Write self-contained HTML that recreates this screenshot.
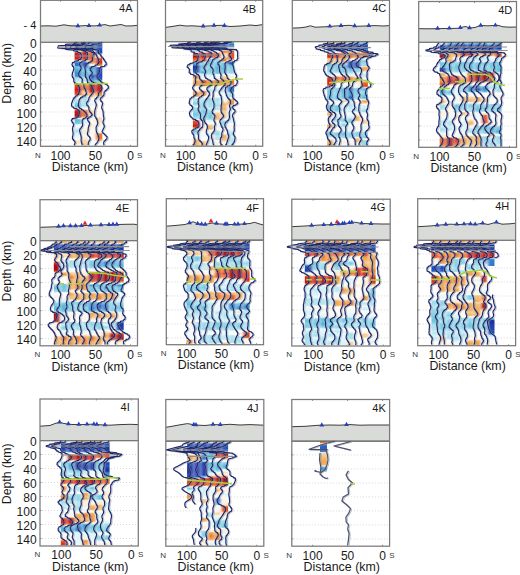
<!DOCTYPE html>
<html><head><meta charset="utf-8"><style>
html,body{margin:0;padding:0;background:#fff;}
svg{display:block;}
text{font-family:"Liberation Sans", sans-serif;fill:#1a1a1a;}
.ns{fill:#3a3a3a}
.wu{fill:none;stroke:#c3cdf0;stroke-width:18;stroke-linejoin:round;opacity:.4}
.wg{fill:none;stroke:#7d8296;stroke-width:7;opacity:.7}
.wl{fill:none;stroke:#1f2866;stroke-width:11.5;stroke-linejoin:round}
</style></head><body>
<svg width="520" height="575" viewBox="0 0 520 575">
<defs>
<filter id="hb" x="-10%" y="-2%" width="120%" height="104%"><feGaussianBlur stdDeviation="1.0 0.7"/></filter>
<linearGradient id="gp0_0" x1="0" y1="0" x2="0" y2="1"><stop offset=".000" stop-color="#fae4c0"/><stop offset=".007" stop-color="#f7d19b"/><stop offset=".013" stop-color="#fceed8"/><stop offset=".020" stop-color="#a4ddeb"/><stop offset=".027" stop-color="#3384d0"/><stop offset=".033" stop-color="#2b65c5"/><stop offset=".067" stop-color="#2b65c5"/><stop offset=".073" stop-color="#3788d1"/><stop offset=".080" stop-color="#9edbe9"/><stop offset=".087" stop-color="#fcfefe"/><stop offset=".093" stop-color="#f3b365"/><stop offset=".100" stop-color="#e84f24"/><stop offset=".107" stop-color="#dc231e"/><stop offset=".120" stop-color="#c81c1a"/><stop offset=".127" stop-color="#a81015"/><stop offset=".140" stop-color="#ae1216"/><stop offset=".147" stop-color="#d21f1c"/><stop offset=".160" stop-color="#dc231e"/><stop offset=".167" stop-color="#e84f24"/><stop offset=".173" stop-color="#f4bb71"/><stop offset=".180" stop-color="#f9fdfe"/><stop offset=".187" stop-color="#aae0ed"/><stop offset=".193" stop-color="#4da6d7"/><stop offset=".200" stop-color="#2f77cc"/><stop offset=".220" stop-color="#2d6fc9"/><stop offset=".227" stop-color="#3586d1"/><stop offset=".233" stop-color="#5fbcdb"/><stop offset=".240" stop-color="#76cae0"/><stop offset=".267" stop-color="#55afd8"/><stop offset=".300" stop-color="#3a8dd2"/><stop offset=".327" stop-color="#3d90d3"/><stop offset=".333" stop-color="#63c2dc"/><stop offset=".340" stop-color="#9bdae9"/><stop offset=".360" stop-color="#bfe9f2"/><stop offset=".380" stop-color="#c9edf5"/><stop offset=".387" stop-color="#e1f5f9"/><stop offset=".393" stop-color="#fcebd1"/><stop offset=".400" stop-color="#f0963e"/><stop offset=".407" stop-color="#e54723"/><stop offset=".433" stop-color="#e03120"/><stop offset=".447" stop-color="#da221e"/><stop offset=".453" stop-color="#c41a1a"/><stop offset=".473" stop-color="#e03120"/><stop offset=".493" stop-color="#e33d21"/><stop offset=".500" stop-color="#ec6328"/><stop offset=".507" stop-color="#f3b76b"/><stop offset=".513" stop-color="#fae4c0"/><stop offset=".520" stop-color="#fef8ef"/><stop offset=".547" stop-color="#c5ebf4"/><stop offset=".573" stop-color="#abe0ed"/><stop offset=".587" stop-color="#86d0e3"/><stop offset=".613" stop-color="#66c4dd"/><stop offset=".620" stop-color="#7dcde2"/><stop offset=".627" stop-color="#b8e6f0"/><stop offset=".633" stop-color="#fcecd3"/><stop offset=".640" stop-color="#f2ad5a"/><stop offset=".647" stop-color="#e85124"/><stop offset=".660" stop-color="#d4201d"/><stop offset=".667" stop-color="#b61517"/><stop offset=".700" stop-color="#b01316"/><stop offset=".713" stop-color="#cf1e1c"/><stop offset=".720" stop-color="#ed6f2d"/><stop offset=".727" stop-color="#ebf8fb"/><stop offset=".733" stop-color="#82cfe3"/><stop offset=".747" stop-color="#61bfdb"/><stop offset=".773" stop-color="#76cae0"/><stop offset=".780" stop-color="#9edbea"/><stop offset=".787" stop-color="#e2f5f9"/><stop offset=".800" stop-color="#fcfefe"/><stop offset=".820" stop-color="#dbf3f8"/><stop offset=".847" stop-color="#abe0ed"/><stop offset=".873" stop-color="#d9f2f8"/><stop offset=".920" stop-color="#f3fbfd"/><stop offset=".927" stop-color="#fffefd"/><stop offset=".940" stop-color="#fae5c2"/><stop offset=".960" stop-color="#fae4c1"/><stop offset=".987" stop-color="#f4fbfd"/><stop offset="1" stop-color="#dbf3f8"/></linearGradient>
<linearGradient id="gp0_1" x1="0" y1="0" x2="0" y2="1"><stop offset=".000" stop-color="#f9ddb1"/><stop offset=".007" stop-color="#f8d8a8"/><stop offset=".013" stop-color="#fbe9cb"/><stop offset=".020" stop-color="#b7e5f0"/><stop offset=".027" stop-color="#3384d0"/><stop offset=".033" stop-color="#2b65c5"/><stop offset=".067" stop-color="#2d6dc8"/><stop offset=".073" stop-color="#469bd5"/><stop offset=".080" stop-color="#aae0ec"/><stop offset=".087" stop-color="#fef7ed"/><stop offset=".093" stop-color="#f1a44b"/><stop offset=".100" stop-color="#d6211d"/><stop offset=".107" stop-color="#a50f14"/><stop offset=".120" stop-color="#d21f1c"/><stop offset=".160" stop-color="#dc231e"/><stop offset=".167" stop-color="#e84f24"/><stop offset=".173" stop-color="#f2b261"/><stop offset=".180" stop-color="#feffff"/><stop offset=".187" stop-color="#aee1ee"/><stop offset=".193" stop-color="#3e91d3"/><stop offset=".200" stop-color="#254ebc"/><stop offset=".220" stop-color="#2141b2"/><stop offset=".247" stop-color="#53add8"/><stop offset=".260" stop-color="#70c8df"/><stop offset=".280" stop-color="#6bc6de"/><stop offset=".293" stop-color="#53acd8"/><stop offset=".327" stop-color="#5bb8da"/><stop offset=".340" stop-color="#a9dfec"/><stop offset=".373" stop-color="#c5ebf4"/><stop offset=".387" stop-color="#f8fdfe"/><stop offset=".407" stop-color="#f1a64e"/><stop offset=".427" stop-color="#ed6e2d"/><stop offset=".447" stop-color="#ec6227"/><stop offset=".453" stop-color="#ed742f"/><stop offset=".460" stop-color="#f1a953"/><stop offset=".480" stop-color="#f8d6a4"/><stop offset=".500" stop-color="#f3b86b"/><stop offset=".507" stop-color="#f3b76b"/><stop offset=".513" stop-color="#f8d9aa"/><stop offset=".520" stop-color="#dff4f9"/><stop offset=".527" stop-color="#a6deec"/><stop offset=".593" stop-color="#b3e4ef"/><stop offset=".600" stop-color="#a3ddeb"/><stop offset=".627" stop-color="#def4f9"/><stop offset=".633" stop-color="#fffefd"/><stop offset=".647" stop-color="#f6c788"/><stop offset=".653" stop-color="#ef913b"/><stop offset=".667" stop-color="#ec6629"/><stop offset=".700" stop-color="#ec6629"/><stop offset=".707" stop-color="#ee7d33"/><stop offset=".713" stop-color="#f3b465"/><stop offset=".720" stop-color="#fae1b9"/><stop offset=".727" stop-color="#fef7ec"/><stop offset=".740" stop-color="#e3f6fa"/><stop offset=".767" stop-color="#d5f1f7"/><stop offset=".787" stop-color="#eaf8fb"/><stop offset=".813" stop-color="#fefcf7"/><stop offset=".853" stop-color="#fbe8ca"/><stop offset=".873" stop-color="#fcecd3"/><stop offset=".893" stop-color="#fef9f1"/><stop offset=".927" stop-color="#fbeacf"/><stop offset=".933" stop-color="#f8d7a6"/><stop offset=".967" stop-color="#f7d19b"/><stop offset=".980" stop-color="#f6ca8e"/><stop offset=".987" stop-color="#f8d4a1"/><stop offset="1" stop-color="#fef9f0"/></linearGradient>
<linearGradient id="gp0_2" x1="0" y1="0" x2="0" y2="1"><stop offset=".000" stop-color="#68c5dd"/><stop offset=".007" stop-color="#3180cf"/><stop offset=".040" stop-color="#285bc1"/><stop offset=".053" stop-color="#1b339e"/><stop offset=".067" stop-color="#2142b3"/><stop offset=".073" stop-color="#3282d0"/><stop offset=".080" stop-color="#a7deec"/><stop offset=".087" stop-color="#e9f8fb"/><stop offset=".100" stop-color="#ef923c"/><stop offset=".107" stop-color="#ec5f26"/><stop offset=".153" stop-color="#e74d24"/><stop offset=".173" stop-color="#ee8536"/><stop offset=".187" stop-color="#ee8436"/><stop offset=".207" stop-color="#f6c98b"/><stop offset=".213" stop-color="#fcefd9"/><stop offset=".220" stop-color="#fffefd"/><stop offset=".233" stop-color="#74c9e0"/><stop offset=".240" stop-color="#3f93d3"/><stop offset=".287" stop-color="#62c0db"/><stop offset=".300" stop-color="#5fbcdb"/><stop offset=".307" stop-color="#4ea7d7"/><stop offset=".320" stop-color="#2141b1"/><stop offset=".333" stop-color="#2347b9"/><stop offset=".340" stop-color="#2d6ec8"/><stop offset=".380" stop-color="#58b3d9"/><stop offset=".387" stop-color="#7ecde2"/><stop offset=".393" stop-color="#cfeff6"/><stop offset=".400" stop-color="#f09e41"/><stop offset=".407" stop-color="#d9221d"/><stop offset=".413" stop-color="#ae1216"/><stop offset=".467" stop-color="#a50f14"/><stop offset=".480" stop-color="#e03320"/><stop offset=".487" stop-color="#ee7f34"/><stop offset=".493" stop-color="#f4bb71"/><stop offset=".500" stop-color="#f6cc92"/><stop offset=".520" stop-color="#f8d7a6"/><stop offset=".533" stop-color="#fdf3e4"/><stop offset=".573" stop-color="#f3fbfd"/><stop offset=".593" stop-color="#e1f5f9"/><stop offset=".620" stop-color="#fefaf3"/><stop offset=".640" stop-color="#fefcf7"/><stop offset=".660" stop-color="#f8d4a1"/><stop offset=".693" stop-color="#f7d29e"/><stop offset=".707" stop-color="#fffdfb"/><stop offset=".727" stop-color="#e8f7fb"/><stop offset=".767" stop-color="#fefaf4"/><stop offset=".793" stop-color="#fcecd4"/><stop offset=".833" stop-color="#fdf5e8"/><stop offset=".947" stop-color="#fefcf8"/><stop offset=".993" stop-color="#eef9fc"/><stop offset="1" stop-color="#f4fbfd"/></linearGradient>
<linearGradient id="gp0_3" x1="0" y1="0" x2="0" y2="1"><stop offset=".000" stop-color="#a9dfec"/><stop offset=".007" stop-color="#4297d4"/><stop offset=".020" stop-color="#2c69c7"/><stop offset=".060" stop-color="#2754bf"/><stop offset=".087" stop-color="#2345b8"/><stop offset=".100" stop-color="#254fbc"/><stop offset=".107" stop-color="#2b68c6"/><stop offset=".113" stop-color="#6fc8df"/><stop offset=".120" stop-color="#dcf3f8"/><stop offset=".127" stop-color="#fefaf4"/><stop offset=".140" stop-color="#fcedd5"/><stop offset=".147" stop-color="#f8d4a1"/><stop offset=".153" stop-color="#f1a54d"/><stop offset=".160" stop-color="#e54623"/><stop offset=".180" stop-color="#e23b21"/><stop offset=".193" stop-color="#c71b1a"/><stop offset=".200" stop-color="#de2b1f"/><stop offset=".207" stop-color="#e95525"/><stop offset=".220" stop-color="#ee7b32"/><stop offset=".227" stop-color="#f3b76a"/><stop offset=".233" stop-color="#eef9fc"/><stop offset=".240" stop-color="#3f93d3"/><stop offset=".247" stop-color="#2859c0"/><stop offset=".320" stop-color="#2244b6"/><stop offset=".353" stop-color="#295fc3"/><stop offset=".360" stop-color="#317dce"/><stop offset=".367" stop-color="#5dbada"/><stop offset=".387" stop-color="#9ad9e8"/><stop offset=".393" stop-color="#ecf9fb"/><stop offset=".400" stop-color="#f2ac59"/><stop offset=".407" stop-color="#e64723"/><stop offset=".413" stop-color="#d9221d"/><stop offset=".447" stop-color="#c01919"/><stop offset=".460" stop-color="#cc1d1b"/><stop offset=".480" stop-color="#ed722e"/><stop offset=".507" stop-color="#f1a751"/><stop offset=".513" stop-color="#f5c584"/><stop offset=".520" stop-color="#fcebd0"/><stop offset=".527" stop-color="#fefcf7"/><stop offset=".553" stop-color="#d8f2f7"/><stop offset=".580" stop-color="#fefcf8"/><stop offset=".600" stop-color="#fef7ed"/><stop offset=".633" stop-color="#fffcf8"/><stop offset=".660" stop-color="#fef7ec"/><stop offset=".707" stop-color="#fffefc"/><stop offset=".727" stop-color="#f9dbae"/><stop offset=".753" stop-color="#f9ddb2"/><stop offset=".773" stop-color="#fceed9"/><stop offset=".833" stop-color="#f4fbfd"/><stop offset=".853" stop-color="#ebf8fb"/><stop offset=".860" stop-color="#fafdfe"/><stop offset=".873" stop-color="#f1a44a"/><stop offset=".880" stop-color="#ee7d33"/><stop offset=".907" stop-color="#ed712e"/><stop offset=".933" stop-color="#f2af5e"/><stop offset=".947" stop-color="#fbe9cd"/><stop offset=".960" stop-color="#fefbf6"/><stop offset="1" stop-color="#fffefc"/></linearGradient>
<clipPath id="cpp0"><rect x="74.6" y="42.5" width="27.7" height="103.7"/></clipPath>
<path id="wp0" transform="scale(0.1)" d="M771 424l-28 6 0 8-88 6 0 8-72 6 0 8-5 6 0 8 81 6 0 8 77 6 0 8 40 6 0 8 27 6 0 8 10 6 0 8 4 6 0 8-2 6 0 8-8 6 0 8-23 6 0 8-37 6 0 8-22 6 0 8-5 6 0 8 5 6 0 8 10 6 0 8 4 6 0 8-3 6 0 8-5 6 0 8-6 6 0 8-2 6 0 8-2 6 0 7 5 7 0 8 9 6 0 8 3 6 0 8 0 6 0 8 6 6 0 7 22 7 0 8 15 6 0 8 9 6 0 8 6 6 0 8 2 6 0 7-4 7 0 8-4 6 0 8-4 6 0 8-14 6 0 8-18 6 0 7-13 7 0 8-9 6 0 8-6 6 0 8-5 6 0 8-5 6 0 8-1 6 0 8 4 6 0 8 19 6 0 8 31 6 0 8 19 6 0 8 6 6 0 8-2 6 0 8-4 6 0 8-6 6 0 8-20 6 0 8-39 6 0 8-9 6 0 8 7 6 0 8 9 6 0 8 7 6 0 8-3 6 0 8-7 6 0 8-2 6 0 7 1 7 0 8 2 6 0 8 3 6 0 8-1 6 0 8-2 6 0 7-3 7 0 8 0 6 0 8 10 6 0 8 12 6 0 8 4 6 0 7-5 7 0 8-7 6M845 424l-29 6 0 8-88 6 0 8-71 6 0 8 1 6 0 8 86 6 0 8 77 6 0 8 36 6 0 8 17 6 0 8 0 6 0 8-1 6 0 8 0 6 0 8-2 6 0 8-17 6 0 8-34 6 0 8-21 6 0 8-3 6 0 8 5 6 0 8 9 6 0 8 1 6 0 8-6 6 0 8-9 6 0 8-7 6 0 8-2 6 0 8 1 6 0 7 12 7 0 8 18 6 0 8 6 6 0 8-3 6 0 8 0 6 0 7 12 7 0 8 6 6 0 8 0 6 0 8 5 6 0 8 9 6 0 7 5 7 0 8 4 6 0 8 2 6 0 8-10 6 0 8-27 6 0 7-21 7 0 8-11 6 0 8-4 6 0 8-3 6 0 8-3 6 0 8-2 6 0 8 1 6 0 8 10 6 0 8 21 6 0 8 20 6 0 8 15 6 0 8 12 6 0 8 7 6 0 8 2 6 0 8-14 6 0 8-25 6 0 8-9 6 0 8-1 6 0 8 1 6 0 8 3 6 0 8-3 6 0 8-9 6 0 8-12 6 0 7-6 7 0 8 1 6 0 8 5 6 0 8 3 6 0 8 4 6 0 7 3 7 0 8 0 6 0 8-1 6 0 8 2 6 0 8 3 6 0 7 5 7 0 8 2 6M856 424l-18 6 0 8-65 6 0 8-63 6 0 8-7 6 0 8 79 6 0 8 83 6 0 8 46 6 0 8 28 6 0 8 0 6 0 8-10 6 0 8-6 6 0 8 2 6 0 8-2 6 0 8-15 6 0 8-25 6 0 8-19 6 0 8-11 6 0 8-4 6 0 8 1 6 0 8 3 6 0 8 1 6 0 8 1 6 0 8-1 6 0 8-2 6 0 7 4 7 0 8 10 6 0 8 6 6 0 8 1 6 0 8 3 6 0 7 20 7 0 8 16 6 0 8 7 6 0 8 6 6 0 8 6 6 0 7 4 7 0 8-4 6 0 8-11 6 0 8-10 6 0 8-12 6 0 7-8 7 0 8-2 6 0 8-7 6 0 8-10 6 0 8-6 6 0 8 5 6 0 8 12 6 0 8 7 6 0 8 0 6 0 8 4 6 0 8 8 6 0 8 12 6 0 8 8 6 0 8-11 6 0 8-22 6 0 8-14 6 0 8 4 6 0 8 11 6 0 8 7 6 0 8-2 6 0 8-6 6 0 8-4 6 0 8-2 6 0 7-1 7 0 8-2 6 0 8-4 6 0 8-1 6 0 8 9 6 0 7 13 7 0 8 7 6 0 8-4 6 0 8-9 6 0 8-6 6 0 7-2 7 0 8-1 6M905 424l-22 6 0 8-58 6 0 8-57 6 0 8 2 6 0 8 85 6 0 8 67 6 0 8 12 6 0 8 14 6 0 8 14 6 0 8 6 6 0 8 5 6 0 8 8 6 0 8 5 6 0 8 4 6 0 8-4 6 0 8-12 6 0 8-24 6 0 8-34 6 0 8-15 6 0 8 2 6 0 8 11 6 0 8 9 6 0 8-4 6 0 8-16 6 0 7-9 7 0 8 1 6 0 8 9 6 0 8 11 6 0 8 21 6 0 7 43 7 0 8 28 6 0 8 9 6 0 8 4 6 0 8-4 6 0 7-13 7 0 8-13 6 0 8-6 6 0 8 0 6 0 8-5 6 0 7-14 7 0 8-14 6 0 8-4 6 0 8 6 6 0 8 7 6 0 8 3 6 0 8-3 6 0 8-3 6 0 8-5 6 0 8-3 6 0 8-2 6 0 8 0 6 0 8 0 6 0 8 2 6 0 8 8 6 0 8 9 6 0 8 6 6 0 8 3 6 0 8 2 6 0 8-3 6 0 8-7 6 0 8-6 6 0 8 0 6 0 7 1 7 0 8 2 6 0 8 6 6 0 8 7 6 0 8 5 6 0 7 5 7 0 8 2 6 0 8-3 6 0 8-7 6 0 8-9 6 0 7-12 7 0 8-12 6M1021 424l-31 6 0 8-67 6 0 8-65 6 0 8-5 6 0 8 76 6 0 8 54 6 0 8-1 6 0 8 5 6 0 8 15 6 0 8 9 6 0 8 9 6 0 8 15 6 0 8 7 6 0 8 10 6 0 8 9 6 0 8 2 6 0 8-16 6 0 8-40 6 0 8-15 6 0 8 1 6 0 8 1 6 0 8-4 6 0 8-10 6 0 8-10 6 0 7 1 7 0 8 9 6 0 8 13 6 0 8 13 6 0 8 14 6 0 7 33 7 0 8 23 6 0 8 8 6 0 8-2 6 0 8-13 6 0 7-17 7 0 8-11 6 0 8 0 6 0 8-3 6 0 8-15 6 0 7-14 7 0 8-6 6 0 8 6 6 0 8 11 6 0 8 6 6 0 8-3 6 0 8-5 6 0 8-1 6 0 8 5 6 0 8 6 6 0 8 3 6 0 8 1 6 0 8 1 6 0 8 2 6 0 8 3 6 0 8 1 6 0 8-4 6 0 8-5 6 0 8 1 6 0 8 7 6 0 8 5 6 0 8-2 6 0 8-7 6 0 7-7 7 0 8-5 6 0 8 8 6 0 8 16 6 0 8 14 6 0 7 10 7 0 8-1 6 0 8-12 6 0 8-15 6 0 8-6 6 0 7 2 7 0 8 3 6"/>
<linearGradient id="gp1_0" x1="0" y1="0" x2="0" y2="1"><stop offset=".000" stop-color="#c4ebf4"/><stop offset=".007" stop-color="#a7deec"/><stop offset=".027" stop-color="#bbe7f1"/><stop offset=".040" stop-color="#f8fdfe"/><stop offset=".047" stop-color="#fdf2e0"/><stop offset=".067" stop-color="#fef7ec"/><stop offset=".073" stop-color="#fdfeff"/><stop offset=".087" stop-color="#afe2ee"/><stop offset=".093" stop-color="#b0e2ee"/><stop offset=".100" stop-color="#dcf3f8"/><stop offset=".107" stop-color="#f5c685"/><stop offset=".113" stop-color="#e03220"/><stop offset=".120" stop-color="#a81015"/><stop offset=".140" stop-color="#a50f14"/><stop offset=".153" stop-color="#de2b1f"/><stop offset=".167" stop-color="#ec6227"/><stop offset=".187" stop-color="#ef8b39"/><stop offset=".193" stop-color="#f9dcb0"/><stop offset=".200" stop-color="#a2dcea"/><stop offset=".207" stop-color="#61bfdb"/><stop offset=".227" stop-color="#3079cd"/><stop offset=".233" stop-color="#2243b5"/><stop offset=".240" stop-color="#1b319c"/><stop offset=".273" stop-color="#244bbb"/><stop offset=".287" stop-color="#2b65c5"/><stop offset=".300" stop-color="#63c2dc"/><stop offset=".307" stop-color="#97d8e8"/><stop offset=".313" stop-color="#fef9f1"/><stop offset=".320" stop-color="#f3b96e"/><stop offset=".327" stop-color="#ef923c"/><stop offset=".340" stop-color="#ef8f3b"/><stop offset=".347" stop-color="#f09f43"/><stop offset=".360" stop-color="#f8d4a1"/><stop offset=".380" stop-color="#f2ab57"/><stop offset=".407" stop-color="#f09d41"/><stop offset=".413" stop-color="#f1a44c"/><stop offset=".420" stop-color="#f4bc73"/><stop offset=".427" stop-color="#fcecd3"/><stop offset=".433" stop-color="#fffffe"/><stop offset=".460" stop-color="#fef9f1"/><stop offset=".473" stop-color="#fae2bd"/><stop offset=".487" stop-color="#f1a44b"/><stop offset=".507" stop-color="#ef8938"/><stop offset=".520" stop-color="#f2ad5b"/><stop offset=".533" stop-color="#fffdf9"/><stop offset=".540" stop-color="#c8edf4"/><stop offset=".547" stop-color="#afe2ee"/><stop offset=".567" stop-color="#b8e6f0"/><stop offset=".587" stop-color="#85d0e3"/><stop offset=".607" stop-color="#b5e5f0"/><stop offset=".613" stop-color="#e6f7fa"/><stop offset=".620" stop-color="#dff4f9"/><stop offset=".627" stop-color="#b7e6f0"/><stop offset=".693" stop-color="#70c8df"/><stop offset=".733" stop-color="#b1e3ef"/><stop offset=".740" stop-color="#f0fafc"/><stop offset=".747" stop-color="#f8d7a7"/><stop offset=".753" stop-color="#ed7630"/><stop offset=".760" stop-color="#e74d24"/><stop offset=".787" stop-color="#e03320"/><stop offset=".800" stop-color="#c51b1a"/><stop offset=".813" stop-color="#e33d21"/><stop offset=".820" stop-color="#ef8938"/><stop offset=".827" stop-color="#f8d9aa"/><stop offset=".833" stop-color="#fffefc"/><stop offset=".847" stop-color="#90d5e6"/><stop offset=".853" stop-color="#6fc8df"/><stop offset=".880" stop-color="#b8e6f0"/><stop offset=".893" stop-color="#f4fbfd"/><stop offset=".920" stop-color="#f7fcfe"/><stop offset=".927" stop-color="#fdf4e6"/><stop offset=".933" stop-color="#f7d29e"/><stop offset=".947" stop-color="#f4bb72"/><stop offset=".987" stop-color="#f3b76a"/><stop offset="1" stop-color="#fbeacf"/></linearGradient>
<linearGradient id="gp1_1" x1="0" y1="0" x2="0" y2="1"><stop offset=".000" stop-color="#fbe8c9"/><stop offset=".007" stop-color="#f8d7a7"/><stop offset=".013" stop-color="#fcebd1"/><stop offset=".020" stop-color="#8bd3e5"/><stop offset=".027" stop-color="#2d6ec8"/><stop offset=".040" stop-color="#254cbb"/><stop offset=".073" stop-color="#2347b9"/><stop offset=".080" stop-color="#3e92d3"/><stop offset=".087" stop-color="#a0dcea"/><stop offset=".093" stop-color="#dcf3f8"/><stop offset=".100" stop-color="#fef8ef"/><stop offset=".107" stop-color="#f1a349"/><stop offset=".113" stop-color="#da221e"/><stop offset=".120" stop-color="#ac1115"/><stop offset=".140" stop-color="#a81015"/><stop offset=".153" stop-color="#dc251e"/><stop offset=".160" stop-color="#e74e24"/><stop offset=".173" stop-color="#e95324"/><stop offset=".180" stop-color="#e74d24"/><stop offset=".187" stop-color="#ec6529"/><stop offset=".193" stop-color="#fae0b8"/><stop offset=".200" stop-color="#b5e5f0"/><stop offset=".207" stop-color="#93d6e6"/><stop offset=".233" stop-color="#70c8df"/><stop offset=".240" stop-color="#60bddb"/><stop offset=".267" stop-color="#88d1e4"/><stop offset=".287" stop-color="#5ab6da"/><stop offset=".293" stop-color="#4ba2d6"/><stop offset=".300" stop-color="#67c4dd"/><stop offset=".313" stop-color="#c8edf4"/><stop offset=".327" stop-color="#e4f6fa"/><stop offset=".353" stop-color="#effafc"/><stop offset=".360" stop-color="#fcf0db"/><stop offset=".367" stop-color="#f0973e"/><stop offset=".373" stop-color="#e33d22"/><stop offset=".387" stop-color="#da221e"/><stop offset=".413" stop-color="#e03320"/><stop offset=".420" stop-color="#ed6f2d"/><stop offset=".427" stop-color="#f9ddb3"/><stop offset=".433" stop-color="#fef8ef"/><stop offset=".453" stop-color="#f6fcfd"/><stop offset=".460" stop-color="#fefbf5"/><stop offset=".467" stop-color="#f8d9aa"/><stop offset=".473" stop-color="#f09d40"/><stop offset=".480" stop-color="#ec6528"/><stop offset=".507" stop-color="#f1a852"/><stop offset=".513" stop-color="#f4c07b"/><stop offset=".520" stop-color="#fdf4e6"/><stop offset=".527" stop-color="#f0fafc"/><stop offset=".553" stop-color="#b5e5ef"/><stop offset=".593" stop-color="#93d6e6"/><stop offset=".647" stop-color="#95d7e7"/><stop offset=".667" stop-color="#71c8df"/><stop offset=".700" stop-color="#9ddae9"/><stop offset=".740" stop-color="#82cfe3"/><stop offset=".747" stop-color="#a9dfec"/><stop offset=".753" stop-color="#fffffe"/><stop offset=".767" stop-color="#fefcf7"/><stop offset=".813" stop-color="#fefaf3"/><stop offset=".847" stop-color="#fcefd9"/><stop offset=".867" stop-color="#f6fcfd"/><stop offset=".887" stop-color="#e8f7fb"/><stop offset=".933" stop-color="#fdfeff"/><stop offset=".940" stop-color="#fef8ee"/><stop offset=".953" stop-color="#f6c98c"/><stop offset=".967" stop-color="#f5c481"/><stop offset=".987" stop-color="#f4bd74"/><stop offset="1" stop-color="#fbe8cb"/></linearGradient>
<linearGradient id="gp1_2" x1="0" y1="0" x2="0" y2="1"><stop offset=".000" stop-color="#fdf3e2"/><stop offset=".007" stop-color="#f7d29e"/><stop offset=".013" stop-color="#fef7ec"/><stop offset=".020" stop-color="#80cee2"/><stop offset=".027" stop-color="#2d6ec8"/><stop offset=".040" stop-color="#254cbb"/><stop offset=".067" stop-color="#2653be"/><stop offset=".073" stop-color="#2d6fc9"/><stop offset=".080" stop-color="#7dcde1"/><stop offset=".087" stop-color="#f3fbfd"/><stop offset=".100" stop-color="#f8d5a2"/><stop offset=".107" stop-color="#f0993f"/><stop offset=".113" stop-color="#df2e1f"/><stop offset=".140" stop-color="#cf1e1c"/><stop offset=".147" stop-color="#de2a1f"/><stop offset=".153" stop-color="#ef8e3a"/><stop offset=".160" stop-color="#fcf0dd"/><stop offset=".167" stop-color="#b1e3ee"/><stop offset=".180" stop-color="#89d2e4"/><stop offset=".213" stop-color="#6dc7de"/><stop offset=".240" stop-color="#92d5e6"/><stop offset=".273" stop-color="#79cbe1"/><stop offset=".307" stop-color="#a2ddeb"/><stop offset=".320" stop-color="#d9f2f8"/><stop offset=".353" stop-color="#edf9fc"/><stop offset=".360" stop-color="#fef9f1"/><stop offset=".367" stop-color="#f6c889"/><stop offset=".373" stop-color="#f0a147"/><stop offset=".400" stop-color="#ed712e"/><stop offset=".413" stop-color="#ee8235"/><stop offset=".420" stop-color="#f3b263"/><stop offset=".427" stop-color="#fae4c0"/><stop offset=".433" stop-color="#f0fafc"/><stop offset=".460" stop-color="#bce8f1"/><stop offset=".473" stop-color="#c1eaf3"/><stop offset=".493" stop-color="#f5fcfd"/><stop offset=".527" stop-color="#fdf5e7"/><stop offset=".533" stop-color="#f0fafc"/><stop offset=".540" stop-color="#b7e6f0"/><stop offset=".553" stop-color="#9ddae9"/><stop offset=".613" stop-color="#a4ddeb"/><stop offset=".640" stop-color="#c9edf5"/><stop offset=".680" stop-color="#81cee2"/><stop offset=".720" stop-color="#6dc7de"/><stop offset=".740" stop-color="#9ddae9"/><stop offset=".753" stop-color="#e2f5f9"/><stop offset=".780" stop-color="#f6fcfd"/><stop offset=".787" stop-color="#fdf2e1"/><stop offset=".793" stop-color="#f7cf97"/><stop offset=".827" stop-color="#f3b566"/><stop offset=".833" stop-color="#f4c07a"/><stop offset=".847" stop-color="#fffefd"/><stop offset=".860" stop-color="#d8f2f7"/><stop offset=".907" stop-color="#fef9f1"/><stop offset=".927" stop-color="#fcebd2"/><stop offset=".947" stop-color="#f4fbfd"/><stop offset=".960" stop-color="#d5f1f7"/><stop offset="1" stop-color="#eef9fc"/></linearGradient>
<linearGradient id="gp1_3" x1="0" y1="0" x2="0" y2="1"><stop offset=".000" stop-color="#effafc"/><stop offset=".007" stop-color="#dff4f9"/><stop offset=".013" stop-color="#a5deeb"/><stop offset=".020" stop-color="#317ece"/><stop offset=".027" stop-color="#1f3dac"/><stop offset=".067" stop-color="#2653be"/><stop offset=".073" stop-color="#2d6fc9"/><stop offset=".080" stop-color="#88d1e4"/><stop offset=".087" stop-color="#ddf4f9"/><stop offset=".093" stop-color="#fafdfe"/><stop offset=".100" stop-color="#fdf6ea"/><stop offset=".113" stop-color="#ef943d"/><stop offset=".120" stop-color="#ec5f26"/><stop offset=".133" stop-color="#e33c21"/><stop offset=".147" stop-color="#ed742f"/><stop offset=".153" stop-color="#f4c07a"/><stop offset=".160" stop-color="#d3f0f6"/><stop offset=".167" stop-color="#a5deeb"/><stop offset=".193" stop-color="#95d7e7"/><stop offset=".247" stop-color="#59b4d9"/><stop offset=".300" stop-color="#69c5dd"/><stop offset=".307" stop-color="#8dd3e5"/><stop offset=".313" stop-color="#dff4f9"/><stop offset=".320" stop-color="#f7fcfe"/><stop offset=".347" stop-color="#e6f7fa"/><stop offset=".360" stop-color="#fdf5e9"/><stop offset=".367" stop-color="#f3b263"/><stop offset=".373" stop-color="#ed732f"/><stop offset=".387" stop-color="#ec6127"/><stop offset=".413" stop-color="#ee8235"/><stop offset=".420" stop-color="#f3b465"/><stop offset=".427" stop-color="#fbe8cb"/><stop offset=".433" stop-color="#f0fafc"/><stop offset=".473" stop-color="#c7ecf4"/><stop offset=".487" stop-color="#fcfefe"/><stop offset=".507" stop-color="#fdf4e5"/><stop offset=".527" stop-color="#f8fdfe"/><stop offset=".540" stop-color="#aee2ee"/><stop offset=".567" stop-color="#a7deec"/><stop offset=".580" stop-color="#b8e6f0"/><stop offset=".613" stop-color="#9fdbea"/><stop offset=".620" stop-color="#b9e6f0"/><stop offset=".647" stop-color="#b8e6f0"/><stop offset=".660" stop-color="#fefcf7"/><stop offset=".693" stop-color="#f5c380"/><stop offset=".733" stop-color="#f4ba70"/><stop offset=".740" stop-color="#f5c685"/><stop offset=".753" stop-color="#fdf1df"/><stop offset=".780" stop-color="#fef7ed"/><stop offset=".807" stop-color="#e0f5f9"/><stop offset=".833" stop-color="#fefaf4"/><stop offset=".840" stop-color="#feffff"/><stop offset=".853" stop-color="#afe2ee"/><stop offset=".880" stop-color="#92d5e6"/><stop offset=".900" stop-color="#b8e6f0"/><stop offset=".933" stop-color="#b1e3ef"/><stop offset=".940" stop-color="#f9fdfe"/><stop offset=".960" stop-color="#fcf0dd"/><stop offset="1" stop-color="#fbeacf"/></linearGradient>
<linearGradient id="gp1_4" x1="0" y1="0" x2="0" y2="1"><stop offset=".000" stop-color="#e4f6fa"/><stop offset=".013" stop-color="#b2e3ef"/><stop offset=".020" stop-color="#54aed8"/><stop offset=".027" stop-color="#2a63c4"/><stop offset=".047" stop-color="#244bbb"/><stop offset=".067" stop-color="#2858c0"/><stop offset=".073" stop-color="#388ad2"/><stop offset=".080" stop-color="#f5fcfd"/><stop offset=".087" stop-color="#f4ba6f"/><stop offset=".093" stop-color="#ee8034"/><stop offset=".100" stop-color="#ee8034"/><stop offset=".107" stop-color="#f2ab56"/><stop offset=".113" stop-color="#f7d39f"/><stop offset=".120" stop-color="#fbe6c5"/><stop offset=".147" stop-color="#fbead0"/><stop offset=".160" stop-color="#f09f42"/><stop offset=".167" stop-color="#ee7f34"/><stop offset=".180" stop-color="#ee7d33"/><stop offset=".187" stop-color="#f0a045"/><stop offset=".193" stop-color="#fbe7c8"/><stop offset=".200" stop-color="#97d7e7"/><stop offset=".207" stop-color="#67c4dd"/><stop offset=".260" stop-color="#5cb8da"/><stop offset=".300" stop-color="#81cfe3"/><stop offset=".313" stop-color="#ebf8fb"/><stop offset=".320" stop-color="#fef9f2"/><stop offset=".333" stop-color="#f8d7a6"/><stop offset=".360" stop-color="#f3b76a"/><stop offset=".367" stop-color="#ef923c"/><stop offset=".373" stop-color="#ed6729"/><stop offset=".400" stop-color="#ef8a38"/><stop offset=".413" stop-color="#f09e41"/><stop offset=".420" stop-color="#f4c17b"/><stop offset=".427" stop-color="#fef7ee"/><stop offset=".433" stop-color="#d2f0f6"/><stop offset=".473" stop-color="#c6ecf4"/><stop offset=".500" stop-color="#f5fcfd"/><stop offset=".540" stop-color="#e6f7fa"/><stop offset=".560" stop-color="#fdf6ea"/><stop offset=".580" stop-color="#fae0b8"/><stop offset=".593" stop-color="#f3b363"/><stop offset=".620" stop-color="#f4bb71"/><stop offset=".647" stop-color="#f2b161"/><stop offset=".653" stop-color="#f3b96d"/><stop offset=".660" stop-color="#f7d09a"/><stop offset=".673" stop-color="#f5c685"/><stop offset=".680" stop-color="#f7d39e"/><stop offset=".720" stop-color="#f7cf98"/><stop offset=".740" stop-color="#f8fdfe"/><stop offset=".760" stop-color="#9fdbea"/><stop offset=".773" stop-color="#82cfe3"/><stop offset=".793" stop-color="#b1e3ee"/><stop offset=".807" stop-color="#b0e2ee"/><stop offset=".827" stop-color="#fffcf9"/><stop offset=".833" stop-color="#fcefdb"/><stop offset=".873" stop-color="#fefbf6"/><stop offset=".880" stop-color="#fdf1df"/><stop offset=".893" stop-color="#f4bb72"/><stop offset=".900" stop-color="#f2ab56"/><stop offset=".940" stop-color="#f5c584"/><stop offset=".953" stop-color="#fdf2e1"/><stop offset="1" stop-color="#f2fbfd"/></linearGradient>
<linearGradient id="gp1_5" x1="0" y1="0" x2="0" y2="1"><stop offset=".000" stop-color="#c0eaf3"/><stop offset=".013" stop-color="#60bedb"/><stop offset=".027" stop-color="#2e73ca"/><stop offset=".053" stop-color="#7dcde1"/><stop offset=".060" stop-color="#d8f2f7"/><stop offset=".067" stop-color="#fdf4e5"/><stop offset=".080" stop-color="#f7d099"/><stop offset=".087" stop-color="#ef943d"/><stop offset=".093" stop-color="#ed702d"/><stop offset=".120" stop-color="#e84f24"/><stop offset=".153" stop-color="#ea5625"/><stop offset=".167" stop-color="#ef903b"/><stop offset=".173" stop-color="#f4bb71"/><stop offset=".180" stop-color="#fefcf7"/><stop offset=".193" stop-color="#61bfdb"/><stop offset=".200" stop-color="#2756bf"/><stop offset=".207" stop-color="#2345b8"/><stop offset=".213" stop-color="#2d6fc9"/><stop offset=".220" stop-color="#57b3d9"/><stop offset=".240" stop-color="#7dcde1"/><stop offset=".293" stop-color="#92d5e6"/><stop offset=".300" stop-color="#9ddae9"/><stop offset=".313" stop-color="#f2fbfd"/><stop offset=".333" stop-color="#fcecd3"/><stop offset=".353" stop-color="#fef9f1"/><stop offset=".360" stop-color="#fcecd3"/><stop offset=".367" stop-color="#f2ae5c"/><stop offset=".373" stop-color="#ed6a2b"/><stop offset=".407" stop-color="#ef943d"/><stop offset=".413" stop-color="#f3b262"/><stop offset=".420" stop-color="#fffcf9"/><stop offset=".427" stop-color="#8dd3e5"/><stop offset=".433" stop-color="#317dce"/><stop offset=".453" stop-color="#2b66c5"/><stop offset=".473" stop-color="#307acd"/><stop offset=".480" stop-color="#61c0db"/><stop offset=".487" stop-color="#a7dfec"/><stop offset=".520" stop-color="#a3ddeb"/><stop offset=".540" stop-color="#fffffe"/><stop offset=".553" stop-color="#f3b364"/><stop offset=".567" stop-color="#f09f43"/><stop offset=".587" stop-color="#f0973e"/><stop offset=".593" stop-color="#f1a54d"/><stop offset=".600" stop-color="#f4be76"/><stop offset=".607" stop-color="#fef9f1"/><stop offset=".627" stop-color="#daf3f8"/><stop offset=".673" stop-color="#f2fbfc"/><stop offset=".727" stop-color="#e1f5f9"/><stop offset=".767" stop-color="#d6f1f7"/><stop offset=".787" stop-color="#feffff"/><stop offset=".800" stop-color="#fdf4e5"/><stop offset=".827" stop-color="#f1fafc"/><stop offset=".853" stop-color="#d0eff6"/><stop offset=".880" stop-color="#abe0ed"/><stop offset=".907" stop-color="#d7f2f7"/><stop offset=".933" stop-color="#b2e3ef"/><stop offset=".967" stop-color="#c6ecf4"/><stop offset=".993" stop-color="#c0e9f2"/><stop offset="1" stop-color="#d1f0f6"/></linearGradient>
<clipPath id="cpp1"><rect x="192.9" y="42.1" width="41.3" height="104.0"/></clipPath>
<path id="wp1" transform="scale(0.1)" d="M1911 420l-34 6 0 8-90 7 0 7-85 6 0 8 19 6 0 8 118 6 0 8 71 6 0 8 2 6 0 8 33 6 0 8 29 6 0 8 9 6 0 8-1 6 0 8-3 6 0 8-2 6 0 8-10 6 0 8-36 6 0 8-33 6 0 8-21 6 0 8-5 6 0 8 12 6 0 8 11 6 0 8-2 6 0 8-1 6 0 8 14 6 0 8 32 6 0 8 19 6 0 7 1 7 0 8-5 6 0 8 1 6 0 8 2 6 0 8-4 6 0 7-8 7 0 8-12 6 0 8-6 6 0 8 5 6 0 8 10 6 0 7 15 7 0 8 8 6 0 8-8 6 0 8-17 6 0 8-23 6 0 7-15 7 0 8-4 6 0 8-3 6 0 8-2 6 0 8 8 6 0 8 17 6 0 8 9 6 0 8-2 6 0 8-12 6 0 7-12 7 0 8-5 6 0 8 1 6 0 8 5 6 0 8 10 6 0 7 16 7 0 8 29 6 0 8 23 6 0 8 7 6 0 8 3 6 0 7 0 7 0 8-8 6 0 8-24 6 0 8-26 6 0 8-13 6 0 7 2 7 0 8 9 6 0 8 8 6 0 8 2 6 0 8 3 6 0 7 7 7 0 8 2 6 0 8-4 6 0 8-6 6 0 8-10 6 0 7M2008 420l-40 6 0 8-106 7 0 7-99 6 0 8 11 6 0 8 120 6 0 8 85 6 0 8 16 6 0 8 32 6 0 8 23 6 0 8 4 6 0 8-2 6 0 8-5 6 0 8-6 6 0 8-19 6 0 8-39 6 0 8-16 6 0 8 1 6 0 8 1 6 0 8-3 6 0 8-8 6 0 8-8 6 0 8 1 6 0 8 14 6 0 8 20 6 0 8 9 6 0 7 1 7 0 8 6 6 0 8 18 6 0 8 10 6 0 8 0 6 0 7-8 7 0 8-18 6 0 8-10 6 0 8 5 6 0 8 15 6 0 7 17 7 0 8 8 6 0 8-5 6 0 8-17 6 0 8-21 6 0 7-11 7 0 8-1 6 0 8-1 6 0 8 0 6 0 8 4 6 0 8 4 6 0 8-4 6 0 8-5 6 0 8 1 6 0 7 8 7 0 8 9 6 0 8 5 6 0 8 0 6 0 8 0 6 0 7-1 7 0 8 11 6 0 8 13 6 0 8 1 6 0 8 0 6 0 7 0 7 0 8-5 6 0 8-14 6 0 8-14 6 0 8-11 6 0 7-5 7 0 8 2 6 0 8 3 6 0 8 1 6 0 8-1 6 0 7 4 7 0 8 12 6 0 8 14 6 0 8 10 6 0 8-4 6 0 7M2088 420l-45 6 0 8-119 7 0 7-105 6 0 8 8 6 0 8 121 6 0 8 98 6 0 8 36 6 0 8 29 6 0 8 7 6 0 8-7 6 0 8-8 6 0 8-10 6 0 8-8 6 0 8-5 6 0 8-12 6 0 8-6 6 0 8-9 6 0 8-11 6 0 8-2 6 0 8 8 6 0 8 8 6 0 8-2 6 0 8-6 6 0 8-2 6 0 8 3 6 0 7 9 7 0 8 20 6 0 8 27 6 0 8 13 6 0 8 2 6 0 7-8 7 0 8-22 6 0 8-18 6 0 8-4 6 0 8 7 6 0 7 13 7 0 8 6 6 0 8-1 6 0 8-7 6 0 8-10 6 0 7-11 7 0 8-10 6 0 8-8 6 0 8-6 6 0 8-1 6 0 8 2 6 0 8 9 6 0 8 11 6 0 8 4 6 0 7-3 7 0 8-3 6 0 8-4 6 0 8-7 6 0 8-7 6 0 7-5 7 0 8 3 6 0 8 6 6 0 8 6 6 0 8 11 6 0 7 9 7 0 8 2 6 0 8-2 6 0 8-5 6 0 8-4 6 0 7 0 7 0 8 5 6 0 8 10 6 0 8 8 6 0 8 1 6 0 7-4 7 0 8-4 6 0 8-6 6 0 8-6 6 0 8-4 6 0 7M2153 420l-49 6 0 8-119 7 0 7-103 6 0 8 12 6 0 8 124 6 0 8 95 6 0 8 26 6 0 8 24 6 0 8 18 6 0 8 4 6 0 8-8 6 0 8-28 6 0 8-20 6 0 8-6 6 0 8-6 6 0 8-8 6 0 8-5 6 0 8 5 6 0 8 12 6 0 8 9 6 0 8 1 6 0 8-3 6 0 8 3 6 0 8 7 6 0 8 3 6 0 7 3 7 0 8 15 6 0 8 21 6 0 8 4 6 0 8-9 6 0 7-11 7 0 8-12 6 0 8-4 6 0 8-1 6 0 8-7 6 0 7-7 7 0 8-2 6 0 8 0 6 0 8 0 6 0 8-4 6 0 7-2 7 0 8 4 6 0 8 6 6 0 8 4 6 0 8 2 6 0 8-1 6 0 8-1 6 0 8-5 6 0 8-8 6 0 7-5 7 0 8 4 6 0 8 14 6 0 8 10 6 0 8-1 6 0 7-6 7 0 8-3 6 0 8 4 6 0 8 8 6 0 8 2 6 0 7-4 7 0 8-5 6 0 8 1 6 0 8 1 6 0 8-6 6 0 7-10 7 0 8-11 6 0 8-5 6 0 8 1 6 0 8 3 6 0 7 4 7 0 8 5 6 0 8 2 6 0 8 3 6 0 8 4 6 0 7M2200 420l-47 6 0 8-107 7 0 7-94 6 0 8 16 6 0 8 125 6 0 8 99 6 0 8 25 6 0 8 7 6 0 8 5 6 0 8 7 6 0 8 5 6 0 8-6 6 0 8-15 6 0 8-21 6 0 8-20 6 0 8 1 6 0 8 10 6 0 8 5 6 0 8 0 6 0 8 0 6 0 8 1 6 0 8 3 6 0 8 7 6 0 8 5 6 0 8-3 6 0 7-1 7 0 8 11 6 0 8 17 6 0 8 9 6 0 8 7 6 0 7-1 7 0 8-16 6 0 8-15 6 0 8-8 6 0 8-11 6 0 7-9 7 0 8 2 6 0 8 9 6 0 8 8 6 0 8 3 6 0 7 1 7 0 8 3 6 0 8 1 6 0 8-2 6 0 8-2 6 0 8-3 6 0 8 1 6 0 8-1 6 0 8-1 6 0 7 1 7 0 8 6 6 0 8 11 6 0 8 7 6 0 8-4 6 0 7-14 7 0 8-14 6 0 8-5 6 0 8 4 6 0 8 5 6 0 7 5 7 0 8 7 6 0 8 9 6 0 8 2 6 0 8-4 6 0 7-6 7 0 8-3 6 0 8 1 6 0 8-3 6 0 8-8 6 0 7-4 7 0 8 0 6 0 8-1 6 0 8 6 6 0 8 11 6 0 7M2285 420l-46 6 0 8-108 7 0 7-99 6 0 8 18 6 0 8 138 6 0 8 109 6 0 8 20 6 0 8-9 6 0 8-15 6 0 8-1 6 0 8 12 6 0 8 12 6 0 8-4 6 0 8-23 6 0 8-31 6 0 8-9 6 0 8 2 6 0 8 1 6 0 8-1 6 0 8-2 6 0 8-1 6 0 8 0 6 0 8 7 6 0 8 10 6 0 8 5 6 0 7 3 7 0 8 14 6 0 8 18 6 0 8 6 6 0 8-2 6 0 7-10 7 0 8-25 6 0 8-17 6 0 8-3 6 0 8-2 6 0 7 3 7 0 8 4 6 0 8 4 6 0 8 5 6 0 8 8 6 0 7 13 7 0 8 12 6 0 8 3 6 0 8 0 6 0 8-5 6 0 8-4 6 0 8 4 6 0 8 5 6 0 8-3 6 0 7-6 7 0 8-3 6 0 8 1 6 0 8 1 6 0 8 1 6 0 7-3 7 0 8-8 6 0 8-14 6 0 8-15 6 0 8-6 6 0 7 0 7 0 8 3 6 0 8 8 6 0 8 8 6 0 8 6 6 0 7 2 7 0 8 3 6 0 8 7 6 0 8 2 6 0 8-5 6 0 7-5 7 0 8-4 6 0 8-4 6 0 8-5 6 0 8-7 6 0 7M2320 420l-46 6 0 8-99 7 0 7-86 6 0 8 33 6 0 8 146 6 0 8 96 6 0 8 11 6 0 8 2 6 0 8-1 6 0 8 0 6 0 8 1 6 0 8 1 6 0 8-8 6 0 8-25 6 0 8-22 6 0 8-3 6 0 8 9 6 0 8 5 6 0 8 3 6 0 8 2 6 0 8 4 6 0 8 4 6 0 8 8 6 0 8 9 6 0 8 1 6 0 7-6 7 0 8 2 6 0 8 12 6 0 8 0 6 0 8-3 6 0 7-10 7 0 8-27 6 0 8-15 6 0 8-7 6 0 8-5 6 0 7 6 7 0 8 11 6 0 8 4 6 0 8 0 6 0 8 1 6 0 7 11 7 0 8 17 6 0 8 15 6 0 8 6 6 0 8-17 6 0 8-28 6 0 8-10 6 0 8 11 6 0 8 15 6 0 7 3 7 0 8-11 6 0 8-12 6 0 8-3 6 0 8 3 6 0 7 5 7 0 8 3 6 0 8 3 6 0 8 4 6 0 8 1 6 0 7-1 7 0 8-2 6 0 8 1 6 0 8 1 6 0 8-2 6 0 7-6 7 0 8-2 6 0 8 7 6 0 8 9 6 0 8 2 6 0 7-3 7 0 8-2 6 0 8-6 6 0 8-11 6 0 8-9 6 0 7"/>
<linearGradient id="gp2_0" x1="0" y1="0" x2="0" y2="1"><stop offset=".000" stop-color="#f5c686"/><stop offset=".007" stop-color="#f2b05f"/><stop offset=".013" stop-color="#f2ae5c"/><stop offset=".020" stop-color="#fbe6c4"/><stop offset=".027" stop-color="#5dbada"/><stop offset=".033" stop-color="#2a63c4"/><stop offset=".053" stop-color="#244bbb"/><stop offset=".073" stop-color="#2654be"/><stop offset=".080" stop-color="#3788d1"/><stop offset=".087" stop-color="#89d2e4"/><stop offset=".093" stop-color="#b5e5ef"/><stop offset=".100" stop-color="#c2eaf3"/><stop offset=".107" stop-color="#f6c88a"/><stop offset=".113" stop-color="#ec6027"/><stop offset=".120" stop-color="#df2e1f"/><stop offset=".147" stop-color="#de2c1f"/><stop offset=".153" stop-color="#e85124"/><stop offset=".160" stop-color="#f2ac57"/><stop offset=".167" stop-color="#f6ca8e"/><stop offset=".193" stop-color="#f4bf78"/><stop offset=".200" stop-color="#f6cc91"/><stop offset=".207" stop-color="#fceed8"/><stop offset=".213" stop-color="#a1dcea"/><stop offset=".220" stop-color="#6fc7de"/><stop offset=".247" stop-color="#8dd3e5"/><stop offset=".287" stop-color="#91d5e6"/><stop offset=".300" stop-color="#c3ebf3"/><stop offset=".320" stop-color="#d1f0f6"/><stop offset=".327" stop-color="#e9f8fb"/><stop offset=".333" stop-color="#fae0b8"/><stop offset=".340" stop-color="#ee8637"/><stop offset=".347" stop-color="#e33e22"/><stop offset=".367" stop-color="#dd281f"/><stop offset=".407" stop-color="#de2c1f"/><stop offset=".413" stop-color="#e23b21"/><stop offset=".420" stop-color="#ee7931"/><stop offset=".427" stop-color="#f8d7a7"/><stop offset=".433" stop-color="#fefaf4"/><stop offset=".447" stop-color="#98d8e8"/><stop offset=".460" stop-color="#78cbe1"/><stop offset=".520" stop-color="#6ec7de"/><stop offset=".547" stop-color="#7ecde2"/><stop offset=".553" stop-color="#9cdae9"/><stop offset=".560" stop-color="#def4f9"/><stop offset=".567" stop-color="#fdfeff"/><stop offset=".593" stop-color="#f6fcfd"/><stop offset=".613" stop-color="#70c8df"/><stop offset=".647" stop-color="#77cbe0"/><stop offset=".660" stop-color="#9edbe9"/><stop offset=".667" stop-color="#e9f8fb"/><stop offset=".680" stop-color="#f4c07b"/><stop offset=".693" stop-color="#f2ac58"/><stop offset=".700" stop-color="#f3b96e"/><stop offset=".707" stop-color="#f8d6a5"/><stop offset=".713" stop-color="#fffefc"/><stop offset=".733" stop-color="#d3f0f6"/><stop offset=".747" stop-color="#d4f1f7"/><stop offset=".773" stop-color="#fffffe"/><stop offset=".780" stop-color="#fdf2e0"/><stop offset=".793" stop-color="#f3b76b"/><stop offset=".800" stop-color="#f1a44b"/><stop offset=".813" stop-color="#f3b96e"/><stop offset=".827" stop-color="#fcf0dc"/><stop offset=".853" stop-color="#fffefd"/><stop offset=".867" stop-color="#7dcde2"/><stop offset=".880" stop-color="#6ac5dd"/><stop offset=".907" stop-color="#b6e5f0"/><stop offset=".920" stop-color="#fcfefe"/><stop offset=".947" stop-color="#f3b76a"/><stop offset=".987" stop-color="#f0a146"/><stop offset="1" stop-color="#fdf3e3"/></linearGradient>
<linearGradient id="gp2_1" x1="0" y1="0" x2="0" y2="1"><stop offset=".000" stop-color="#fdf2e1"/><stop offset=".007" stop-color="#f4c07a"/><stop offset=".013" stop-color="#f4bb71"/><stop offset=".020" stop-color="#fefcf7"/><stop offset=".027" stop-color="#60bedb"/><stop offset=".033" stop-color="#2a63c4"/><stop offset=".047" stop-color="#203eae"/><stop offset=".067" stop-color="#1f3dad"/><stop offset=".073" stop-color="#244abb"/><stop offset=".080" stop-color="#4398d4"/><stop offset=".087" stop-color="#95d7e7"/><stop offset=".093" stop-color="#d6f1f7"/><stop offset=".100" stop-color="#feffff"/><stop offset=".107" stop-color="#f8d7a6"/><stop offset=".113" stop-color="#ec6027"/><stop offset=".120" stop-color="#df2e1f"/><stop offset=".147" stop-color="#de2c1f"/><stop offset=".153" stop-color="#e85124"/><stop offset=".160" stop-color="#f1a44b"/><stop offset=".167" stop-color="#f4bf78"/><stop offset=".193" stop-color="#f4bf78"/><stop offset=".200" stop-color="#f7d19b"/><stop offset=".207" stop-color="#ebf8fb"/><stop offset=".220" stop-color="#84d0e3"/><stop offset=".280" stop-color="#85d0e3"/><stop offset=".293" stop-color="#b0e2ee"/><stop offset=".300" stop-color="#e0f5f9"/><stop offset=".320" stop-color="#fffdfb"/><stop offset=".327" stop-color="#fbe7c7"/><stop offset=".340" stop-color="#ef8b39"/><stop offset=".347" stop-color="#eb5d26"/><stop offset=".373" stop-color="#f1a54c"/><stop offset=".380" stop-color="#f4be76"/><stop offset=".387" stop-color="#fdf3e3"/><stop offset=".393" stop-color="#fafdfe"/><stop offset=".427" stop-color="#fbfefe"/><stop offset=".433" stop-color="#edf9fc"/><stop offset=".447" stop-color="#8fd4e6"/><stop offset=".460" stop-color="#82cfe3"/><stop offset=".500" stop-color="#9ad9e8"/><stop offset=".540" stop-color="#73c9df"/><stop offset=".553" stop-color="#9bd9e9"/><stop offset=".567" stop-color="#f1fafc"/><stop offset=".593" stop-color="#fffdfa"/><stop offset=".600" stop-color="#e8f7fb"/><stop offset=".607" stop-color="#a0dcea"/><stop offset=".613" stop-color="#78cbe0"/><stop offset=".647" stop-color="#6bc6dd"/><stop offset=".660" stop-color="#83d0e3"/><stop offset=".680" stop-color="#edf9fc"/><stop offset=".727" stop-color="#d0eff6"/><stop offset=".747" stop-color="#a1dcea"/><stop offset=".767" stop-color="#b8e6f0"/><stop offset=".773" stop-color="#e1f5f9"/><stop offset=".787" stop-color="#d9f2f8"/><stop offset=".793" stop-color="#b8e6f0"/><stop offset=".800" stop-color="#b8e6f0"/><stop offset=".820" stop-color="#fffcf9"/><stop offset=".847" stop-color="#fef6eb"/><stop offset=".853" stop-color="#fffdfa"/><stop offset=".860" stop-color="#ddf4f8"/><stop offset=".867" stop-color="#a2dcea"/><stop offset=".880" stop-color="#75cae0"/><stop offset=".913" stop-color="#ace1ed"/><stop offset=".927" stop-color="#e9f8fb"/><stop offset=".953" stop-color="#effafc"/><stop offset=".980" stop-color="#daf3f8"/><stop offset="1" stop-color="#fbfefe"/></linearGradient>
<linearGradient id="gp2_2" x1="0" y1="0" x2="0" y2="1"><stop offset=".000" stop-color="#f4bf77"/><stop offset=".007" stop-color="#f2af5c"/><stop offset=".013" stop-color="#f3b466"/><stop offset=".020" stop-color="#fae4c0"/><stop offset=".027" stop-color="#6cc6de"/><stop offset=".033" stop-color="#2a63c4"/><stop offset=".053" stop-color="#244bbb"/><stop offset=".073" stop-color="#2960c3"/><stop offset=".080" stop-color="#3c8ed2"/><stop offset=".087" stop-color="#98d8e8"/><stop offset=".093" stop-color="#cbeef5"/><stop offset=".100" stop-color="#fbeacf"/><stop offset=".107" stop-color="#f2b05f"/><stop offset=".113" stop-color="#ef8b39"/><stop offset=".140" stop-color="#ed7630"/><stop offset=".153" stop-color="#ee8336"/><stop offset=".160" stop-color="#f09f43"/><stop offset=".180" stop-color="#f6cd92"/><stop offset=".193" stop-color="#f8d8a9"/><stop offset=".200" stop-color="#f7d39e"/><stop offset=".207" stop-color="#fcefdb"/><stop offset=".213" stop-color="#ddf4f8"/><stop offset=".220" stop-color="#8fd4e6"/><stop offset=".240" stop-color="#479ed5"/><stop offset=".260" stop-color="#7acce1"/><stop offset=".273" stop-color="#7dcde1"/><stop offset=".287" stop-color="#7dcde1"/><stop offset=".300" stop-color="#b7e6f0"/><stop offset=".313" stop-color="#cfeff6"/><stop offset=".320" stop-color="#f1fafc"/><stop offset=".333" stop-color="#f2ad59"/><stop offset=".340" stop-color="#ed7630"/><stop offset=".353" stop-color="#e85024"/><stop offset=".373" stop-color="#e85224"/><stop offset=".380" stop-color="#ee8034"/><stop offset=".387" stop-color="#f6c788"/><stop offset=".393" stop-color="#fefbf6"/><stop offset=".433" stop-color="#e5f6fa"/><stop offset=".447" stop-color="#77cae0"/><stop offset=".460" stop-color="#54afd8"/><stop offset=".520" stop-color="#5ebcdb"/><stop offset=".540" stop-color="#74c9e0"/><stop offset=".553" stop-color="#d5f1f7"/><stop offset=".560" stop-color="#f7d39e"/><stop offset=".567" stop-color="#f4c07b"/><stop offset=".573" stop-color="#f8d4a1"/><stop offset=".580" stop-color="#fef7ed"/><stop offset=".593" stop-color="#ebf8fb"/><stop offset=".613" stop-color="#daf3f8"/><stop offset=".667" stop-color="#d7f2f7"/><stop offset=".687" stop-color="#f4fbfd"/><stop offset=".720" stop-color="#fef8ee"/><stop offset=".727" stop-color="#f9fdfe"/><stop offset=".733" stop-color="#a8dfec"/><stop offset=".747" stop-color="#74cae0"/><stop offset=".767" stop-color="#a6deec"/><stop offset=".773" stop-color="#d3f0f6"/><stop offset=".780" stop-color="#ace1ed"/><stop offset=".800" stop-color="#89d2e4"/><stop offset=".820" stop-color="#e3f6fa"/><stop offset=".847" stop-color="#e0f5f9"/><stop offset=".853" stop-color="#d0eff6"/><stop offset=".873" stop-color="#6dc7de"/><stop offset=".887" stop-color="#65c3dc"/><stop offset=".913" stop-color="#a0dbea"/><stop offset=".927" stop-color="#fdfeff"/><stop offset=".960" stop-color="#fcedd5"/><stop offset=".987" stop-color="#f7fcfe"/><stop offset="1" stop-color="#ebf8fb"/></linearGradient>
<linearGradient id="gp2_3" x1="0" y1="0" x2="0" y2="1"><stop offset=".000" stop-color="#ddf4f8"/><stop offset=".013" stop-color="#94d6e7"/><stop offset=".020" stop-color="#5cb9da"/><stop offset=".027" stop-color="#2e71c9"/><stop offset=".040" stop-color="#1f3dac"/><stop offset=".053" stop-color="#192d96"/><stop offset=".067" stop-color="#2243b4"/><stop offset=".073" stop-color="#2b68c6"/><stop offset=".080" stop-color="#5db9da"/><stop offset=".093" stop-color="#feffff"/><stop offset=".100" stop-color="#f7cd94"/><stop offset=".107" stop-color="#f1a750"/><stop offset=".120" stop-color="#ed6f2d"/><stop offset=".147" stop-color="#ed6a2b"/><stop offset=".153" stop-color="#f09b40"/><stop offset=".160" stop-color="#f8d7a7"/><stop offset=".173" stop-color="#fffcf8"/><stop offset=".180" stop-color="#d4f1f7"/><stop offset=".187" stop-color="#5ab6da"/><stop offset=".193" stop-color="#2a63c4"/><stop offset=".213" stop-color="#244bbb"/><stop offset=".240" stop-color="#2652be"/><stop offset=".247" stop-color="#2c6ac7"/><stop offset=".260" stop-color="#5ebbda"/><stop offset=".280" stop-color="#7dcde1"/><stop offset=".313" stop-color="#d9f2f8"/><stop offset=".327" stop-color="#fdf4e6"/><stop offset=".333" stop-color="#f5c381"/><stop offset=".340" stop-color="#f1a349"/><stop offset=".353" stop-color="#ef903b"/><stop offset=".373" stop-color="#f1a44b"/><stop offset=".393" stop-color="#fcedd5"/><stop offset=".427" stop-color="#fef7ed"/><stop offset=".433" stop-color="#f3fbfd"/><stop offset=".440" stop-color="#97d8e8"/><stop offset=".447" stop-color="#4398d4"/><stop offset=".453" stop-color="#2d6dc8"/><stop offset=".467" stop-color="#4399d4"/><stop offset=".513" stop-color="#4398d4"/><stop offset=".533" stop-color="#2756bf"/><stop offset=".547" stop-color="#469cd5"/><stop offset=".553" stop-color="#7fcee2"/><stop offset=".567" stop-color="#cdeef5"/><stop offset=".587" stop-color="#d2f0f6"/><stop offset=".607" stop-color="#b0e2ee"/><stop offset=".647" stop-color="#cfeff6"/><stop offset=".667" stop-color="#caedf5"/><stop offset=".680" stop-color="#f7fcfd"/><stop offset=".720" stop-color="#dbf3f8"/><stop offset=".747" stop-color="#86d0e3"/><stop offset=".767" stop-color="#7fcee2"/><stop offset=".773" stop-color="#9ad9e8"/><stop offset=".780" stop-color="#effafc"/><stop offset=".793" stop-color="#f5fcfd"/><stop offset=".820" stop-color="#e2f5f9"/><stop offset=".853" stop-color="#e4f6fa"/><stop offset=".873" stop-color="#8cd3e5"/><stop offset=".907" stop-color="#95d7e7"/><stop offset=".933" stop-color="#fffefe"/><stop offset=".947" stop-color="#fdf6e9"/><stop offset=".967" stop-color="#f0fafc"/><stop offset=".980" stop-color="#def4f9"/><stop offset="1" stop-color="#ffffff"/></linearGradient>
<linearGradient id="gp2_4" x1="0" y1="0" x2="0" y2="1"><stop offset=".000" stop-color="#effafc"/><stop offset=".007" stop-color="#a4ddeb"/><stop offset=".020" stop-color="#51aad7"/><stop offset=".027" stop-color="#2c69c6"/><stop offset=".040" stop-color="#254cbb"/><stop offset=".073" stop-color="#2140b0"/><stop offset=".080" stop-color="#2f76cb"/><stop offset=".087" stop-color="#88d1e4"/><stop offset=".093" stop-color="#e4f6fa"/><stop offset=".100" stop-color="#f8d4a1"/><stop offset=".107" stop-color="#ef943d"/><stop offset=".113" stop-color="#ec5f26"/><stop offset=".133" stop-color="#e64823"/><stop offset=".147" stop-color="#ef8737"/><stop offset=".153" stop-color="#f3b96e"/><stop offset=".160" stop-color="#fdf4e7"/><stop offset=".173" stop-color="#fbfefe"/><stop offset=".180" stop-color="#daf3f8"/><stop offset=".187" stop-color="#58b3d9"/><stop offset=".193" stop-color="#2a63c4"/><stop offset=".213" stop-color="#244bbb"/><stop offset=".240" stop-color="#254ebc"/><stop offset=".247" stop-color="#2c6ac7"/><stop offset=".253" stop-color="#4fa8d7"/><stop offset=".260" stop-color="#7bcce1"/><stop offset=".287" stop-color="#98d8e8"/><stop offset=".300" stop-color="#e4f6fa"/><stop offset=".327" stop-color="#dcf3f8"/><stop offset=".333" stop-color="#fffdfc"/><stop offset=".340" stop-color="#f5c17c"/><stop offset=".347" stop-color="#ef8b39"/><stop offset=".367" stop-color="#f2b05f"/><stop offset=".393" stop-color="#fdf4e5"/><stop offset=".433" stop-color="#f5fcfd"/><stop offset=".440" stop-color="#cbeef5"/><stop offset=".447" stop-color="#88d1e4"/><stop offset=".460" stop-color="#68c5dd"/><stop offset=".540" stop-color="#98d8e8"/><stop offset=".547" stop-color="#a3ddeb"/><stop offset=".560" stop-color="#fbfefe"/><stop offset=".580" stop-color="#fcefda"/><stop offset=".607" stop-color="#eaf8fb"/><stop offset=".660" stop-color="#b0e2ee"/><stop offset=".673" stop-color="#f1fafc"/><stop offset=".693" stop-color="#fcedd5"/><stop offset=".700" stop-color="#fcedd6"/><stop offset=".720" stop-color="#f4bd74"/><stop offset=".747" stop-color="#f3b363"/><stop offset=".753" stop-color="#f6c88a"/><stop offset=".760" stop-color="#fcefda"/><stop offset=".767" stop-color="#ffffff"/><stop offset=".793" stop-color="#f4fbfd"/><stop offset=".827" stop-color="#fdf3e4"/><stop offset=".847" stop-color="#fbfefe"/><stop offset=".853" stop-color="#e2f5f9"/><stop offset=".867" stop-color="#89d2e4"/><stop offset=".887" stop-color="#7fcee2"/><stop offset=".907" stop-color="#a4ddeb"/><stop offset=".913" stop-color="#e9f8fb"/><stop offset=".920" stop-color="#f8d39f"/><stop offset=".927" stop-color="#f4bc73"/><stop offset=".947" stop-color="#f4bc72"/><stop offset=".967" stop-color="#fdf4e7"/><stop offset=".987" stop-color="#eef9fc"/><stop offset="1" stop-color="#edf9fc"/></linearGradient>
<linearGradient id="gp2_5" x1="0" y1="0" x2="0" y2="1"><stop offset=".000" stop-color="#fffdfa"/><stop offset=".007" stop-color="#ade1ed"/><stop offset=".020" stop-color="#58b3d9"/><stop offset=".027" stop-color="#2e71c9"/><stop offset=".040" stop-color="#254dbc"/><stop offset=".067" stop-color="#2651bd"/><stop offset=".073" stop-color="#2b68c6"/><stop offset=".080" stop-color="#4ba3d6"/><stop offset=".087" stop-color="#a2dcea"/><stop offset=".093" stop-color="#c2eaf3"/><stop offset=".100" stop-color="#fdf5e9"/><stop offset=".107" stop-color="#f3b76a"/><stop offset=".113" stop-color="#ef8d3a"/><stop offset=".133" stop-color="#ed7530"/><stop offset=".147" stop-color="#ef8938"/><stop offset=".153" stop-color="#f3b86c"/><stop offset=".160" stop-color="#fefcf8"/><stop offset=".187" stop-color="#79cbe1"/><stop offset=".213" stop-color="#a4ddeb"/><stop offset=".227" stop-color="#9ddae9"/><stop offset=".233" stop-color="#cdeef5"/><stop offset=".240" stop-color="#fae4c1"/><stop offset=".247" stop-color="#f2ad59"/><stop offset=".260" stop-color="#f1a953"/><stop offset=".273" stop-color="#f3b86c"/><stop offset=".287" stop-color="#fdf1df"/><stop offset=".293" stop-color="#f0fafc"/><stop offset=".313" stop-color="#cdeef5"/><stop offset=".327" stop-color="#b8e6f0"/><stop offset=".353" stop-color="#ffffff"/><stop offset=".373" stop-color="#fcefda"/><stop offset=".387" stop-color="#f1a750"/><stop offset=".393" stop-color="#ed6a2b"/><stop offset=".420" stop-color="#e54623"/><stop offset=".427" stop-color="#ec6026"/><stop offset=".433" stop-color="#f3b96e"/><stop offset=".440" stop-color="#c1eaf3"/><stop offset=".447" stop-color="#7ecde2"/><stop offset=".453" stop-color="#57b2d9"/><stop offset=".480" stop-color="#9edbe9"/><stop offset=".520" stop-color="#6ec7de"/><stop offset=".533" stop-color="#57b2d9"/><stop offset=".540" stop-color="#6bc6de"/><stop offset=".547" stop-color="#a9e0ec"/><stop offset=".553" stop-color="#fdf2e1"/><stop offset=".560" stop-color="#f4c07a"/><stop offset=".567" stop-color="#f1a852"/><stop offset=".573" stop-color="#f1a750"/><stop offset=".580" stop-color="#f3b76a"/><stop offset=".593" stop-color="#fcefdb"/><stop offset=".600" stop-color="#fdfeff"/><stop offset=".607" stop-color="#dcf3f8"/><stop offset=".640" stop-color="#c6ecf4"/><stop offset=".660" stop-color="#96d7e7"/><stop offset=".667" stop-color="#a0dcea"/><stop offset=".680" stop-color="#f6fcfd"/><stop offset=".700" stop-color="#fef7ec"/><stop offset=".740" stop-color="#fffefd"/><stop offset=".753" stop-color="#f8d4a2"/><stop offset=".773" stop-color="#f7d29c"/><stop offset=".787" stop-color="#fef7ed"/><stop offset=".807" stop-color="#e8f7fb"/><stop offset=".853" stop-color="#ecf9fb"/><stop offset=".867" stop-color="#a4ddeb"/><stop offset=".887" stop-color="#9bdae9"/><stop offset=".907" stop-color="#82cfe3"/><stop offset=".913" stop-color="#91d5e6"/><stop offset=".927" stop-color="#f2fbfc"/><stop offset=".933" stop-color="#ebf8fb"/><stop offset=".940" stop-color="#afe2ee"/><stop offset=".953" stop-color="#91d5e6"/><stop offset=".987" stop-color="#a2dcea"/><stop offset="1" stop-color="#e0f5f9"/></linearGradient>
<clipPath id="cpp2"><rect x="327.2" y="42.1" width="40.7" height="104.0"/></clipPath>
<path id="wp2" transform="scale(0.1)" d="M3279 420l-3 6 0 8-43 7 0 7-45 6 0 8-34 6 0 8 9 6 0 8 43 6 0 8 40 6 0 8 36 6 0 8 31 6 0 8 12 6 0 8 3 6 0 8-8 6 0 8-8 6 0 8-1 6 0 8-11 6 0 8-31 6 0 8-22 6 0 8-5 6 0 8-3 6 0 8-2 6 0 8 1 6 0 8 8 6 0 8 8 6 0 8 8 6 0 8 23 6 0 7 26 7 0 8 11 6 0 8 7 6 0 8 3 6 0 8 2 6 0 7-7 7 0 8-30 6 0 8-39 6 0 8-23 6 0 8-4 6 0 7 3 7 0 8 3 6 0 8 4 6 0 8 5 6 0 8 5 6 0 7 6 7 0 8 12 6 0 8 9 6 0 8 0 6 0 8-7 6 0 8-7 6 0 8 1 6 0 8 4 6 0 8 6 6 0 7 15 7 0 8 18 6 0 8 5 6 0 8-9 6 0 8-13 6 0 7-7 7 0 8-1 6 0 8 1 6 0 8 4 6 0 8 8 6 0 7 5 7 0 8-6 6 0 8-13 6 0 8-7 6 0 8-7 6 0 7-9 7 0 8 3 6 0 8 7 6 0 8 4 6 0 8 2 6 0 7 8 7 0 8 12 6 0 8 7 6 0 8 1 6 0 8-10 6 0 7M3340 420l-4 6 0 8-46 7 0 7-44 6 0 8-26 6 0 8 23 6 0 8 46 6 0 8 32 6 0 8 20 6 0 8 21 6 0 8 6 6 0 8 4 6 0 8 0 6 0 8 1 6 0 8 2 6 0 8-10 6 0 8-23 6 0 8-15 6 0 8-6 6 0 8-6 6 0 8-8 6 0 8-6 6 0 8 8 6 0 8 18 6 0 8 15 6 0 8 13 6 0 7 5 7 0 8-6 6 0 8-4 6 0 8-4 6 0 8 1 6 0 7 2 7 0 8-7 6 0 8-15 6 0 8-14 6 0 8-6 6 0 7-2 7 0 8 0 6 0 8-2 6 0 8-4 6 0 8-3 6 0 7 4 7 0 8 17 6 0 8 16 6 0 8 3 6 0 8-9 6 0 8-14 6 0 8-8 6 0 8-3 6 0 8 4 6 0 7 18 7 0 8 22 6 0 8 10 6 0 8-1 6 0 8-6 6 0 7-10 7 0 8-13 6 0 8-7 6 0 8 8 6 0 8 15 6 0 7 8 7 0 8-6 6 0 8-15 6 0 8-10 6 0 8-7 6 0 7-10 7 0 8 2 6 0 8 17 6 0 8 18 6 0 8 13 6 0 7 8 7 0 8 2 6 0 8-7 6 0 8-10 6 0 8-7 6 0 7M3418 420l-5 6 0 8-47 7 0 7-52 6 0 8-35 6 0 8 23 6 0 8 62 6 0 8 50 6 0 8 26 6 0 8 15 6 0 8-1 6 0 8-8 6 0 8-15 6 0 8-10 6 0 8-1 6 0 8-5 6 0 8-15 6 0 8-12 6 0 8-1 6 0 8 3 6 0 8 4 6 0 8 2 6 0 8 7 6 0 8 9 6 0 8 12 6 0 8 21 6 0 7 13 7 0 8-2 6 0 8-10 6 0 8-20 6 0 8-13 6 0 7-1 7 0 8-1 6 0 8-7 6 0 8-9 6 0 8-4 6 0 7-6 7 0 8-5 6 0 8-4 6 0 8-3 6 0 8 1 6 0 7 13 7 0 8 22 6 0 8 8 6 0 8-9 6 0 8-13 6 0 8-7 6 0 8 5 6 0 8 5 6 0 8-1 6 0 7-1 7 0 8 3 6 0 8 5 6 0 8 6 6 0 8-2 6 0 7-14 7 0 8-14 6 0 8-2 6 0 8 4 6 0 8-1 6 0 7 3 7 0 8 12 6 0 8 11 6 0 8 5 6 0 8-2 6 0 7-10 7 0 8-10 6 0 8-2 6 0 8 2 6 0 8 7 6 0 7 5 7 0 8 0 6 0 8-3 6 0 8-4 6 0 8-4 6 0 7M3454 420l-8 6 0 8-38 7 0 7-44 6 0 8-34 6 0 8 20 6 0 8 55 6 0 8 45 6 0 8 22 6 0 8 12 6 0 8 7 6 0 8 4 6 0 8-5 6 0 8-10 6 0 8-15 6 0 8-17 6 0 8-16 6 0 8-10 6 0 8 6 6 0 8 16 6 0 8 12 6 0 8 2 6 0 8 2 6 0 8 2 6 0 8 7 6 0 8 14 6 0 7 10 7 0 8 0 6 0 8-3 6 0 8-4 6 0 8 0 6 0 7 4 7 0 8-7 6 0 8-20 6 0 8-16 6 0 8-2 6 0 7 1 7 0 8 0 6 0 8 1 6 0 8 0 6 0 8 3 6 0 7 11 7 0 8 19 6 0 8 7 6 0 8-6 6 0 8-11 6 0 8-13 6 0 8-10 6 0 8-5 6 0 8-1 6 0 7 2 7 0 8 4 6 0 8 2 6 0 8 3 6 0 8 2 6 0 7-2 7 0 8 0 6 0 8 10 6 0 8 12 6 0 8 0 6 0 7-11 7 0 8-7 6 0 8 1 6 0 8 1 6 0 8-1 6 0 7-3 7 0 8 0 6 0 8 2 6 0 8 1 6 0 8 7 6 0 7 8 7 0 8 4 6 0 8 2 6 0 8 3 6 0 8 4 6 0 7M3538 420l-15 6 0 8-35 7 0 7-45 6 0 8-38 6 0 8 16 6 0 8 54 6 0 8 49 6 0 8 27 6 0 8 14 6 0 8 11 6 0 8 6 6 0 8-10 6 0 8-20 6 0 8-28 6 0 8-16 6 0 8 1 6 0 8 3 6 0 8 4 6 0 8 9 6 0 8 8 6 0 8 7 6 0 8 9 6 0 8 8 6 0 8 5 6 0 8 11 6 0 7 7 7 0 8-13 6 0 8-18 6 0 8-15 6 0 8-7 6 0 7-2 7 0 8-4 6 0 8-14 6 0 8-11 6 0 8 5 6 0 7 9 7 0 8 7 6 0 8 5 6 0 8 1 6 0 8-3 6 0 7 2 7 0 8 9 6 0 8 8 6 0 8 3 6 0 8 1 6 0 8 3 6 0 8 3 6 0 8-5 6 0 8-13 6 0 7-7 7 0 8 7 6 0 8 12 6 0 8 9 6 0 8 1 6 0 7-7 7 0 8-10 6 0 8-13 6 0 8-5 6 0 8 5 6 0 7 8 7 0 8 7 6 0 8 0 6 0 8-6 6 0 8-8 6 0 7-6 7 0 8 2 6 0 8 4 6 0 8 4 6 0 8 9 6 0 7 10 7 0 8 5 6 0 8 0 6 0 8 0 6 0 8 2 6 0 7M3589 420l-14 6 0 8-27 7 0 7-34 6 0 8-27 6 0 8 23 6 0 8 58 6 0 8 53 6 0 8 58 6 0 8 47 6 0 8-35 6 0 8-57 6 0 8-26 6 0 8-9 6 0 8-13 6 0 8-15 6 0 8-10 6 0 8 2 6 0 8 18 6 0 8 24 6 0 8 11 6 0 8-1 6 0 8-3 6 0 8-5 6 0 8-7 6 0 8 1 6 0 7 9 7 0 8 2 6 0 8 0 6 0 8 3 6 0 8 4 6 0 7 4 7 0 8-2 6 0 8-18 6 0 8-17 6 0 8-6 6 0 7 3 7 0 8 7 6 0 8 8 6 0 8-2 6 0 8-11 6 0 7-2 7 0 8 12 6 0 8 7 6 0 8-2 6 0 8-7 6 0 8-3 6 0 8-1 6 0 8-1 6 0 8-1 6 0 7 3 7 0 8 7 6 0 8 4 6 0 8 6 6 0 8 9 6 0 7 8 7 0 8 2 6 0 8-3 6 0 8-6 6 0 8-5 6 0 7-3 7 0 8 1 6 0 8 1 6 0 8 0 6 0 8-4 6 0 7-6 7 0 8-3 6 0 8-1 6 0 8 2 6 0 8 10 6 0 7 4 7 0 8-8 6 0 8-9 6 0 8-5 6 0 8-1 6 0 7M3679 420l-14 6 0 8-27 7 0 7-32 6 0 8-31 6 0 8 14 6 0 8 47 6 0 8 43 6 0 8 51 6 0 8 47 6 0 8-24 6 0 8-45 6 0 8-29 6 0 8-13 6 0 8-2 6 0 8 5 6 0 8 2 6 0 8 3 6 0 8 13 6 0 8 5 6 0 8-9 6 0 8-8 6 0 8-5 6 0 8 1 6 0 8-1 6 0 8-1 6 0 7 3 7 0 8 2 6 0 8 5 6 0 8 14 6 0 8 11 6 0 7 5 7 0 8-4 6 0 8-25 6 0 8-16 6 0 8-4 6 0 7-3 7 0 8-3 6 0 8 6 6 0 8 7 6 0 8 0 6 0 7 1 7 0 8 11 6 0 8 6 6 0 8 2 6 0 8-4 6 0 8-3 6 0 8-1 6 0 8-4 6 0 8-8 6 0 7-2 7 0 8 6 6 0 8 5 6 0 8-1 6 0 8-3 6 0 7-2 7 0 8 6 6 0 8 8 6 0 8 3 6 0 8-2 6 0 7 2 7 0 8 5 6 0 8-3 6 0 8-11 6 0 8-15 6 0 7-10 7 0 8 2 6 0 8 5 6 0 8 6 6 0 8 14 6 0 7 6 7 0 8-10 6 0 8-7 6 0 8-2 6 0 8 5 6 0 7"/>
<linearGradient id="gp3_0" x1="0" y1="0" x2="0" y2="1"><stop offset=".000" stop-color="#e2f5f9"/><stop offset=".013" stop-color="#dbf3f8"/><stop offset=".020" stop-color="#c0e9f2"/><stop offset=".027" stop-color="#89d2e4"/><stop offset=".033" stop-color="#3079cd"/><stop offset=".040" stop-color="#244abb"/><stop offset=".060" stop-color="#2243b5"/><stop offset=".067" stop-color="#2755bf"/><stop offset=".073" stop-color="#4398d4"/><stop offset=".080" stop-color="#aae0ed"/><stop offset=".100" stop-color="#ebf8fb"/><stop offset=".107" stop-color="#fef7ed"/><stop offset=".113" stop-color="#f2ac59"/><stop offset=".120" stop-color="#e23b21"/><stop offset=".127" stop-color="#c01919"/><stop offset=".133" stop-color="#aa1115"/><stop offset=".140" stop-color="#b61517"/><stop offset=".147" stop-color="#df2e1f"/><stop offset=".153" stop-color="#f2ae5c"/><stop offset=".160" stop-color="#fdf2e0"/><stop offset=".167" stop-color="#edf9fb"/><stop offset=".180" stop-color="#ebf8fb"/><stop offset=".187" stop-color="#d7f2f7"/><stop offset=".193" stop-color="#8bd3e5"/><stop offset=".207" stop-color="#6ec7de"/><stop offset=".233" stop-color="#85d0e3"/><stop offset=".240" stop-color="#74cae0"/><stop offset=".247" stop-color="#3282d0"/><stop offset=".253" stop-color="#2346b9"/><stop offset=".273" stop-color="#2141b2"/><stop offset=".280" stop-color="#2d6ec8"/><stop offset=".287" stop-color="#b5e4ef"/><stop offset=".293" stop-color="#fcecd4"/><stop offset=".300" stop-color="#f4bf79"/><stop offset=".313" stop-color="#f2ad5a"/><stop offset=".320" stop-color="#f3b465"/><stop offset=".327" stop-color="#f6cd93"/><stop offset=".340" stop-color="#ef953d"/><stop offset=".347" stop-color="#ee7e33"/><stop offset=".373" stop-color="#f09e41"/><stop offset=".400" stop-color="#eb5a25"/><stop offset=".413" stop-color="#ef963e"/><stop offset=".427" stop-color="#fdf1df"/><stop offset=".440" stop-color="#f8fdfe"/><stop offset=".447" stop-color="#e5f6fa"/><stop offset=".453" stop-color="#b3e4ef"/><stop offset=".460" stop-color="#63c1dc"/><stop offset=".467" stop-color="#4398d4"/><stop offset=".500" stop-color="#64c2dc"/><stop offset=".507" stop-color="#80cee2"/><stop offset=".513" stop-color="#ceeff6"/><stop offset=".520" stop-color="#fefbf6"/><stop offset=".547" stop-color="#fbe8c9"/><stop offset=".553" stop-color="#f8d4a0"/><stop offset=".573" stop-color="#f4c17b"/><stop offset=".580" stop-color="#f5c380"/><stop offset=".587" stop-color="#fdf3e4"/><stop offset=".593" stop-color="#caedf5"/><stop offset=".607" stop-color="#9ddae9"/><stop offset=".640" stop-color="#a6deeb"/><stop offset=".647" stop-color="#ecf9fb"/><stop offset=".667" stop-color="#fcefdb"/><stop offset=".733" stop-color="#f3fbfd"/><stop offset=".753" stop-color="#bbe7f1"/><stop offset=".807" stop-color="#d0eff6"/><stop offset=".820" stop-color="#a4ddeb"/><stop offset=".827" stop-color="#b8e6f0"/><stop offset=".833" stop-color="#a2ddeb"/><stop offset=".860" stop-color="#ceeff6"/><stop offset=".873" stop-color="#fef9f1"/><stop offset=".887" stop-color="#fcebd2"/><stop offset=".900" stop-color="#fcecd3"/><stop offset=".913" stop-color="#f6c98b"/><stop offset=".920" stop-color="#f0983e"/><stop offset=".927" stop-color="#ed722e"/><stop offset=".973" stop-color="#ed6c2c"/><stop offset=".987" stop-color="#ef933c"/><stop offset="1" stop-color="#fdf4e6"/></linearGradient>
<linearGradient id="gp3_1" x1="0" y1="0" x2="0" y2="1"><stop offset=".000" stop-color="#99d9e8"/><stop offset=".007" stop-color="#71c8df"/><stop offset=".020" stop-color="#6fc7de"/><stop offset=".033" stop-color="#2b66c5"/><stop offset=".047" stop-color="#254cbb"/><stop offset=".067" stop-color="#295ec2"/><stop offset=".073" stop-color="#469dd5"/><stop offset=".080" stop-color="#c3ebf3"/><stop offset=".087" stop-color="#f7fcfd"/><stop offset=".093" stop-color="#fcf0dc"/><stop offset=".100" stop-color="#f5c583"/><stop offset=".107" stop-color="#f2b060"/><stop offset=".140" stop-color="#f3b567"/><stop offset=".160" stop-color="#f5c787"/><stop offset=".180" stop-color="#f1a953"/><stop offset=".187" stop-color="#f5c380"/><stop offset=".193" stop-color="#bde8f2"/><stop offset=".200" stop-color="#86d1e4"/><stop offset=".260" stop-color="#61bfdb"/><stop offset=".273" stop-color="#76cae0"/><stop offset=".293" stop-color="#e5f6fa"/><stop offset=".307" stop-color="#fffcf9"/><stop offset=".313" stop-color="#fcf0dc"/><stop offset=".320" stop-color="#f7d29c"/><stop offset=".327" stop-color="#ee8034"/><stop offset=".333" stop-color="#e54322"/><stop offset=".360" stop-color="#dc231e"/><stop offset=".373" stop-color="#b21416"/><stop offset=".387" stop-color="#dd291f"/><stop offset=".393" stop-color="#e95324"/><stop offset=".400" stop-color="#f2b05f"/><stop offset=".407" stop-color="#fae1ba"/><stop offset=".413" stop-color="#fdf5e7"/><stop offset=".447" stop-color="#fcfefe"/><stop offset=".453" stop-color="#e8f7fa"/><stop offset=".467" stop-color="#89d2e4"/><stop offset=".480" stop-color="#6bc6de"/><stop offset=".500" stop-color="#a1dcea"/><stop offset=".507" stop-color="#d4f1f7"/><stop offset=".520" stop-color="#ffffff"/><stop offset=".567" stop-color="#e9f8fb"/><stop offset=".587" stop-color="#fef7ed"/><stop offset=".607" stop-color="#fdf2e1"/><stop offset=".647" stop-color="#fdf4e6"/><stop offset=".673" stop-color="#fef7ee"/><stop offset=".707" stop-color="#f1fafc"/><stop offset=".740" stop-color="#e1f5f9"/><stop offset=".760" stop-color="#b5e4ef"/><stop offset=".793" stop-color="#b6e5f0"/><stop offset=".807" stop-color="#d0eff6"/><stop offset=".827" stop-color="#bbe7f1"/><stop offset=".860" stop-color="#fffffe"/><stop offset=".880" stop-color="#fef8ef"/><stop offset=".900" stop-color="#fffcf8"/><stop offset=".907" stop-color="#fbeacf"/><stop offset=".913" stop-color="#eb5a25"/><stop offset=".920" stop-color="#a50f14"/><stop offset=".987" stop-color="#b01316"/><stop offset=".993" stop-color="#f0983e"/><stop offset="1" stop-color="#fdf3e3"/></linearGradient>
<linearGradient id="gp3_2" x1="0" y1="0" x2="0" y2="1"><stop offset=".000" stop-color="#a3ddeb"/><stop offset=".007" stop-color="#6bc6de"/><stop offset=".020" stop-color="#4398d4"/><stop offset=".033" stop-color="#1e3aa9"/><stop offset=".053" stop-color="#192d96"/><stop offset=".067" stop-color="#1c34a0"/><stop offset=".073" stop-color="#2b64c5"/><stop offset=".080" stop-color="#94d6e7"/><stop offset=".087" stop-color="#d7f2f7"/><stop offset=".093" stop-color="#f8d8a8"/><stop offset=".100" stop-color="#f1a852"/><stop offset=".107" stop-color="#ef923c"/><stop offset=".133" stop-color="#f3b96d"/><stop offset=".147" stop-color="#fdf3e2"/><stop offset=".153" stop-color="#feffff"/><stop offset=".180" stop-color="#f1fafc"/><stop offset=".187" stop-color="#d6f1f7"/><stop offset=".193" stop-color="#a1dcea"/><stop offset=".207" stop-color="#89d2e4"/><stop offset=".233" stop-color="#6cc6de"/><stop offset=".247" stop-color="#66c4dd"/><stop offset=".280" stop-color="#8ad2e4"/><stop offset=".293" stop-color="#d9f2f8"/><stop offset=".313" stop-color="#f9fdfe"/><stop offset=".320" stop-color="#f8d3a0"/><stop offset=".327" stop-color="#ee8135"/><stop offset=".333" stop-color="#e54322"/><stop offset=".367" stop-color="#d5201d"/><stop offset=".380" stop-color="#b71617"/><stop offset=".393" stop-color="#d11f1c"/><stop offset=".400" stop-color="#ee7b32"/><stop offset=".407" stop-color="#fae3bf"/><stop offset=".413" stop-color="#fcfefe"/><stop offset=".447" stop-color="#def4f9"/><stop offset=".540" stop-color="#f0fafc"/><stop offset=".580" stop-color="#f9fdfe"/><stop offset=".600" stop-color="#7dcde1"/><stop offset=".613" stop-color="#5ebbdb"/><stop offset=".640" stop-color="#a6deec"/><stop offset=".660" stop-color="#9ddae9"/><stop offset=".680" stop-color="#fffdfb"/><stop offset=".707" stop-color="#fcedd5"/><stop offset=".747" stop-color="#fefaf4"/><stop offset=".787" stop-color="#fef7ec"/><stop offset=".807" stop-color="#effafc"/><stop offset=".820" stop-color="#e1f5f9"/><stop offset=".847" stop-color="#f8fdfe"/><stop offset=".900" stop-color="#f2fbfd"/><stop offset=".907" stop-color="#fffefd"/><stop offset=".920" stop-color="#ef903b"/><stop offset=".927" stop-color="#e95224"/><stop offset=".933" stop-color="#df2f20"/><stop offset=".980" stop-color="#ee7831"/><stop offset=".987" stop-color="#f2ab57"/><stop offset=".993" stop-color="#fbe8ca"/><stop offset="1" stop-color="#f8fdfe"/></linearGradient>
<linearGradient id="gp3_3" x1="0" y1="0" x2="0" y2="1"><stop offset=".000" stop-color="#f0fafc"/><stop offset=".007" stop-color="#92d5e6"/><stop offset=".020" stop-color="#55b0d8"/><stop offset=".027" stop-color="#2c6bc7"/><stop offset=".033" stop-color="#2345b8"/><stop offset=".067" stop-color="#2960c3"/><stop offset=".073" stop-color="#4fa8d7"/><stop offset=".080" stop-color="#f6fcfd"/><stop offset=".087" stop-color="#f09e42"/><stop offset=".093" stop-color="#de2b1f"/><stop offset=".107" stop-color="#af1316"/><stop offset=".120" stop-color="#bb1718"/><stop offset=".127" stop-color="#d9221e"/><stop offset=".133" stop-color="#ef8c39"/><stop offset=".140" stop-color="#f9ddb2"/><stop offset=".147" stop-color="#fffefe"/><stop offset=".173" stop-color="#dff4f9"/><stop offset=".187" stop-color="#d3f0f7"/><stop offset=".193" stop-color="#8ad2e4"/><stop offset=".200" stop-color="#6ac6dd"/><stop offset=".247" stop-color="#75cae0"/><stop offset=".280" stop-color="#9ddae9"/><stop offset=".293" stop-color="#ebf8fb"/><stop offset=".307" stop-color="#fefcf8"/><stop offset=".327" stop-color="#fdf2e1"/><stop offset=".340" stop-color="#f5c27e"/><stop offset=".360" stop-color="#f1a954"/><stop offset=".393" stop-color="#f0a247"/><stop offset=".400" stop-color="#f5c584"/><stop offset=".407" stop-color="#f9fdfe"/><stop offset=".420" stop-color="#bae7f1"/><stop offset=".467" stop-color="#81cee2"/><stop offset=".473" stop-color="#97d8e8"/><stop offset=".487" stop-color="#f3fbfd"/><stop offset=".513" stop-color="#fdf2e1"/><stop offset=".533" stop-color="#f3ba6f"/><stop offset=".560" stop-color="#f6ca8d"/><stop offset=".567" stop-color="#f8d7a6"/><stop offset=".573" stop-color="#fffffe"/><stop offset=".593" stop-color="#a9dfec"/><stop offset=".640" stop-color="#90d4e6"/><stop offset=".647" stop-color="#9fdbea"/><stop offset=".660" stop-color="#fdfeff"/><stop offset=".673" stop-color="#f7ce95"/><stop offset=".687" stop-color="#f5c584"/><stop offset=".693" stop-color="#f7d39e"/><stop offset=".700" stop-color="#fdf5e7"/><stop offset=".713" stop-color="#f5fcfd"/><stop offset=".753" stop-color="#ecf9fb"/><stop offset=".780" stop-color="#dcf3f8"/><stop offset=".807" stop-color="#e0f5f9"/><stop offset=".847" stop-color="#e2f5f9"/><stop offset=".867" stop-color="#e9f8fb"/><stop offset=".887" stop-color="#fdf3e3"/><stop offset=".900" stop-color="#f6cc92"/><stop offset=".907" stop-color="#f8d9aa"/><stop offset=".933" stop-color="#ef933c"/><stop offset=".960" stop-color="#f0a247"/><stop offset=".980" stop-color="#f6c888"/><stop offset=".993" stop-color="#fef7ec"/><stop offset="1" stop-color="#f0fafc"/></linearGradient>
<linearGradient id="gp3_4" x1="0" y1="0" x2="0" y2="1"><stop offset=".000" stop-color="#9edbe9"/><stop offset=".007" stop-color="#65c3dc"/><stop offset=".020" stop-color="#3f93d3"/><stop offset=".033" stop-color="#1e3ba9"/><stop offset=".053" stop-color="#192d96"/><stop offset=".067" stop-color="#295ec2"/><stop offset=".073" stop-color="#52acd8"/><stop offset=".080" stop-color="#ddf4f9"/><stop offset=".087" stop-color="#f2ad5a"/><stop offset=".093" stop-color="#e44022"/><stop offset=".100" stop-color="#be1819"/><stop offset=".107" stop-color="#a50f14"/><stop offset=".120" stop-color="#cc1d1b"/><stop offset=".127" stop-color="#e64823"/><stop offset=".133" stop-color="#f2ac58"/><stop offset=".140" stop-color="#fefaf3"/><stop offset=".153" stop-color="#c9edf5"/><stop offset=".180" stop-color="#c3eaf3"/><stop offset=".200" stop-color="#77cbe0"/><stop offset=".247" stop-color="#60bedb"/><stop offset=".273" stop-color="#90d5e6"/><stop offset=".280" stop-color="#d1f0f6"/><stop offset=".287" stop-color="#f8d39f"/><stop offset=".293" stop-color="#ed6c2c"/><stop offset=".300" stop-color="#e74b23"/><stop offset=".373" stop-color="#e54623"/><stop offset=".380" stop-color="#ef923c"/><stop offset=".387" stop-color="#f7cd93"/><stop offset=".393" stop-color="#fcedd6"/><stop offset=".407" stop-color="#f7fcfd"/><stop offset=".413" stop-color="#c6ecf4"/><stop offset=".420" stop-color="#7acce1"/><stop offset=".427" stop-color="#489fd5"/><stop offset=".440" stop-color="#3687d1"/><stop offset=".467" stop-color="#3e91d3"/><stop offset=".473" stop-color="#66c4dc"/><stop offset=".480" stop-color="#b8e6f0"/><stop offset=".487" stop-color="#eef9fc"/><stop offset=".513" stop-color="#fef8ef"/><stop offset=".527" stop-color="#f8d7a6"/><stop offset=".560" stop-color="#f3ba6f"/><stop offset=".567" stop-color="#f5c481"/><stop offset=".580" stop-color="#fafdfe"/><stop offset=".593" stop-color="#99d9e8"/><stop offset=".607" stop-color="#7bcce1"/><stop offset=".640" stop-color="#aee1ee"/><stop offset=".660" stop-color="#a3ddeb"/><stop offset=".673" stop-color="#f7fcfe"/><stop offset=".700" stop-color="#fcecd4"/><stop offset=".727" stop-color="#fefbf6"/><stop offset=".740" stop-color="#fcebd1"/><stop offset=".760" stop-color="#f4c07a"/><stop offset=".773" stop-color="#f2ad5a"/><stop offset=".787" stop-color="#f6ca8d"/><stop offset=".807" stop-color="#fffefc"/><stop offset=".827" stop-color="#bfe9f2"/><stop offset=".853" stop-color="#abe0ed"/><stop offset=".880" stop-color="#fcfefe"/><stop offset=".887" stop-color="#fef8f0"/><stop offset=".907" stop-color="#f3b76b"/><stop offset=".973" stop-color="#f5c27d"/><stop offset="1" stop-color="#fdf4e7"/></linearGradient>
<linearGradient id="gp3_5" x1="0" y1="0" x2="0" y2="1"><stop offset=".000" stop-color="#95d7e7"/><stop offset=".007" stop-color="#61bfdb"/><stop offset=".020" stop-color="#4da5d6"/><stop offset=".033" stop-color="#2654be"/><stop offset=".060" stop-color="#2244b6"/><stop offset=".067" stop-color="#2348ba"/><stop offset=".073" stop-color="#3282d0"/><stop offset=".080" stop-color="#b8e6f0"/><stop offset=".087" stop-color="#f8d9aa"/><stop offset=".093" stop-color="#f3b364"/><stop offset=".120" stop-color="#f3ba6f"/><stop offset=".127" stop-color="#f6cb90"/><stop offset=".133" stop-color="#fcedd6"/><stop offset=".140" stop-color="#f9fdfe"/><stop offset=".160" stop-color="#bee8f2"/><stop offset=".187" stop-color="#daf3f8"/><stop offset=".200" stop-color="#80cee2"/><stop offset=".227" stop-color="#64c2dc"/><stop offset=".253" stop-color="#75cae0"/><stop offset=".273" stop-color="#98d8e8"/><stop offset=".280" stop-color="#e6f7fa"/><stop offset=".287" stop-color="#f4ba70"/><stop offset=".293" stop-color="#c21a19"/><stop offset=".300" stop-color="#a50f14"/><stop offset=".360" stop-color="#a50f14"/><stop offset=".367" stop-color="#c81c1a"/><stop offset=".373" stop-color="#e74e24"/><stop offset=".380" stop-color="#f2b05e"/><stop offset=".387" stop-color="#fdf1df"/><stop offset=".393" stop-color="#feffff"/><stop offset=".407" stop-color="#effafc"/><stop offset=".413" stop-color="#d3f0f7"/><stop offset=".427" stop-color="#54aed8"/><stop offset=".453" stop-color="#2345b8"/><stop offset=".467" stop-color="#4195d4"/><stop offset=".473" stop-color="#7ccde1"/><stop offset=".480" stop-color="#d4f1f7"/><stop offset=".487" stop-color="#fafdfe"/><stop offset=".500" stop-color="#fdf5e9"/><stop offset=".513" stop-color="#fffcf9"/><stop offset=".520" stop-color="#fdf1df"/><stop offset=".527" stop-color="#f4be77"/><stop offset=".533" stop-color="#f1a248"/><stop offset=".560" stop-color="#f3b364"/><stop offset=".567" stop-color="#f5c583"/><stop offset=".573" stop-color="#fceed8"/><stop offset=".580" stop-color="#f5fcfd"/><stop offset=".600" stop-color="#8ed4e5"/><stop offset=".640" stop-color="#63c2dc"/><stop offset=".660" stop-color="#8cd3e5"/><stop offset=".673" stop-color="#eaf8fb"/><stop offset=".787" stop-color="#feffff"/><stop offset=".793" stop-color="#effafc"/><stop offset=".807" stop-color="#8dd3e5"/><stop offset=".867" stop-color="#96d7e7"/><stop offset=".873" stop-color="#b1e3ef"/><stop offset=".880" stop-color="#f2fbfd"/><stop offset=".887" stop-color="#fdf1df"/><stop offset=".900" stop-color="#f4be77"/><stop offset=".907" stop-color="#f1a953"/><stop offset=".960" stop-color="#f1a952"/><stop offset=".980" stop-color="#f4c07b"/><stop offset=".993" stop-color="#fbe9cb"/><stop offset="1" stop-color="#fdf1e0"/></linearGradient>
<linearGradient id="gp3_6" x1="0" y1="0" x2="0" y2="1"><stop offset=".000" stop-color="#b8e6f0"/><stop offset=".007" stop-color="#85d0e3"/><stop offset=".020" stop-color="#59b5d9"/><stop offset=".027" stop-color="#317dce"/><stop offset=".033" stop-color="#2345b8"/><stop offset=".060" stop-color="#1b329c"/><stop offset=".067" stop-color="#1d38a5"/><stop offset=".073" stop-color="#2c68c6"/><stop offset=".080" stop-color="#b0e2ee"/><stop offset=".087" stop-color="#f7d099"/><stop offset=".093" stop-color="#f09f43"/><stop offset=".107" stop-color="#ef8c39"/><stop offset=".120" stop-color="#f1a248"/><stop offset=".127" stop-color="#f3b465"/><stop offset=".140" stop-color="#fffdfc"/><stop offset=".153" stop-color="#c6ecf4"/><stop offset=".187" stop-color="#ddf4f8"/><stop offset=".200" stop-color="#81cfe2"/><stop offset=".213" stop-color="#6cc6de"/><stop offset=".240" stop-color="#99d8e8"/><stop offset=".267" stop-color="#5ab5d9"/><stop offset=".273" stop-color="#72c9df"/><stop offset=".280" stop-color="#b5e4ef"/><stop offset=".287" stop-color="#f2ac58"/><stop offset=".293" stop-color="#c21a19"/><stop offset=".300" stop-color="#a50f14"/><stop offset=".360" stop-color="#a50f14"/><stop offset=".367" stop-color="#c81c1a"/><stop offset=".373" stop-color="#e74e24"/><stop offset=".380" stop-color="#f2ac58"/><stop offset=".387" stop-color="#fdf6ea"/><stop offset=".400" stop-color="#f9fdfe"/><stop offset=".413" stop-color="#f2fbfd"/><stop offset=".427" stop-color="#52acd8"/><stop offset=".440" stop-color="#3b8ed2"/><stop offset=".467" stop-color="#459bd5"/><stop offset=".473" stop-color="#61bfdb"/><stop offset=".487" stop-color="#fffdfa"/><stop offset=".500" stop-color="#fefaf4"/><stop offset=".527" stop-color="#ffffff"/><stop offset=".533" stop-color="#fdf1df"/><stop offset=".540" stop-color="#f8d6a5"/><stop offset=".560" stop-color="#f5c787"/><stop offset=".567" stop-color="#f8d7a6"/><stop offset=".573" stop-color="#fdf1e0"/><stop offset=".580" stop-color="#feffff"/><stop offset=".600" stop-color="#9ad9e8"/><stop offset=".640" stop-color="#73c9df"/><stop offset=".660" stop-color="#a0dcea"/><stop offset=".673" stop-color="#ffffff"/><stop offset=".687" stop-color="#f9deb5"/><stop offset=".693" stop-color="#f4bf78"/><stop offset=".700" stop-color="#ee7831"/><stop offset=".707" stop-color="#eb5a25"/><stop offset=".753" stop-color="#e74d24"/><stop offset=".760" stop-color="#e44222"/><stop offset=".767" stop-color="#ea5825"/><stop offset=".773" stop-color="#f2b160"/><stop offset=".780" stop-color="#fae0b8"/><stop offset=".793" stop-color="#fffefe"/><stop offset=".800" stop-color="#a0dbea"/><stop offset=".807" stop-color="#6dc7de"/><stop offset=".827" stop-color="#65c3dc"/><stop offset=".867" stop-color="#91d5e6"/><stop offset=".873" stop-color="#b3e4ef"/><stop offset=".880" stop-color="#fffefe"/><stop offset=".887" stop-color="#fdf6ea"/><stop offset=".893" stop-color="#f6fcfd"/><stop offset=".900" stop-color="#b1e3ee"/><stop offset=".907" stop-color="#96d7e7"/><stop offset=".973" stop-color="#aae0ed"/><stop offset=".987" stop-color="#abe0ed"/><stop offset="1" stop-color="#d2f0f6"/></linearGradient>
<linearGradient id="gp3_7" x1="0" y1="0" x2="0" y2="1"><stop offset=".000" stop-color="#a6deec"/><stop offset=".007" stop-color="#81cee2"/><stop offset=".020" stop-color="#75cae0"/><stop offset=".027" stop-color="#4399d4"/><stop offset=".033" stop-color="#2b66c5"/><stop offset=".053" stop-color="#192d96"/><stop offset=".067" stop-color="#1b339e"/><stop offset=".073" stop-color="#295ec2"/><stop offset=".080" stop-color="#ace1ed"/><stop offset=".087" stop-color="#f6cc91"/><stop offset=".093" stop-color="#ef923c"/><stop offset=".107" stop-color="#ee7730"/><stop offset=".120" stop-color="#f09c40"/><stop offset=".127" stop-color="#f3b363"/><stop offset=".140" stop-color="#fffdfa"/><stop offset=".153" stop-color="#e5f6fa"/><stop offset=".180" stop-color="#dff4f9"/><stop offset=".187" stop-color="#caedf5"/><stop offset=".200" stop-color="#75cae0"/><stop offset=".227" stop-color="#6bc6de"/><stop offset=".273" stop-color="#8ed4e5"/><stop offset=".280" stop-color="#b6e5f0"/><stop offset=".287" stop-color="#f5c787"/><stop offset=".293" stop-color="#eb5b25"/><stop offset=".300" stop-color="#e33e22"/><stop offset=".367" stop-color="#e33c21"/><stop offset=".373" stop-color="#e74b23"/><stop offset=".380" stop-color="#f1a74f"/><stop offset=".387" stop-color="#fdf4e5"/><stop offset=".393" stop-color="#ebf8fb"/><stop offset=".427" stop-color="#afe2ee"/><stop offset=".447" stop-color="#b7e6f0"/><stop offset=".453" stop-color="#d9f2f8"/><stop offset=".473" stop-color="#f3fbfd"/><stop offset=".487" stop-color="#fcedd5"/><stop offset=".513" stop-color="#f3fbfd"/><stop offset=".527" stop-color="#ddf4f8"/><stop offset=".560" stop-color="#fefcf7"/><stop offset=".580" stop-color="#fef7ec"/><stop offset=".587" stop-color="#effafc"/><stop offset=".593" stop-color="#96d7e7"/><stop offset=".600" stop-color="#7fcee2"/><stop offset=".660" stop-color="#96d7e7"/><stop offset=".673" stop-color="#e0f5f9"/><stop offset=".693" stop-color="#f1fafc"/><stop offset=".740" stop-color="#f5fcfd"/><stop offset=".787" stop-color="#fcefd9"/><stop offset=".793" stop-color="#fef9f2"/><stop offset=".807" stop-color="#7ccde1"/><stop offset=".827" stop-color="#54aed8"/><stop offset=".860" stop-color="#60bedb"/><stop offset=".867" stop-color="#77cbe0"/><stop offset=".873" stop-color="#ceeff5"/><stop offset=".880" stop-color="#f9dfb5"/><stop offset=".887" stop-color="#f5c685"/><stop offset=".900" stop-color="#fae0b7"/><stop offset=".907" stop-color="#fdf2e2"/><stop offset=".913" stop-color="#e5f6fa"/><stop offset=".920" stop-color="#b6e5f0"/><stop offset=".980" stop-color="#92d5e6"/><stop offset="1" stop-color="#ddf4f8"/></linearGradient>
<linearGradient id="gp3_8" x1="0" y1="0" x2="0" y2="1"><stop offset=".000" stop-color="#a7dfec"/><stop offset=".007" stop-color="#73c9df"/><stop offset=".020" stop-color="#51aad7"/><stop offset=".033" stop-color="#2345b8"/><stop offset=".060" stop-color="#1f3ba9"/><stop offset=".067" stop-color="#2245b7"/><stop offset=".073" stop-color="#388ad2"/><stop offset=".080" stop-color="#aae0ed"/><stop offset=".087" stop-color="#f9fdfe"/><stop offset=".093" stop-color="#f5c685"/><stop offset=".100" stop-color="#ee7730"/><stop offset=".107" stop-color="#e74b23"/><stop offset=".127" stop-color="#e03120"/><stop offset=".133" stop-color="#e33c21"/><stop offset=".140" stop-color="#ef8938"/><stop offset=".147" stop-color="#fae0b8"/><stop offset=".153" stop-color="#eaf8fb"/><stop offset=".167" stop-color="#c7ecf4"/><stop offset=".180" stop-color="#d2f0f6"/><stop offset=".187" stop-color="#c0e9f2"/><stop offset=".193" stop-color="#8cd3e5"/><stop offset=".200" stop-color="#74cae0"/><stop offset=".253" stop-color="#6dc7de"/><stop offset=".273" stop-color="#68c5dd"/><stop offset=".280" stop-color="#78cbe0"/><stop offset=".293" stop-color="#d0eff6"/><stop offset=".327" stop-color="#fefaf3"/><stop offset=".353" stop-color="#ebf8fb"/><stop offset=".367" stop-color="#dcf3f8"/><stop offset=".387" stop-color="#fefbf6"/><stop offset=".400" stop-color="#f3fbfd"/><stop offset=".407" stop-color="#b2e3ef"/><stop offset=".460" stop-color="#a4ddeb"/><stop offset=".473" stop-color="#b5e5f0"/><stop offset=".487" stop-color="#fdfeff"/><stop offset=".513" stop-color="#fdf1df"/><stop offset=".553" stop-color="#fef7ec"/><stop offset=".580" stop-color="#fdfeff"/><stop offset=".593" stop-color="#a6deeb"/><stop offset=".607" stop-color="#99d8e8"/><stop offset=".613" stop-color="#a4ddeb"/><stop offset=".640" stop-color="#6fc7de"/><stop offset=".660" stop-color="#86d1e4"/><stop offset=".667" stop-color="#b5e5f0"/><stop offset=".673" stop-color="#fdfeff"/><stop offset=".693" stop-color="#fcf0dd"/><stop offset=".727" stop-color="#f4fbfd"/><stop offset=".760" stop-color="#fef8ef"/><stop offset=".787" stop-color="#fef8ee"/><stop offset=".793" stop-color="#fbfefe"/><stop offset=".807" stop-color="#8bd2e5"/><stop offset=".847" stop-color="#58b4d9"/><stop offset=".853" stop-color="#4ea6d7"/><stop offset=".867" stop-color="#77cbe0"/><stop offset=".873" stop-color="#a4ddeb"/><stop offset=".880" stop-color="#eaf8fb"/><stop offset=".887" stop-color="#f5fcfd"/><stop offset=".907" stop-color="#97d8e8"/><stop offset=".967" stop-color="#ace1ed"/><stop offset="1" stop-color="#def4f9"/></linearGradient>
<clipPath id="cpp3"><rect x="439.7" y="42.5" width="61.9" height="104.7"/></clipPath>
<path id="wp3" transform="scale(0.1)" d="M4386 424l-3 6 0 8-10 6 0 8-7 6 0 8-29 6 0 8-42 6 0 8-35 6 0 8 53 6 0 8 75 6 0 8 49 6 0 8 15 6 0 8-9 6 0 8-30 6 0 8-17 6 0 8-8 6 0 8-13 6 0 8-7 6 0 8-6 6 0 8-12 6 0 8-14 6 0 8-4 6 0 8 11 6 0 8 33 6 0 8 20 6 0 8 4 6 0 7 7 7 0 8 12 6 0 8 8 6 0 8 8 6 0 8 8 6 0 7-2 7 0 8-15 6 0 8-19 6 0 8-9 6 0 8-11 6 0 7-13 7 0 8-5 6 0 8 1 6 0 8 13 6 0 8 23 6 0 7 12 7 0 8 1 6 0 8-1 6 0 8-6 6 0 8-20 6 0 8-23 6 0 8-5 6 0 8 6 6 0 8 11 6 0 8 10 6 0 8 1 6 0 8-2 6 0 8 0 6 0 8 3 6 0 8 1 6 0 8-1 6 0 8-2 6 0 8-2 6 0 8 0 6 0 8 0 6 0 8-4 6 0 8-10 6 0 8-7 6 0 7-3 7 0 8 3 6 0 8 10 6 0 8 13 6 0 8 10 6 0 7 9 7 0 8 13 6 0 8 6 6 0 8-3 6 0 8-5 6 0 7-5 7 0 8-10 6 0 8-16 6M4446 424l-4 6 0 8-13 6 0 8-13 6 0 8-34 6 0 8-30 6 0 8-14 6 0 8 65 6 0 8 60 6 0 8 17 6 0 8-1 6 0 8-8 6 0 8-13 6 0 8 1 6 0 8 3 6 0 8-7 6 0 8-7 6 0 8-10 6 0 8-11 6 0 8-8 6 0 8 0 6 0 8 14 6 0 8 28 6 0 8 18 6 0 8 8 6 0 7 7 7 0 8 3 6 0 8 2 6 0 8 2 6 0 8-3 6 0 7-14 7 0 8-20 6 0 8-16 6 0 8-9 6 0 8-11 6 0 7-10 7 0 8 2 6 0 8 8 6 0 8 14 6 0 8 17 6 0 7 10 7 0 8 7 6 0 8 8 6 0 8 4 6 0 8-4 6 0 8-9 6 0 8-8 6 0 8-9 6 0 8-3 6 0 8 7 6 0 8 7 6 0 8 3 6 0 8-1 6 0 8-1 6 0 8-3 6 0 8-6 6 0 8-8 6 0 8-9 6 0 8-7 6 0 8-2 6 0 8 11 6 0 8 13 6 0 8 9 6 0 7-1 7 0 8-2 6 0 8 1 6 0 8 1 6 0 8-1 6 0 7 9 7 0 8 18 6 0 8 5 6 0 8-1 6 0 8-3 6 0 7-3 7 0 8-11 6 0 8-25 6M4519 424l-7 6 0 8-9 6 0 8-4 6 0 8-30 6 0 8-35 6 0 8-24 6 0 8 69 6 0 8 68 6 0 8 18 6 0 8 0 6 0 8-5 6 0 8-4 6 0 8-5 6 0 8-20 6 0 8-28 6 0 8-9 6 0 8 1 6 0 8 1 6 0 8 1 6 0 8 2 6 0 8 5 6 0 8 7 6 0 8 5 6 0 8 19 6 0 7 28 7 0 8 15 6 0 8 4 6 0 8-2 6 0 8-7 6 0 7-15 7 0 8-17 6 0 8-5 6 0 8-7 6 0 8-10 6 0 7-7 7 0 8 2 6 0 8 9 6 0 8 10 6 0 8 8 6 0 7 2 7 0 8-6 6 0 8-10 6 0 8-5 6 0 8 0 6 0 8 0 6 0 8 4 6 0 8 10 6 0 8 10 6 0 8 5 6 0 8 2 6 0 8 3 6 0 8-1 6 0 8-2 6 0 8-5 6 0 8-10 6 0 8-11 6 0 8-4 6 0 8 6 6 0 8 9 6 0 8 6 6 0 8 1 6 0 8 1 6 0 7-3 7 0 8-5 6 0 8-6 6 0 8-6 6 0 8-4 6 0 7 13 7 0 8 31 6 0 8 16 6 0 8 3 6 0 8-4 6 0 7-4 7 0 8-11 6 0 8-22 6M4596 424l-13 6 0 8-13 6 0 8-10 6 0 8-33 6 0 8-32 6 0 8-8 6 0 8 85 6 0 8 64 6 0 8 7 6 0 8-16 6 0 8-21 6 0 8-8 6 0 8 3 6 0 8 3 6 0 8-3 6 0 8-4 6 0 8-6 6 0 8-3 6 0 8 1 6 0 8 4 6 0 8 5 6 0 8 8 6 0 8 6 6 0 8 12 6 0 7 18 7 0 8 10 6 0 8 2 6 0 8 0 6 0 8-5 6 0 7-19 7 0 8-27 6 0 8-12 6 0 8-3 6 0 8-2 6 0 7-1 7 0 8 3 6 0 8 5 6 0 8 10 6 0 8 14 6 0 7 11 7 0 8 3 6 0 8-2 6 0 8-6 6 0 8-9 6 0 8-8 6 0 8-8 6 0 8-5 6 0 8-3 6 0 8 6 6 0 8 13 6 0 8 7 6 0 8-8 6 0 8-13 6 0 8-7 6 0 8-1 6 0 8 2 6 0 8 6 6 0 8 10 6 0 8 6 6 0 8-6 6 0 8-11 6 0 8-4 6 0 7 3 7 0 8 4 6 0 8 6 6 0 8 10 6 0 8 8 6 0 7 4 7 0 8 5 6 0 8 3 6 0 8 4 6 0 8 4 6 0 7-2 7 0 8-16 6 0 8-19 6M4641 424l-12 6 0 8-13 6 0 8-7 6 0 8-31 6 0 8-30 6 0 8-3 6 0 8 90 6 0 8 72 6 0 8 19 6 0 8-12 6 0 8-28 6 0 8-13 6 0 8-5 6 0 8-6 6 0 8-10 6 0 8-5 6 0 8-3 6 0 8 1 6 0 8 8 6 0 8 13 6 0 8 17 6 0 8 22 6 0 8 9 6 0 8 1 6 0 7 2 7 0 8 2 6 0 8 0 6 0 8-3 6 0 8-9 6 0 7-13 7 0 8-16 6 0 8-17 6 0 8-14 6 0 8-10 6 0 7 0 7 0 8 17 6 0 8 15 6 0 8 2 6 0 8-2 6 0 7 2 7 0 8 0 6 0 8-2 6 0 8-9 6 0 8-9 6 0 8-4 6 0 8 0 6 0 8 1 6 0 8 2 6 0 8 8 6 0 8 15 6 0 8 10 6 0 8-6 6 0 8-14 6 0 8-8 6 0 8 0 6 0 8 4 6 0 8 6 6 0 8 7 6 0 8 3 6 0 8 0 6 0 8-1 6 0 8-1 6 0 7-5 7 0 8-8 6 0 8-2 6 0 8 3 6 0 8 7 6 0 7 13 7 0 8 16 6 0 8 13 6 0 8 4 6 0 8-3 6 0 7-5 7 0 8-6 6 0 8-6 6M4730 424l-8 6 0 8-7 6 0 8-3 6 0 8-30 6 0 8-35 6 0 8-15 6 0 8 77 6 0 8 61 6 0 8 7 6 0 8-18 6 0 8-19 6 0 8-8 6 0 8-3 6 0 8-8 6 0 8-12 6 0 8-9 6 0 8-4 6 0 8-2 6 0 8 5 6 0 8 9 6 0 8 25 6 0 8 41 6 0 8 17 6 0 8 2 6 0 7-3 7 0 8-4 6 0 8-2 6 0 8-6 6 0 8-14 6 0 7-8 7 0 8-7 6 0 8-15 6 0 8-14 6 0 8-9 6 0 7 3 7 0 8 16 6 0 8 14 6 0 8 5 6 0 8 8 6 0 7 11 7 0 8 2 6 0 8-4 6 0 8-12 6 0 8-12 6 0 8-7 6 0 8-2 6 0 8 1 6 0 8 0 6 0 8-5 6 0 8-1 6 0 8 2 6 0 8 3 6 0 8 4 6 0 8 5 6 0 8 8 6 0 8 11 6 0 8 8 6 0 8 2 6 0 8-3 6 0 8-10 6 0 8-9 6 0 8-6 6 0 7-8 7 0 8-7 6 0 8 0 6 0 8 11 6 0 8 15 6 0 7 9 7 0 8 0 6 0 8-2 6 0 8 2 6 0 8 3 6 0 7-1 7 0 8-10 6 0 8-11 6M4808 424l-9 6 0 8-9 6 0 8-7 6 0 8-32 6 0 8-32 6 0 8-11 6 0 8 80 6 0 8 60 6 0 8 5 6 0 8-23 6 0 8-26 6 0 8-9 6 0 8 7 6 0 8 6 6 0 8-8 6 0 8-9 6 0 8-5 6 0 8-2 6 0 8-2 6 0 8 2 6 0 8 25 6 0 8 45 6 0 8 16 6 0 8 9 6 0 7 6 7 0 8-3 6 0 8-15 6 0 8-27 6 0 8-32 6 0 7-16 7 0 8-10 6 0 8-15 6 0 8-6 6 0 8 0 6 0 7 7 7 0 8 19 6 0 8 18 6 0 8 10 6 0 8 10 6 0 7 12 7 0 8 4 6 0 8-3 6 0 8-10 6 0 8-12 6 0 8-8 6 0 8-1 6 0 8 0 6 0 8-5 6 0 8-7 6 0 8 0 6 0 8 8 6 0 8 10 6 0 8 11 6 0 8 4 6 0 8 3 6 0 8 5 6 0 8 6 6 0 8-1 6 0 8-7 6 0 8-14 6 0 8-12 6 0 8-9 6 0 7-10 7 0 8-8 6 0 8-1 6 0 8 9 6 0 8 8 6 0 7 6 7 0 8 6 6 0 8 3 6 0 8-2 6 0 8-1 6 0 7 1 7 0 8 0 6 0 8 1 6M4855 424l-8 6 0 8-9 6 0 8-4 6 0 8-29 6 0 8-30 6 0 8-7 6 0 8 83 6 0 8 55 6 0 8-4 6 0 8-20 6 0 8-10 6 0 8 5 6 0 8 6 6 0 8-7 6 0 8-15 6 0 8-10 6 0 8-5 6 0 8-3 6 0 8-3 6 0 8 1 6 0 8 22 6 0 8 42 6 0 8 16 6 0 8 8 6 0 7 9 7 0 8 9 6 0 8-3 6 0 8-19 6 0 8-31 6 0 7-20 7 0 8-11 6 0 8-10 6 0 8 5 6 0 8 15 6 0 7 14 7 0 8 10 6 0 8 4 6 0 8-8 6 0 8-12 6 0 7-7 7 0 8 0 6 0 8 0 6 0 8-2 6 0 8-2 6 0 8 0 6 0 8 1 6 0 8-8 6 0 8-10 6 0 8 0 6 0 8 12 6 0 8 15 6 0 8 8 6 0 8 2 6 0 8 0 6 0 8 7 6 0 8 11 6 0 8 5 6 0 8-11 6 0 8-19 6 0 8-21 6 0 8-13 6 0 8-1 6 0 7 7 7 0 8 11 6 0 8 15 6 0 8 12 6 0 8-4 6 0 7-14 7 0 8-4 6 0 8 2 6 0 8-1 6 0 8-8 6 0 7-5 7 0 8 4 6 0 8 12 6M4948 424l-7 6 0 8-12 6 0 8-16 6 0 8-45 6 0 8-41 6 0 8-11 6 0 8 87 6 0 8 72 6 0 8 17 6 0 8-5 6 0 8-16 6 0 8-12 6 0 8-3 6 0 8-7 6 0 8-10 6 0 8-2 6 0 8 3 6 0 8 4 6 0 8-2 6 0 8-6 6 0 8 2 6 0 8 22 6 0 8 17 6 0 8 9 6 0 7 4 7 0 8-1 6 0 8-3 6 0 8-9 6 0 8-17 6 0 7-13 7 0 8-4 6 0 8 1 6 0 8-3 6 0 8-7 6 0 7-4 7 0 8 0 6 0 8 2 6 0 8 1 6 0 8 11 6 0 7 15 7 0 8 11 6 0 8 3 6 0 8-2 6 0 8-12 6 0 8-16 6 0 8-9 6 0 8-8 6 0 8-8 6 0 8 0 6 0 8 15 6 0 8 18 6 0 8 8 6 0 8 0 6 0 8-3 6 0 8-1 6 0 8 1 6 0 8 2 6 0 8 2 6 0 8-3 6 0 8-14 6 0 8-17 6 0 8-11 6 0 7-8 7 0 8-3 6 0 8 6 6 0 8 19 6 0 8 11 6 0 7-3 7 0 8-7 6 0 8-5 6 0 8 0 6 0 8 8 6 0 7 12 7 0 8 7 6 0 8 0 6M5018 424l-10 6 0 8-17 6 0 8-21 6 0 8-43 6 0 8-33 6 0 8-8 6 0 8 86 6 0 8 71 6 0 8 12 6 0 8-5 6 0 8-19 6 0 8-15 6 0 8-3 6 0 8-7 6 0 8-10 6 0 8 2 6 0 8 8 6 0 8 5 6 0 8 0 6 0 8-2 6 0 8 0 6 0 8 1 6 0 8-4 6 0 8-3 6 0 7-2 7 0 8-3 6 0 8 1 6 0 8 7 6 0 8 8 6 0 7-5 7 0 8-9 6 0 8-1 6 0 8 5 6 0 8 8 6 0 7 7 7 0 8 7 6 0 8 6 6 0 8-4 6 0 8-10 6 0 7-7 7 0 8 0 6 0 8 3 6 0 8 3 6 0 8-1 6 0 8-4 6 0 8-6 6 0 8-15 6 0 8-14 6 0 8-1 6 0 8 14 6 0 8 17 6 0 8 8 6 0 8 3 6 0 8-2 6 0 8-4 6 0 8-2 6 0 8 0 6 0 8 2 6 0 8 0 6 0 8-5 6 0 8-1 6 0 8 3 6 0 7-6 7 0 8-8 6 0 8 3 6 0 8 12 6 0 8 1 6 0 7-5 7 0 8 1 6 0 8 3 6 0 8 0 6 0 8 0 6 0 7 1 7 0 8-1 6 0 8-2 6"/>
<linearGradient id="gp4_0" x1="0" y1="0" x2="0" y2="1"><stop offset=".000" stop-color="#fcf0dd"/><stop offset=".013" stop-color="#f8d4a0"/><stop offset=".020" stop-color="#f8d5a4"/><stop offset=".027" stop-color="#fcebd2"/><stop offset=".033" stop-color="#a4ddeb"/><stop offset=".040" stop-color="#2e74cb"/><stop offset=".047" stop-color="#2654be"/><stop offset=".100" stop-color="#244bbb"/><stop offset=".107" stop-color="#3f93d3"/><stop offset=".113" stop-color="#fafdfe"/><stop offset=".120" stop-color="#f9daac"/><stop offset=".160" stop-color="#f7d39f"/><stop offset=".180" stop-color="#fdf3e2"/><stop offset=".193" stop-color="#fcecd3"/><stop offset=".200" stop-color="#f6cc90"/><stop offset=".207" stop-color="#ed6f2d"/><stop offset=".213" stop-color="#e03320"/><stop offset=".227" stop-color="#c81c1a"/><stop offset=".233" stop-color="#aa1115"/><stop offset=".273" stop-color="#a50f14"/><stop offset=".287" stop-color="#d01f1c"/><stop offset=".293" stop-color="#e74c23"/><stop offset=".300" stop-color="#f2b262"/><stop offset=".307" stop-color="#fdf4e5"/><stop offset=".313" stop-color="#fefcf7"/><stop offset=".333" stop-color="#fcecd3"/><stop offset=".353" stop-color="#f9fdfe"/><stop offset=".367" stop-color="#daf3f8"/><stop offset=".387" stop-color="#ffffff"/><stop offset=".400" stop-color="#fdf4e5"/><stop offset=".407" stop-color="#fefbf6"/><stop offset=".413" stop-color="#def4f9"/><stop offset=".420" stop-color="#a2dcea"/><stop offset=".453" stop-color="#60bddb"/><stop offset=".487" stop-color="#afe2ee"/><stop offset=".500" stop-color="#f9fdfe"/><stop offset=".533" stop-color="#fdf1e0"/><stop offset=".560" stop-color="#f0fafc"/><stop offset=".587" stop-color="#d1f0f6"/><stop offset=".600" stop-color="#8cd3e5"/><stop offset=".647" stop-color="#5dbada"/><stop offset=".673" stop-color="#79cbe1"/><stop offset=".680" stop-color="#bfe9f2"/><stop offset=".687" stop-color="#f4bc72"/><stop offset=".693" stop-color="#db231e"/><stop offset=".700" stop-color="#aa1115"/><stop offset=".760" stop-color="#bb1718"/><stop offset=".767" stop-color="#cb1d1b"/><stop offset=".773" stop-color="#ea5925"/><stop offset=".780" stop-color="#f6cd93"/><stop offset=".787" stop-color="#fefaf4"/><stop offset=".807" stop-color="#fef8ef"/><stop offset=".833" stop-color="#fbeacf"/><stop offset=".880" stop-color="#fdfeff"/><stop offset=".900" stop-color="#fffcf9"/><stop offset=".907" stop-color="#fcf0dc"/><stop offset=".920" stop-color="#f5c27e"/><stop offset=".973" stop-color="#f2ad5a"/><stop offset=".987" stop-color="#f3b76b"/><stop offset=".993" stop-color="#f7cf97"/><stop offset="1" stop-color="#fdf5e9"/></linearGradient>
<linearGradient id="gp4_1" x1="0" y1="0" x2="0" y2="1"><stop offset=".000" stop-color="#fbe7c8"/><stop offset=".007" stop-color="#f4c17b"/><stop offset=".013" stop-color="#f2ae5c"/><stop offset=".020" stop-color="#f3b567"/><stop offset=".027" stop-color="#fae4c1"/><stop offset=".033" stop-color="#86d1e4"/><stop offset=".040" stop-color="#2e74cb"/><stop offset=".047" stop-color="#2654be"/><stop offset=".093" stop-color="#2141b2"/><stop offset=".100" stop-color="#254fbc"/><stop offset=".107" stop-color="#52abd8"/><stop offset=".113" stop-color="#e9f8fb"/><stop offset=".120" stop-color="#fae4c1"/><stop offset=".153" stop-color="#f9dfb6"/><stop offset=".173" stop-color="#fffefd"/><stop offset=".193" stop-color="#c2eaf3"/><stop offset=".227" stop-color="#d2f0f6"/><stop offset=".240" stop-color="#b4e4ef"/><stop offset=".247" stop-color="#b7e6f0"/><stop offset=".260" stop-color="#f0fafc"/><stop offset=".280" stop-color="#feffff"/><stop offset=".293" stop-color="#fefcf8"/><stop offset=".307" stop-color="#f4bb71"/><stop offset=".320" stop-color="#ef933c"/><stop offset=".327" stop-color="#f1a34a"/><stop offset=".333" stop-color="#f4be75"/><stop offset=".340" stop-color="#fbe7c8"/><stop offset=".347" stop-color="#fffefc"/><stop offset=".373" stop-color="#f5fcfd"/><stop offset=".400" stop-color="#fffefe"/><stop offset=".407" stop-color="#f0fafc"/><stop offset=".420" stop-color="#71c8df"/><stop offset=".433" stop-color="#64c3dc"/><stop offset=".460" stop-color="#79cbe1"/><stop offset=".480" stop-color="#70c8df"/><stop offset=".487" stop-color="#97d8e8"/><stop offset=".493" stop-color="#e0f5f9"/><stop offset=".500" stop-color="#fffefd"/><stop offset=".527" stop-color="#fefbf5"/><stop offset=".580" stop-color="#d5f1f7"/><stop offset=".600" stop-color="#7ccde1"/><stop offset=".620" stop-color="#5ab6da"/><stop offset=".653" stop-color="#57b2d9"/><stop offset=".673" stop-color="#72c9df"/><stop offset=".687" stop-color="#c3ebf3"/><stop offset=".713" stop-color="#d9f2f8"/><stop offset=".753" stop-color="#fefaf3"/><stop offset=".767" stop-color="#fffdfb"/><stop offset=".780" stop-color="#abe0ed"/><stop offset=".793" stop-color="#b5e4ef"/><stop offset=".800" stop-color="#d0eff6"/><stop offset=".827" stop-color="#89d2e4"/><stop offset=".840" stop-color="#8ed4e5"/><stop offset=".847" stop-color="#a3ddeb"/><stop offset=".860" stop-color="#f5fcfd"/><stop offset=".893" stop-color="#def4f9"/><stop offset=".900" stop-color="#effafc"/><stop offset=".913" stop-color="#f1a851"/><stop offset=".927" stop-color="#ee7d33"/><stop offset=".933" stop-color="#ed7630"/><stop offset=".960" stop-color="#f2b262"/><stop offset=".987" stop-color="#f09e41"/><stop offset="1" stop-color="#fbe8cb"/></linearGradient>
<linearGradient id="gp4_2" x1="0" y1="0" x2="0" y2="1"><stop offset=".000" stop-color="#fbe6c6"/><stop offset=".007" stop-color="#f5c481"/><stop offset=".013" stop-color="#f2b161"/><stop offset=".020" stop-color="#f3b76b"/><stop offset=".027" stop-color="#fae5c2"/><stop offset=".033" stop-color="#88d2e4"/><stop offset=".040" stop-color="#2e74cb"/><stop offset=".047" stop-color="#2654be"/><stop offset=".093" stop-color="#2652be"/><stop offset=".100" stop-color="#2d6dc8"/><stop offset=".107" stop-color="#83cfe3"/><stop offset=".113" stop-color="#fefaf4"/><stop offset=".120" stop-color="#f5c584"/><stop offset=".147" stop-color="#f2ad5a"/><stop offset=".160" stop-color="#f3b263"/><stop offset=".167" stop-color="#f8d6a4"/><stop offset=".180" stop-color="#fffefc"/><stop offset=".193" stop-color="#a3ddeb"/><stop offset=".253" stop-color="#ade1ed"/><stop offset=".267" stop-color="#f5fcfd"/><stop offset=".293" stop-color="#f2fbfc"/><stop offset=".300" stop-color="#fdf2e1"/><stop offset=".307" stop-color="#f7ce95"/><stop offset=".320" stop-color="#f6c788"/><stop offset=".340" stop-color="#ef953d"/><stop offset=".347" stop-color="#ed7630"/><stop offset=".373" stop-color="#f2b05e"/><stop offset=".460" stop-color="#f3ba6f"/><stop offset=".467" stop-color="#f7cf97"/><stop offset=".473" stop-color="#fcf0dd"/><stop offset=".480" stop-color="#fef7ed"/><stop offset=".487" stop-color="#fdf1df"/><stop offset=".500" stop-color="#f6ca8e"/><stop offset=".507" stop-color="#f1a349"/><stop offset=".540" stop-color="#f4be75"/><stop offset=".553" stop-color="#f4c17b"/><stop offset=".560" stop-color="#f7d19b"/><stop offset=".567" stop-color="#fdf5e9"/><stop offset=".573" stop-color="#effafc"/><stop offset=".587" stop-color="#8ad2e4"/><stop offset=".593" stop-color="#6ac6dd"/><stop offset=".627" stop-color="#85d0e3"/><stop offset=".667" stop-color="#80cee2"/><stop offset=".673" stop-color="#99d8e8"/><stop offset=".680" stop-color="#e2f5f9"/><stop offset=".687" stop-color="#fef9f1"/><stop offset=".707" stop-color="#fdf2e1"/><stop offset=".767" stop-color="#fcfefe"/><stop offset=".773" stop-color="#dff4f9"/><stop offset=".780" stop-color="#a5deeb"/><stop offset=".800" stop-color="#8bd2e5"/><stop offset=".833" stop-color="#9fdbea"/><stop offset=".847" stop-color="#ace1ed"/><stop offset=".860" stop-color="#e3f6fa"/><stop offset=".900" stop-color="#f1fafc"/><stop offset=".913" stop-color="#f3b364"/><stop offset=".927" stop-color="#f2b05e"/><stop offset=".967" stop-color="#f1a953"/><stop offset=".987" stop-color="#ef8f3b"/><stop offset=".993" stop-color="#f4bb72"/><stop offset="1" stop-color="#fdf1e0"/></linearGradient>
<linearGradient id="gp4_3" x1="0" y1="0" x2="0" y2="1"><stop offset=".000" stop-color="#fbe5c3"/><stop offset=".007" stop-color="#f6c788"/><stop offset=".013" stop-color="#f3b466"/><stop offset=".020" stop-color="#f3b96e"/><stop offset=".027" stop-color="#fae2bd"/><stop offset=".033" stop-color="#7ccde1"/><stop offset=".040" stop-color="#285ac1"/><stop offset=".053" stop-color="#203eae"/><stop offset=".093" stop-color="#2652be"/><stop offset=".100" stop-color="#2d6dc8"/><stop offset=".107" stop-color="#8ad2e5"/><stop offset=".113" stop-color="#f7fcfd"/><stop offset=".120" stop-color="#f4bf78"/><stop offset=".133" stop-color="#f1a44b"/><stop offset=".153" stop-color="#f1a44c"/><stop offset=".160" stop-color="#f2b262"/><stop offset=".167" stop-color="#f8d8aa"/><stop offset=".180" stop-color="#fef8ef"/><stop offset=".193" stop-color="#bfe9f2"/><stop offset=".220" stop-color="#aee1ee"/><stop offset=".247" stop-color="#a6deec"/><stop offset=".267" stop-color="#e9f8fb"/><stop offset=".287" stop-color="#ebf8fb"/><stop offset=".293" stop-color="#fefcf8"/><stop offset=".300" stop-color="#f8d5a2"/><stop offset=".307" stop-color="#f4c07a"/><stop offset=".333" stop-color="#f3b86d"/><stop offset=".353" stop-color="#f2b05f"/><stop offset=".373" stop-color="#f4ba70"/><stop offset=".407" stop-color="#ef8c39"/><stop offset=".433" stop-color="#ee7831"/><stop offset=".453" stop-color="#ee8235"/><stop offset=".460" stop-color="#f09b40"/><stop offset=".467" stop-color="#f3ba6f"/><stop offset=".473" stop-color="#fceed8"/><stop offset=".480" stop-color="#f4fbfd"/><stop offset=".493" stop-color="#fef8ee"/><stop offset=".507" stop-color="#f5c481"/><stop offset=".527" stop-color="#f2ab56"/><stop offset=".553" stop-color="#f1a751"/><stop offset=".560" stop-color="#f3b466"/><stop offset=".573" stop-color="#fef7ed"/><stop offset=".580" stop-color="#dcf3f8"/><stop offset=".587" stop-color="#93d6e6"/><stop offset=".593" stop-color="#78cbe0"/><stop offset=".620" stop-color="#91d5e6"/><stop offset=".667" stop-color="#91d5e6"/><stop offset=".673" stop-color="#a8dfec"/><stop offset=".680" stop-color="#f0fafc"/><stop offset=".700" stop-color="#fdf6e9"/><stop offset=".753" stop-color="#fdfeff"/><stop offset=".773" stop-color="#fefcf8"/><stop offset=".780" stop-color="#eaf8fb"/><stop offset=".787" stop-color="#abe0ed"/><stop offset=".800" stop-color="#8fd4e6"/><stop offset=".827" stop-color="#ade1ed"/><stop offset=".847" stop-color="#abe0ed"/><stop offset=".860" stop-color="#f0fafc"/><stop offset=".900" stop-color="#fffdfb"/><stop offset=".913" stop-color="#f0a146"/><stop offset=".927" stop-color="#ed752f"/><stop offset=".953" stop-color="#f0983f"/><stop offset=".980" stop-color="#f3ba6f"/><stop offset="1" stop-color="#fdf5e7"/></linearGradient>
<linearGradient id="gp4_4" x1="0" y1="0" x2="0" y2="1"><stop offset=".000" stop-color="#fdf3e4"/><stop offset=".007" stop-color="#f7d099"/><stop offset=".013" stop-color="#f5c686"/><stop offset=".020" stop-color="#f7d19b"/><stop offset=".027" stop-color="#fcecd3"/><stop offset=".033" stop-color="#a6deec"/><stop offset=".040" stop-color="#2e74cb"/><stop offset=".047" stop-color="#2654be"/><stop offset=".067" stop-color="#203ead"/><stop offset=".080" stop-color="#192d96"/><stop offset=".093" stop-color="#203faf"/><stop offset=".100" stop-color="#2c69c6"/><stop offset=".107" stop-color="#82cfe3"/><stop offset=".113" stop-color="#fae3bf"/><stop offset=".120" stop-color="#f3b669"/><stop offset=".133" stop-color="#ef943d"/><stop offset=".153" stop-color="#f1a750"/><stop offset=".160" stop-color="#f3b86c"/><stop offset=".173" stop-color="#fefaf3"/><stop offset=".207" stop-color="#ace1ed"/><stop offset=".253" stop-color="#bee8f2"/><stop offset=".273" stop-color="#fffefc"/><stop offset=".313" stop-color="#fcf0dc"/><stop offset=".327" stop-color="#fdf1de"/><stop offset=".340" stop-color="#f7d29d"/><stop offset=".347" stop-color="#f3b86c"/><stop offset=".373" stop-color="#f09a3f"/><stop offset=".400" stop-color="#f4bd74"/><stop offset=".427" stop-color="#ef923c"/><stop offset=".460" stop-color="#f1a54c"/><stop offset=".467" stop-color="#f3b466"/><stop offset=".480" stop-color="#fdf4e6"/><stop offset=".487" stop-color="#fefcf7"/><stop offset=".493" stop-color="#fdf3e4"/><stop offset=".500" stop-color="#f6cb8f"/><stop offset=".507" stop-color="#f3b363"/><stop offset=".553" stop-color="#f2af5c"/><stop offset=".560" stop-color="#f3b96e"/><stop offset=".567" stop-color="#fae2bd"/><stop offset=".573" stop-color="#fef9f0"/><stop offset=".587" stop-color="#cfeff6"/><stop offset=".593" stop-color="#98d8e8"/><stop offset=".613" stop-color="#52abd8"/><stop offset=".640" stop-color="#90d4e6"/><stop offset=".667" stop-color="#68c4dd"/><stop offset=".673" stop-color="#74c9e0"/><stop offset=".680" stop-color="#a4ddeb"/><stop offset=".687" stop-color="#f0fafc"/><stop offset=".720" stop-color="#fffdfa"/><stop offset=".747" stop-color="#fdf2e1"/><stop offset=".767" stop-color="#fffefc"/><stop offset=".780" stop-color="#ade1ed"/><stop offset=".807" stop-color="#bae7f1"/><stop offset=".847" stop-color="#b2e3ef"/><stop offset=".853" stop-color="#b8e6f0"/><stop offset=".867" stop-color="#edf9fc"/><stop offset=".887" stop-color="#fefaf4"/><stop offset=".900" stop-color="#fbe9cc"/><stop offset=".907" stop-color="#f6c98c"/><stop offset=".920" stop-color="#f2aa55"/><stop offset=".953" stop-color="#ef8838"/><stop offset=".980" stop-color="#ee8436"/><stop offset=".987" stop-color="#f0983e"/><stop offset=".993" stop-color="#f4be75"/><stop offset="1" stop-color="#fcecd3"/></linearGradient>
<linearGradient id="gp4_5" x1="0" y1="0" x2="0" y2="1"><stop offset=".000" stop-color="#fcfefe"/><stop offset=".007" stop-color="#f8d6a5"/><stop offset=".013" stop-color="#f7ce94"/><stop offset=".020" stop-color="#f8d8a9"/><stop offset=".027" stop-color="#feffff"/><stop offset=".033" stop-color="#b1e3ee"/><stop offset=".040" stop-color="#2e74cb"/><stop offset=".047" stop-color="#2654be"/><stop offset=".067" stop-color="#2040b0"/><stop offset=".087" stop-color="#192d96"/><stop offset=".100" stop-color="#2345b8"/><stop offset=".107" stop-color="#53add8"/><stop offset=".113" stop-color="#fef6eb"/><stop offset=".120" stop-color="#f1a44b"/><stop offset=".127" stop-color="#e64a23"/><stop offset=".140" stop-color="#e03220"/><stop offset=".153" stop-color="#e23a21"/><stop offset=".160" stop-color="#eb5b25"/><stop offset=".167" stop-color="#f5c584"/><stop offset=".180" stop-color="#fffefc"/><stop offset=".193" stop-color="#84d0e3"/><stop offset=".233" stop-color="#71c8df"/><stop offset=".253" stop-color="#88d1e4"/><stop offset=".273" stop-color="#e7f7fa"/><stop offset=".287" stop-color="#fcfeff"/><stop offset=".293" stop-color="#fcecd3"/><stop offset=".300" stop-color="#f1a851"/><stop offset=".307" stop-color="#e95525"/><stop offset=".320" stop-color="#d8211d"/><stop offset=".347" stop-color="#ac1115"/><stop offset=".373" stop-color="#e23b21"/><stop offset=".387" stop-color="#e95525"/><stop offset=".393" stop-color="#f1a248"/><stop offset=".400" stop-color="#f9deb5"/><stop offset=".407" stop-color="#f5fcfd"/><stop offset=".420" stop-color="#63c1dc"/><stop offset=".427" stop-color="#489fd5"/><stop offset=".447" stop-color="#74c9df"/><stop offset=".467" stop-color="#71c8df"/><stop offset=".480" stop-color="#69c5dd"/><stop offset=".487" stop-color="#8fd4e6"/><stop offset=".493" stop-color="#d2f0f6"/><stop offset=".500" stop-color="#f7d099"/><stop offset=".507" stop-color="#f1a852"/><stop offset=".527" stop-color="#f0a146"/><stop offset=".553" stop-color="#f3b86c"/><stop offset=".573" stop-color="#fdf5e9"/><stop offset=".580" stop-color="#def4f9"/><stop offset=".587" stop-color="#72c9df"/><stop offset=".600" stop-color="#479ed5"/><stop offset=".633" stop-color="#4398d4"/><stop offset=".640" stop-color="#317dce"/><stop offset=".667" stop-color="#4aa1d6"/><stop offset=".673" stop-color="#5dbada"/><stop offset=".680" stop-color="#c3ebf3"/><stop offset=".687" stop-color="#f6ca8d"/><stop offset=".693" stop-color="#f1a349"/><stop offset=".727" stop-color="#f4c07a"/><stop offset=".747" stop-color="#fceed8"/><stop offset=".760" stop-color="#fdf2e2"/><stop offset=".767" stop-color="#fefcf8"/><stop offset=".780" stop-color="#99d9e8"/><stop offset=".800" stop-color="#8dd3e5"/><stop offset=".827" stop-color="#ace1ed"/><stop offset=".847" stop-color="#ace1ed"/><stop offset=".867" stop-color="#eaf8fb"/><stop offset=".893" stop-color="#f5fcfd"/><stop offset=".900" stop-color="#fef7ec"/><stop offset=".913" stop-color="#f2ac58"/><stop offset=".927" stop-color="#ee7d33"/><stop offset=".933" stop-color="#ed732f"/><stop offset=".960" stop-color="#f2ac58"/><stop offset=".987" stop-color="#f4be76"/><stop offset=".993" stop-color="#f5c787"/><stop offset="1" stop-color="#fcebd0"/></linearGradient>
<linearGradient id="gp4_6" x1="0" y1="0" x2="0" y2="1"><stop offset=".000" stop-color="#fdf2e2"/><stop offset=".013" stop-color="#f7d29e"/><stop offset=".020" stop-color="#f8d4a0"/><stop offset=".027" stop-color="#fbe8ca"/><stop offset=".033" stop-color="#9edbe9"/><stop offset=".040" stop-color="#2e74cb"/><stop offset=".047" stop-color="#2654be"/><stop offset=".093" stop-color="#2650bd"/><stop offset=".100" stop-color="#2b65c5"/><stop offset=".107" stop-color="#68c4dd"/><stop offset=".113" stop-color="#e0f5f9"/><stop offset=".120" stop-color="#f1a54c"/><stop offset=".127" stop-color="#e64a23"/><stop offset=".140" stop-color="#e03220"/><stop offset=".153" stop-color="#e13621"/><stop offset=".160" stop-color="#e84f24"/><stop offset=".167" stop-color="#f3b568"/><stop offset=".173" stop-color="#f7fcfd"/><stop offset=".193" stop-color="#7fcee2"/><stop offset=".240" stop-color="#449ad4"/><stop offset=".253" stop-color="#76cae0"/><stop offset=".267" stop-color="#f9fdfe"/><stop offset=".287" stop-color="#fef9f1"/><stop offset=".293" stop-color="#fbe7c8"/><stop offset=".300" stop-color="#ee8336"/><stop offset=".307" stop-color="#b21416"/><stop offset=".373" stop-color="#a50f14"/><stop offset=".380" stop-color="#b71517"/><stop offset=".387" stop-color="#e33d22"/><stop offset=".393" stop-color="#f09b40"/><stop offset=".400" stop-color="#f9deb4"/><stop offset=".407" stop-color="#f9fdfe"/><stop offset=".420" stop-color="#69c5dd"/><stop offset=".427" stop-color="#51abd8"/><stop offset=".453" stop-color="#83cfe3"/><stop offset=".480" stop-color="#95d7e7"/><stop offset=".493" stop-color="#ddf4f8"/><stop offset=".500" stop-color="#fceed7"/><stop offset=".507" stop-color="#f3b263"/><stop offset=".520" stop-color="#ef923c"/><stop offset=".547" stop-color="#ee7730"/><stop offset=".560" stop-color="#f0983e"/><stop offset=".567" stop-color="#f7d39e"/><stop offset=".580" stop-color="#fffefc"/><stop offset=".593" stop-color="#58b4d9"/><stop offset=".613" stop-color="#285cc1"/><stop offset=".640" stop-color="#2c69c6"/><stop offset=".653" stop-color="#4399d4"/><stop offset=".667" stop-color="#51aad7"/><stop offset=".673" stop-color="#7dcde1"/><stop offset=".680" stop-color="#cdeef5"/><stop offset=".687" stop-color="#fae4c0"/><stop offset=".693" stop-color="#f5c17d"/><stop offset=".720" stop-color="#f1a64f"/><stop offset=".727" stop-color="#f1a851"/><stop offset=".740" stop-color="#f8d39f"/><stop offset=".747" stop-color="#fbeace"/><stop offset=".767" stop-color="#fdf2e1"/><stop offset=".773" stop-color="#f2fbfd"/><stop offset=".780" stop-color="#9edbe9"/><stop offset=".800" stop-color="#81cfe3"/><stop offset=".833" stop-color="#82cfe3"/><stop offset=".847" stop-color="#abe0ed"/><stop offset=".860" stop-color="#fffefc"/><stop offset=".873" stop-color="#fdf2e0"/><stop offset=".900" stop-color="#fef7ed"/><stop offset=".920" stop-color="#f3b466"/><stop offset=".940" stop-color="#f1a750"/><stop offset=".980" stop-color="#f2ae5b"/><stop offset=".987" stop-color="#f3b86c"/><stop offset=".993" stop-color="#f8d39f"/><stop offset="1" stop-color="#f9ddb2"/></linearGradient>
<linearGradient id="gp4_7" x1="0" y1="0" x2="0" y2="1"><stop offset=".000" stop-color="#fae4c0"/><stop offset=".007" stop-color="#f6c889"/><stop offset=".020" stop-color="#f5c17c"/><stop offset=".027" stop-color="#f8d5a3"/><stop offset=".033" stop-color="#78cbe0"/><stop offset=".040" stop-color="#2346b9"/><stop offset=".053" stop-color="#192d96"/><stop offset=".080" stop-color="#244bbb"/><stop offset=".093" stop-color="#2650bd"/><stop offset=".100" stop-color="#2b65c5"/><stop offset=".107" stop-color="#66c4dc"/><stop offset=".113" stop-color="#ecf9fb"/><stop offset=".120" stop-color="#f0a044"/><stop offset=".127" stop-color="#e64923"/><stop offset=".133" stop-color="#dd271f"/><stop offset=".153" stop-color="#e23a21"/><stop offset=".160" stop-color="#eb5b25"/><stop offset=".167" stop-color="#f4be76"/><stop offset=".180" stop-color="#f8fdfe"/><stop offset=".193" stop-color="#6fc8df"/><stop offset=".213" stop-color="#307cce"/><stop offset=".240" stop-color="#4398d4"/><stop offset=".253" stop-color="#76cae0"/><stop offset=".267" stop-color="#fefbf6"/><stop offset=".287" stop-color="#fbe5c4"/><stop offset=".293" stop-color="#f7cf97"/><stop offset=".300" stop-color="#e84f24"/><stop offset=".307" stop-color="#a50f14"/><stop offset=".380" stop-color="#a50f14"/><stop offset=".387" stop-color="#e54623"/><stop offset=".393" stop-color="#f1aa55"/><stop offset=".400" stop-color="#fffdf9"/><stop offset=".427" stop-color="#7ecde2"/><stop offset=".447" stop-color="#53add8"/><stop offset=".453" stop-color="#4297d4"/><stop offset=".487" stop-color="#9fdbea"/><stop offset=".493" stop-color="#eaf8fb"/><stop offset=".507" stop-color="#f09a3f"/><stop offset=".553" stop-color="#f3b668"/><stop offset=".567" stop-color="#fae0b9"/><stop offset=".573" stop-color="#fdf6ea"/><stop offset=".580" stop-color="#d9f2f8"/><stop offset=".593" stop-color="#54afd8"/><stop offset=".620" stop-color="#2f77cc"/><stop offset=".647" stop-color="#2f77cc"/><stop offset=".667" stop-color="#4ca3d6"/><stop offset=".673" stop-color="#71c8df"/><stop offset=".680" stop-color="#e5f6fa"/><stop offset=".687" stop-color="#fae1ba"/><stop offset=".713" stop-color="#f4bc72"/><stop offset=".727" stop-color="#f4bb71"/><stop offset=".733" stop-color="#f6cc90"/><stop offset=".740" stop-color="#fcefd9"/><stop offset=".747" stop-color="#fefaf3"/><stop offset=".767" stop-color="#fef7ed"/><stop offset=".773" stop-color="#f8fdfe"/><stop offset=".780" stop-color="#b7e6f0"/><stop offset=".787" stop-color="#b2e3ef"/><stop offset=".793" stop-color="#dcf3f8"/><stop offset=".807" stop-color="#dcf3f8"/><stop offset=".813" stop-color="#aee2ee"/><stop offset=".827" stop-color="#99d9e8"/><stop offset=".840" stop-color="#b2e4ef"/><stop offset=".853" stop-color="#fafdfe"/><stop offset=".873" stop-color="#fbe6c6"/><stop offset=".887" stop-color="#f4c07b"/><stop offset=".907" stop-color="#f1a74f"/><stop offset=".933" stop-color="#f5c584"/><stop offset=".953" stop-color="#f4c079"/><stop offset=".960" stop-color="#f6c88a"/><stop offset=".967" stop-color="#fcecd3"/><stop offset=".973" stop-color="#fbfefe"/><stop offset="1" stop-color="#f6fcfd"/></linearGradient>
<linearGradient id="gp4_8" x1="0" y1="0" x2="0" y2="1"><stop offset=".000" stop-color="#fef9f0"/><stop offset=".007" stop-color="#f8d9aa"/><stop offset=".013" stop-color="#f6ca8d"/><stop offset=".020" stop-color="#f7ce95"/><stop offset=".027" stop-color="#fef7ec"/><stop offset=".033" stop-color="#8dd3e5"/><stop offset=".040" stop-color="#2960c3"/><stop offset=".047" stop-color="#1d38a5"/><stop offset=".073" stop-color="#192d97"/><stop offset=".093" stop-color="#2449ba"/><stop offset=".100" stop-color="#2b65c5"/><stop offset=".107" stop-color="#69c5dd"/><stop offset=".113" stop-color="#dcf3f8"/><stop offset=".120" stop-color="#ef943d"/><stop offset=".127" stop-color="#dc231e"/><stop offset=".133" stop-color="#b01316"/><stop offset=".147" stop-color="#e03320"/><stop offset=".153" stop-color="#e23a21"/><stop offset=".160" stop-color="#eb5b25"/><stop offset=".167" stop-color="#f6cc91"/><stop offset=".173" stop-color="#f5fcfd"/><stop offset=".187" stop-color="#ade1ee"/><stop offset=".193" stop-color="#75cae0"/><stop offset=".213" stop-color="#4196d4"/><stop offset=".240" stop-color="#68c5dd"/><stop offset=".253" stop-color="#80cee2"/><stop offset=".267" stop-color="#e7f7fa"/><stop offset=".287" stop-color="#fefbf5"/><stop offset=".293" stop-color="#f8d7a7"/><stop offset=".300" stop-color="#eb5d26"/><stop offset=".307" stop-color="#a50f14"/><stop offset=".373" stop-color="#a50f14"/><stop offset=".380" stop-color="#c11919"/><stop offset=".387" stop-color="#e54623"/><stop offset=".393" stop-color="#f1a851"/><stop offset=".400" stop-color="#fcedd5"/><stop offset=".407" stop-color="#f1fafc"/><stop offset=".420" stop-color="#71c8df"/><stop offset=".427" stop-color="#53add8"/><stop offset=".453" stop-color="#79cce1"/><stop offset=".480" stop-color="#5ab5d9"/><stop offset=".487" stop-color="#80cee2"/><stop offset=".493" stop-color="#c3ebf3"/><stop offset=".500" stop-color="#f5c482"/><stop offset=".507" stop-color="#ef8d3a"/><stop offset=".520" stop-color="#ef8e3a"/><stop offset=".540" stop-color="#f0a146"/><stop offset=".553" stop-color="#f09b40"/><stop offset=".560" stop-color="#f1a852"/><stop offset=".573" stop-color="#ebf8fb"/><stop offset=".580" stop-color="#c1eaf3"/><stop offset=".600" stop-color="#92d6e6"/><stop offset=".667" stop-color="#88d1e4"/><stop offset=".673" stop-color="#aae0ed"/><stop offset=".680" stop-color="#ffffff"/><stop offset=".687" stop-color="#f8d7a7"/><stop offset=".720" stop-color="#f0a045"/><stop offset=".733" stop-color="#f4bf77"/><stop offset=".747" stop-color="#fcf0dd"/><stop offset=".767" stop-color="#f6fcfd"/><stop offset=".787" stop-color="#aee2ee"/><stop offset=".800" stop-color="#9fdbea"/><stop offset=".847" stop-color="#e3f6fa"/><stop offset=".853" stop-color="#ffffff"/><stop offset=".873" stop-color="#fae1ba"/><stop offset=".880" stop-color="#f2af5e"/><stop offset=".887" stop-color="#e54422"/><stop offset=".893" stop-color="#d6211d"/><stop offset=".900" stop-color="#ae1216"/><stop offset=".913" stop-color="#a50f14"/><stop offset=".933" stop-color="#dd271f"/><stop offset=".940" stop-color="#e54422"/><stop offset=".947" stop-color="#f1a34a"/><stop offset=".953" stop-color="#fae3bf"/><stop offset=".960" stop-color="#fef9f1"/><stop offset=".993" stop-color="#fffefd"/><stop offset="1" stop-color="#fffefc"/></linearGradient>
<linearGradient id="gp4_9" x1="0" y1="0" x2="0" y2="1"><stop offset=".000" stop-color="#fdf6ea"/><stop offset=".007" stop-color="#f4bd75"/><stop offset=".013" stop-color="#f1a851"/><stop offset=".020" stop-color="#f2ad5a"/><stop offset=".027" stop-color="#fdf2e0"/><stop offset=".033" stop-color="#75cae0"/><stop offset=".040" stop-color="#2b67c5"/><stop offset=".073" stop-color="#1f3caa"/><stop offset=".080" stop-color="#1b329d"/><stop offset=".100" stop-color="#2b65c5"/><stop offset=".107" stop-color="#71c8df"/><stop offset=".113" stop-color="#dbf3f8"/><stop offset=".120" stop-color="#f0a147"/><stop offset=".127" stop-color="#e33f22"/><stop offset=".133" stop-color="#c71b1a"/><stop offset=".153" stop-color="#dd251e"/><stop offset=".160" stop-color="#e84f24"/><stop offset=".167" stop-color="#f3b365"/><stop offset=".173" stop-color="#fcedd6"/><stop offset=".180" stop-color="#dff4f9"/><stop offset=".193" stop-color="#7fcee2"/><stop offset=".240" stop-color="#59b5d9"/><stop offset=".253" stop-color="#73c9df"/><stop offset=".260" stop-color="#a6deec"/><stop offset=".267" stop-color="#fefaf4"/><stop offset=".287" stop-color="#fbe7c9"/><stop offset=".293" stop-color="#f8d9aa"/><stop offset=".300" stop-color="#ef923c"/><stop offset=".307" stop-color="#e95525"/><stop offset=".327" stop-color="#e23a21"/><stop offset=".347" stop-color="#d6211d"/><stop offset=".353" stop-color="#e23a21"/><stop offset=".380" stop-color="#e44022"/><stop offset=".387" stop-color="#e95525"/><stop offset=".393" stop-color="#f2b262"/><stop offset=".407" stop-color="#fefbf5"/><stop offset=".420" stop-color="#62c1dc"/><stop offset=".427" stop-color="#3c8fd2"/><stop offset=".447" stop-color="#70c8df"/><stop offset=".480" stop-color="#86d1e4"/><stop offset=".487" stop-color="#a1dcea"/><stop offset=".493" stop-color="#f8fdfe"/><stop offset=".513" stop-color="#f8fdfe"/><stop offset=".533" stop-color="#e0f5f9"/><stop offset=".573" stop-color="#e4f6fa"/><stop offset=".600" stop-color="#a0dbea"/><stop offset=".640" stop-color="#6ec7de"/><stop offset=".673" stop-color="#9cdae9"/><stop offset=".687" stop-color="#f0fafc"/><stop offset=".727" stop-color="#fdf2e1"/><stop offset=".760" stop-color="#fef6eb"/><stop offset=".767" stop-color="#f0fafc"/><stop offset=".773" stop-color="#89d2e4"/><stop offset=".780" stop-color="#2e74cb"/><stop offset=".787" stop-color="#2243b4"/><stop offset=".807" stop-color="#1e3ba9"/><stop offset=".840" stop-color="#2244b6"/><stop offset=".847" stop-color="#295ec2"/><stop offset=".853" stop-color="#6fc7de"/><stop offset=".860" stop-color="#bce8f1"/><stop offset=".867" stop-color="#e6f7fa"/><stop offset=".873" stop-color="#fdf6ea"/><stop offset=".880" stop-color="#f2ac58"/><stop offset=".887" stop-color="#e54422"/><stop offset=".900" stop-color="#b81617"/><stop offset=".913" stop-color="#a50f14"/><stop offset=".933" stop-color="#a91015"/><stop offset=".940" stop-color="#dc241e"/><stop offset=".947" stop-color="#f09f42"/><stop offset=".953" stop-color="#f8d8a8"/><stop offset=".967" stop-color="#fcebd1"/><stop offset="1" stop-color="#fef6eb"/></linearGradient>
<clipPath id="cpp4"><rect x="53.8" y="241.1" width="69.9" height="104.6"/></clipPath>
<path id="wp4" transform="scale(0.1)" d="M559 2410l3 6 0 8-12 6 0 8-28 6 0 8-12 6 0 8-32 6 0 8-37 6 0 8-32 6 0 8 59 6 0 8 81 6 0 8 18 6 0 8-1 6 0 7-6 7 0 8-9 6 0 8-6 6 0 8 10 6 0 8 16 6 0 8 8 6 0 8 9 6 0 8 11 6 0 8 7 6 0 8-4 6 0 7-16 7 0 8-26 6 0 8-9 6 0 8 0 6 0 8-7 6 0 8-15 6 0 8-11 6 0 8 0 6 0 8 4 6 0 8-3 6 0 8-5 6 0 8 0 6 0 8-2 6 0 8-5 6 0 8-7 6 0 8-5 6 0 8-3 6 0 8 1 6 0 8 10 6 0 8 14 6 0 7 13 7 0 8 8 6 0 8-1 6 0 8-8 6 0 8-10 6 0 8-8 6 0 8-6 6 0 8-1 6 0 7 4 7 0 8 20 6 0 8 36 6 0 8 7 6 0 8-3 6 0 7-4 7 0 8-4 6 0 8-8 6 0 8-21 6 0 8-35 6 0 7-14 7 0 8 2 6 0 8 11 6 0 8 14 6 0 8 13 6 0 7 12 7 0 8 9 6 0 8 6 6 0 8 6 6 0 8 7 6 0 7-1 7 0 8-5 6 0 8-6 6 0 8-4 6 0 8-3 6 0 7M610 2410l4 6 0 8-16 6 0 8-34 6 0 8-16 6 0 8-33 6 0 8-36 6 0 8-31 6 0 8 59 6 0 8 81 6 0 8 25 6 0 8 4 6 0 7-1 7 0 8-4 6 0 8-3 6 0 8 7 6 0 8 12 6 0 8 7 6 0 8 3 6 0 8-2 6 0 8-7 6 0 8-12 6 0 7-7 7 0 8 3 6 0 8 8 6 0 8-8 6 0 8-19 6 0 8-13 6 0 8 2 6 0 8 8 6 0 8 3 6 0 8-10 6 0 8-11 6 0 8-1 6 0 8 4 6 0 8 6 6 0 8 7 6 0 8 11 6 0 8 7 6 0 8-1 6 0 8-4 6 0 8-4 6 0 7-3 7 0 8-1 6 0 8-1 6 0 8 0 6 0 8 2 6 0 8-5 6 0 8-10 6 0 8-9 6 0 7-3 7 0 8 12 6 0 8 27 6 0 8 20 6 0 8 12 6 0 7 6 7 0 8 1 6 0 8-5 6 0 8-21 6 0 8-29 6 0 7-13 7 0 8-5 6 0 8-1 6 0 8 5 6 0 8 13 6 0 7 12 7 0 8 6 6 0 8 5 6 0 8 12 6 0 8 11 6 0 7 2 7 0 8-3 6 0 8-2 6 0 8 0 6 0 8-3 6 0 7M713 2410l1 6 0 8-26 6 0 8-43 6 0 8-14 6 0 8-24 6 0 8-29 6 0 8-29 6 0 8 60 6 0 8 74 6 0 8 13 6 0 8-8 6 0 7-10 7 0 8-9 6 0 8-7 6 0 8-1 6 0 8 5 6 0 8 4 6 0 8-1 6 0 8 1 6 0 8 2 6 0 8-1 6 0 7 2 7 0 8 10 6 0 8 5 6 0 8-1 6 0 8-1 6 0 8 2 6 0 8 5 6 0 8 6 6 0 8 4 6 0 8-3 6 0 8-6 6 0 8-2 6 0 8-1 6 0 8-5 6 0 8-3 6 0 8 4 6 0 8-1 6 0 8-9 6 0 8-6 6 0 8 0 6 0 7 0 7 0 8-2 6 0 8-4 6 0 8-2 6 0 8 4 6 0 8 3 6 0 8-2 6 0 8-8 6 0 7-7 7 0 8 4 6 0 8 4 6 0 8 1 6 0 8 6 6 0 7 11 7 0 8 7 6 0 8-5 6 0 8-13 6 0 8-11 6 0 7 1 7 0 8 1 6 0 8 1 6 0 8 4 6 0 8 6 6 0 7 0 7 0 8-7 6 0 8 1 6 0 8 21 6 0 8 23 6 0 7 4 7 0 8-12 6 0 8-11 6 0 8-2 6 0 8-1 6 0 7M774 2410l5 6 0 8-16 6 0 8-34 6 0 8-13 6 0 8-34 6 0 8-36 6 0 8-27 6 0 8 66 6 0 8 81 6 0 8 23 6 0 8 3 6 0 7-6 7 0 8-15 6 0 8-15 6 0 8-10 6 0 8-3 6 0 8 1 6 0 8 3 6 0 8 7 6 0 8 7 6 0 8-1 6 0 7 2 7 0 8 7 6 0 8 3 6 0 8 2 6 0 8 2 6 0 8-3 6 0 8-4 6 0 8-2 6 0 8-1 6 0 8 3 6 0 8 6 6 0 8 5 6 0 8-2 6 0 8-12 6 0 8-13 6 0 8 4 6 0 8 11 6 0 8 3 6 0 8-3 6 0 8-6 6 0 7-9 7 0 8-16 6 0 8-17 6 0 8-4 6 0 8 5 6 0 8 4 6 0 8 2 6 0 8 0 6 0 7 2 7 0 8 8 6 0 8 4 6 0 8-2 6 0 8-2 6 0 7-1 7 0 8 4 6 0 8 7 6 0 8-1 6 0 8-14 6 0 7-14 7 0 8-5 6 0 8 4 6 0 8 7 6 0 8 8 6 0 7 4 7 0 8-2 6 0 8-1 6 0 8 8 6 0 8 10 6 0 7 7 7 0 8 6 6 0 8 3 6 0 8-1 6 0 8-7 6 0 7M846 2410l4 6 0 8-16 6 0 8-33 6 0 8-13 6 0 8-34 6 0 8-44 6 0 8-41 6 0 8 55 6 0 8 75 6 0 8 19 6 0 8 3 6 0 7 2 7 0 8-4 6 0 8-6 6 0 8-4 6 0 8-2 6 0 8-4 6 0 8-5 6 0 8-1 6 0 8 2 6 0 8-1 6 0 7 3 7 0 8 6 6 0 8 4 6 0 8 13 6 0 8 17 6 0 8 8 6 0 8-8 6 0 8-12 6 0 8-8 6 0 8-1 6 0 8 0 6 0 8 1 6 0 8 0 6 0 8-6 6 0 8-6 6 0 8 9 6 0 8 15 6 0 8 6 6 0 8-1 6 0 8 0 6 0 7-5 7 0 8-14 6 0 8-16 6 0 8-12 6 0 8-6 6 0 8-3 6 0 8-4 6 0 8 0 6 0 7 10 7 0 8 21 6 0 8 11 6 0 8-9 6 0 8-11 6 0 7-5 7 0 8 1 6 0 8 2 6 0 8-1 6 0 8-3 6 0 7 3 7 0 8 5 6 0 8 4 6 0 8 2 6 0 8 3 6 0 7 2 7 0 8-3 6 0 8-5 6 0 8 6 6 0 8 15 6 0 7 12 7 0 8 5 6 0 8-4 6 0 8-8 6 0 8-7 6 0 7M883 2410l6 6 0 8-12 6 0 8-25 6 0 8-9 6 0 8-33 6 0 8-41 6 0 8-34 6 0 8 63 6 0 8 86 6 0 8 25 6 0 8 0 6 0 7-10 7 0 8-20 6 0 8-16 6 0 8-9 6 0 8-1 6 0 8 4 6 0 8 2 6 0 8 0 6 0 8 2 6 0 8 2 6 0 7 7 7 0 8 13 6 0 8 14 6 0 8 15 6 0 8 10 6 0 8-3 6 0 8-11 6 0 8-13 6 0 8-14 6 0 8-12 6 0 8-6 6 0 8 3 6 0 8 3 6 0 8 4 6 0 8 6 6 0 8 16 6 0 8 9 6 0 8-7 6 0 8-6 6 0 8 6 6 0 7 4 7 0 8-10 6 0 8-25 6 0 8-21 6 0 8-10 6 0 8-2 6 0 8-1 6 0 8 3 6 0 7 8 7 0 8 20 6 0 8 23 6 0 8 7 6 0 8 1 6 0 7 1 7 0 8-2 6 0 8-4 6 0 8-13 6 0 8-12 6 0 7 0 7 0 8 2 6 0 8 4 6 0 8 6 6 0 8 10 6 0 7 10 7 0 8 3 6 0 8 3 6 0 8 7 6 0 8 3 6 0 7-4 7 0 8-7 6 0 8-5 6 0 8-3 6 0 8 1 6 0 7M941 2410l6 6 0 8-8 6 0 8-22 6 0 8-10 6 0 8-34 6 0 8-40 6 0 8-26 6 0 8 73 6 0 8 101 6 0 8 34 6 0 8 5 6 0 7-9 7 0 8-28 6 0 8-25 6 0 8-12 6 0 8-2 6 0 8-1 6 0 8-1 6 0 8 4 6 0 8 10 6 0 8 7 6 0 7 15 7 0 8 25 6 0 8 10 6 0 8 1 6 0 8-3 6 0 8-5 6 0 8-8 6 0 8-10 6 0 8-20 6 0 8-22 6 0 8-11 6 0 8 1 6 0 8 6 6 0 8 6 6 0 8 9 6 0 8 12 6 0 8 8 6 0 8-4 6 0 8-3 6 0 8 1 6 0 7-4 7 0 8-13 6 0 8-20 6 0 8-12 6 0 8-4 6 0 8-1 6 0 8-1 6 0 8-1 6 0 7 3 7 0 8 22 6 0 8 29 6 0 8 10 6 0 8-2 6 0 7-7 7 0 8-6 6 0 8 3 6 0 8-1 6 0 8-9 6 0 7-6 7 0 8-4 6 0 8-3 6 0 8 0 6 0 8 7 6 0 7 10 7 0 8 6 6 0 8 6 6 0 8 10 6 0 8 10 6 0 7 0 7 0 8-9 6 0 8-10 6 0 8-6 6 0 8-7 6 0 7M1039 2410l3 6 0 8-14 6 0 8-33 6 0 8-11 6 0 8-29 6 0 8-38 6 0 8-35 6 0 8 59 6 0 8 90 6 0 8 30 6 0 8-2 6 0 7-11 7 0 8-22 6 0 8-16 6 0 8-9 6 0 8-9 6 0 8-10 6 0 8-4 6 0 8 11 6 0 8 20 6 0 8 15 6 0 7 26 7 0 8 35 6 0 8 11 6 0 8 2 6 0 8 0 6 0 8-4 6 0 8-8 6 0 8-18 6 0 8-29 6 0 8-20 6 0 8-10 6 0 8-5 6 0 8-2 6 0 8 5 6 0 8 12 6 0 8 21 6 0 8 20 6 0 8 3 6 0 8-1 6 0 8 2 6 0 7-3 7 0 8-18 6 0 8-32 6 0 8-27 6 0 8-11 6 0 8-1 6 0 8 3 6 0 8 6 6 0 7 11 7 0 8 24 6 0 8 22 6 0 8 8 6 0 8-2 6 0 7-12 7 0 8-16 6 0 8-4 6 0 8-2 6 0 8-2 6 0 7 6 7 0 8 4 6 0 8 3 6 0 8 4 6 0 8 7 6 0 7 6 7 0 8 3 6 0 8 2 6 0 8-1 6 0 8-5 6 0 7-4 7 0 8 5 6 0 8 9 6 0 8 4 6 0 8-1 6 0 7M1083 2410l4 6 0 8-15 6 0 8-27 6 0 8-2 6 0 8-23 6 0 8-39 6 0 8-40 6 0 8 55 6 0 8 90 6 0 8 32 6 0 8 8 6 0 7 2 7 0 8-13 6 0 8-19 6 0 8-17 6 0 8-11 6 0 8-6 6 0 8-4 6 0 8 8 6 0 8 23 6 0 8 21 6 0 7 26 7 0 8 30 6 0 8 5 6 0 8-6 6 0 8-8 6 0 8-5 6 0 8 3 6 0 8-8 6 0 8-30 6 0 8-32 6 0 8-22 6 0 8-3 6 0 8 10 6 0 8 10 6 0 8 7 6 0 8 17 6 0 8 21 6 0 8 1 6 0 8-6 6 0 8-5 6 0 7-8 7 0 8-18 6 0 8-19 6 0 8-12 6 0 8-4 6 0 8 1 6 0 8 3 6 0 8 5 6 0 7 5 7 0 8 17 6 0 8 16 6 0 8 8 6 0 8 2 6 0 7-7 7 0 8-14 6 0 8-6 6 0 8-1 6 0 8 3 6 0 7 8 7 0 8 3 6 0 8 2 6 0 8 5 6 0 8 9 6 0 7 8 7 0 8 13 6 0 8 12 6 0 8 1 6 0 8-12 6 0 7-18 7 0 8-19 6 0 8-16 6 0 8-8 6 0 8 1 6 0 7M1145 2410l12 6 0 8-11 6 0 8-27 6 0 8-11 6 0 8-32 6 0 8-36 6 0 8-25 6 0 8 66 6 0 8 94 6 0 8 30 6 0 8 0 6 0 7-11 7 0 8-24 6 0 8-20 6 0 8-16 6 0 8-10 6 0 8-5 6 0 8 1 6 0 8 7 6 0 8 15 6 0 8 12 6 0 7 21 7 0 8 32 6 0 8 18 6 0 8 5 6 0 8-8 6 0 8-14 6 0 8-9 6 0 8-6 6 0 8-16 6 0 8-25 6 0 8-23 6 0 8-8 6 0 8 2 6 0 8 5 6 0 8 8 6 0 8 20 6 0 8 20 6 0 8 0 6 0 8-10 6 0 8-10 6 0 7-8 7 0 8-9 6 0 8-4 6 0 8 4 6 0 8 11 6 0 8 8 6 0 8-2 6 0 8-4 6 0 7-1 7 0 8 7 6 0 8 8 6 0 8 2 6 0 8-1 6 0 7-5 7 0 8-9 6 0 8-9 6 0 8-15 6 0 8-14 6 0 7-3 7 0 8 5 6 0 8 8 6 0 8 8 6 0 8 16 6 0 7 19 7 0 8 24 6 0 8 17 6 0 8 3 6 0 8-5 6 0 7-8 7 0 8-20 6 0 8-21 6 0 8-5 6 0 8 1 6 0 7M1257 2410l8 6 0 8-19 6 0 8-31 6 0 8-9 6 0 8-30 6 0 8-42 6 0 8-41 6 0 8 50 6 0 8 85 6 0 8 31 6 0 8 2 6 0 7-9 7 0 8-24 6 0 8-20 6 0 8-7 6 0 8 0 6 0 8 0 6 0 8-2 6 0 8 6 6 0 8 18 6 0 8 14 6 0 7 13 7 0 8 11 6 0 8 0 6 0 8 1 6 0 8 10 6 0 8 11 6 0 8 7 6 0 8-5 6 0 8-20 6 0 8-24 6 0 8-16 6 0 8-2 6 0 8-4 6 0 8-8 6 0 8 1 6 0 8 19 6 0 8 15 6 0 8-3 6 0 8-11 6 0 8-10 6 0 7-5 7 0 8-3 6 0 8-5 6 0 8-3 6 0 8 0 6 0 8 2 6 0 8 9 6 0 8 12 6 0 7 3 7 0 8-4 6 0 8-1 6 0 8 6 6 0 8 12 6 0 7 8 7 0 8-4 6 0 8-15 6 0 8-29 6 0 8-23 6 0 7-5 7 0 8 5 6 0 8 8 6 0 8 9 6 0 8 11 6 0 7 15 7 0 8 23 6 0 8 26 6 0 8 18 6 0 8 5 6 0 7-10 7 0 8-27 6 0 8-23 6 0 8-2 6 0 8 3 6 0 7"/>
<linearGradient id="gp5_0" x1="0" y1="0" x2="0" y2="1"><stop offset=".000" stop-color="#fcebd0"/><stop offset=".007" stop-color="#f5c685"/><stop offset=".013" stop-color="#f3b465"/><stop offset=".020" stop-color="#f4bc72"/><stop offset=".027" stop-color="#eaf8fb"/><stop offset=".033" stop-color="#469cd5"/><stop offset=".040" stop-color="#2859c0"/><stop offset=".060" stop-color="#2245b7"/><stop offset=".080" stop-color="#2347b9"/><stop offset=".087" stop-color="#285ac1"/><stop offset=".093" stop-color="#52acd8"/><stop offset=".100" stop-color="#d7f2f7"/><stop offset=".107" stop-color="#fbe8c9"/><stop offset=".120" stop-color="#f8d6a4"/><stop offset=".140" stop-color="#f8d6a4"/><stop offset=".147" stop-color="#fceed7"/><stop offset=".153" stop-color="#dcf3f8"/><stop offset=".160" stop-color="#9bdae9"/><stop offset=".173" stop-color="#8fd4e6"/><stop offset=".227" stop-color="#b6e5f0"/><stop offset=".253" stop-color="#aee2ee"/><stop offset=".273" stop-color="#b7e6f0"/><stop offset=".293" stop-color="#fefaf4"/><stop offset=".313" stop-color="#fdf1e0"/><stop offset=".327" stop-color="#fdf4e6"/><stop offset=".333" stop-color="#fae5c2"/><stop offset=".340" stop-color="#f4be75"/><stop offset=".347" stop-color="#f2ab56"/><stop offset=".400" stop-color="#f3b465"/><stop offset=".413" stop-color="#fae0b9"/><stop offset=".420" stop-color="#e8f7fb"/><stop offset=".427" stop-color="#94d6e7"/><stop offset=".460" stop-color="#97d8e8"/><stop offset=".487" stop-color="#83cfe3"/><stop offset=".493" stop-color="#9cdae9"/><stop offset=".500" stop-color="#e9f8fb"/><stop offset=".513" stop-color="#fdf2e2"/><stop offset=".540" stop-color="#effafc"/><stop offset=".567" stop-color="#d1f0f6"/><stop offset=".587" stop-color="#77cbe0"/><stop offset=".613" stop-color="#61bfdb"/><stop offset=".687" stop-color="#d2f0f6"/><stop offset=".720" stop-color="#aee1ee"/><stop offset=".760" stop-color="#e7f7fa"/><stop offset=".767" stop-color="#fffffe"/><stop offset=".780" stop-color="#fdf3e2"/><stop offset=".867" stop-color="#f2fbfc"/><stop offset=".933" stop-color="#f2fbfc"/><stop offset=".940" stop-color="#fafdfe"/><stop offset=".947" stop-color="#fdf1df"/><stop offset=".953" stop-color="#f5c17d"/><stop offset=".960" stop-color="#ef913b"/><stop offset=".980" stop-color="#f3b363"/><stop offset=".993" stop-color="#f6cc92"/><stop offset="1" stop-color="#fbe6c5"/></linearGradient>
<linearGradient id="gp5_1" x1="0" y1="0" x2="0" y2="1"><stop offset=".000" stop-color="#fefaf2"/><stop offset=".007" stop-color="#f6ca8d"/><stop offset=".013" stop-color="#f3b363"/><stop offset=".020" stop-color="#f3b669"/><stop offset=".027" stop-color="#fdfeff"/><stop offset=".033" stop-color="#3788d1"/><stop offset=".040" stop-color="#2651bd"/><stop offset=".080" stop-color="#2347b9"/><stop offset=".087" stop-color="#285ac1"/><stop offset=".093" stop-color="#4ea6d7"/><stop offset=".100" stop-color="#e2f5f9"/><stop offset=".107" stop-color="#f9deb4"/><stop offset=".127" stop-color="#f6cb8e"/><stop offset=".140" stop-color="#f6cc92"/><stop offset=".147" stop-color="#f8d9aa"/><stop offset=".153" stop-color="#e6f7fa"/><stop offset=".160" stop-color="#82cfe3"/><stop offset=".173" stop-color="#68c5dd"/><stop offset=".193" stop-color="#80cee2"/><stop offset=".207" stop-color="#ace1ed"/><stop offset=".213" stop-color="#d5f1f7"/><stop offset=".247" stop-color="#9ddae9"/><stop offset=".273" stop-color="#9fdbea"/><stop offset=".280" stop-color="#b1e3ee"/><stop offset=".287" stop-color="#e9f8fb"/><stop offset=".300" stop-color="#fcefda"/><stop offset=".320" stop-color="#fbe8c9"/><stop offset=".333" stop-color="#f7d098"/><stop offset=".340" stop-color="#f2ae5c"/><stop offset=".373" stop-color="#ee7b32"/><stop offset=".400" stop-color="#f1a64f"/><stop offset=".407" stop-color="#f5c17d"/><stop offset=".413" stop-color="#fdf3e3"/><stop offset=".420" stop-color="#c9edf5"/><stop offset=".453" stop-color="#5ebcdb"/><stop offset=".480" stop-color="#67c4dd"/><stop offset=".487" stop-color="#8ad2e4"/><stop offset=".493" stop-color="#d3f0f7"/><stop offset=".500" stop-color="#fae4c2"/><stop offset=".520" stop-color="#f4bf78"/><stop offset=".540" stop-color="#f3b96e"/><stop offset=".560" stop-color="#f6cd92"/><stop offset=".567" stop-color="#fdf4e5"/><stop offset=".573" stop-color="#d7f2f7"/><stop offset=".580" stop-color="#a7dfec"/><stop offset=".593" stop-color="#afe2ee"/><stop offset=".613" stop-color="#abe0ed"/><stop offset=".640" stop-color="#64c3dc"/><stop offset=".660" stop-color="#6dc7de"/><stop offset=".680" stop-color="#a8dfec"/><stop offset=".733" stop-color="#d0eff6"/><stop offset=".760" stop-color="#e7f7fa"/><stop offset=".767" stop-color="#fffefc"/><stop offset=".780" stop-color="#eaf8fb"/><stop offset=".787" stop-color="#b5e5f0"/><stop offset=".793" stop-color="#b2e3ef"/><stop offset=".800" stop-color="#ceeff5"/><stop offset=".820" stop-color="#a7deec"/><stop offset=".847" stop-color="#9edbe9"/><stop offset=".853" stop-color="#aee1ee"/><stop offset=".867" stop-color="#fefbf5"/><stop offset=".880" stop-color="#fef7ed"/><stop offset=".920" stop-color="#f7fcfe"/><stop offset="1" stop-color="#f8fdfe"/></linearGradient>
<linearGradient id="gp5_2" x1="0" y1="0" x2="0" y2="1"><stop offset=".000" stop-color="#f8d39f"/><stop offset=".007" stop-color="#f2aa55"/><stop offset=".013" stop-color="#f09c40"/><stop offset=".020" stop-color="#f2ae5b"/><stop offset=".027" stop-color="#feffff"/><stop offset=".033" stop-color="#3485d0"/><stop offset=".040" stop-color="#2245b7"/><stop offset=".080" stop-color="#2347b9"/><stop offset=".087" stop-color="#285ac1"/><stop offset=".093" stop-color="#56b1d9"/><stop offset=".100" stop-color="#fffcf8"/><stop offset=".107" stop-color="#f8d5a2"/><stop offset=".113" stop-color="#f6c788"/><stop offset=".140" stop-color="#f9dbaf"/><stop offset=".153" stop-color="#f7cd93"/><stop offset=".167" stop-color="#f3b669"/><stop offset=".200" stop-color="#f3b669"/><stop offset=".207" stop-color="#f7d099"/><stop offset=".213" stop-color="#fef8ef"/><stop offset=".227" stop-color="#b6e5f0"/><stop offset=".267" stop-color="#c6ecf4"/><stop offset=".280" stop-color="#c0e9f2"/><stop offset=".300" stop-color="#ffffff"/><stop offset=".327" stop-color="#fdf5e7"/><stop offset=".340" stop-color="#f5c584"/><stop offset=".360" stop-color="#f3b364"/><stop offset=".380" stop-color="#f2aa55"/><stop offset=".400" stop-color="#ee8134"/><stop offset=".407" stop-color="#f2ab56"/><stop offset=".413" stop-color="#fdf3e3"/><stop offset=".420" stop-color="#bbe7f1"/><stop offset=".427" stop-color="#8ad2e4"/><stop offset=".453" stop-color="#72c9df"/><stop offset=".487" stop-color="#aae0ec"/><stop offset=".493" stop-color="#daf3f8"/><stop offset=".500" stop-color="#fae4c1"/><stop offset=".513" stop-color="#f4be76"/><stop offset=".533" stop-color="#f09c40"/><stop offset=".560" stop-color="#f7cf97"/><stop offset=".567" stop-color="#fcefda"/><stop offset=".573" stop-color="#e2f5f9"/><stop offset=".580" stop-color="#ace1ed"/><stop offset=".613" stop-color="#a9e0ec"/><stop offset=".640" stop-color="#60bedb"/><stop offset=".660" stop-color="#66c4dc"/><stop offset=".680" stop-color="#ade1ed"/><stop offset=".727" stop-color="#ade1ed"/><stop offset=".753" stop-color="#b8e6f0"/><stop offset=".773" stop-color="#eaf8fb"/><stop offset=".793" stop-color="#9ddae9"/><stop offset=".833" stop-color="#9cdae9"/><stop offset=".847" stop-color="#91d5e6"/><stop offset=".853" stop-color="#9edbe9"/><stop offset=".867" stop-color="#e9f8fb"/><stop offset=".900" stop-color="#f6fcfd"/><stop offset=".913" stop-color="#a5deeb"/><stop offset=".973" stop-color="#9ddae9"/><stop offset=".980" stop-color="#b6e5f0"/><stop offset=".987" stop-color="#fafdfe"/><stop offset="1" stop-color="#fefbf6"/></linearGradient>
<linearGradient id="gp5_3" x1="0" y1="0" x2="0" y2="1"><stop offset=".000" stop-color="#f9daac"/><stop offset=".013" stop-color="#f4bb70"/><stop offset=".020" stop-color="#f7cd93"/><stop offset=".027" stop-color="#fefbf7"/><stop offset=".033" stop-color="#53aed8"/><stop offset=".040" stop-color="#2651bd"/><stop offset=".053" stop-color="#192d96"/><stop offset=".080" stop-color="#192d96"/><stop offset=".087" stop-color="#1e39a7"/><stop offset=".093" stop-color="#68c5dd"/><stop offset=".100" stop-color="#f3b566"/><stop offset=".107" stop-color="#e85024"/><stop offset=".140" stop-color="#e54623"/><stop offset=".153" stop-color="#ed742f"/><stop offset=".160" stop-color="#f2ab57"/><stop offset=".173" stop-color="#f2af5d"/><stop offset=".200" stop-color="#f1a349"/><stop offset=".207" stop-color="#f3b567"/><stop offset=".220" stop-color="#fffefd"/><stop offset=".240" stop-color="#edf9fc"/><stop offset=".247" stop-color="#fef9f1"/><stop offset=".253" stop-color="#f6cb8f"/><stop offset=".260" stop-color="#f3b76a"/><stop offset=".280" stop-color="#f2b05f"/><stop offset=".293" stop-color="#fbe7c7"/><stop offset=".313" stop-color="#fceed8"/><stop offset=".333" stop-color="#f8d9aa"/><stop offset=".340" stop-color="#f2ad59"/><stop offset=".347" stop-color="#ef8f3b"/><stop offset=".400" stop-color="#f1a44b"/><stop offset=".407" stop-color="#f4bb71"/><stop offset=".413" stop-color="#fcefda"/><stop offset=".420" stop-color="#fbfefe"/><stop offset=".473" stop-color="#fdf6ea"/><stop offset=".487" stop-color="#fcedd4"/><stop offset=".507" stop-color="#f2b160"/><stop offset=".533" stop-color="#f5c37f"/><stop offset=".560" stop-color="#f0a247"/><stop offset=".567" stop-color="#f4bb72"/><stop offset=".580" stop-color="#f8fdfe"/><stop offset=".607" stop-color="#bce8f1"/><stop offset=".680" stop-color="#cbeef5"/><stop offset=".700" stop-color="#e9f8fb"/><stop offset=".727" stop-color="#b8e6f0"/><stop offset=".740" stop-color="#a4ddeb"/><stop offset=".760" stop-color="#c6ecf4"/><stop offset=".767" stop-color="#e4f6fa"/><stop offset=".773" stop-color="#e5f6fa"/><stop offset=".787" stop-color="#abe0ed"/><stop offset=".813" stop-color="#b2e3ef"/><stop offset=".847" stop-color="#8bd2e5"/><stop offset=".853" stop-color="#97d7e7"/><stop offset=".867" stop-color="#e2f5f9"/><stop offset=".893" stop-color="#fffefc"/><stop offset=".900" stop-color="#f5fcfd"/><stop offset=".913" stop-color="#a1dcea"/><stop offset=".953" stop-color="#ace1ed"/><stop offset=".973" stop-color="#a5deeb"/><stop offset="1" stop-color="#ebf8fb"/></linearGradient>
<linearGradient id="gp5_4" x1="0" y1="0" x2="0" y2="1"><stop offset=".000" stop-color="#f7ce96"/><stop offset=".007" stop-color="#f2b05f"/><stop offset=".013" stop-color="#f3b263"/><stop offset=".020" stop-color="#f7ce96"/><stop offset=".027" stop-color="#eaf8fb"/><stop offset=".033" stop-color="#58b4d9"/><stop offset=".040" stop-color="#2859c0"/><stop offset=".053" stop-color="#1f3baa"/><stop offset=".080" stop-color="#254ebc"/><stop offset=".087" stop-color="#307cce"/><stop offset=".093" stop-color="#fdf2e2"/><stop offset=".100" stop-color="#a50f14"/><stop offset=".147" stop-color="#a60f14"/><stop offset=".153" stop-color="#ef8837"/><stop offset=".160" stop-color="#fae2bc"/><stop offset=".167" stop-color="#fefbf6"/><stop offset=".200" stop-color="#f3fbfd"/><stop offset=".220" stop-color="#9bd9e9"/><stop offset=".247" stop-color="#96d7e7"/><stop offset=".260" stop-color="#c4ebf3"/><stop offset=".267" stop-color="#fcedd6"/><stop offset=".273" stop-color="#f0a045"/><stop offset=".280" stop-color="#ed732f"/><stop offset=".327" stop-color="#e43f22"/><stop offset=".353" stop-color="#e84f24"/><stop offset=".360" stop-color="#ef8838"/><stop offset=".367" stop-color="#f7d29e"/><stop offset=".387" stop-color="#fdf5e7"/><stop offset=".407" stop-color="#f5fcfd"/><stop offset=".447" stop-color="#abe0ed"/><stop offset=".467" stop-color="#a8dfec"/><stop offset=".480" stop-color="#9fdbea"/><stop offset=".487" stop-color="#b1e3ee"/><stop offset=".493" stop-color="#f3fbfd"/><stop offset=".500" stop-color="#f4bf79"/><stop offset=".507" stop-color="#f0983e"/><stop offset=".533" stop-color="#ed742f"/><stop offset=".560" stop-color="#ef8f3b"/><stop offset=".567" stop-color="#f2b161"/><stop offset=".580" stop-color="#fefcf8"/><stop offset=".627" stop-color="#ecf9fb"/><stop offset=".673" stop-color="#e3f6fa"/><stop offset=".693" stop-color="#ade1ed"/><stop offset=".720" stop-color="#e0f5f9"/><stop offset=".760" stop-color="#c6ecf4"/><stop offset=".773" stop-color="#d5f1f7"/><stop offset=".800" stop-color="#6cc6de"/><stop offset=".847" stop-color="#8ad2e4"/><stop offset=".853" stop-color="#9ddae9"/><stop offset=".860" stop-color="#eaf8fb"/><stop offset=".873" stop-color="#fef8ee"/><stop offset=".893" stop-color="#eef9fc"/><stop offset=".907" stop-color="#a7deec"/><stop offset=".940" stop-color="#94d6e7"/><stop offset=".973" stop-color="#9edbe9"/><stop offset=".993" stop-color="#fefaf4"/><stop offset="1" stop-color="#fdf1df"/></linearGradient>
<linearGradient id="gp5_5" x1="0" y1="0" x2="0" y2="1"><stop offset=".000" stop-color="#fdf4e4"/><stop offset=".007" stop-color="#f4bd74"/><stop offset=".013" stop-color="#f2ad59"/><stop offset=".020" stop-color="#f3b669"/><stop offset=".027" stop-color="#e0f5f9"/><stop offset=".033" stop-color="#469cd5"/><stop offset=".040" stop-color="#2859c0"/><stop offset=".060" stop-color="#2245b7"/><stop offset=".080" stop-color="#254ebc"/><stop offset=".087" stop-color="#307cce"/><stop offset=".093" stop-color="#f9fdfe"/><stop offset=".100" stop-color="#c51b1a"/><stop offset=".107" stop-color="#a50f14"/><stop offset=".140" stop-color="#a50f14"/><stop offset=".147" stop-color="#d8221d"/><stop offset=".153" stop-color="#f6c98c"/><stop offset=".160" stop-color="#c4ebf4"/><stop offset=".167" stop-color="#9ad9e8"/><stop offset=".200" stop-color="#94d6e7"/><stop offset=".220" stop-color="#ace1ed"/><stop offset=".247" stop-color="#99d8e8"/><stop offset=".253" stop-color="#a0dcea"/><stop offset=".260" stop-color="#d2f0f6"/><stop offset=".267" stop-color="#f8d8a8"/><stop offset=".273" stop-color="#f0973e"/><stop offset=".287" stop-color="#ed6b2b"/><stop offset=".307" stop-color="#ed692a"/><stop offset=".320" stop-color="#dd261e"/><stop offset=".333" stop-color="#ed692a"/><stop offset=".353" stop-color="#ee7d33"/><stop offset=".360" stop-color="#f2ab57"/><stop offset=".373" stop-color="#fefaf4"/><stop offset=".387" stop-color="#dbf3f8"/><stop offset=".413" stop-color="#e1f5f9"/><stop offset=".433" stop-color="#caedf5"/><stop offset=".453" stop-color="#e5f6fa"/><stop offset=".480" stop-color="#a6deec"/><stop offset=".487" stop-color="#bfe9f2"/><stop offset=".493" stop-color="#f3fbfd"/><stop offset=".507" stop-color="#f5c787"/><stop offset=".533" stop-color="#ef8938"/><stop offset=".560" stop-color="#ef913b"/><stop offset=".567" stop-color="#f2ac59"/><stop offset=".580" stop-color="#ebf8fb"/><stop offset=".587" stop-color="#c6ecf4"/><stop offset=".640" stop-color="#bee9f2"/><stop offset=".673" stop-color="#c6ecf4"/><stop offset=".720" stop-color="#ade1ee"/><stop offset=".773" stop-color="#d8f2f8"/><stop offset=".793" stop-color="#99d9e8"/><stop offset=".833" stop-color="#87d1e4"/><stop offset=".853" stop-color="#abe0ed"/><stop offset=".873" stop-color="#e6f7fa"/><stop offset=".900" stop-color="#e2f5f9"/><stop offset=".920" stop-color="#bee9f2"/><stop offset=".947" stop-color="#c4ebf3"/><stop offset=".960" stop-color="#fafdfe"/><stop offset=".973" stop-color="#fef7ec"/><stop offset=".980" stop-color="#f8d8a9"/><stop offset=".987" stop-color="#f5c583"/><stop offset=".993" stop-color="#fceed8"/><stop offset="1" stop-color="#fbfefe"/></linearGradient>
<linearGradient id="gp5_6" x1="0" y1="0" x2="0" y2="1"><stop offset=".000" stop-color="#fdf2e0"/><stop offset=".007" stop-color="#f5c380"/><stop offset=".013" stop-color="#f2ac59"/><stop offset=".020" stop-color="#f2b05f"/><stop offset=".027" stop-color="#e4f6fa"/><stop offset=".033" stop-color="#2b67c6"/><stop offset=".040" stop-color="#1a309a"/><stop offset=".080" stop-color="#1c35a2"/><stop offset=".087" stop-color="#285cc1"/><stop offset=".093" stop-color="#fef8f0"/><stop offset=".100" stop-color="#b91618"/><stop offset=".113" stop-color="#a50f14"/><stop offset=".140" stop-color="#a50f14"/><stop offset=".147" stop-color="#d8221d"/><stop offset=".153" stop-color="#f4bc73"/><stop offset=".160" stop-color="#b0e2ee"/><stop offset=".167" stop-color="#81cfe2"/><stop offset=".200" stop-color="#91d5e6"/><stop offset=".220" stop-color="#b5e5f0"/><stop offset=".247" stop-color="#a9e0ec"/><stop offset=".253" stop-color="#b3e4ef"/><stop offset=".260" stop-color="#eef9fc"/><stop offset=".267" stop-color="#f9dbaf"/><stop offset=".273" stop-color="#f0973e"/><stop offset=".280" stop-color="#e54523"/><stop offset=".287" stop-color="#a50f14"/><stop offset=".360" stop-color="#ad1215"/><stop offset=".367" stop-color="#f1a851"/><stop offset=".373" stop-color="#f2fbfd"/><stop offset=".393" stop-color="#ddf4f9"/><stop offset=".413" stop-color="#d6f1f7"/><stop offset=".420" stop-color="#b3e4ef"/><stop offset=".440" stop-color="#ace1ed"/><stop offset=".447" stop-color="#b4e4ef"/><stop offset=".453" stop-color="#9edbea"/><stop offset=".460" stop-color="#b5e5f0"/><stop offset=".480" stop-color="#a3ddeb"/><stop offset=".487" stop-color="#bae7f1"/><stop offset=".493" stop-color="#fffffe"/><stop offset=".500" stop-color="#f7d19c"/><stop offset=".520" stop-color="#f1a851"/><stop offset=".533" stop-color="#ea5925"/><stop offset=".560" stop-color="#e74e24"/><stop offset=".567" stop-color="#ee8637"/><stop offset=".580" stop-color="#ffffff"/><stop offset=".593" stop-color="#e7f7fa"/><stop offset=".607" stop-color="#5ab7da"/><stop offset=".613" stop-color="#317ecf"/><stop offset=".653" stop-color="#3d91d3"/><stop offset=".667" stop-color="#6ec7de"/><stop offset=".680" stop-color="#d7f2f7"/><stop offset=".700" stop-color="#e7f7fa"/><stop offset=".733" stop-color="#cdeef5"/><stop offset=".747" stop-color="#afe2ee"/><stop offset=".753" stop-color="#b6e5f0"/><stop offset=".767" stop-color="#ffffff"/><stop offset=".780" stop-color="#e5f6fa"/><stop offset=".787" stop-color="#99d9e8"/><stop offset=".800" stop-color="#7ecde2"/><stop offset=".833" stop-color="#a6deeb"/><stop offset=".853" stop-color="#afe2ee"/><stop offset=".873" stop-color="#f4fbfd"/><stop offset=".900" stop-color="#f6fcfd"/><stop offset=".913" stop-color="#b3e4ef"/><stop offset=".973" stop-color="#a5ddeb"/><stop offset=".980" stop-color="#b8e6f0"/><stop offset=".987" stop-color="#f6fcfd"/><stop offset="1" stop-color="#fef8ef"/></linearGradient>
<linearGradient id="gp5_7" x1="0" y1="0" x2="0" y2="1"><stop offset=".000" stop-color="#f9daad"/><stop offset=".007" stop-color="#f4bb70"/><stop offset=".013" stop-color="#f3b668"/><stop offset=".020" stop-color="#f6cb90"/><stop offset=".027" stop-color="#f3fbfd"/><stop offset=".033" stop-color="#56b1d9"/><stop offset=".040" stop-color="#2859c0"/><stop offset=".060" stop-color="#2244b6"/><stop offset=".087" stop-color="#2754be"/><stop offset=".093" stop-color="#74c9df"/><stop offset=".100" stop-color="#f3b363"/><stop offset=".107" stop-color="#e03220"/><stop offset=".120" stop-color="#dc231e"/><stop offset=".140" stop-color="#e74b23"/><stop offset=".147" stop-color="#ed7530"/><stop offset=".153" stop-color="#f9daad"/><stop offset=".160" stop-color="#c1eaf3"/><stop offset=".173" stop-color="#9edbe9"/><stop offset=".187" stop-color="#a4ddeb"/><stop offset=".207" stop-color="#79cbe1"/><stop offset=".247" stop-color="#a0dbea"/><stop offset=".260" stop-color="#abe0ed"/><stop offset=".267" stop-color="#fcebd1"/><stop offset=".273" stop-color="#ec6328"/><stop offset=".280" stop-color="#ca1c1b"/><stop offset=".287" stop-color="#a50f14"/><stop offset=".360" stop-color="#a50f14"/><stop offset=".367" stop-color="#f0993f"/><stop offset=".373" stop-color="#f9deb4"/><stop offset=".380" stop-color="#fdf1de"/><stop offset=".407" stop-color="#f5fcfd"/><stop offset=".433" stop-color="#aae0ed"/><stop offset=".460" stop-color="#b7e6f0"/><stop offset=".480" stop-color="#aee1ee"/><stop offset=".487" stop-color="#b0e2ee"/><stop offset=".493" stop-color="#dbf3f8"/><stop offset=".500" stop-color="#f6cd93"/><stop offset=".507" stop-color="#f1a349"/><stop offset=".553" stop-color="#f4bc73"/><stop offset=".567" stop-color="#f6ca8d"/><stop offset=".580" stop-color="#f8fdfe"/><stop offset=".600" stop-color="#b0e2ee"/><stop offset=".607" stop-color="#7dcde2"/><stop offset=".647" stop-color="#3c8ed2"/><stop offset=".653" stop-color="#3f92d3"/><stop offset=".660" stop-color="#54afd8"/><stop offset=".673" stop-color="#fffefd"/><stop offset=".687" stop-color="#f8d7a7"/><stop offset=".700" stop-color="#fef9f2"/><stop offset=".713" stop-color="#b5e5f0"/><stop offset=".753" stop-color="#b5e5f0"/><stop offset=".767" stop-color="#e5f6fa"/><stop offset=".773" stop-color="#e9f8fb"/><stop offset=".800" stop-color="#8dd3e5"/><stop offset=".827" stop-color="#79cbe1"/><stop offset=".853" stop-color="#b9e6f1"/><stop offset=".867" stop-color="#fffdfa"/><stop offset=".893" stop-color="#fcf0dc"/><stop offset=".907" stop-color="#feffff"/><stop offset=".913" stop-color="#e7f7fa"/><stop offset=".920" stop-color="#b7e6f0"/><stop offset=".973" stop-color="#a6deec"/><stop offset=".993" stop-color="#e5f6fa"/><stop offset="1" stop-color="#e7f7fa"/></linearGradient>
<linearGradient id="gp5_8" x1="0" y1="0" x2="0" y2="1"><stop offset=".000" stop-color="#f8d4a2"/><stop offset=".007" stop-color="#f2af5e"/><stop offset=".013" stop-color="#f1a74f"/><stop offset=".020" stop-color="#f3b96e"/><stop offset=".027" stop-color="#fef9f1"/><stop offset=".033" stop-color="#489fd5"/><stop offset=".040" stop-color="#254dbc"/><stop offset=".080" stop-color="#2346b9"/><stop offset=".087" stop-color="#2756bf"/><stop offset=".093" stop-color="#3f93d3"/><stop offset=".100" stop-color="#ade1ed"/><stop offset=".107" stop-color="#e5f6fa"/><stop offset=".127" stop-color="#fefaf3"/><stop offset=".200" stop-color="#d1f0f6"/><stop offset=".220" stop-color="#91d5e6"/><stop offset=".260" stop-color="#c8edf4"/><stop offset=".267" stop-color="#f3fbfd"/><stop offset=".280" stop-color="#f8d6a4"/><stop offset=".287" stop-color="#f2b05e"/><stop offset=".293" stop-color="#ee7f34"/><stop offset=".320" stop-color="#e54522"/><stop offset=".360" stop-color="#e33c21"/><stop offset=".373" stop-color="#d7211d"/><stop offset=".393" stop-color="#e54523"/><stop offset=".400" stop-color="#f2ab56"/><stop offset=".407" stop-color="#fdf4e5"/><stop offset=".413" stop-color="#f6fcfd"/><stop offset=".440" stop-color="#b5e5f0"/><stop offset=".480" stop-color="#9ad9e8"/><stop offset=".507" stop-color="#e9f8fb"/><stop offset=".573" stop-color="#e4f6fa"/><stop offset=".593" stop-color="#e4f6fa"/><stop offset=".607" stop-color="#6bc6de"/><stop offset=".620" stop-color="#4095d3"/><stop offset=".640" stop-color="#307bcd"/><stop offset=".660" stop-color="#5ab5d9"/><stop offset=".673" stop-color="#b1e3ee"/><stop offset=".687" stop-color="#bce8f1"/><stop offset=".713" stop-color="#95d7e7"/><stop offset=".720" stop-color="#b2e3ef"/><stop offset=".727" stop-color="#97d8e8"/><stop offset=".767" stop-color="#f5fcfd"/><stop offset=".773" stop-color="#edf9fc"/><stop offset=".787" stop-color="#b5e5f0"/><stop offset=".847" stop-color="#b2e3ef"/><stop offset=".867" stop-color="#f5fcfd"/><stop offset=".873" stop-color="#fae1b9"/><stop offset=".880" stop-color="#ee8235"/><stop offset=".887" stop-color="#e54322"/><stop offset=".913" stop-color="#e03220"/><stop offset=".927" stop-color="#e74d24"/><stop offset=".933" stop-color="#f1a64f"/><stop offset=".940" stop-color="#fbe5c3"/><stop offset=".947" stop-color="#fdf5e7"/><stop offset=".973" stop-color="#fdf4e6"/><stop offset="1" stop-color="#f3fbfd"/></linearGradient>
<clipPath id="cpp5"><rect x="186.5" y="240.4" width="63.1" height="104.2"/></clipPath>
<path id="wp5" transform="scale(0.1)" d="M1864 2402l11 8 0 6-13 8 0 6-61 8 0 6-64 8 0 6-66 8 0 6 52 8 0 6 84 8 0 6 46 8 0 6 14 8 0 6 2 8 0 6-9 8 0 6-16 8 0 6-9 8 0 6 0 8 0 6 9 8 0 6 14 8 0 6 10 8 0 6 3 8 0 6 0 8 0 6-4 8 0 6-8 8 0 6-6 8 0 6 1 8 0 6 10 8 0 6 13 8 0 6 8 8 0 6-5 8 0 6-7 8 0 6-2 8 0 6-2 8 0 6-12 8 0 6-18 8 0 6-5 8 0 6 4 8 0 6 5 8 0 6 4 8 0 6 12 8 0 6 16 8 0 6 7 8 0 6 0 8 0 6 0 8 0 6-4 8 0 6-13 8 0 6-15 8 0 6-8 8 0 6-2 8 0 6 2 8 0 6 5 8 0 6 6 8 0 6 7 8 0 6 7 8 0 6 4 8 0 6-4 8 0 6-9 8 0 6-6 8 0 6 2 8 0 6 9 8 0 6 9 8 0 6-2 8 0 6-8 8 0 6-5 8 0 6 7 8 0 6 11 8 0 6 1 8 0 6-12 8 0 6-14 8 0 6-3 8 0 6 7 8 0 6 9 8 0 6 8 8 0 6 14 8 0 6 16 8 0 6 0 8 0 6-9 8 0 6M1947 2402l5 8 0 6-25 8 0 6-71 8 0 6-59 8 0 6-52 8 0 6 64 8 0 6 82 8 0 6 39 8 0 6 8 8 0 6 1 8 0 6-8 8 0 6-14 8 0 6-1 8 0 6 7 8 0 6 3 8 0 6-4 8 0 6-9 8 0 6-7 8 0 6 0 8 0 6 2 8 0 6 9 8 0 6 13 8 0 6 7 8 0 6 2 8 0 6 5 8 0 6 6 8 0 6 0 8 0 6-2 8 0 6 2 8 0 6 2 8 0 6-8 8 0 6-17 8 0 6-9 8 0 6-4 8 0 6-4 8 0 6-1 8 0 6 11 8 0 6 16 8 0 6 7 8 0 6 6 8 0 6 6 8 0 6 0 8 0 6-11 8 0 6-13 8 0 6-8 8 0 6-8 8 0 6-7 8 0 6 0 8 0 6 10 8 0 6 13 8 0 6 4 8 0 6-6 8 0 6-5 8 0 6 2 8 0 6 6 8 0 6 3 8 0 6-4 8 0 6-5 8 0 6-4 8 0 6 8 8 0 6 8 8 0 6 5 8 0 6 3 8 0 6 2 8 0 6-1 8 0 6-6 8 0 6-5 8 0 6 4 8 0 6 6 8 0 6 2 8 0 6-3 8 0 6 1 8 0 6 2 8 0 6 5 8 0 6M2006 2402l7 8 0 6-18 8 0 6-59 8 0 6-49 8 0 6-52 8 0 6 57 8 0 6 79 8 0 6 38 8 0 6 5 8 0 6 0 8 0 6 2 8 0 6-1 8 0 6-1 8 0 6 2 8 0 6 1 8 0 6-4 8 0 6-6 8 0 6-5 8 0 6-7 8 0 6-7 8 0 6 4 8 0 6 14 8 0 6 11 8 0 6 7 8 0 6 8 8 0 6 7 8 0 6-2 8 0 6-6 8 0 6-5 8 0 6-7 8 0 6-21 8 0 6-21 8 0 6-10 8 0 6-3 8 0 6 6 8 0 6 14 8 0 6 21 8 0 6 19 8 0 6 7 8 0 6 0 8 0 6-5 8 0 6-11 8 0 6-13 8 0 6-2 8 0 6 5 8 0 6-5 8 0 6-14 8 0 6-12 8 0 6 2 8 0 6 13 8 0 6 11 8 0 6 3 8 0 6 0 8 0 6-2 8 0 6-5 8 0 6-4 8 0 6 3 8 0 6 3 8 0 6-4 8 0 6-2 8 0 6 0 8 0 6-2 8 0 6-4 8 0 6 0 8 0 6 6 8 0 6 3 8 0 6 1 8 0 6 4 8 0 6 7 8 0 6 6 8 0 6-8 8 0 6-15 8 0 6-4 8 0 6 13 8 0 6M2092 2402l-3 8 0 6-31 8 0 6-76 8 0 6-55 8 0 6-44 8 0 6 67 8 0 6 87 8 0 6 48 8 0 6 11 8 0 6 11 8 0 6 10 8 0 6 1 8 0 6-2 8 0 6-3 8 0 6-6 8 0 6-15 8 0 6-13 8 0 6 3 8 0 6 11 8 0 6 7 8 0 6-1 8 0 6-4 8 0 6-1 8 0 6 1 8 0 6 7 8 0 6 7 8 0 6-2 8 0 6-4 8 0 6-5 8 0 6-8 8 0 6-14 8 0 6-5 8 0 6 7 8 0 6 0 8 0 6-7 8 0 6-4 8 0 6 8 8 0 6 12 8 0 6 6 8 0 6 3 8 0 6 1 8 0 6-6 8 0 6-20 8 0 6-18 8 0 6-3 8 0 6 5 8 0 6 2 8 0 6-4 8 0 6-5 8 0 6 1 8 0 6 10 8 0 6 10 8 0 6 0 8 0 6-11 8 0 6-10 8 0 6 4 8 0 6 18 8 0 6 14 8 0 6-1 8 0 6-4 8 0 6-3 8 0 6-5 8 0 6-7 8 0 6-3 8 0 6-1 8 0 6-4 8 0 6-4 8 0 6-6 8 0 6-6 8 0 6 0 8 0 6 1 8 0 6 2 8 0 6 8 8 0 6 15 8 0 6M2174 2402l0 8 0 6-19 8 0 6-67 8 0 6-58 8 0 6-53 8 0 6 64 8 0 6 110 8 0 6 63 8 0 6 2 8 0 6-7 8 0 6-17 8 0 6-27 8 0 6-15 8 0 6-3 8 0 6 0 8 0 6-2 8 0 6-1 8 0 6-1 8 0 6-1 8 0 6 6 8 0 6 12 8 0 6 10 8 0 6 7 8 0 6 3 8 0 6 2 8 0 6 3 8 0 6-1 8 0 6-6 8 0 6-5 8 0 6-11 8 0 6-14 8 0 6-7 8 0 6 1 8 0 6 4 8 0 6 0 8 0 6 1 8 0 6 7 8 0 6 6 8 0 6-4 8 0 6 2 8 0 6 9 8 0 6 6 8 0 6-8 8 0 6-10 8 0 6-7 8 0 6-10 8 0 6-11 8 0 6-6 8 0 6 0 8 0 6 1 8 0 6-1 8 0 6-2 8 0 6 0 8 0 6 1 8 0 6 1 8 0 6 4 8 0 6 13 8 0 6 12 8 0 6 0 8 0 6-6 8 0 6-5 8 0 6-6 8 0 6-6 8 0 6 1 8 0 6 13 8 0 6 11 8 0 6 1 8 0 6-14 8 0 6-14 8 0 6-4 8 0 6 7 8 0 6 9 8 0 6 8 8 0 6 11 8 0 6M2252 2402l3 8 0 6-24 8 0 6-72 8 0 6-66 8 0 6-61 8 0 6 62 8 0 6 122 8 0 6 58 8 0 6 6 8 0 6 2 8 0 6-9 8 0 6-40 8 0 6-25 8 0 6-5 8 0 6 5 8 0 6 5 8 0 6 3 8 0 6 1 8 0 6 6 8 0 6 17 8 0 6 11 8 0 6-1 8 0 6 4 8 0 6 9 8 0 6 4 8 0 6-1 8 0 6-9 8 0 6-18 8 0 6-10 8 0 6-6 8 0 6-10 8 0 6-14 8 0 6-9 8 0 6 2 8 0 6 4 8 0 6 7 8 0 6 17 8 0 6 21 8 0 6 7 8 0 6-2 8 0 6-5 8 0 6-5 8 0 6-10 8 0 6-11 8 0 6-4 8 0 6-2 8 0 6-1 8 0 6 1 8 0 6 1 8 0 6-1 8 0 6-5 8 0 6-5 8 0 6-3 8 0 6-3 8 0 6-2 8 0 6 3 8 0 6 7 8 0 6 6 8 0 6 2 8 0 6 1 8 0 6 0 8 0 6-6 8 0 6-7 8 0 6 0 8 0 6 4 8 0 6 0 8 0 6-4 8 0 6-6 8 0 6-3 8 0 6 2 8 0 6 4 8 0 6 7 8 0 6 8 8 0 6 10 8 0 6M2293 2402l5 8 0 6-30 8 0 6-76 8 0 6-61 8 0 6-55 8 0 6 66 8 0 6 120 8 0 6 63 8 0 6 10 8 0 6 7 8 0 6-3 8 0 6-35 8 0 6-21 8 0 6-5 8 0 6-4 8 0 6-3 8 0 6-6 8 0 6-1 8 0 6 10 8 0 6 25 8 0 6 20 8 0 6 3 8 0 6-1 8 0 6 10 8 0 6 13 8 0 6 8 8 0 6-11 8 0 6-30 8 0 6-14 8 0 6-4 8 0 6-5 8 0 6-8 8 0 6-5 8 0 6-3 8 0 6 0 8 0 6 4 8 0 6 13 8 0 6 13 8 0 6 5 8 0 6 2 8 0 6-5 8 0 6-8 8 0 6-16 8 0 6-12 8 0 6-8 8 0 6-11 8 0 6-6 8 0 6 1 8 0 6 7 8 0 6 11 8 0 6 8 8 0 6-1 8 0 6-2 8 0 6 2 8 0 6 5 8 0 6 6 8 0 6 9 8 0 6 5 8 0 6-6 8 0 6-9 8 0 6-6 8 0 6-5 8 0 6-5 8 0 6-3 8 0 6 3 8 0 6 1 8 0 6 0 8 0 6 0 8 0 6 2 8 0 6 4 8 0 6 2 8 0 6 2 8 0 6 6 8 0 6 10 8 0 6M2377 2402l3 8 0 6-25 8 0 6-73 8 0 6-59 8 0 6-53 8 0 6 64 8 0 6 106 8 0 6 66 8 0 6 13 8 0 6 2 8 0 6-19 8 0 6-45 8 0 6-22 8 0 6 3 8 0 6 7 8 0 6 8 8 0 6 6 8 0 6 4 8 0 6-1 8 0 6 10 8 0 6 19 8 0 6 6 8 0 6 2 8 0 6 0 8 0 6 1 8 0 6 1 8 0 6-4 8 0 6-23 8 0 6-8 8 0 6-4 8 0 6-14 8 0 6-14 8 0 6 1 8 0 6 8 8 0 6 7 8 0 6 5 8 0 6 13 8 0 6 19 8 0 6 8 8 0 6 3 8 0 6-6 8 0 6-14 8 0 6-23 8 0 6-18 8 0 6-11 8 0 6-8 8 0 6 4 8 0 6 7 8 0 6 3 8 0 6 2 8 0 6 5 8 0 6 0 8 0 6-1 8 0 6 2 8 0 6 6 8 0 6 7 8 0 6 8 8 0 6-6 8 0 6-19 8 0 6-11 8 0 6 5 8 0 6 8 8 0 6 7 8 0 6 9 8 0 6 11 8 0 6 9 8 0 6 5 8 0 6-4 8 0 6-9 8 0 6-6 8 0 6-5 8 0 6-4 8 0 6-3 8 0 6 3 8 0 6M2458 2402l0 8 0 6-28 8 0 6-76 8 0 6-64 8 0 6-57 8 0 6 59 8 0 6 87 8 0 6 54 8 0 6 15 8 0 6 1 8 0 6-8 8 0 6-15 8 0 6-9 8 0 6-3 8 0 6-3 8 0 6-1 8 0 6 3 8 0 6 1 8 0 6-3 8 0 6 12 8 0 6 24 8 0 6 13 8 0 6 3 8 0 6 1 8 0 6 1 8 0 6 0 8 0 6-1 8 0 6-7 8 0 6-6 8 0 6-10 8 0 6-13 8 0 6-11 8 0 6-9 8 0 6-5 8 0 6 4 8 0 6 9 8 0 6 16 8 0 6 16 8 0 6 5 8 0 6-1 8 0 6-1 8 0 6-2 8 0 6-7 8 0 6-10 8 0 6-13 8 0 6-12 8 0 6-4 8 0 6-3 8 0 6-3 8 0 6 6 8 0 6 11 8 0 6 2 8 0 6-5 8 0 6-6 8 0 6-5 8 0 6 1 8 0 6 11 8 0 6 12 8 0 6 0 8 0 6-8 8 0 6-8 8 0 6-1 8 0 6 6 8 0 6 11 8 0 6 17 8 0 6 20 8 0 6 8 8 0 6-11 8 0 6-20 8 0 6-18 8 0 6-5 8 0 6 7 8 0 6 7 8 0 6 3 8 0 6M2492 2402l3 8 0 6-19 8 0 6-61 8 0 6-49 8 0 6-46 8 0 6 64 8 0 6 78 8 0 6 27 8 0 6-2 8 0 6-7 8 0 6-4 8 0 6-2 8 0 6 5 8 0 6 12 8 0 6 9 8 0 6-1 8 0 6-1 8 0 6 1 8 0 6-3 8 0 6 2 8 0 6 9 8 0 6 8 8 0 6 2 8 0 6 0 8 0 6-1 8 0 6 1 8 0 6 11 8 0 6 16 8 0 6 8 8 0 6-15 8 0 6-26 8 0 6-12 8 0 6-7 8 0 6-4 8 0 6 1 8 0 6 6 8 0 6 9 8 0 6 6 8 0 6-2 8 0 6-4 8 0 6-2 8 0 6-2 8 0 6 1 8 0 6 1 8 0 6-9 8 0 6-14 8 0 6-9 8 0 6-3 8 0 6 6 8 0 6 14 8 0 6 8 8 0 6-10 8 0 6-16 8 0 6-8 8 0 6 3 8 0 6 9 8 0 6 8 8 0 6 3 8 0 6-3 8 0 6-1 8 0 6 0 8 0 6-2 8 0 6-3 8 0 6 1 8 0 6 12 8 0 6 27 8 0 6 15 8 0 6 1 8 0 6-9 8 0 6-17 8 0 6-14 8 0 6 6 8 0 6 7 8 0 6 2 8 0 6"/>
<linearGradient id="gp6_0" x1="0" y1="0" x2="0" y2="1"><stop offset=".000" stop-color="#f7d098"/><stop offset=".007" stop-color="#f2ac59"/><stop offset=".020" stop-color="#f1a952"/><stop offset=".027" stop-color="#f3b86c"/><stop offset=".033" stop-color="#fdf4e6"/><stop offset=".040" stop-color="#a9dfec"/><stop offset=".047" stop-color="#2d6fc9"/><stop offset=".053" stop-color="#244cbb"/><stop offset=".100" stop-color="#1f3baa"/><stop offset=".107" stop-color="#254dbc"/><stop offset=".113" stop-color="#9fdbea"/><stop offset=".120" stop-color="#f0a044"/><stop offset=".127" stop-color="#e64a23"/><stop offset=".140" stop-color="#df2e1f"/><stop offset=".147" stop-color="#e03320"/><stop offset=".153" stop-color="#ee8436"/><stop offset=".160" stop-color="#fae4c1"/><stop offset=".167" stop-color="#fafdfe"/><stop offset=".227" stop-color="#dbf3f8"/><stop offset=".233" stop-color="#b0e2ee"/><stop offset=".240" stop-color="#63c1dc"/><stop offset=".247" stop-color="#2c68c6"/><stop offset=".260" stop-color="#254cbb"/><stop offset=".293" stop-color="#1f3caa"/><stop offset=".300" stop-color="#295dc2"/><stop offset=".307" stop-color="#73c9df"/><stop offset=".313" stop-color="#d5f1f7"/><stop offset=".320" stop-color="#fffdfb"/><stop offset=".333" stop-color="#fbe8c9"/><stop offset=".340" stop-color="#f7ce96"/><stop offset=".347" stop-color="#ed682a"/><stop offset=".353" stop-color="#de2b1f"/><stop offset=".387" stop-color="#c61b1a"/><stop offset=".400" stop-color="#ab1115"/><stop offset=".413" stop-color="#e33d21"/><stop offset=".420" stop-color="#f1a44b"/><stop offset=".427" stop-color="#f9dcb0"/><stop offset=".440" stop-color="#fefaf3"/><stop offset=".467" stop-color="#d0eff6"/><stop offset=".500" stop-color="#f7fcfd"/><stop offset=".527" stop-color="#bfe9f2"/><stop offset=".547" stop-color="#e3f6fa"/><stop offset=".567" stop-color="#b1e3ee"/><stop offset=".620" stop-color="#bae7f1"/><stop offset=".640" stop-color="#ecf9fb"/><stop offset=".693" stop-color="#d8f2f7"/><stop offset=".733" stop-color="#ebf8fb"/><stop offset=".740" stop-color="#dbf3f8"/><stop offset=".753" stop-color="#85d0e3"/><stop offset=".773" stop-color="#64c2dc"/><stop offset=".800" stop-color="#8dd3e5"/><stop offset=".827" stop-color="#7bcce1"/><stop offset=".833" stop-color="#8ed4e5"/><stop offset=".847" stop-color="#e7f7fa"/><stop offset=".860" stop-color="#dff4f9"/><stop offset=".900" stop-color="#abe0ed"/><stop offset="1" stop-color="#afe2ee"/></linearGradient>
<linearGradient id="gp6_1" x1="0" y1="0" x2="0" y2="1"><stop offset=".000" stop-color="#f8d8a8"/><stop offset=".007" stop-color="#f2b05f"/><stop offset=".020" stop-color="#f09b40"/><stop offset=".027" stop-color="#f1a44b"/><stop offset=".033" stop-color="#f9ddb2"/><stop offset=".040" stop-color="#9edbe9"/><stop offset=".047" stop-color="#2d6fc9"/><stop offset=".053" stop-color="#244cbb"/><stop offset=".100" stop-color="#244cbb"/><stop offset=".107" stop-color="#2e71ca"/><stop offset=".113" stop-color="#a7dfec"/><stop offset=".120" stop-color="#f0983e"/><stop offset=".127" stop-color="#d9221d"/><stop offset=".133" stop-color="#b61517"/><stop offset=".140" stop-color="#cf1e1c"/><stop offset=".147" stop-color="#e64a23"/><stop offset=".153" stop-color="#f2ac59"/><stop offset=".160" stop-color="#fbeace"/><stop offset=".167" stop-color="#fef6eb"/><stop offset=".200" stop-color="#f2fbfc"/><stop offset=".213" stop-color="#8ad2e4"/><stop offset=".220" stop-color="#70c8df"/><stop offset=".253" stop-color="#80cee2"/><stop offset=".273" stop-color="#8ad2e4"/><stop offset=".300" stop-color="#e3f6fa"/><stop offset=".333" stop-color="#fefbf5"/><stop offset=".340" stop-color="#f4c17b"/><stop offset=".347" stop-color="#ea5725"/><stop offset=".353" stop-color="#d4201d"/><stop offset=".400" stop-color="#d3201c"/><stop offset=".407" stop-color="#d8221d"/><stop offset=".413" stop-color="#e33d21"/><stop offset=".420" stop-color="#f1a44b"/><stop offset=".427" stop-color="#fae4c0"/><stop offset=".447" stop-color="#fdfeff"/><stop offset=".473" stop-color="#b7e6f0"/><stop offset=".547" stop-color="#edf9fc"/><stop offset=".567" stop-color="#b4e4ef"/><stop offset=".613" stop-color="#b6e5f0"/><stop offset=".627" stop-color="#dbf3f8"/><stop offset=".633" stop-color="#fffffe"/><stop offset=".640" stop-color="#fdf3e2"/><stop offset=".673" stop-color="#eef9fc"/><stop offset=".707" stop-color="#d7f2f7"/><stop offset=".733" stop-color="#fefcf7"/><stop offset=".740" stop-color="#f9fdfe"/><stop offset=".747" stop-color="#b1e3ee"/><stop offset=".760" stop-color="#87d1e4"/><stop offset=".800" stop-color="#6ac5dd"/><stop offset=".833" stop-color="#9bd9e9"/><stop offset=".847" stop-color="#e0f5f9"/><stop offset=".853" stop-color="#dbf3f8"/><stop offset=".867" stop-color="#a2ddeb"/><stop offset=".873" stop-color="#b7e5f0"/><stop offset=".880" stop-color="#9ad9e8"/><stop offset=".887" stop-color="#b7e6f0"/><stop offset=".913" stop-color="#a6deeb"/><stop offset=".933" stop-color="#e8f7fb"/><stop offset=".953" stop-color="#d2f0f6"/><stop offset=".980" stop-color="#b8e6f0"/><stop offset="1" stop-color="#d3f0f7"/></linearGradient>
<linearGradient id="gp6_2" x1="0" y1="0" x2="0" y2="1"><stop offset=".000" stop-color="#fefaf4"/><stop offset=".007" stop-color="#f4be76"/><stop offset=".020" stop-color="#f09f42"/><stop offset=".027" stop-color="#f09f42"/><stop offset=".033" stop-color="#f8d6a4"/><stop offset=".040" stop-color="#91d5e6"/><stop offset=".047" stop-color="#2d6fc9"/><stop offset=".053" stop-color="#244cbb"/><stop offset=".087" stop-color="#1e39a7"/><stop offset=".100" stop-color="#2141b2"/><stop offset=".107" stop-color="#295cc2"/><stop offset=".113" stop-color="#76cae0"/><stop offset=".120" stop-color="#f8d9aa"/><stop offset=".127" stop-color="#f4ba70"/><stop offset=".160" stop-color="#ee7a31"/><stop offset=".193" stop-color="#f0963e"/><stop offset=".200" stop-color="#f2ac58"/><stop offset=".207" stop-color="#f8d7a7"/><stop offset=".213" stop-color="#def4f9"/><stop offset=".220" stop-color="#ade1ed"/><stop offset=".273" stop-color="#98d8e8"/><stop offset=".280" stop-color="#a4ddeb"/><stop offset=".293" stop-color="#fafdfe"/><stop offset=".327" stop-color="#eef9fc"/><stop offset=".333" stop-color="#fef6eb"/><stop offset=".340" stop-color="#f3b465"/><stop offset=".347" stop-color="#d8221d"/><stop offset=".353" stop-color="#ae1216"/><stop offset=".373" stop-color="#d21f1c"/><stop offset=".400" stop-color="#a71014"/><stop offset=".413" stop-color="#d7211d"/><stop offset=".420" stop-color="#ef8a38"/><stop offset=".427" stop-color="#fcf0dd"/><stop offset=".433" stop-color="#effafc"/><stop offset=".453" stop-color="#d5f1f7"/><stop offset=".487" stop-color="#d3f0f6"/><stop offset=".513" stop-color="#dff4f9"/><stop offset=".540" stop-color="#fdfeff"/><stop offset=".567" stop-color="#bae7f1"/><stop offset=".600" stop-color="#b4e4ef"/><stop offset=".613" stop-color="#b8e6f0"/><stop offset=".627" stop-color="#fffdfb"/><stop offset=".640" stop-color="#fefbf6"/><stop offset=".660" stop-color="#d9f2f8"/><stop offset=".693" stop-color="#fef9f1"/><stop offset=".733" stop-color="#d6f1f7"/><stop offset=".740" stop-color="#bae7f1"/><stop offset=".747" stop-color="#80cee2"/><stop offset=".753" stop-color="#61bfdb"/><stop offset=".780" stop-color="#64c3dc"/><stop offset=".800" stop-color="#4ea6d7"/><stop offset=".833" stop-color="#94d6e7"/><stop offset=".847" stop-color="#e4f6fa"/><stop offset=".860" stop-color="#e9f8fb"/><stop offset=".887" stop-color="#dcf3f8"/><stop offset=".913" stop-color="#d9f2f8"/><stop offset=".933" stop-color="#aee2ee"/><stop offset="1" stop-color="#b2e3ef"/></linearGradient>
<linearGradient id="gp6_3" x1="0" y1="0" x2="0" y2="1"><stop offset=".000" stop-color="#f8d7a6"/><stop offset=".007" stop-color="#f3b86d"/><stop offset=".020" stop-color="#f3b465"/><stop offset=".027" stop-color="#f6c788"/><stop offset=".033" stop-color="#fbe7c7"/><stop offset=".040" stop-color="#92d6e6"/><stop offset=".047" stop-color="#2347b9"/><stop offset=".053" stop-color="#192d96"/><stop offset=".087" stop-color="#1c349f"/><stop offset=".100" stop-color="#244bbb"/><stop offset=".107" stop-color="#2c6cc7"/><stop offset=".113" stop-color="#a8dfec"/><stop offset=".120" stop-color="#f8d5a3"/><stop offset=".127" stop-color="#ef8b39"/><stop offset=".133" stop-color="#ed6f2d"/><stop offset=".147" stop-color="#ed742f"/><stop offset=".160" stop-color="#f09f43"/><stop offset=".193" stop-color="#ee7d33"/><stop offset=".200" stop-color="#ee8436"/><stop offset=".207" stop-color="#f1a64e"/><stop offset=".213" stop-color="#f8d8a9"/><stop offset=".233" stop-color="#fcecd4"/><stop offset=".287" stop-color="#fdf1df"/><stop offset=".320" stop-color="#feffff"/><stop offset=".333" stop-color="#fceed7"/><stop offset=".340" stop-color="#f5c17c"/><stop offset=".347" stop-color="#e54422"/><stop offset=".353" stop-color="#d4201d"/><stop offset=".393" stop-color="#d21f1c"/><stop offset=".407" stop-color="#bd1818"/><stop offset=".413" stop-color="#cf1e1c"/><stop offset=".420" stop-color="#ed742f"/><stop offset=".427" stop-color="#f8d5a3"/><stop offset=".433" stop-color="#fdf5e7"/><stop offset=".440" stop-color="#fbfefe"/><stop offset=".467" stop-color="#d1f0f6"/><stop offset=".487" stop-color="#d1f0f6"/><stop offset=".520" stop-color="#fbfefe"/><stop offset=".547" stop-color="#f5fcfd"/><stop offset=".567" stop-color="#bfe9f2"/><stop offset=".607" stop-color="#c2eaf3"/><stop offset=".627" stop-color="#e4f6fa"/><stop offset=".633" stop-color="#fffffe"/><stop offset=".647" stop-color="#fcedd6"/><stop offset=".687" stop-color="#fefcf8"/><stop offset=".727" stop-color="#fdf2e1"/><stop offset=".740" stop-color="#ebf8fb"/><stop offset=".747" stop-color="#87d1e4"/><stop offset=".753" stop-color="#63c2dc"/><stop offset=".773" stop-color="#59b5d9"/><stop offset=".800" stop-color="#90d5e6"/><stop offset=".827" stop-color="#61c0db"/><stop offset=".833" stop-color="#74c9e0"/><stop offset=".847" stop-color="#d3f0f7"/><stop offset=".853" stop-color="#ddf4f8"/><stop offset=".867" stop-color="#c5ebf4"/><stop offset=".880" stop-color="#daf3f8"/><stop offset=".907" stop-color="#b0e3ee"/><stop offset=".947" stop-color="#effafc"/><stop offset=".980" stop-color="#b3e4ef"/><stop offset="1" stop-color="#c5ebf4"/></linearGradient>
<linearGradient id="gp6_4" x1="0" y1="0" x2="0" y2="1"><stop offset=".000" stop-color="#f7d19b"/><stop offset=".007" stop-color="#f1a44b"/><stop offset=".020" stop-color="#ee7d33"/><stop offset=".027" stop-color="#ef8938"/><stop offset=".033" stop-color="#f6cc92"/><stop offset=".040" stop-color="#7bcce1"/><stop offset=".047" stop-color="#2347b9"/><stop offset=".060" stop-color="#1f3baa"/><stop offset=".100" stop-color="#244bbb"/><stop offset=".107" stop-color="#2c6cc7"/><stop offset=".113" stop-color="#8dd3e5"/><stop offset=".120" stop-color="#f5c27d"/><stop offset=".127" stop-color="#ed672a"/><stop offset=".133" stop-color="#e54723"/><stop offset=".147" stop-color="#ea5925"/><stop offset=".167" stop-color="#f1a953"/><stop offset=".187" stop-color="#f4bc73"/><stop offset=".200" stop-color="#f4bb72"/><stop offset=".207" stop-color="#f8d8a9"/><stop offset=".213" stop-color="#eaf8fb"/><stop offset=".220" stop-color="#8ed4e5"/><stop offset=".240" stop-color="#6ac5dd"/><stop offset=".267" stop-color="#94d6e7"/><stop offset=".280" stop-color="#8cd3e5"/><stop offset=".287" stop-color="#b1e3ee"/><stop offset=".293" stop-color="#f3fbfd"/><stop offset=".307" stop-color="#fcecd3"/><stop offset=".333" stop-color="#fdf2e0"/><stop offset=".340" stop-color="#fae2bc"/><stop offset=".347" stop-color="#f4bb71"/><stop offset=".353" stop-color="#f09f43"/><stop offset=".373" stop-color="#ee8135"/><stop offset=".400" stop-color="#f3b363"/><stop offset=".413" stop-color="#f2b160"/><stop offset=".420" stop-color="#f6ca8d"/><stop offset=".427" stop-color="#fcf0dc"/><stop offset=".433" stop-color="#f5fcfd"/><stop offset=".453" stop-color="#bbe7f1"/><stop offset=".480" stop-color="#b7e6f0"/><stop offset=".513" stop-color="#effafc"/><stop offset=".560" stop-color="#fdf4e6"/><stop offset=".573" stop-color="#f8d7a7"/><stop offset=".580" stop-color="#f3b567"/><stop offset=".593" stop-color="#f1a54c"/><stop offset=".620" stop-color="#f2aa55"/><stop offset=".627" stop-color="#f4c079"/><stop offset=".633" stop-color="#fbe7c8"/><stop offset=".640" stop-color="#fef8ee"/><stop offset=".680" stop-color="#fefbf6"/><stop offset=".713" stop-color="#fefaf4"/><stop offset=".733" stop-color="#eef9fc"/><stop offset=".760" stop-color="#86d1e4"/><stop offset=".773" stop-color="#77cbe0"/><stop offset=".800" stop-color="#cbeef5"/><stop offset=".827" stop-color="#90d5e6"/><stop offset=".840" stop-color="#a0dbea"/><stop offset=".847" stop-color="#cceef5"/><stop offset=".853" stop-color="#d4f1f7"/><stop offset=".873" stop-color="#b8e6f0"/><stop offset=".907" stop-color="#ecf9fb"/><stop offset=".933" stop-color="#b4e4ef"/><stop offset=".980" stop-color="#a8dfec"/><stop offset="1" stop-color="#c9edf5"/></linearGradient>
<linearGradient id="gp6_5" x1="0" y1="0" x2="0" y2="1"><stop offset=".000" stop-color="#f7d29d"/><stop offset=".007" stop-color="#f3b364"/><stop offset=".020" stop-color="#f2b262"/><stop offset=".027" stop-color="#f5c685"/><stop offset=".033" stop-color="#fae4c2"/><stop offset=".040" stop-color="#9cdae9"/><stop offset=".047" stop-color="#2b64c5"/><stop offset=".053" stop-color="#1d37a3"/><stop offset=".100" stop-color="#244bbb"/><stop offset=".107" stop-color="#2c6cc7"/><stop offset=".113" stop-color="#a8dfec"/><stop offset=".120" stop-color="#f7d19a"/><stop offset=".127" stop-color="#ee8637"/><stop offset=".133" stop-color="#ed682a"/><stop offset=".147" stop-color="#ef913b"/><stop offset=".160" stop-color="#fefaf2"/><stop offset=".193" stop-color="#fbfefe"/><stop offset=".200" stop-color="#e7f7fa"/><stop offset=".220" stop-color="#6ac6dd"/><stop offset=".240" stop-color="#7dcde2"/><stop offset=".247" stop-color="#aee2ee"/><stop offset=".253" stop-color="#fefbf5"/><stop offset=".260" stop-color="#fcedd5"/><stop offset=".280" stop-color="#fbe9cb"/><stop offset=".300" stop-color="#f3b669"/><stop offset=".320" stop-color="#ef953d"/><stop offset=".333" stop-color="#f0a145"/><stop offset=".340" stop-color="#f3b669"/><stop offset=".353" stop-color="#fef9f2"/><stop offset=".393" stop-color="#daf3f8"/><stop offset=".440" stop-color="#fefaf4"/><stop offset=".460" stop-color="#f7ce96"/><stop offset=".467" stop-color="#f2b05f"/><stop offset=".480" stop-color="#f0993f"/><stop offset=".507" stop-color="#f4bc73"/><stop offset=".520" stop-color="#fdf2e1"/><stop offset=".527" stop-color="#feffff"/><stop offset=".560" stop-color="#f4fbfd"/><stop offset=".567" stop-color="#fefbf7"/><stop offset=".580" stop-color="#f3b86b"/><stop offset=".613" stop-color="#ee7831"/><stop offset=".620" stop-color="#f0993f"/><stop offset=".640" stop-color="#fef6eb"/><stop offset=".653" stop-color="#fdfeff"/><stop offset=".693" stop-color="#fdf1df"/><stop offset=".740" stop-color="#f1fafc"/><stop offset=".747" stop-color="#98d8e8"/><stop offset=".760" stop-color="#70c8df"/><stop offset=".780" stop-color="#7fcee2"/><stop offset=".800" stop-color="#b7e5f0"/><stop offset=".827" stop-color="#98d8e8"/><stop offset=".833" stop-color="#a6deec"/><stop offset=".840" stop-color="#e4f6fa"/><stop offset=".847" stop-color="#fffefe"/><stop offset=".873" stop-color="#dff4f9"/><stop offset=".920" stop-color="#e6f7fa"/><stop offset="1" stop-color="#d5f1f7"/></linearGradient>
<linearGradient id="gp6_6" x1="0" y1="0" x2="0" y2="1"><stop offset=".000" stop-color="#f6c788"/><stop offset=".007" stop-color="#f1a64f"/><stop offset=".020" stop-color="#f2ae5c"/><stop offset=".033" stop-color="#f9daac"/><stop offset=".040" stop-color="#b1e3ee"/><stop offset=".047" stop-color="#2d6fc9"/><stop offset=".053" stop-color="#244cbb"/><stop offset=".080" stop-color="#192d96"/><stop offset=".100" stop-color="#1f3dac"/><stop offset=".107" stop-color="#2b65c5"/><stop offset=".113" stop-color="#89d2e4"/><stop offset=".120" stop-color="#f5c37f"/><stop offset=".127" stop-color="#ed742f"/><stop offset=".133" stop-color="#eb5b25"/><stop offset=".147" stop-color="#ef903b"/><stop offset=".153" stop-color="#f8d39f"/><stop offset=".160" stop-color="#fef9f0"/><stop offset=".187" stop-color="#e8f7fa"/><stop offset=".200" stop-color="#d5f1f7"/><stop offset=".220" stop-color="#73c9df"/><stop offset=".240" stop-color="#9edbea"/><stop offset=".253" stop-color="#f5fcfd"/><stop offset=".280" stop-color="#fbebd0"/><stop offset=".293" stop-color="#f3b567"/><stop offset=".307" stop-color="#ef943d"/><stop offset=".320" stop-color="#ed7630"/><stop offset=".333" stop-color="#f1a349"/><stop offset=".340" stop-color="#f4c07a"/><stop offset=".347" stop-color="#fcf0dd"/><stop offset=".353" stop-color="#f4fbfd"/><stop offset=".373" stop-color="#d7f2f7"/><stop offset=".407" stop-color="#e4f6fa"/><stop offset=".440" stop-color="#fdf6e9"/><stop offset=".453" stop-color="#fbe6c6"/><stop offset=".467" stop-color="#f3b262"/><stop offset=".480" stop-color="#f0a044"/><stop offset=".507" stop-color="#f4bc73"/><stop offset=".513" stop-color="#f8d6a5"/><stop offset=".533" stop-color="#fceed9"/><stop offset=".560" stop-color="#fef8ef"/><stop offset=".567" stop-color="#fbeacf"/><stop offset=".573" stop-color="#f4bb71"/><stop offset=".580" stop-color="#f09b40"/><stop offset=".613" stop-color="#ed7530"/><stop offset=".620" stop-color="#f09c40"/><stop offset=".627" stop-color="#f5c37f"/><stop offset=".633" stop-color="#fcefda"/><stop offset=".640" stop-color="#feffff"/><stop offset=".680" stop-color="#edf9fb"/><stop offset=".720" stop-color="#e6f7fa"/><stop offset=".740" stop-color="#c0eaf3"/><stop offset=".747" stop-color="#93d6e7"/><stop offset=".753" stop-color="#81cfe2"/><stop offset=".773" stop-color="#a9dfec"/><stop offset=".813" stop-color="#a3ddeb"/><stop offset=".833" stop-color="#bbe7f1"/><stop offset=".847" stop-color="#fffdfb"/><stop offset=".867" stop-color="#fdfeff"/><stop offset=".900" stop-color="#a6deeb"/><stop offset=".940" stop-color="#a9dfec"/><stop offset=".947" stop-color="#bfe9f2"/><stop offset=".953" stop-color="#effafc"/><stop offset=".980" stop-color="#f8d9aa"/><stop offset="1" stop-color="#f7ce94"/></linearGradient>
<linearGradient id="gp6_7" x1="0" y1="0" x2="0" y2="1"><stop offset=".000" stop-color="#f7d098"/><stop offset=".013" stop-color="#f1a750"/><stop offset=".027" stop-color="#f2aa55"/><stop offset=".033" stop-color="#f7cf97"/><stop offset=".040" stop-color="#a0dcea"/><stop offset=".047" stop-color="#2d6fc9"/><stop offset=".053" stop-color="#244cbb"/><stop offset=".093" stop-color="#2345b8"/><stop offset=".100" stop-color="#244bbb"/><stop offset=".107" stop-color="#2c6cc7"/><stop offset=".113" stop-color="#9ad9e8"/><stop offset=".120" stop-color="#f6c98c"/><stop offset=".127" stop-color="#ee7d33"/><stop offset=".133" stop-color="#eb5a25"/><stop offset=".147" stop-color="#ef903b"/><stop offset=".153" stop-color="#f7d29d"/><stop offset=".160" stop-color="#fdf6e9"/><stop offset=".173" stop-color="#fdfeff"/><stop offset=".233" stop-color="#fef9f2"/><stop offset=".253" stop-color="#fffdfa"/><stop offset=".260" stop-color="#fcebd1"/><stop offset=".267" stop-color="#ef8d3a"/><stop offset=".273" stop-color="#e13520"/><stop offset=".293" stop-color="#d21f1c"/><stop offset=".313" stop-color="#ca1d1b"/><stop offset=".327" stop-color="#a60f14"/><stop offset=".333" stop-color="#a91015"/><stop offset=".340" stop-color="#d5211d"/><stop offset=".347" stop-color="#f1a34a"/><stop offset=".353" stop-color="#fdf1df"/><stop offset=".360" stop-color="#f6fcfd"/><stop offset=".413" stop-color="#fefaf3"/><stop offset=".433" stop-color="#fcecd4"/><stop offset=".473" stop-color="#fffefd"/><stop offset=".507" stop-color="#fefbf5"/><stop offset=".540" stop-color="#ffffff"/><stop offset=".567" stop-color="#fcf0db"/><stop offset=".573" stop-color="#fdfeff"/><stop offset=".587" stop-color="#aae0ed"/><stop offset=".620" stop-color="#afe2ee"/><stop offset=".633" stop-color="#fefaf2"/><stop offset=".640" stop-color="#f8d8a9"/><stop offset=".653" stop-color="#fcf0dc"/><stop offset=".673" stop-color="#f8fdfe"/><stop offset=".707" stop-color="#fcecd2"/><stop offset=".733" stop-color="#fcf0dc"/><stop offset=".740" stop-color="#fdfeff"/><stop offset=".747" stop-color="#a5deeb"/><stop offset=".753" stop-color="#95d7e7"/><stop offset=".773" stop-color="#bce8f1"/><stop offset=".793" stop-color="#9ad9e8"/><stop offset=".800" stop-color="#b7e6f0"/><stop offset=".833" stop-color="#ade1ed"/><stop offset=".840" stop-color="#bfe9f2"/><stop offset=".847" stop-color="#ecf9fb"/><stop offset=".860" stop-color="#fdf6ea"/><stop offset=".907" stop-color="#fdf3e4"/><stop offset=".947" stop-color="#f8fdfe"/><stop offset="1" stop-color="#ebf8fb"/></linearGradient>
<linearGradient id="gp6_8" x1="0" y1="0" x2="0" y2="1"><stop offset=".000" stop-color="#f7cf98"/><stop offset=".013" stop-color="#f2ab57"/><stop offset=".027" stop-color="#f2b160"/><stop offset=".033" stop-color="#f7cf98"/><stop offset=".040" stop-color="#98d8e8"/><stop offset=".047" stop-color="#2d6fc9"/><stop offset=".060" stop-color="#2140b0"/><stop offset=".087" stop-color="#192d96"/><stop offset=".100" stop-color="#1f3baa"/><stop offset=".107" stop-color="#295dc2"/><stop offset=".113" stop-color="#80cee2"/><stop offset=".120" stop-color="#f3b96e"/><stop offset=".127" stop-color="#e85024"/><stop offset=".133" stop-color="#df2d1f"/><stop offset=".147" stop-color="#e74d24"/><stop offset=".160" stop-color="#f09b40"/><stop offset=".200" stop-color="#f3b567"/><stop offset=".213" stop-color="#f7ce95"/><stop offset=".253" stop-color="#f1a54d"/><stop offset=".260" stop-color="#ee8436"/><stop offset=".267" stop-color="#df3020"/><stop offset=".273" stop-color="#c41a1a"/><stop offset=".333" stop-color="#dd271e"/><stop offset=".340" stop-color="#eb5a25"/><stop offset=".347" stop-color="#f5c482"/><stop offset=".353" stop-color="#fceed7"/><stop offset=".367" stop-color="#fef9f1"/><stop offset=".400" stop-color="#fcecd3"/><stop offset=".467" stop-color="#fefcf7"/><stop offset=".513" stop-color="#fef8f0"/><stop offset=".527" stop-color="#fbeace"/><stop offset=".540" stop-color="#f3b567"/><stop offset=".553" stop-color="#f09d41"/><stop offset=".567" stop-color="#f1aa54"/><stop offset=".580" stop-color="#f8d7a7"/><stop offset=".587" stop-color="#feffff"/><stop offset=".600" stop-color="#b3e4ef"/><stop offset=".633" stop-color="#e9f8fb"/><stop offset=".660" stop-color="#c3ebf3"/><stop offset=".680" stop-color="#f5fcfd"/><stop offset=".733" stop-color="#effafc"/><stop offset=".740" stop-color="#d7f2f7"/><stop offset=".747" stop-color="#97d8e8"/><stop offset=".760" stop-color="#70c8df"/><stop offset=".787" stop-color="#85d0e3"/><stop offset=".800" stop-color="#9edbe9"/><stop offset=".827" stop-color="#89d2e4"/><stop offset=".833" stop-color="#a1dcea"/><stop offset=".840" stop-color="#ddf4f8"/><stop offset=".847" stop-color="#fbfefe"/><stop offset=".880" stop-color="#fef8ef"/><stop offset=".893" stop-color="#fae3bd"/><stop offset=".900" stop-color="#f6cc91"/><stop offset=".927" stop-color="#f7d099"/><stop offset=".933" stop-color="#fdf4e6"/><stop offset=".940" stop-color="#fbfefe"/><stop offset="1" stop-color="#fbfefe"/></linearGradient>
<linearGradient id="gp6_9" x1="0" y1="0" x2="0" y2="1"><stop offset=".000" stop-color="#f5c583"/><stop offset=".007" stop-color="#f09c40"/><stop offset=".013" stop-color="#ef913b"/><stop offset=".027" stop-color="#f2b160"/><stop offset=".033" stop-color="#fcf0dd"/><stop offset=".040" stop-color="#a1dcea"/><stop offset=".047" stop-color="#2d6fc9"/><stop offset=".053" stop-color="#244cbb"/><stop offset=".100" stop-color="#2449ba"/><stop offset=".107" stop-color="#2b64c5"/><stop offset=".113" stop-color="#7fcee2"/><stop offset=".120" stop-color="#fefcf7"/><stop offset=".127" stop-color="#f8d7a7"/><stop offset=".187" stop-color="#f0a044"/><stop offset=".220" stop-color="#f3ba6f"/><stop offset=".247" stop-color="#f3b76b"/><stop offset=".267" stop-color="#f3b96d"/><stop offset=".280" stop-color="#f09c40"/><stop offset=".293" stop-color="#ee7e33"/><stop offset=".320" stop-color="#f1a348"/><stop offset=".333" stop-color="#f09a3f"/><stop offset=".353" stop-color="#e23921"/><stop offset=".373" stop-color="#c31a19"/><stop offset=".407" stop-color="#e23821"/><stop offset=".413" stop-color="#e95324"/><stop offset=".420" stop-color="#f2ad5a"/><stop offset=".427" stop-color="#f8d5a2"/><stop offset=".447" stop-color="#fef9f2"/><stop offset=".453" stop-color="#e9f8fb"/><stop offset=".467" stop-color="#91d5e6"/><stop offset=".513" stop-color="#75cae0"/><stop offset=".580" stop-color="#b2e3ef"/><stop offset=".620" stop-color="#b8e6f0"/><stop offset=".640" stop-color="#e8f7fb"/><stop offset=".660" stop-color="#e4f6fa"/><stop offset=".667" stop-color="#fbfefe"/><stop offset=".680" stop-color="#fdf3e3"/><stop offset=".713" stop-color="#f6fcfd"/><stop offset=".740" stop-color="#cfeff6"/><stop offset=".767" stop-color="#a2dceb"/><stop offset=".800" stop-color="#6bc6de"/><stop offset=".833" stop-color="#96d7e7"/><stop offset=".847" stop-color="#ebf8fb"/><stop offset=".873" stop-color="#eef9fc"/><stop offset=".907" stop-color="#fcf0dc"/><stop offset=".947" stop-color="#f7fcfd"/><stop offset=".967" stop-color="#d9f2f8"/><stop offset="1" stop-color="#fef8ee"/></linearGradient>
<clipPath id="cpp6"><rect x="304.8" y="240.4" width="70.8" height="105.5"/></clipPath>
<path id="wp6" transform="scale(0.1)" d="M3067 2402l0 8 0 6-16 8 0 6-71 8 0 6-65 8 0 6-41 8 0 6 54 8 0 6 57 8 0 6 22 8 0 6 49 8 0 6 29 8 0 6 4 8 0 6-20 8 0 6-20 8 0 6-5 8 0 6 0 8 0 6 2 8 0 6-3 8 0 6-15 8 0 6-11 8 0 6-5 8 0 6-8 8 0 6-6 8 0 6 17 8 0 6 32 8 0 6 22 8 0 6 19 8 0 6 2 8 0 6-5 8 0 6 1 8 0 6 3 8 0 6-6 8 0 6-20 8 0 6-13 8 0 6-6 8 0 6-3 8 0 6 2 8 0 6 5 8 0 6 4 8 0 6-1 8 0 6 0 8 0 6 1 8 0 6-5 8 0 6-4 8 0 6-2 8 0 6-2 8 0 6-4 8 0 6-1 8 0 6 1 8 0 6-1 8 0 6 0 8 0 6 4 8 0 6 5 8 0 6 3 8 0 6 0 8 0 6-5 8 0 6-12 8 0 6-13 8 0 6-5 8 0 6 7 8 0 6 11 8 0 6 5 8 0 6 0 8 0 6 2 8 0 6 1 8 0 6-6 8 0 6-6 8 0 6-1 8 0 6 5 8 0 6 5 8 0 6-2 8 0 6-8 8 0 6-3 8 0 6 7 8 0 6 11 8 0 6 8 8 0 6M3144 2402l0 8 0 6-17 8 0 6-69 8 0 6-56 8 0 6-33 8 0 6 59 8 0 6 59 8 0 6 23 8 0 6 47 8 0 6 21 8 0 6-8 8 0 6-25 8 0 6-19 8 0 6-4 8 0 6 4 8 0 6 2 8 0 6-5 8 0 6-20 8 0 6-21 8 0 6-5 8 0 6 9 8 0 6 13 8 0 6 21 8 0 6 19 8 0 6 15 8 0 6 14 8 0 6 0 8 0 6-4 8 0 6 2 8 0 6 4 8 0 6-4 8 0 6-17 8 0 6-12 8 0 6-11 8 0 6-13 8 0 6-8 8 0 6-2 8 0 6 0 8 0 6-1 8 0 6 5 8 0 6 6 8 0 6 1 8 0 6 2 8 0 6 3 8 0 6-3 8 0 6-5 8 0 6 1 8 0 6 11 8 0 6 9 8 0 6 1 8 0 6-7 8 0 6-8 8 0 6-3 8 0 6 3 8 0 6 1 8 0 6-11 8 0 6-11 8 0 6-3 8 0 6 3 8 0 6 5 8 0 6 4 8 0 6 3 8 0 6 6 8 0 6 1 8 0 6-9 8 0 6-8 8 0 6-2 8 0 6 0 8 0 6 2 8 0 6 4 8 0 6 1 8 0 6 1 8 0 6 4 8 0 6 5 8 0 6 3 8 0 6M3222 2402l10 8 0 6-5 8 0 6-68 8 0 6-68 8 0 6-51 8 0 6 40 8 0 6 49 8 0 6 21 8 0 6 48 8 0 6 30 8 0 6-3 8 0 6-17 8 0 6-11 8 0 6-4 8 0 6-5 8 0 6-14 8 0 6-7 8 0 6 2 8 0 6 1 8 0 6 2 8 0 6 6 8 0 6 10 8 0 6 5 8 0 6 1 8 0 6 10 8 0 6 22 8 0 6 9 8 0 6 9 8 0 6 10 8 0 6 2 8 0 6-18 8 0 6-34 8 0 6-21 8 0 6-5 8 0 6 1 8 0 6 7 8 0 6 11 8 0 6 9 8 0 6 2 8 0 6-1 8 0 6-3 8 0 6-5 8 0 6-4 8 0 6-4 8 0 6-6 8 0 6-1 8 0 6 9 8 0 6 11 8 0 6 1 8 0 6-10 8 0 6-10 8 0 6-6 8 0 6 0 8 0 6 4 8 0 6 5 8 0 6-1 8 0 6 0 8 0 6-3 8 0 6-8 8 0 6-7 8 0 6 0 8 0 6 3 8 0 6 6 8 0 6 3 8 0 6-3 8 0 6 0 8 0 6 4 8 0 6 3 8 0 6 2 8 0 6 2 8 0 6-1 8 0 6-7 8 0 6-7 8 0 6 0 8 0 6 4 8 0 6M3286 2402l6 8 0 6-12 8 0 6-77 8 0 6-74 8 0 6-47 8 0 6 53 8 0 6 64 8 0 6 27 8 0 6 40 8 0 6 24 8 0 6 5 8 0 6 2 8 0 6 6 8 0 6 8 8 0 6-4 8 0 6-24 8 0 6-22 8 0 6-9 8 0 6-2 8 0 6-1 8 0 6 1 8 0 6 3 8 0 6 1 8 0 6 8 8 0 6 22 8 0 6 33 8 0 6 10 8 0 6 0 8 0 6-1 8 0 6-2 8 0 6-9 8 0 6-26 8 0 6-18 8 0 6-4 8 0 6 0 8 0 6 1 8 0 6-1 8 0 6-3 8 0 6-4 8 0 6 1 8 0 6 4 8 0 6 2 8 0 6 1 8 0 6 2 8 0 6 1 8 0 6 0 8 0 6 1 8 0 6 0 8 0 6-2 8 0 6-2 8 0 6 1 8 0 6 3 8 0 6 1 8 0 6 0 8 0 6-3 8 0 6-12 8 0 6-7 8 0 6 2 8 0 6 2 8 0 6 1 8 0 6 0 8 0 6 1 8 0 6 6 8 0 6 4 8 0 6-3 8 0 6-5 8 0 6-4 8 0 6-2 8 0 6-1 8 0 6-2 8 0 6-4 8 0 6-7 8 0 6-3 8 0 6 5 8 0 6 7 8 0 6M3343 2402l7 8 0 6-5 8 0 6-64 8 0 6-58 8 0 6-42 8 0 6 45 8 0 6 49 8 0 6 18 8 0 6 38 8 0 6 26 8 0 6 8 8 0 6 7 8 0 6 8 8 0 6 3 8 0 6-6 8 0 6-18 8 0 6-18 8 0 6-9 8 0 6-6 8 0 6-7 8 0 6-5 8 0 6 8 8 0 6 14 8 0 6 9 8 0 6 3 8 0 6 6 8 0 6 0 8 0 6 0 8 0 6 1 8 0 6 3 8 0 6 2 8 0 6-12 8 0 6-14 8 0 6-10 8 0 6-6 8 0 6-1 8 0 6 2 8 0 6 2 8 0 6 0 8 0 6-2 8 0 6 1 8 0 6 5 8 0 6 10 8 0 6 7 8 0 6 1 8 0 6-1 8 0 6-5 8 0 6-6 8 0 6-2 8 0 6 5 8 0 6 8 8 0 6 8 8 0 6 4 8 0 6 1 8 0 6-10 8 0 6-24 8 0 6-17 8 0 6 2 8 0 6 13 8 0 6 8 8 0 6-10 8 0 6-14 8 0 6-2 8 0 6 5 8 0 6 2 8 0 6 10 8 0 6 14 8 0 6 12 8 0 6 4 8 0 6 1 8 0 6-3 8 0 6-10 8 0 6-13 8 0 6-6 8 0 6 1 8 0 6M3421 2402l6 8 0 6-7 8 0 6-70 8 0 6-66 8 0 6-40 8 0 6 58 8 0 6 64 8 0 6 25 8 0 6 38 8 0 6 19 8 0 6-8 8 0 6-17 8 0 6-8 8 0 6-1 8 0 6-3 8 0 6-14 8 0 6-9 8 0 6 2 8 0 6 10 8 0 6 8 8 0 6 5 8 0 6 10 8 0 6 10 8 0 6 4 8 0 6 3 8 0 6 1 8 0 6-4 8 0 6-6 8 0 6-7 8 0 6-3 8 0 6-1 8 0 6-3 8 0 6-2 8 0 6 3 8 0 6 2 8 0 6-3 8 0 6-5 8 0 6-5 8 0 6-7 8 0 6-2 8 0 6 6 8 0 6 11 8 0 6 11 8 0 6 4 8 0 6-3 8 0 6 1 8 0 6-2 8 0 6-6 8 0 6-7 8 0 6-6 8 0 6-1 8 0 6 4 8 0 6 5 8 0 6-1 8 0 6-11 8 0 6-19 8 0 6-12 8 0 6-2 8 0 6 5 8 0 6 8 8 0 6 5 8 0 6 5 8 0 6 9 8 0 6 8 8 0 6-1 8 0 6-2 8 0 6-2 8 0 6-2 8 0 6-4 8 0 6-4 8 0 6-3 8 0 6-2 8 0 6-3 8 0 6-3 8 0 6-2 8 0 6M3467 2402l4 8 0 6-5 8 0 6-62 8 0 6-66 8 0 6-48 8 0 6 48 8 0 6 58 8 0 6 23 8 0 6 41 8 0 6 28 8 0 6 1 8 0 6-13 8 0 6-5 8 0 6-1 8 0 6-10 8 0 6-19 8 0 6-8 8 0 6 13 8 0 6 24 8 0 6 15 8 0 6 3 8 0 6 5 8 0 6 4 8 0 6-1 8 0 6-8 8 0 6-16 8 0 6-14 8 0 6-2 8 0 6 8 8 0 6 13 8 0 6 8 8 0 6 0 8 0 6-2 8 0 6 4 8 0 6 10 8 0 6 5 8 0 6-1 8 0 6-5 8 0 6-8 8 0 6-4 8 0 6 1 8 0 6 4 8 0 6 12 8 0 6 9 8 0 6-2 8 0 6-13 8 0 6-22 8 0 6-19 8 0 6-6 8 0 6 0 8 0 6 2 8 0 6 2 8 0 6 2 8 0 6 4 8 0 6 2 8 0 6-3 8 0 6 4 8 0 6 7 8 0 6-1 8 0 6-9 8 0 6-9 8 0 6-1 8 0 6 8 8 0 6 8 8 0 6 4 8 0 6 2 8 0 6 0 8 0 6-4 8 0 6-4 8 0 6 0 8 0 6 4 8 0 6 9 8 0 6 9 8 0 6 7 8 0 6 4 8 0 6M3576 2402l4 8 0 6-7 8 0 6-66 8 0 6-70 8 0 6-52 8 0 6 41 8 0 6 51 8 0 6 19 8 0 6 39 8 0 6 22 8 0 6-7 8 0 6-17 8 0 6-5 8 0 6 7 8 0 6 11 8 0 6 6 8 0 6 3 8 0 6 3 8 0 6 3 8 0 6 4 8 0 6-1 8 0 6 0 8 0 6 4 8 0 6 5 8 0 6 4 8 0 6-9 8 0 6-11 8 0 6-6 8 0 6-6 8 0 6-4 8 0 6-1 8 0 6 0 8 0 6-1 8 0 6-1 8 0 6 3 8 0 6 3 8 0 6 0 8 0 6-2 8 0 6-1 8 0 6 1 8 0 6 4 8 0 6 8 8 0 6 9 8 0 6 2 8 0 6-3 8 0 6-4 8 0 6-2 8 0 6 2 8 0 6 2 8 0 6-1 8 0 6 0 8 0 6-1 8 0 6-7 8 0 6-9 8 0 6-4 8 0 6 0 8 0 6 4 8 0 6-2 8 0 6-14 8 0 6-11 8 0 6 1 8 0 6 8 8 0 6 12 8 0 6 13 8 0 6 8 8 0 6 0 8 0 6-5 8 0 6-5 8 0 6-2 8 0 6-1 8 0 6 3 8 0 6 6 8 0 6 5 8 0 6 1 8 0 6-2 8 0 6M3618 2402l5 8 0 6-5 8 0 6-66 8 0 6-67 8 0 6-46 8 0 6 55 8 0 6 67 8 0 6 26 8 0 6 37 8 0 6 18 8 0 6-9 8 0 6-17 8 0 6-7 8 0 6 6 8 0 6 9 8 0 6 4 8 0 6-2 8 0 6-3 8 0 6 8 8 0 6 24 8 0 6 18 8 0 6 2 8 0 6-4 8 0 6-3 8 0 6-3 8 0 6-16 8 0 6-18 8 0 6-1 8 0 6 3 8 0 6 1 8 0 6-1 8 0 6-3 8 0 6-3 8 0 6-4 8 0 6-2 8 0 6 2 8 0 6 4 8 0 6 3 8 0 6 2 8 0 6 4 8 0 6 4 8 0 6-4 8 0 6-13 8 0 6-15 8 0 6-8 8 0 6 0 8 0 6 1 8 0 6-1 8 0 6-7 8 0 6-3 8 0 6 2 8 0 6 7 8 0 6 12 8 0 6 10 8 0 6-5 8 0 6-23 8 0 6-14 8 0 6 6 8 0 6 13 8 0 6 7 8 0 6-5 8 0 6-9 8 0 6 0 8 0 6 5 8 0 6 1 8 0 6 3 8 0 6 4 8 0 6 5 8 0 6 5 8 0 6 3 8 0 6 3 8 0 6 4 8 0 6 2 8 0 6-5 8 0 6-9 8 0 6M3701 2402l5 8 0 6-6 8 0 6-62 8 0 6-60 8 0 6-46 8 0 6 44 8 0 6 50 8 0 6 19 8 0 6 37 8 0 6 25 8 0 6 2 8 0 6-4 8 0 6 1 8 0 6 7 8 0 6 8 8 0 6 4 8 0 6 0 8 0 6-2 8 0 6-2 8 0 6 1 8 0 6-1 8 0 6 0 8 0 6 3 8 0 6 4 8 0 6 1 8 0 6-5 8 0 6-3 8 0 6 0 8 0 6-2 8 0 6-4 8 0 6-8 8 0 6-13 8 0 6-11 8 0 6-11 8 0 6-8 8 0 6 2 8 0 6 11 8 0 6 9 8 0 6 3 8 0 6 3 8 0 6 6 8 0 6 4 8 0 6-2 8 0 6-9 8 0 6-9 8 0 6-3 8 0 6 5 8 0 6 5 8 0 6 3 8 0 6 4 8 0 6 4 8 0 6-4 8 0 6-12 8 0 6-13 8 0 6-9 8 0 6-7 8 0 6-3 8 0 6 0 8 0 6 2 8 0 6 2 8 0 6 3 8 0 6 6 8 0 6 11 8 0 6 8 8 0 6 3 8 0 6 7 8 0 6 12 8 0 6 7 8 0 6-6 8 0 6-17 8 0 6-13 8 0 6 2 8 0 6 8 8 0 6 5 8 0 6-1 8 0 6M3769 2402l5 8 0 6-8 8 0 6-61 8 0 6-60 8 0 6-42 8 0 6 54 8 0 6 60 8 0 6 19 8 0 6 22 8 0 6 12 8 0 6-5 8 0 6-5 8 0 6 3 8 0 6 10 8 0 6 8 8 0 6 2 8 0 6 1 8 0 6-1 8 0 6-5 8 0 6-4 8 0 6 1 8 0 6 3 8 0 6 1 8 0 6 0 8 0 6 3 8 0 6 8 8 0 6 4 8 0 6 1 8 0 6 0 8 0 6 2 8 0 6-2 8 0 6-14 8 0 6-17 8 0 6-19 8 0 6-14 8 0 6 0 8 0 6 4 8 0 6-1 8 0 6-3 8 0 6-1 8 0 6 5 8 0 6 8 8 0 6 6 8 0 6-1 8 0 6-3 8 0 6-2 8 0 6 0 8 0 6 0 8 0 6-2 8 0 6-1 8 0 6 3 8 0 6 7 8 0 6 11 8 0 6 6 8 0 6-8 8 0 6-14 8 0 6-9 8 0 6-2 8 0 6-2 8 0 6-4 8 0 6-2 8 0 6 3 8 0 6 15 8 0 6 17 8 0 6 8 8 0 6 4 8 0 6 2 8 0 6 1 8 0 6-1 8 0 6-2 8 0 6-8 8 0 6-10 8 0 6-4 8 0 6 6 8 0 6 10 8 0 6"/>
<linearGradient id="gp7_0" x1="0" y1="0" x2="0" y2="1"><stop offset=".000" stop-color="#f7d098"/><stop offset=".013" stop-color="#f1a851"/><stop offset=".027" stop-color="#f09f42"/><stop offset=".033" stop-color="#f9ddb3"/><stop offset=".040" stop-color="#6bc6de"/><stop offset=".047" stop-color="#2653be"/><stop offset=".067" stop-color="#2244b6"/><stop offset=".093" stop-color="#2550bd"/><stop offset=".100" stop-color="#317dce"/><stop offset=".107" stop-color="#ace1ed"/><stop offset=".113" stop-color="#fbe9cb"/><stop offset=".120" stop-color="#ef8938"/><stop offset=".127" stop-color="#ec5e26"/><stop offset=".160" stop-color="#e54523"/><stop offset=".167" stop-color="#ee7831"/><stop offset=".173" stop-color="#f5c686"/><stop offset=".180" stop-color="#fbe6c6"/><stop offset=".213" stop-color="#f3fbfd"/><stop offset=".233" stop-color="#e4f6fa"/><stop offset=".240" stop-color="#c1eaf3"/><stop offset=".247" stop-color="#64c3dc"/><stop offset=".253" stop-color="#2758c0"/><stop offset=".267" stop-color="#2141b3"/><stop offset=".293" stop-color="#2757c0"/><stop offset=".300" stop-color="#317fcf"/><stop offset=".307" stop-color="#a0dbea"/><stop offset=".313" stop-color="#fbfefe"/><stop offset=".333" stop-color="#f9ddb2"/><stop offset=".340" stop-color="#f3b567"/><stop offset=".347" stop-color="#de2b1f"/><stop offset=".353" stop-color="#c21919"/><stop offset=".387" stop-color="#e03120"/><stop offset=".407" stop-color="#e23a21"/><stop offset=".413" stop-color="#eb5b25"/><stop offset=".420" stop-color="#f6cb8f"/><stop offset=".427" stop-color="#fceed8"/><stop offset=".447" stop-color="#fdfeff"/><stop offset=".527" stop-color="#f3fbfd"/><stop offset=".567" stop-color="#f9fdfe"/><stop offset=".580" stop-color="#a7dfec"/><stop offset=".600" stop-color="#9ddae9"/><stop offset=".640" stop-color="#c0e9f2"/><stop offset=".673" stop-color="#96d7e7"/><stop offset=".707" stop-color="#89d2e4"/><stop offset=".773" stop-color="#69c5dd"/><stop offset=".807" stop-color="#ade1ed"/><stop offset=".853" stop-color="#b5e5ef"/><stop offset=".867" stop-color="#cbeef5"/><stop offset=".887" stop-color="#bbe7f1"/><stop offset=".913" stop-color="#d9f2f8"/><stop offset=".940" stop-color="#c3ebf3"/><stop offset=".973" stop-color="#fdfeff"/><stop offset="1" stop-color="#fffefe"/></linearGradient>
<linearGradient id="gp7_1" x1="0" y1="0" x2="0" y2="1"><stop offset=".000" stop-color="#f4bd75"/><stop offset=".007" stop-color="#f0a045"/><stop offset=".020" stop-color="#f2ae5b"/><stop offset=".033" stop-color="#f9dbae"/><stop offset=".040" stop-color="#82cfe3"/><stop offset=".047" stop-color="#2859c0"/><stop offset=".053" stop-color="#1c36a2"/><stop offset=".093" stop-color="#254fbd"/><stop offset=".100" stop-color="#317dce"/><stop offset=".107" stop-color="#9ad9e8"/><stop offset=".113" stop-color="#fcefdb"/><stop offset=".120" stop-color="#f2ae5c"/><stop offset=".127" stop-color="#ef943d"/><stop offset=".147" stop-color="#ee8034"/><stop offset=".160" stop-color="#e64a23"/><stop offset=".187" stop-color="#ef8a39"/><stop offset=".220" stop-color="#f1a44b"/><stop offset=".227" stop-color="#f4c17b"/><stop offset=".233" stop-color="#fceed8"/><stop offset=".240" stop-color="#d2f0f6"/><stop offset=".247" stop-color="#67c4dd"/><stop offset=".253" stop-color="#2757bf"/><stop offset=".267" stop-color="#1f3dac"/><stop offset=".293" stop-color="#2757c0"/><stop offset=".300" stop-color="#317fcf"/><stop offset=".307" stop-color="#88d1e4"/><stop offset=".313" stop-color="#cfeff6"/><stop offset=".333" stop-color="#f3fbfd"/><stop offset=".340" stop-color="#fcecd3"/><stop offset=".347" stop-color="#f4bd75"/><stop offset=".360" stop-color="#f09d41"/><stop offset=".373" stop-color="#ef8e3a"/><stop offset=".407" stop-color="#f2ac58"/><stop offset=".473" stop-color="#f1a74f"/><stop offset=".487" stop-color="#f3ba6f"/><stop offset=".500" stop-color="#fcf0dc"/><stop offset=".507" stop-color="#fffdfb"/><stop offset=".533" stop-color="#e1f5f9"/><stop offset=".560" stop-color="#fdf6eb"/><stop offset=".567" stop-color="#fefbf7"/><stop offset=".580" stop-color="#96d7e7"/><stop offset=".613" stop-color="#8dd3e5"/><stop offset=".640" stop-color="#b7e5f0"/><stop offset=".667" stop-color="#8fd4e5"/><stop offset=".707" stop-color="#b1e3ef"/><stop offset=".727" stop-color="#a4ddeb"/><stop offset=".747" stop-color="#78cbe0"/><stop offset=".773" stop-color="#b5e5f0"/><stop offset=".807" stop-color="#79cbe1"/><stop offset=".840" stop-color="#76cae0"/><stop offset=".853" stop-color="#8fd4e6"/><stop offset=".860" stop-color="#b3e4ef"/><stop offset=".867" stop-color="#a5deeb"/><stop offset=".887" stop-color="#b4e4ef"/><stop offset=".900" stop-color="#aee2ee"/><stop offset=".907" stop-color="#c0e9f2"/><stop offset=".913" stop-color="#f4fbfd"/><stop offset=".927" stop-color="#f8d5a3"/><stop offset=".947" stop-color="#f7cd94"/><stop offset=".967" stop-color="#fbe9cd"/><stop offset="1" stop-color="#feffff"/></linearGradient>
<linearGradient id="gp7_2" x1="0" y1="0" x2="0" y2="1"><stop offset=".000" stop-color="#f6ca8d"/><stop offset=".007" stop-color="#f2ab57"/><stop offset=".020" stop-color="#f2aa55"/><stop offset=".027" stop-color="#f4bc73"/><stop offset=".033" stop-color="#fae0b7"/><stop offset=".040" stop-color="#7fcee2"/><stop offset=".047" stop-color="#2960c3"/><stop offset=".053" stop-color="#203ead"/><stop offset=".087" stop-color="#1b319b"/><stop offset=".093" stop-color="#1e3ba9"/><stop offset=".100" stop-color="#2b67c6"/><stop offset=".107" stop-color="#97d8e8"/><stop offset=".113" stop-color="#f9dcb1"/><stop offset=".120" stop-color="#f2af5c"/><stop offset=".127" stop-color="#ef953d"/><stop offset=".160" stop-color="#ee7a31"/><stop offset=".187" stop-color="#f2ad5a"/><stop offset=".213" stop-color="#ee7d33"/><stop offset=".220" stop-color="#f1a44a"/><stop offset=".227" stop-color="#fdf4e7"/><stop offset=".233" stop-color="#a8dfec"/><stop offset=".260" stop-color="#b3e4ef"/><stop offset=".267" stop-color="#c4ebf3"/><stop offset=".293" stop-color="#77cbe0"/><stop offset=".300" stop-color="#9ad9e8"/><stop offset=".307" stop-color="#e9f8fb"/><stop offset=".320" stop-color="#fffefc"/><stop offset=".333" stop-color="#fefcf8"/><stop offset=".340" stop-color="#fae4c1"/><stop offset=".347" stop-color="#f3b262"/><stop offset=".360" stop-color="#f1a750"/><stop offset=".373" stop-color="#f2b161"/><stop offset=".393" stop-color="#ef8838"/><stop offset=".400" stop-color="#ed6f2d"/><stop offset=".420" stop-color="#f2aa55"/><stop offset=".433" stop-color="#f2b261"/><stop offset=".460" stop-color="#f2ab56"/><stop offset=".487" stop-color="#f4bf78"/><stop offset=".493" stop-color="#f8d4a1"/><stop offset=".500" stop-color="#f9fdfe"/><stop offset=".513" stop-color="#ebf8fb"/><stop offset=".540" stop-color="#effafc"/><stop offset=".573" stop-color="#dbf3f8"/><stop offset=".587" stop-color="#e5f6fa"/><stop offset=".593" stop-color="#feffff"/><stop offset=".600" stop-color="#f6cc91"/><stop offset=".607" stop-color="#f1a54d"/><stop offset=".613" stop-color="#ef913c"/><stop offset=".653" stop-color="#f4c07a"/><stop offset=".660" stop-color="#f6cd93"/><stop offset=".667" stop-color="#fcecd4"/><stop offset=".673" stop-color="#eaf8fb"/><stop offset=".687" stop-color="#b0e3ee"/><stop offset=".720" stop-color="#84d0e3"/><stop offset=".740" stop-color="#b0e3ee"/><stop offset=".760" stop-color="#9bd9e9"/><stop offset=".773" stop-color="#7dcde1"/><stop offset=".807" stop-color="#86d1e4"/><stop offset=".833" stop-color="#77cae0"/><stop offset=".853" stop-color="#9ddae9"/><stop offset=".873" stop-color="#c2eaf3"/><stop offset=".933" stop-color="#a4ddeb"/><stop offset=".960" stop-color="#fffefc"/><stop offset="1" stop-color="#fcefda"/></linearGradient>
<linearGradient id="gp7_3" x1="0" y1="0" x2="0" y2="1"><stop offset=".000" stop-color="#f4be77"/><stop offset=".007" stop-color="#f0973e"/><stop offset=".020" stop-color="#f0983f"/><stop offset=".027" stop-color="#f2ae5c"/><stop offset=".033" stop-color="#fcecd2"/><stop offset=".040" stop-color="#6dc7de"/><stop offset=".047" stop-color="#2346b8"/><stop offset=".053" stop-color="#1c35a2"/><stop offset=".080" stop-color="#2345b7"/><stop offset=".093" stop-color="#254fbd"/><stop offset=".100" stop-color="#317dce"/><stop offset=".107" stop-color="#c5ebf4"/><stop offset=".113" stop-color="#fdf2e1"/><stop offset=".120" stop-color="#f2ae5b"/><stop offset=".133" stop-color="#ed702d"/><stop offset=".160" stop-color="#f0973e"/><stop offset=".167" stop-color="#f4bd75"/><stop offset=".173" stop-color="#f7fcfd"/><stop offset=".180" stop-color="#a9dfec"/><stop offset=".193" stop-color="#8ad2e5"/><stop offset=".247" stop-color="#89d2e4"/><stop offset=".267" stop-color="#ace1ed"/><stop offset=".293" stop-color="#93d6e6"/><stop offset=".300" stop-color="#a4ddeb"/><stop offset=".307" stop-color="#e4f6fa"/><stop offset=".313" stop-color="#fefaf3"/><stop offset=".340" stop-color="#fcecd4"/><stop offset=".353" stop-color="#f2b160"/><stop offset=".373" stop-color="#ec6428"/><stop offset=".427" stop-color="#f2b262"/><stop offset=".453" stop-color="#f4c07a"/><stop offset=".480" stop-color="#f09f43"/><stop offset=".487" stop-color="#f2ac58"/><stop offset=".493" stop-color="#f6ca8e"/><stop offset=".500" stop-color="#fdf3e3"/><stop offset=".507" stop-color="#f4fbfd"/><stop offset=".527" stop-color="#def4f9"/><stop offset=".547" stop-color="#fefcf8"/><stop offset=".593" stop-color="#fae3be"/><stop offset=".600" stop-color="#f8d6a4"/><stop offset=".607" stop-color="#f1a953"/><stop offset=".613" stop-color="#ee8436"/><stop offset=".640" stop-color="#ed722e"/><stop offset=".653" stop-color="#f1a44b"/><stop offset=".660" stop-color="#f4bc72"/><stop offset=".667" stop-color="#fae4c0"/><stop offset=".680" stop-color="#ffffff"/><stop offset=".740" stop-color="#d2f0f6"/><stop offset=".767" stop-color="#aae0ed"/><stop offset=".820" stop-color="#82cfe3"/><stop offset=".847" stop-color="#97d7e8"/><stop offset=".873" stop-color="#d7f2f7"/><stop offset=".900" stop-color="#c5ebf4"/><stop offset=".940" stop-color="#ace1ed"/><stop offset=".973" stop-color="#e8f7fb"/><stop offset="1" stop-color="#effafc"/></linearGradient>
<linearGradient id="gp7_4" x1="0" y1="0" x2="0" y2="1"><stop offset=".000" stop-color="#f5c481"/><stop offset=".007" stop-color="#f1a64f"/><stop offset=".020" stop-color="#f2ad5a"/><stop offset=".033" stop-color="#f8d8a8"/><stop offset=".040" stop-color="#82cfe3"/><stop offset=".047" stop-color="#295ec2"/><stop offset=".053" stop-color="#1e3aa8"/><stop offset=".093" stop-color="#254fbd"/><stop offset=".100" stop-color="#317dce"/><stop offset=".107" stop-color="#a4ddeb"/><stop offset=".113" stop-color="#fffcf8"/><stop offset=".120" stop-color="#f3b567"/><stop offset=".127" stop-color="#ef923c"/><stop offset=".160" stop-color="#ed692a"/><stop offset=".167" stop-color="#f2ad59"/><stop offset=".173" stop-color="#fcecd4"/><stop offset=".180" stop-color="#a9dfec"/><stop offset=".213" stop-color="#82cfe3"/><stop offset=".227" stop-color="#9edbe9"/><stop offset=".240" stop-color="#f0fafc"/><stop offset=".267" stop-color="#fdf2e1"/><stop offset=".280" stop-color="#fafdfe"/><stop offset=".293" stop-color="#aae0ed"/><stop offset=".307" stop-color="#ade1ed"/><stop offset=".333" stop-color="#edf9fb"/><stop offset=".340" stop-color="#fdf4e5"/><stop offset=".347" stop-color="#f5c481"/><stop offset=".353" stop-color="#f2ad5a"/><stop offset=".380" stop-color="#f1a74f"/><stop offset=".407" stop-color="#f2ae5c"/><stop offset=".427" stop-color="#f1aa54"/><stop offset=".433" stop-color="#f3b96d"/><stop offset=".440" stop-color="#fceed8"/><stop offset=".447" stop-color="#fbfefe"/><stop offset=".480" stop-color="#fdf6eb"/><stop offset=".513" stop-color="#f1fafc"/><stop offset=".527" stop-color="#bee8f2"/><stop offset=".567" stop-color="#b0e2ee"/><stop offset=".580" stop-color="#feffff"/><stop offset=".600" stop-color="#f8d6a4"/><stop offset=".607" stop-color="#f4be76"/><stop offset=".640" stop-color="#ee8536"/><stop offset=".653" stop-color="#f09d41"/><stop offset=".660" stop-color="#f2af5d"/><stop offset=".673" stop-color="#fdf2e2"/><stop offset=".693" stop-color="#fffdfb"/><stop offset=".733" stop-color="#fef9f2"/><stop offset=".740" stop-color="#ebf8fb"/><stop offset=".747" stop-color="#9ad9e9"/><stop offset=".760" stop-color="#9ad9e8"/><stop offset=".780" stop-color="#ace1ed"/><stop offset=".807" stop-color="#80cee2"/><stop offset=".833" stop-color="#8bd3e5"/><stop offset=".873" stop-color="#ceeff5"/><stop offset=".907" stop-color="#a9e0ec"/><stop offset=".967" stop-color="#f7fcfd"/><stop offset="1" stop-color="#ddf4f9"/></linearGradient>
<linearGradient id="gp7_5" x1="0" y1="0" x2="0" y2="1"><stop offset=".000" stop-color="#f7cf97"/><stop offset=".007" stop-color="#f2b161"/><stop offset=".020" stop-color="#f2ae5c"/><stop offset=".027" stop-color="#f5c17c"/><stop offset=".033" stop-color="#fae5c2"/><stop offset=".040" stop-color="#81cee2"/><stop offset=".047" stop-color="#295ec2"/><stop offset=".053" stop-color="#1f3ba9"/><stop offset=".080" stop-color="#1a319b"/><stop offset=".093" stop-color="#2650bd"/><stop offset=".100" stop-color="#317fcf"/><stop offset=".107" stop-color="#c1eaf3"/><stop offset=".113" stop-color="#f7ce94"/><stop offset=".120" stop-color="#e44322"/><stop offset=".127" stop-color="#d4201d"/><stop offset=".160" stop-color="#d5211d"/><stop offset=".167" stop-color="#e64823"/><stop offset=".173" stop-color="#f3b76b"/><stop offset=".180" stop-color="#fdf5e7"/><stop offset=".193" stop-color="#f2fbfc"/><stop offset=".220" stop-color="#effafc"/><stop offset=".240" stop-color="#a4ddeb"/><stop offset=".247" stop-color="#aee2ee"/><stop offset=".267" stop-color="#7fcee2"/><stop offset=".280" stop-color="#9edbe9"/><stop offset=".287" stop-color="#ecf9fb"/><stop offset=".307" stop-color="#f2af5d"/><stop offset=".313" stop-color="#f09b40"/><stop offset=".333" stop-color="#f1a54c"/><stop offset=".340" stop-color="#f4bf77"/><stop offset=".347" stop-color="#fbe9cc"/><stop offset=".353" stop-color="#fefaf4"/><stop offset=".387" stop-color="#fcecd4"/><stop offset=".427" stop-color="#fef9f1"/><stop offset=".467" stop-color="#f7fcfd"/><stop offset=".487" stop-color="#e7f7fa"/><stop offset=".507" stop-color="#fef6eb"/><stop offset=".513" stop-color="#fdf2e1"/><stop offset=".520" stop-color="#fffdfb"/><stop offset=".527" stop-color="#a9dfec"/><stop offset=".533" stop-color="#7ccce1"/><stop offset=".560" stop-color="#8bd2e5"/><stop offset=".567" stop-color="#99d9e8"/><stop offset=".580" stop-color="#fffefd"/><stop offset=".593" stop-color="#fbe9cc"/><stop offset=".607" stop-color="#f2aa55"/><stop offset=".667" stop-color="#f2af5d"/><stop offset=".693" stop-color="#f6cc90"/><stop offset=".713" stop-color="#f3b668"/><stop offset=".720" stop-color="#f4c079"/><stop offset=".727" stop-color="#fcefdb"/><stop offset=".733" stop-color="#effafc"/><stop offset=".753" stop-color="#96d7e7"/><stop offset=".780" stop-color="#8ad2e5"/><stop offset=".807" stop-color="#6bc6de"/><stop offset=".827" stop-color="#6ec7de"/><stop offset=".860" stop-color="#dcf3f8"/><stop offset=".893" stop-color="#f5fcfd"/><stop offset=".920" stop-color="#fcefda"/><stop offset=".940" stop-color="#fffffe"/><stop offset=".947" stop-color="#fefcf7"/><stop offset=".953" stop-color="#fbe8ca"/><stop offset=".960" stop-color="#f5c583"/><stop offset=".980" stop-color="#f1a54c"/><stop offset=".993" stop-color="#f0a145"/><stop offset="1" stop-color="#f2aa56"/></linearGradient>
<linearGradient id="gp7_6" x1="0" y1="0" x2="0" y2="1"><stop offset=".000" stop-color="#f7d099"/><stop offset=".007" stop-color="#f3b363"/><stop offset=".020" stop-color="#f2af5d"/><stop offset=".027" stop-color="#f5c27e"/><stop offset=".033" stop-color="#fefcf7"/><stop offset=".040" stop-color="#9bd9e9"/><stop offset=".047" stop-color="#2b67c6"/><stop offset=".060" stop-color="#2345b8"/><stop offset=".087" stop-color="#1f3caa"/><stop offset=".093" stop-color="#2244b7"/><stop offset=".100" stop-color="#317dce"/><stop offset=".107" stop-color="#b3e4ef"/><stop offset=".113" stop-color="#f3b76b"/><stop offset=".120" stop-color="#e03020"/><stop offset=".127" stop-color="#b61517"/><stop offset=".147" stop-color="#a50f14"/><stop offset=".160" stop-color="#a50f14"/><stop offset=".167" stop-color="#d9221d"/><stop offset=".173" stop-color="#f8d39f"/><stop offset=".180" stop-color="#97d8e8"/><stop offset=".187" stop-color="#68c5dd"/><stop offset=".220" stop-color="#97d8e8"/><stop offset=".280" stop-color="#bbe7f1"/><stop offset=".293" stop-color="#fefaf4"/><stop offset=".300" stop-color="#fcedd5"/><stop offset=".307" stop-color="#f5c583"/><stop offset=".313" stop-color="#f2ad5a"/><stop offset=".333" stop-color="#f1a44a"/><stop offset=".347" stop-color="#f6cb90"/><stop offset=".353" stop-color="#fbebd0"/><stop offset=".367" stop-color="#fbfefe"/><stop offset=".380" stop-color="#dcf3f8"/><stop offset=".407" stop-color="#fef9f2"/><stop offset=".420" stop-color="#fdf5e8"/><stop offset=".453" stop-color="#fefcf7"/><stop offset=".480" stop-color="#fcecd2"/><stop offset=".500" stop-color="#f9fdfe"/><stop offset=".513" stop-color="#e3f6fa"/><stop offset=".520" stop-color="#fefaf2"/><stop offset=".527" stop-color="#f7d09a"/><stop offset=".533" stop-color="#f4bf77"/><stop offset=".567" stop-color="#f3b567"/><stop offset=".580" stop-color="#f2aa55"/><stop offset=".587" stop-color="#f2b161"/><stop offset=".593" stop-color="#f8d4a1"/><stop offset=".600" stop-color="#f7d29c"/><stop offset=".613" stop-color="#f4bd74"/><stop offset=".660" stop-color="#f2ae5b"/><stop offset=".693" stop-color="#f2ae5c"/><stop offset=".713" stop-color="#f1aa54"/><stop offset=".720" stop-color="#f4ba70"/><stop offset=".733" stop-color="#f9fdfe"/><stop offset=".747" stop-color="#a1dcea"/><stop offset=".760" stop-color="#95d7e7"/><stop offset=".780" stop-color="#a6deec"/><stop offset=".847" stop-color="#9cdae9"/><stop offset=".867" stop-color="#f4fbfd"/><stop offset=".940" stop-color="#fef7ed"/><stop offset=".947" stop-color="#fcebd1"/><stop offset=".960" stop-color="#f2b161"/><stop offset=".987" stop-color="#f0983e"/><stop offset="1" stop-color="#f1a64d"/></linearGradient>
<linearGradient id="gp7_7" x1="0" y1="0" x2="0" y2="1"><stop offset=".000" stop-color="#f4bf77"/><stop offset=".007" stop-color="#f0a044"/><stop offset=".020" stop-color="#f1aa54"/><stop offset=".027" stop-color="#f4c079"/><stop offset=".033" stop-color="#fbe8ca"/><stop offset=".040" stop-color="#81cfe2"/><stop offset=".047" stop-color="#2a62c4"/><stop offset=".053" stop-color="#203dad"/><stop offset=".087" stop-color="#1d36a3"/><stop offset=".093" stop-color="#203fb0"/><stop offset=".100" stop-color="#2e73ca"/><stop offset=".107" stop-color="#aee2ee"/><stop offset=".113" stop-color="#f4be76"/><stop offset=".120" stop-color="#e44322"/><stop offset=".127" stop-color="#d4201d"/><stop offset=".160" stop-color="#b81617"/><stop offset=".167" stop-color="#e44122"/><stop offset=".173" stop-color="#fbe8ca"/><stop offset=".180" stop-color="#abe0ed"/><stop offset=".187" stop-color="#86d1e4"/><stop offset=".213" stop-color="#73c9df"/><stop offset=".227" stop-color="#b4e4ef"/><stop offset=".240" stop-color="#fcfeff"/><stop offset=".280" stop-color="#e6f7fa"/><stop offset=".300" stop-color="#fefbf5"/><stop offset=".327" stop-color="#fdf3e4"/><stop offset=".333" stop-color="#fbe6c4"/><stop offset=".340" stop-color="#f1a750"/><stop offset=".347" stop-color="#d5211d"/><stop offset=".353" stop-color="#c31a19"/><stop offset=".360" stop-color="#db231e"/><stop offset=".387" stop-color="#dd271f"/><stop offset=".393" stop-color="#e13621"/><stop offset=".400" stop-color="#ee7e33"/><stop offset=".407" stop-color="#f8d7a7"/><stop offset=".413" stop-color="#fcefd9"/><stop offset=".447" stop-color="#fdf1de"/><stop offset=".467" stop-color="#f3fbfd"/><stop offset=".493" stop-color="#d9f2f8"/><stop offset=".513" stop-color="#e6f7fa"/><stop offset=".520" stop-color="#fdf1de"/><stop offset=".527" stop-color="#f3b668"/><stop offset=".533" stop-color="#ef923c"/><stop offset=".560" stop-color="#ed722e"/><stop offset=".580" stop-color="#f3b86c"/><stop offset=".587" stop-color="#f8d5a2"/><stop offset=".593" stop-color="#f6cc91"/><stop offset=".600" stop-color="#ec5e26"/><stop offset=".607" stop-color="#b11316"/><stop offset=".640" stop-color="#a50f14"/><stop offset=".647" stop-color="#cf1e1c"/><stop offset=".653" stop-color="#ed692a"/><stop offset=".660" stop-color="#f1a248"/><stop offset=".673" stop-color="#fbe5c4"/><stop offset=".687" stop-color="#fef9f0"/><stop offset=".720" stop-color="#fffefc"/><stop offset=".740" stop-color="#f0fafc"/><stop offset=".747" stop-color="#a1dcea"/><stop offset=".760" stop-color="#8ed4e5"/><stop offset=".800" stop-color="#9edbea"/><stop offset=".827" stop-color="#6cc6de"/><stop offset=".847" stop-color="#80cee2"/><stop offset=".853" stop-color="#9ddae9"/><stop offset=".860" stop-color="#edf9fc"/><stop offset=".880" stop-color="#fcebd2"/><stop offset=".913" stop-color="#f7fcfe"/><stop offset=".953" stop-color="#d8f2f8"/><stop offset=".987" stop-color="#f1fafc"/><stop offset="1" stop-color="#fef9f1"/></linearGradient>
<linearGradient id="gp7_8" x1="0" y1="0" x2="0" y2="1"><stop offset=".000" stop-color="#fceed8"/><stop offset=".007" stop-color="#f5c584"/><stop offset=".013" stop-color="#f3b669"/><stop offset=".020" stop-color="#f3b669"/><stop offset=".027" stop-color="#f5c686"/><stop offset=".033" stop-color="#fbe9cd"/><stop offset=".040" stop-color="#7bcce1"/><stop offset=".047" stop-color="#2345b8"/><stop offset=".053" stop-color="#192d96"/><stop offset=".080" stop-color="#2345b7"/><stop offset=".093" stop-color="#2244b7"/><stop offset=".100" stop-color="#2859c0"/><stop offset=".107" stop-color="#93d6e7"/><stop offset=".113" stop-color="#f1aa54"/><stop offset=".120" stop-color="#e13721"/><stop offset=".133" stop-color="#cd1d1b"/><stop offset=".160" stop-color="#dc231e"/><stop offset=".167" stop-color="#ee7730"/><stop offset=".173" stop-color="#f5fcfd"/><stop offset=".180" stop-color="#5ab6da"/><stop offset=".187" stop-color="#3281d0"/><stop offset=".247" stop-color="#3079cd"/><stop offset=".260" stop-color="#459bd5"/><stop offset=".273" stop-color="#cfeff6"/><stop offset=".280" stop-color="#e9f8fb"/><stop offset=".347" stop-color="#f5fcfd"/><stop offset=".453" stop-color="#fef8ef"/><stop offset=".487" stop-color="#fcefda"/><stop offset=".513" stop-color="#f8fdfe"/><stop offset=".600" stop-color="#eef9fc"/><stop offset=".660" stop-color="#fef9f0"/><stop offset=".700" stop-color="#e8f7fb"/><stop offset=".733" stop-color="#daf3f8"/><stop offset=".753" stop-color="#72c8df"/><stop offset=".760" stop-color="#317dce"/><stop offset=".767" stop-color="#1e3aa8"/><stop offset=".773" stop-color="#192d96"/><stop offset=".807" stop-color="#1f3baa"/><stop offset=".853" stop-color="#2243b5"/><stop offset=".867" stop-color="#285ac1"/><stop offset=".880" stop-color="#2142b3"/><stop offset=".893" stop-color="#2f76cc"/><stop offset=".900" stop-color="#54aed8"/><stop offset=".907" stop-color="#b3e4ef"/><stop offset=".927" stop-color="#e5f6fa"/><stop offset=".973" stop-color="#fef9f1"/><stop offset=".987" stop-color="#fdf2e2"/><stop offset="1" stop-color="#ffffff"/></linearGradient>
<clipPath id="cpp7"><rect x="431.4" y="240.5" width="63.1" height="105.1"/></clipPath>
<mask id="mkp7" maskUnits="userSpaceOnUse" x="0" y="0" width="520" height="575"><rect x="0" y="0" width="520" height="575" fill="#fff"/><rect x="487.5" y="266.0" width="13.0" height="52.0" fill="#000"/></mask>
<path id="wp7" transform="scale(0.1)" d="M4331 2404l6 6 0 8-12 6 0 8-87 6 0 8-71 6 0 8-25 6 0 8 64 6 0 8 64 6 0 8 27 6 0 8 39 6 0 8 12 6 0 8-2 6 0 8-8 6 0 8-14 6 0 8-5 6 0 8 2 6 0 8 0 6 0 8-1 6 0 8-11 6 0 8-25 6 0 8-12 6 0 8-3 6 0 8 3 6 0 8 20 6 0 8 20 6 0 8 14 6 0 8 20 6 0 8 10 6 0 8 4 6 0 8 2 6 0 8-5 6 0 8-16 6 0 8-23 6 0 8-8 6 0 8 1 6 0 8 0 6 0 8-3 6 0 8 0 6 0 8 5 6 0 8 10 6 0 8 6 6 0 8-8 6 0 8-15 6 0 8-15 6 0 8-4 6 0 8 6 6 0 8 7 6 0 8 5 6 0 8 4 6 0 8-4 6 0 8-5 6 0 8-3 6 0 8 1 6 0 8 2 6 0 8-4 6 0 8-10 6 0 8-11 6 0 8-4 6 0 8 4 6 0 8 9 6 0 8 8 6 0 8 2 6 0 8 1 6 0 8-2 6 0 8-1 6 0 8 0 6 0 8-2 6 0 8 2 6 0 8 8 6 0 8 12 6 0 8 9 6 0 8 1 6 0 8-4 6 0 8-3 6 0 8 1 6 0 8 3 6M4403 2404l4 6 0 8-12 6 0 8-82 6 0 8-71 6 0 8-27 6 0 8 61 6 0 8 60 6 0 8 24 6 0 8 37 6 0 8 15 6 0 8 9 6 0 8 10 6 0 8-1 6 0 8-11 6 0 8-15 6 0 8-13 6 0 8-9 6 0 8-16 6 0 8-18 6 0 8-1 6 0 8 8 6 0 8 9 6 0 8 18 6 0 8 18 6 0 8 7 6 0 8 11 6 0 8 1 6 0 8-3 6 0 8-2 6 0 8-3 6 0 8-10 6 0 8-14 6 0 8-1 6 0 8 10 6 0 8 9 6 0 8-4 6 0 8-13 6 0 8-12 6 0 8-3 6 0 8 3 6 0 8 3 6 0 8 0 6 0 8-8 6 0 8-3 6 0 8 9 6 0 8 10 6 0 8 0 6 0 8-7 6 0 8-9 6 0 8 0 6 0 8 5 6 0 8 0 6 0 8-8 6 0 8-11 6 0 8-3 6 0 8 6 6 0 8 9 6 0 8 4 6 0 8-3 6 0 8-2 6 0 8 1 6 0 8 2 6 0 8 2 6 0 8 1 6 0 8 1 6 0 8 3 6 0 8 7 6 0 8 9 6 0 8 9 6 0 8 3 6 0 8-1 6 0 8-4 6 0 8-5 6 0 8-4 6 0 8-1 6M4493 2404l3 6 0 8-12 6 0 8-77 6 0 8-68 6 0 8-28 6 0 8 59 6 0 8 55 6 0 8 15 6 0 8 25 6 0 8 8 6 0 8 5 6 0 8 3 6 0 8-5 6 0 8-7 6 0 8 1 6 0 8 9 6 0 8-1 6 0 8-13 6 0 8-13 6 0 8-5 6 0 8-1 6 0 8 1 6 0 8 11 6 0 8 7 6 0 8 0 6 0 8 10 6 0 8 12 6 0 8 7 6 0 8 2 6 0 8-5 6 0 8-10 6 0 8-6 6 0 8-3 6 0 8 0 6 0 8 2 6 0 8 3 6 0 8-3 6 0 8-5 6 0 8 1 6 0 8 3 6 0 8 0 6 0 8-2 6 0 8-10 6 0 8-11 6 0 8 1 6 0 8 11 6 0 8 11 6 0 8 4 6 0 8-11 6 0 8-18 6 0 8-14 6 0 8-7 6 0 8-4 6 0 8 0 6 0 8 4 6 0 8 4 6 0 8 2 6 0 8 1 6 0 8 2 6 0 8 5 6 0 8 6 6 0 8-1 6 0 8-7 6 0 8-5 6 0 8-1 6 0 8-1 6 0 8-1 6 0 8 0 6 0 8 3 6 0 8 3 6 0 8 3 6 0 8 3 6 0 8 0 6 0 8 0 6 0 8-2 6M4569 2404l4 6 0 8-14 6 0 8-82 6 0 8-70 6 0 8-32 6 0 8 51 6 0 8 52 6 0 8 23 6 0 8 35 6 0 8 13 6 0 8 0 6 0 8-6 6 0 8-14 6 0 8-13 6 0 8-2 6 0 8-1 6 0 8-9 6 0 8-7 6 0 8 0 6 0 8 0 6 0 8-1 6 0 8 7 6 0 8 19 6 0 8 15 6 0 8 9 6 0 8 13 6 0 8 8 6 0 8-1 6 0 8-2 6 0 8-1 6 0 8-2 6 0 8-5 6 0 8-9 6 0 8-8 6 0 8-2 6 0 8 5 6 0 8-2 6 0 8-13 6 0 8-12 6 0 8-8 6 0 8-4 6 0 8-1 6 0 8 1 6 0 8 7 6 0 8 17 6 0 8 19 6 0 8 13 6 0 8 8 6 0 8-1 6 0 8-12 6 0 8-15 6 0 8-12 6 0 8-12 6 0 8-6 6 0 8 5 6 0 8 8 6 0 8 1 6 0 8-8 6 0 8-8 6 0 8-7 6 0 8-7 6 0 8-2 6 0 8 9 6 0 8 18 6 0 8 14 6 0 8-1 6 0 8-9 6 0 8-6 6 0 8 1 6 0 8 4 6 0 8 1 6 0 8-1 6 0 8-3 6 0 8 6 6 0 8 8 6M4606 2404l3 6 0 8-13 6 0 8-80 6 0 8-62 6 0 8-17 6 0 8 65 6 0 8 58 6 0 8 18 6 0 8 30 6 0 8 14 6 0 8 4 6 0 8 0 6 0 8-13 6 0 8-13 6 0 8-2 6 0 8-2 6 0 8-2 6 0 8-5 6 0 8-6 6 0 8-3 6 0 8 2 6 0 8 4 6 0 8 6 6 0 8 2 6 0 8 1 6 0 8 10 6 0 8 11 6 0 8 5 6 0 8-3 6 0 8-5 6 0 8 1 6 0 8 5 6 0 8 2 6 0 8 1 6 0 8 3 6 0 8 0 6 0 8-12 6 0 8-18 6 0 8-14 6 0 8-8 6 0 8-1 6 0 8 5 6 0 8 18 6 0 8 19 6 0 8 9 6 0 8-1 6 0 8-6 6 0 8 0 6 0 8-1 6 0 8-9 6 0 8-13 6 0 8-8 6 0 8 0 6 0 8 7 6 0 8 6 6 0 8-3 6 0 8-3 6 0 8-3 6 0 8-10 6 0 8-13 6 0 8-7 6 0 8 4 6 0 8 9 6 0 8 9 6 0 8 5 6 0 8 1 6 0 8 2 6 0 8 6 6 0 8 8 6 0 8 4 6 0 8 2 6 0 8 1 6 0 8-4 6 0 8-7 6 0 8-6 6M4699 2404l0 6 0 8-19 6 0 8-85 6 0 8-68 6 0 8-19 6 0 8 65 6 0 8 57 6 0 8 16 6 0 8 33 6 0 8 19 6 0 8 13 6 0 8 4 6 0 8-17 6 0 8-19 6 0 8-7 6 0 8-7 6 0 8-5 6 0 8-2 6 0 8-1 6 0 8-3 6 0 8-1 6 0 8 4 6 0 8 7 6 0 8 6 6 0 8 1 6 0 8 0 6 0 8-1 6 0 8 1 6 0 8 4 6 0 8 5 6 0 8 4 6 0 8-5 6 0 8-12 6 0 8-10 6 0 8-5 6 0 8-4 6 0 8-2 6 0 8-2 6 0 8-7 6 0 8-7 6 0 8 1 6 0 8 4 6 0 8 8 6 0 8 10 6 0 8 11 6 0 8 11 6 0 8 5 6 0 8 1 6 0 8-6 6 0 8-11 6 0 8-7 6 0 8 0 6 0 8 5 6 0 8 5 6 0 8-1 6 0 8-9 6 0 8-12 6 0 8-9 6 0 8-2 6 0 8 6 6 0 8 7 6 0 8 0 6 0 8-2 6 0 8 3 6 0 8 10 6 0 8 9 6 0 8 6 6 0 8 1 6 0 8-1 6 0 8-6 6 0 8-9 6 0 8-3 6 0 8 5 6 0 8 8 6 0 8 5 6M4734 2404l4 6 0 8-12 6 0 8-74 6 0 8-62 6 0 8-23 6 0 8 61 6 0 8 62 6 0 8 32 6 0 8 49 6 0 8 19 6 0 8 5 6 0 8-3 6 0 8-25 6 0 8-28 6 0 8-4 6 0 8 1 6 0 8-6 6 0 8-9 6 0 8-5 6 0 8 3 6 0 8 13 6 0 8 15 6 0 8 7 6 0 8-1 6 0 8-8 6 0 8-12 6 0 8-11 6 0 8-4 6 0 8-1 6 0 8 3 6 0 8 9 6 0 8 11 6 0 8 4 6 0 8-1 6 0 8-5 6 0 8-6 6 0 8-9 6 0 8-5 6 0 8 3 6 0 8 7 6 0 8 5 6 0 8 2 6 0 8 3 6 0 8 0 6 0 8-1 6 0 8 1 6 0 8 0 6 0 8 1 6 0 8 4 6 0 8 9 6 0 8 10 6 0 8 10 6 0 8 5 6 0 8-5 6 0 8-15 6 0 8-13 6 0 8-4 6 0 8-1 6 0 8-2 6 0 8-2 6 0 8-3 6 0 8-1 6 0 8 1 6 0 8 6 6 0 8 7 6 0 8 4 6 0 8 2 6 0 8 2 6 0 8-2 6 0 8-5 6 0 8-1 6 0 8 3 6 0 8-2 6 0 8-2 6 0 8 0 6M4806 2404l7 6 0 8-8 6 0 8-72 6 0 8-63 6 0 8-23 6 0 8 62 6 0 8 64 6 0 8 34 6 0 8 47 6 0 8 15 6 0 8 3 6 0 8-6 6 0 8-36 6 0 8-39 6 0 8-8 6 0 8 3 6 0 8 8 6 0 8 8 6 0 8 5 6 0 8 5 6 0 8 7 6 0 8 12 6 0 8 10 6 0 8 3 6 0 8 1 6 0 8-2 6 0 8-11 6 0 8-10 6 0 8 2 6 0 8 2 6 0 8-5 6 0 8-8 6 0 8-8 6 0 8-6 6 0 8-3 6 0 8-1 6 0 8 5 6 0 8 11 6 0 8 18 6 0 8 18 6 0 8 4 6 0 8-1 6 0 8-7 6 0 8-7 6 0 8 7 6 0 8 13 6 0 8 4 6 0 8-2 6 0 8-9 6 0 8-11 6 0 8-7 6 0 8-4 6 0 8-2 6 0 8-3 6 0 8-8 6 0 8-13 6 0 8-8 6 0 8-3 6 0 8-4 6 0 8-4 6 0 8-3 6 0 8 1 6 0 8 4 6 0 8 8 6 0 8 10 6 0 8 4 6 0 8 1 6 0 8 3 6 0 8 5 6 0 8 5 6 0 8 9 6 0 8 6 6 0 8-5 6 0 8-11 6 0 8-7 6M4893 2404l3 6 0 8-13 6 0 8-77 6 0 8-60 6 0 8-17 6 0 8 63 6 0 8 57 6 0 8 25 6 0 8 44 6 0 8 11 6 0 8 2 6 0 8-6 6 0 8-33 6 0 8-36 6 0 8-14 6 0 8-7 6 0 8-1 6 0 8 3 6 0 8 3 6 0 8 10 6 0 8 13 6 0 8 10 6 0 8 6 6 0 8 6 6 0 8 9 6 0 8 16 6 0 8 7 6 0 8-1 6 0 8-7 6 0 8-13 6 0 8-14 6 0 8-6 6 0 8-1 6 0 8 0 6 0 8 1 6 0 8-2 6 0 8-6 6 0 8-5 6 0 8 8 6 0 8 21 6 0 8 13 6 0 8-4 6 0 8-15 6 0 8-10 6 0 8 13 6 0 8 20 6 0 8 7 6 0 8-3 6 0 8-9 6 0 8-12 6 0 8-8 6 0 8-3 6 0 8 2 6 0 8 4 6 0 8 1 6 0 8-11 6 0 8-15 6 0 8-13 6 0 8-9 6 0 8-8 6 0 8-2 6 0 8 6 6 0 8 8 6 0 8 3 6 0 8 1 6 0 8-4 6 0 8 3 6 0 8 10 6 0 8 8 6 0 8 5 6 0 8 5 6 0 8 2 6 0 8-2 6 0 8-2 6 0 8-1 6M4957 2405l3 7 1 7-7 7-33 7-38 7-35 7-27 7-26 7-4 7 25 7 23 7 24 7 24 7 6 7 21 7 28 7 20 7 10 7 5 7 3 7 2 7 1 7-3 7-12 7-23 7M4931 2947l-5 7-2 7 0 7 1 7 3 7 3 7 2 7 2 7 1 7 0 7 1 7 2 7 2 7 2 7 3 7 2 7 3 7 1 7-1 7-3 7-4 7-5 7-5 7-3 7-1 7 1 7 2 7 2 7 1 7-1 7-3 7-4 7-8 7-10 7-12 7-11 7-8 7-4 7-1 7 1 7 1 7 1 7 2 7 2 7 1 7 2 7 2 7 2 7 2 7 3 7 4 7 3 7 2 7 3 7 6 7 7 7 10 7 10 7 8 7 5 7 2 7 1 7 1 7 1 7 1 7 2 7 1 7 2 7 2 7 1 7 0 7"/>
<linearGradient id="gp8_0" x1="0" y1="0" x2="0" y2="1"><stop offset=".000" stop-color="#eef9fc"/><stop offset=".013" stop-color="#ddf4f8"/><stop offset=".020" stop-color="#b4e4ef"/><stop offset=".027" stop-color="#3f93d3"/><stop offset=".033" stop-color="#2756bf"/><stop offset=".053" stop-color="#1f3baa"/><stop offset=".093" stop-color="#2346b9"/><stop offset=".100" stop-color="#2756bf"/><stop offset=".107" stop-color="#4094d3"/><stop offset=".113" stop-color="#d5f1f7"/><stop offset=".120" stop-color="#fcf0dc"/><stop offset=".133" stop-color="#fae4c1"/><stop offset=".160" stop-color="#fdf6e9"/><stop offset=".193" stop-color="#f5fcfd"/><stop offset=".213" stop-color="#8ad2e4"/><stop offset=".247" stop-color="#8cd3e5"/><stop offset=".260" stop-color="#9ddae9"/><stop offset=".267" stop-color="#caedf5"/><stop offset=".273" stop-color="#daf3f8"/><stop offset=".320" stop-color="#7ecde2"/><stop offset=".340" stop-color="#b1e3ef"/><stop offset=".347" stop-color="#e5f6fa"/><stop offset=".353" stop-color="#fdf4e7"/><stop offset=".360" stop-color="#f3b262"/><stop offset=".367" stop-color="#e95425"/><stop offset=".373" stop-color="#dc231e"/><stop offset=".407" stop-color="#ed6a2b"/><stop offset=".413" stop-color="#f2aa55"/><stop offset=".420" stop-color="#fdf1df"/><stop offset=".427" stop-color="#fef7ec"/><stop offset=".440" stop-color="#f2af5e"/><stop offset=".453" stop-color="#ef933c"/><stop offset=".480" stop-color="#f6c88a"/><stop offset=".487" stop-color="#f8d7a7"/><stop offset=".493" stop-color="#fef9f0"/><stop offset=".500" stop-color="#fcfefe"/><stop offset=".507" stop-color="#fdf4e5"/><stop offset=".513" stop-color="#f5c482"/><stop offset=".520" stop-color="#f1a954"/><stop offset=".540" stop-color="#ee8235"/><stop offset=".553" stop-color="#ee8235"/><stop offset=".560" stop-color="#f0a045"/><stop offset=".567" stop-color="#f9ddb1"/><stop offset=".573" stop-color="#c5ebf4"/><stop offset=".580" stop-color="#a2dcea"/><stop offset=".600" stop-color="#ace1ed"/><stop offset=".627" stop-color="#c9edf4"/><stop offset=".640" stop-color="#b5e5ef"/><stop offset=".647" stop-color="#b8e6f0"/><stop offset=".653" stop-color="#e4f6fa"/><stop offset=".673" stop-color="#fef9f1"/><stop offset=".720" stop-color="#f0fafc"/><stop offset=".727" stop-color="#fefbf5"/><stop offset=".733" stop-color="#f8d8a8"/><stop offset=".740" stop-color="#ee8235"/><stop offset=".747" stop-color="#e13821"/><stop offset=".760" stop-color="#da221e"/><stop offset=".787" stop-color="#df2e20"/><stop offset=".800" stop-color="#ef903b"/><stop offset=".807" stop-color="#f6ca8e"/><stop offset=".813" stop-color="#f7fcfe"/><stop offset=".820" stop-color="#96d7e7"/><stop offset=".827" stop-color="#66c4dc"/><stop offset=".847" stop-color="#52acd8"/><stop offset=".867" stop-color="#6ac6dd"/><stop offset=".880" stop-color="#f3fbfd"/><stop offset=".933" stop-color="#fdf2e0"/><stop offset=".940" stop-color="#fbe7c7"/><stop offset=".947" stop-color="#f7cd94"/><stop offset=".953" stop-color="#ef913b"/><stop offset=".960" stop-color="#eb5d26"/><stop offset=".987" stop-color="#db231e"/><stop offset=".993" stop-color="#e23b21"/><stop offset="1" stop-color="#ed712e"/></linearGradient>
<linearGradient id="gp8_1" x1="0" y1="0" x2="0" y2="1"><stop offset=".000" stop-color="#fcefda"/><stop offset=".013" stop-color="#fef8ef"/><stop offset=".020" stop-color="#dbf3f8"/><stop offset=".027" stop-color="#3f93d3"/><stop offset=".033" stop-color="#2756bf"/><stop offset=".060" stop-color="#2245b7"/><stop offset=".100" stop-color="#2449ba"/><stop offset=".107" stop-color="#3079cd"/><stop offset=".113" stop-color="#93d6e7"/><stop offset=".120" stop-color="#fffefc"/><stop offset=".127" stop-color="#fae4c1"/><stop offset=".133" stop-color="#f3b669"/><stop offset=".140" stop-color="#dd271f"/><stop offset=".147" stop-color="#a50f14"/><stop offset=".167" stop-color="#b41417"/><stop offset=".180" stop-color="#df2f20"/><stop offset=".187" stop-color="#f1a852"/><stop offset=".193" stop-color="#fcecd4"/><stop offset=".200" stop-color="#e4f6fa"/><stop offset=".213" stop-color="#6ac5dd"/><stop offset=".233" stop-color="#4ea6d7"/><stop offset=".273" stop-color="#5fbcdb"/><stop offset=".287" stop-color="#a1dcea"/><stop offset=".307" stop-color="#b6e5f0"/><stop offset=".313" stop-color="#dcf3f8"/><stop offset=".320" stop-color="#e1f5f9"/><stop offset=".327" stop-color="#ace1ed"/><stop offset=".340" stop-color="#8fd4e5"/><stop offset=".347" stop-color="#96d7e7"/><stop offset=".353" stop-color="#fef7ed"/><stop offset=".360" stop-color="#f0a247"/><stop offset=".367" stop-color="#eb5d26"/><stop offset=".400" stop-color="#e13821"/><stop offset=".407" stop-color="#ec6027"/><stop offset=".413" stop-color="#f2b05f"/><stop offset=".420" stop-color="#fef6eb"/><stop offset=".433" stop-color="#dbf3f8"/><stop offset=".460" stop-color="#e0f5f9"/><stop offset=".487" stop-color="#e9f8fb"/><stop offset=".500" stop-color="#fbfefe"/><stop offset=".513" stop-color="#bde8f2"/><stop offset=".560" stop-color="#7ccde1"/><stop offset=".580" stop-color="#b5e5f0"/><stop offset=".593" stop-color="#a1dcea"/><stop offset=".600" stop-color="#b1e3ee"/><stop offset=".607" stop-color="#eaf8fb"/><stop offset=".620" stop-color="#fbe5c3"/><stop offset=".633" stop-color="#fbe8c9"/><stop offset=".640" stop-color="#fffcf9"/><stop offset=".647" stop-color="#c6ecf4"/><stop offset=".653" stop-color="#b5e5f0"/><stop offset=".673" stop-color="#fffefc"/><stop offset=".700" stop-color="#fdf3e4"/><stop offset=".720" stop-color="#f3fbfd"/><stop offset=".727" stop-color="#f9fdfe"/><stop offset=".733" stop-color="#f5c787"/><stop offset=".740" stop-color="#e95224"/><stop offset=".747" stop-color="#c31a19"/><stop offset=".767" stop-color="#a71014"/><stop offset=".787" stop-color="#c71b1a"/><stop offset=".793" stop-color="#e44222"/><stop offset=".800" stop-color="#f0983e"/><stop offset=".813" stop-color="#f1fafc"/><stop offset=".820" stop-color="#95d7e7"/><stop offset=".827" stop-color="#65c3dc"/><stop offset=".853" stop-color="#49a0d6"/><stop offset=".867" stop-color="#73c9df"/><stop offset=".873" stop-color="#bde8f2"/><stop offset=".880" stop-color="#eef9fc"/><stop offset=".940" stop-color="#f2fbfd"/><stop offset="1" stop-color="#fcecd2"/></linearGradient>
<linearGradient id="gp8_2" x1="0" y1="0" x2="0" y2="1"><stop offset=".000" stop-color="#fae3bd"/><stop offset=".007" stop-color="#f2b262"/><stop offset=".013" stop-color="#f1a851"/><stop offset=".020" stop-color="#fbe8ca"/><stop offset=".027" stop-color="#70c8df"/><stop offset=".033" stop-color="#2a61c3"/><stop offset=".047" stop-color="#2345b8"/><stop offset=".093" stop-color="#1b339e"/><stop offset=".100" stop-color="#1e39a7"/><stop offset=".107" stop-color="#2b68c6"/><stop offset=".113" stop-color="#95d7e7"/><stop offset=".127" stop-color="#fbfefe"/><stop offset=".133" stop-color="#f6cd93"/><stop offset=".140" stop-color="#eb5b25"/><stop offset=".147" stop-color="#c51b1a"/><stop offset=".160" stop-color="#a50f14"/><stop offset=".180" stop-color="#df3020"/><stop offset=".187" stop-color="#f1aa55"/><stop offset=".193" stop-color="#fbeace"/><stop offset=".200" stop-color="#cbeef5"/><stop offset=".207" stop-color="#3586d1"/><stop offset=".213" stop-color="#1d38a6"/><stop offset=".247" stop-color="#1a319b"/><stop offset=".273" stop-color="#2757c0"/><stop offset=".280" stop-color="#3484d0"/><stop offset=".287" stop-color="#6ec7de"/><stop offset=".313" stop-color="#a8dfec"/><stop offset=".340" stop-color="#9cdae9"/><stop offset=".347" stop-color="#e7f7fa"/><stop offset=".353" stop-color="#f4c17c"/><stop offset=".360" stop-color="#b61517"/><stop offset=".380" stop-color="#a50f14"/><stop offset=".407" stop-color="#a50f14"/><stop offset=".413" stop-color="#d01f1c"/><stop offset=".420" stop-color="#f3b669"/><stop offset=".427" stop-color="#fcecd3"/><stop offset=".433" stop-color="#e8f7fa"/><stop offset=".447" stop-color="#afe2ee"/><stop offset=".480" stop-color="#b2e3ef"/><stop offset=".487" stop-color="#e9f8fb"/><stop offset=".500" stop-color="#fef8ef"/><stop offset=".507" stop-color="#f3fbfd"/><stop offset=".513" stop-color="#ade1ed"/><stop offset=".527" stop-color="#94d6e7"/><stop offset=".560" stop-color="#96d7e7"/><stop offset=".587" stop-color="#bde8f2"/><stop offset=".620" stop-color="#b3e4ef"/><stop offset=".647" stop-color="#a8dfec"/><stop offset=".660" stop-color="#b4e4ef"/><stop offset=".673" stop-color="#e0f5f9"/><stop offset=".687" stop-color="#feffff"/><stop offset=".693" stop-color="#fcefda"/><stop offset=".700" stop-color="#f4c17b"/><stop offset=".720" stop-color="#f0a147"/><stop offset=".747" stop-color="#f3b262"/><stop offset=".767" stop-color="#f0a044"/><stop offset=".773" stop-color="#f3b263"/><stop offset=".780" stop-color="#fcecd4"/><stop offset=".787" stop-color="#e8f7fb"/><stop offset=".800" stop-color="#79cbe1"/><stop offset=".813" stop-color="#4499d4"/><stop offset=".833" stop-color="#2e73ca"/><stop offset=".853" stop-color="#2d70c9"/><stop offset=".860" stop-color="#4297d4"/><stop offset=".873" stop-color="#bce8f1"/><stop offset=".880" stop-color="#ddf4f8"/><stop offset=".933" stop-color="#def4f9"/><stop offset=".993" stop-color="#eaf8fb"/><stop offset="1" stop-color="#f0fafc"/></linearGradient>
<linearGradient id="gp8_3" x1="0" y1="0" x2="0" y2="1"><stop offset=".000" stop-color="#f8d4a1"/><stop offset=".007" stop-color="#f3b566"/><stop offset=".013" stop-color="#f2ad59"/><stop offset=".020" stop-color="#f9deb4"/><stop offset=".027" stop-color="#78cbe0"/><stop offset=".033" stop-color="#2a61c3"/><stop offset=".047" stop-color="#2345b8"/><stop offset=".100" stop-color="#2243b5"/><stop offset=".107" stop-color="#2c6ac7"/><stop offset=".113" stop-color="#90d5e6"/><stop offset=".127" stop-color="#f2fbfd"/><stop offset=".133" stop-color="#f4bc73"/><stop offset=".140" stop-color="#e13420"/><stop offset=".147" stop-color="#a50f14"/><stop offset=".167" stop-color="#b71617"/><stop offset=".180" stop-color="#df3020"/><stop offset=".187" stop-color="#f2b262"/><stop offset=".193" stop-color="#fae2bc"/><stop offset=".200" stop-color="#effafc"/><stop offset=".207" stop-color="#55b0d8"/><stop offset=".213" stop-color="#285bc1"/><stop offset=".247" stop-color="#192d96"/><stop offset=".267" stop-color="#1a309b"/><stop offset=".273" stop-color="#203ead"/><stop offset=".280" stop-color="#3282d0"/><stop offset=".287" stop-color="#8fd4e6"/><stop offset=".293" stop-color="#bbe7f1"/><stop offset=".327" stop-color="#d5f1f7"/><stop offset=".340" stop-color="#feffff"/><stop offset=".347" stop-color="#fcedd6"/><stop offset=".353" stop-color="#f1a852"/><stop offset=".360" stop-color="#ad1215"/><stop offset=".407" stop-color="#a50f14"/><stop offset=".413" stop-color="#d3201c"/><stop offset=".420" stop-color="#f7cf97"/><stop offset=".427" stop-color="#fcedd6"/><stop offset=".433" stop-color="#f1fafc"/><stop offset=".440" stop-color="#b1e3ef"/><stop offset=".460" stop-color="#8dd4e5"/><stop offset=".480" stop-color="#90d5e6"/><stop offset=".493" stop-color="#c8edf4"/><stop offset=".500" stop-color="#f7d098"/><stop offset=".507" stop-color="#f0973e"/><stop offset=".520" stop-color="#f1a953"/><stop offset=".533" stop-color="#f4bf78"/><stop offset=".553" stop-color="#f2b161"/><stop offset=".560" stop-color="#f3b76a"/><stop offset=".573" stop-color="#fcedd6"/><stop offset=".627" stop-color="#fcefdb"/><stop offset=".647" stop-color="#f6fcfd"/><stop offset=".660" stop-color="#dcf3f8"/><stop offset=".680" stop-color="#fefbf6"/><stop offset=".687" stop-color="#fae2bc"/><stop offset=".693" stop-color="#f3b262"/><stop offset=".700" stop-color="#ef903b"/><stop offset=".720" stop-color="#ee7931"/><stop offset=".740" stop-color="#f3b364"/><stop offset=".747" stop-color="#f4be77"/><stop offset=".767" stop-color="#f1a44b"/><stop offset=".773" stop-color="#f2b262"/><stop offset=".780" stop-color="#fbe9cd"/><stop offset=".787" stop-color="#dcf3f8"/><stop offset=".793" stop-color="#9edbe9"/><stop offset=".800" stop-color="#4da5d6"/><stop offset=".807" stop-color="#3586d1"/><stop offset=".860" stop-color="#60bddb"/><stop offset=".867" stop-color="#88d1e4"/><stop offset=".873" stop-color="#d3f0f6"/><stop offset=".880" stop-color="#edf9fb"/><stop offset=".927" stop-color="#ebf8fb"/><stop offset=".940" stop-color="#fdf6ea"/><stop offset=".953" stop-color="#f1a64e"/><stop offset=".960" stop-color="#ef8d3a"/><stop offset=".987" stop-color="#f2b060"/><stop offset=".993" stop-color="#f3ba6f"/><stop offset="1" stop-color="#f7d099"/></linearGradient>
<linearGradient id="gp8_4" x1="0" y1="0" x2="0" y2="1"><stop offset=".000" stop-color="#fffefc"/><stop offset=".007" stop-color="#f7d29d"/><stop offset=".013" stop-color="#f5c380"/><stop offset=".020" stop-color="#fbfefe"/><stop offset=".027" stop-color="#86d0e3"/><stop offset=".033" stop-color="#2a61c3"/><stop offset=".053" stop-color="#192d96"/><stop offset=".100" stop-color="#2756bf"/><stop offset=".107" stop-color="#3f93d3"/><stop offset=".113" stop-color="#b6e5f0"/><stop offset=".127" stop-color="#feffff"/><stop offset=".133" stop-color="#f5c583"/><stop offset=".140" stop-color="#e95424"/><stop offset=".147" stop-color="#cf1e1c"/><stop offset=".173" stop-color="#c51b1a"/><stop offset=".180" stop-color="#db231e"/><stop offset=".187" stop-color="#ef903b"/><stop offset=".193" stop-color="#fffefc"/><stop offset=".200" stop-color="#b8e6f0"/><stop offset=".207" stop-color="#479dd5"/><stop offset=".213" stop-color="#2758c0"/><stop offset=".233" stop-color="#2245b7"/><stop offset=".267" stop-color="#2347ba"/><stop offset=".273" stop-color="#285cc1"/><stop offset=".280" stop-color="#4ca4d6"/><stop offset=".287" stop-color="#b6e5f0"/><stop offset=".293" stop-color="#f2fbfc"/><stop offset=".333" stop-color="#f3fbfd"/><stop offset=".340" stop-color="#fffdfa"/><stop offset=".347" stop-color="#fceed7"/><stop offset=".353" stop-color="#f2ae5b"/><stop offset=".360" stop-color="#ad1215"/><stop offset=".407" stop-color="#a50f14"/><stop offset=".413" stop-color="#d3201c"/><stop offset=".420" stop-color="#f7cf97"/><stop offset=".427" stop-color="#f1fafc"/><stop offset=".447" stop-color="#78cbe0"/><stop offset=".453" stop-color="#62c1dc"/><stop offset=".473" stop-color="#9fdbea"/><stop offset=".487" stop-color="#b1e3ee"/><stop offset=".500" stop-color="#eef9fc"/><stop offset=".507" stop-color="#e7f7fa"/><stop offset=".520" stop-color="#90d5e6"/><stop offset=".533" stop-color="#72c8df"/><stop offset=".560" stop-color="#a7dfec"/><stop offset=".573" stop-color="#f0fafc"/><stop offset=".607" stop-color="#fceed7"/><stop offset=".627" stop-color="#f3b76b"/><stop offset=".647" stop-color="#f1a34a"/><stop offset=".653" stop-color="#f1a64e"/><stop offset=".660" stop-color="#f4be76"/><stop offset=".667" stop-color="#fae3bf"/><stop offset=".673" stop-color="#fdf6e9"/><stop offset=".680" stop-color="#fdf6ea"/><stop offset=".687" stop-color="#fae3bd"/><stop offset=".693" stop-color="#f4bd75"/><stop offset=".700" stop-color="#f1a64f"/><stop offset=".760" stop-color="#f0963e"/><stop offset=".767" stop-color="#f0a247"/><stop offset=".773" stop-color="#f4bc72"/><stop offset=".780" stop-color="#fbe8c9"/><stop offset=".787" stop-color="#fffefc"/><stop offset=".807" stop-color="#8fd4e6"/><stop offset=".827" stop-color="#66c4dc"/><stop offset=".853" stop-color="#92d5e6"/><stop offset=".867" stop-color="#91d5e6"/><stop offset=".887" stop-color="#d8f2f8"/><stop offset=".953" stop-color="#eaf8fb"/><stop offset=".973" stop-color="#fef6eb"/><stop offset=".987" stop-color="#fcf0dd"/><stop offset="1" stop-color="#fef9f0"/></linearGradient>
<linearGradient id="gp8_5" x1="0" y1="0" x2="0" y2="1"><stop offset=".000" stop-color="#fbe5c4"/><stop offset=".007" stop-color="#f4ba70"/><stop offset=".013" stop-color="#f2ad5a"/><stop offset=".020" stop-color="#fbe8c9"/><stop offset=".027" stop-color="#6cc6de"/><stop offset=".033" stop-color="#2550bd"/><stop offset=".053" stop-color="#192d96"/><stop offset=".087" stop-color="#2243b5"/><stop offset=".100" stop-color="#2040b0"/><stop offset=".107" stop-color="#57b2d9"/><stop offset=".113" stop-color="#f4bc73"/><stop offset=".120" stop-color="#ea5625"/><stop offset=".147" stop-color="#ea5625"/><stop offset=".160" stop-color="#ee7831"/><stop offset=".167" stop-color="#f5c482"/><stop offset=".173" stop-color="#fcefd9"/><stop offset=".180" stop-color="#fcfefe"/><stop offset=".200" stop-color="#d2f0f6"/><stop offset=".213" stop-color="#7acce1"/><stop offset=".260" stop-color="#87d1e4"/><stop offset=".273" stop-color="#8cd3e5"/><stop offset=".293" stop-color="#d9f2f8"/><stop offset=".347" stop-color="#fafdfe"/><stop offset=".353" stop-color="#fbe9cc"/><stop offset=".360" stop-color="#f09a3f"/><stop offset=".367" stop-color="#e54623"/><stop offset=".373" stop-color="#d6211d"/><stop offset=".407" stop-color="#ed702d"/><stop offset=".413" stop-color="#f1a851"/><stop offset=".427" stop-color="#fae5c2"/><stop offset=".493" stop-color="#fdf4e6"/><stop offset=".507" stop-color="#effafc"/><stop offset=".520" stop-color="#96d7e7"/><stop offset=".533" stop-color="#6fc7de"/><stop offset=".560" stop-color="#84d0e3"/><stop offset=".573" stop-color="#effafc"/><stop offset=".587" stop-color="#fcedd5"/><stop offset=".607" stop-color="#fbe9cb"/><stop offset=".620" stop-color="#f3b567"/><stop offset=".653" stop-color="#f6c889"/><stop offset=".660" stop-color="#f7d29d"/><stop offset=".667" stop-color="#fceed9"/><stop offset=".673" stop-color="#fffdfb"/><stop offset=".727" stop-color="#daf3f8"/><stop offset=".767" stop-color="#eef9fc"/><stop offset=".787" stop-color="#d9f2f8"/><stop offset=".827" stop-color="#73c9df"/><stop offset=".860" stop-color="#8dd4e5"/><stop offset=".880" stop-color="#f3fbfd"/><stop offset=".893" stop-color="#f7fcfd"/><stop offset=".907" stop-color="#d1f0f6"/><stop offset=".913" stop-color="#a8dfec"/><stop offset=".933" stop-color="#8dd4e5"/><stop offset=".967" stop-color="#f7fcfd"/><stop offset=".993" stop-color="#fceed7"/><stop offset="1" stop-color="#fcf0dc"/></linearGradient>
<linearGradient id="gp8_6" x1="0" y1="0" x2="0" y2="1"><stop offset=".000" stop-color="#fbfefe"/><stop offset=".013" stop-color="#e8f7fb"/><stop offset=".020" stop-color="#a8dfec"/><stop offset=".027" stop-color="#388ad2"/><stop offset=".033" stop-color="#2756bf"/><stop offset=".073" stop-color="#1d37a4"/><stop offset=".087" stop-color="#1b319c"/><stop offset=".100" stop-color="#2345b8"/><stop offset=".107" stop-color="#6fc7de"/><stop offset=".113" stop-color="#f5c483"/><stop offset=".120" stop-color="#ec5e26"/><stop offset=".133" stop-color="#e44122"/><stop offset=".153" stop-color="#eb5b25"/><stop offset=".160" stop-color="#ee7730"/><stop offset=".167" stop-color="#f4bc72"/><stop offset=".173" stop-color="#fdf5e8"/><stop offset=".187" stop-color="#e6f7fa"/><stop offset=".200" stop-color="#ace1ed"/><stop offset=".207" stop-color="#3282d0"/><stop offset=".213" stop-color="#1e3aa8"/><stop offset=".240" stop-color="#295dc2"/><stop offset=".273" stop-color="#1c35a1"/><stop offset=".293" stop-color="#1d37a4"/><stop offset=".307" stop-color="#3383d0"/><stop offset=".347" stop-color="#4499d4"/><stop offset=".353" stop-color="#9cdae9"/><stop offset=".360" stop-color="#f5c685"/><stop offset=".367" stop-color="#ed6f2d"/><stop offset=".380" stop-color="#ea5625"/><stop offset=".400" stop-color="#eb5a25"/><stop offset=".407" stop-color="#ed6d2c"/><stop offset=".413" stop-color="#f1a64f"/><stop offset=".420" stop-color="#fae5c3"/><stop offset=".427" stop-color="#fefaf3"/><stop offset=".467" stop-color="#fef6eb"/><stop offset=".507" stop-color="#fcecd3"/><stop offset=".560" stop-color="#fcedd6"/><stop offset=".580" stop-color="#f6fcfd"/><stop offset=".593" stop-color="#d8f2f8"/><stop offset=".640" stop-color="#e6f7fa"/><stop offset=".667" stop-color="#e4f6fa"/><stop offset=".700" stop-color="#fef9f1"/><stop offset=".753" stop-color="#fffdfa"/><stop offset=".787" stop-color="#d2f0f6"/><stop offset=".800" stop-color="#a2dcea"/><stop offset=".813" stop-color="#9cdae9"/><stop offset=".860" stop-color="#79cbe1"/><stop offset=".867" stop-color="#8ed4e5"/><stop offset=".873" stop-color="#d4f1f7"/><stop offset=".880" stop-color="#fffffe"/><stop offset=".887" stop-color="#fef9f1"/><stop offset=".893" stop-color="#ffffff"/><stop offset=".907" stop-color="#a3ddeb"/><stop offset=".933" stop-color="#74c9e0"/><stop offset=".940" stop-color="#80cee2"/><stop offset=".947" stop-color="#aae0ec"/><stop offset=".953" stop-color="#f6fcfd"/><stop offset=".993" stop-color="#fceed7"/><stop offset="1" stop-color="#fdf2e1"/></linearGradient>
<clipPath id="cpp8"><rect x="60.8" y="441.0" width="48.8" height="104.9"/></clipPath>
<path id="wp8" transform="scale(0.1)" d="M614 4408l-11 8 0 6-57 8 0 6-51 8 0 6-32 8 0 6 44 8 0 6 45 8 0 6 10 8 0 6 20 8 0 6 30 8 0 6 10 8 0 6-2 8 0 6-4 8 0 6-6 8 0 6-8 8 0 6-14 8 0 6-15 8 0 6-3 8 0 6 10 8 0 6 16 8 0 6 15 8 0 6 5 8 0 6 0 8 0 6-3 8 0 6-2 8 0 6 3 8 0 6 5 8 0 6 14 8 0 6 7 8 0 6-5 8 0 6-10 8 0 6-13 8 0 6-3 8 0 6 16 8 0 6 10 8 0 6-3 8 0 6-7 8 0 6-6 8 0 6 6 8 0 6 14 8 0 6 2 8 0 6-5 8 0 6-15 8 0 6-27 8 0 6-13 8 0 6 7 8 0 6 15 8 0 6 12 8 0 6 2 8 0 6 4 8 0 6 3 8 0 6-4 8 0 6-7 8 0 6-8 8 0 6-6 8 0 6 9 8 0 6 17 8 0 6 9 8 0 6 4 8 0 6 2 8 0 6-7 8 0 6-23 8 0 6-21 8 0 6-7 8 0 6 0 8 0 6 7 8 0 6 15 8 0 6 7 8 0 6-2 8 0 6 1 8 0 6 9 8 0 6 21 8 0 6 21 8 0 6 9 8 0 6 1 8 0 6-7 8M658 4408l-8 8 0 6-54 8 0 6-48 8 0 6-30 8 0 6 43 8 0 6 44 8 0 6 4 8 0 6 11 8 0 6 31 8 0 6 31 8 0 6 25 8 0 6 8 8 0 6-7 8 0 6-19 8 0 6-24 8 0 6-19 8 0 6-9 8 0 6 3 8 0 6 7 8 0 6 7 8 0 6 0 8 0 6-5 8 0 6-4 8 0 6 0 8 0 6 1 8 0 6 12 8 0 6 30 8 0 6 18 8 0 6 1 8 0 6-6 8 0 6-14 8 0 6-9 8 0 6 11 8 0 6 10 8 0 6-2 8 0 6-5 8 0 6-10 8 0 6-9 8 0 6-2 8 0 6 1 8 0 6 0 8 0 6-3 8 0 6-6 8 0 6-1 8 0 6 8 8 0 6 13 8 0 6 8 8 0 6-3 8 0 6-5 8 0 6-1 8 0 6-6 8 0 6-13 8 0 6-10 8 0 6 0 8 0 6 21 8 0 6 27 8 0 6 16 8 0 6 10 8 0 6 0 8 0 6-18 8 0 6-31 8 0 6-26 8 0 6-10 8 0 6 0 8 0 6 11 8 0 6 20 8 0 6 8 8 0 6-4 8 0 6-5 8 0 6 3 8 0 6 16 8 0 6 17 8 0 6 7 8 0 6-2 8 0 6-6 8M771 4408l-4 8 0 6-58 8 0 6-50 8 0 6-34 8 0 6 37 8 0 6 41 8 0 6 8 8 0 6 16 8 0 6 32 8 0 6 32 8 0 6 22 8 0 6 3 8 0 6-7 8 0 6-22 8 0 6-36 8 0 6-27 8 0 6-7 8 0 6 2 8 0 6 6 8 0 6 4 8 0 6 5 8 0 6 6 8 0 6 3 8 0 6-1 8 0 6-5 8 0 6 12 8 0 6 34 8 0 6 13 8 0 6-1 8 0 6-5 8 0 6-13 8 0 6-23 8 0 6-8 8 0 6-1 8 0 6-3 8 0 6 0 8 0 6 4 8 0 6-2 8 0 6-8 8 0 6-7 8 0 6-6 8 0 6-3 8 0 6 2 8 0 6 1 8 0 6 5 8 0 6 9 8 0 6 5 8 0 6-3 8 0 6-2 8 0 6 4 8 0 6 2 8 0 6 1 8 0 6 3 8 0 6 1 8 0 6 10 8 0 6 16 8 0 6 12 8 0 6 2 8 0 6-17 8 0 6-31 8 0 6-27 8 0 6-10 8 0 6 1 8 0 6 4 8 0 6 9 8 0 6 12 8 0 6 1 8 0 6-4 8 0 6-3 8 0 6 4 8 0 6 8 8 0 6 6 8 0 6 0 8 0 6 0 8 0 6 1 8M820 4408l-2 8 0 6-59 8 0 6-46 8 0 6-23 8 0 6 44 8 0 6 38 8 0 6-1 8 0 6 5 8 0 6 21 8 0 6 30 8 0 6 25 8 0 6 8 8 0 6 0 8 0 6-12 8 0 6-30 8 0 6-27 8 0 6-11 8 0 6-5 8 0 6 3 8 0 6 9 8 0 6 13 8 0 6 12 8 0 6-1 8 0 6-4 8 0 6-1 8 0 6 15 8 0 6 30 8 0 6 5 8 0 6 1 8 0 6 8 8 0 6 5 8 0 6-23 8 0 6-21 8 0 6-13 8 0 6-6 8 0 6-1 8 0 6 8 8 0 6 13 8 0 6 4 8 0 6 2 8 0 6-3 8 0 6-9 8 0 6-9 8 0 6-1 8 0 6 2 8 0 6-1 8 0 6-5 8 0 6-6 8 0 6-4 8 0 6 1 8 0 6 6 8 0 6 14 8 0 6 15 8 0 6 6 8 0 6 3 8 0 6 4 8 0 6 1 8 0 6-14 8 0 6-29 8 0 6-23 8 0 6-6 8 0 6 2 8 0 6 3 8 0 6 5 8 0 6 12 8 0 6 13 8 0 6 4 8 0 6-1 8 0 6-1 8 0 6 1 8 0 6 6 8 0 6 6 8 0 6 2 8 0 6 4 8 0 6 5 8M908 4408l-1 8 0 6-62 8 0 6-57 8 0 6-36 8 0 6 44 8 0 6 47 8 0 6 7 8 0 6 12 8 0 6 25 8 0 6 29 8 0 6 18 8 0 6 0 8 0 6-3 8 0 6-10 8 0 6-28 8 0 6-24 8 0 6-11 8 0 6-7 8 0 6-2 8 0 6 2 8 0 6 12 8 0 6 17 8 0 6 2 8 0 6-1 8 0 6 3 8 0 6 18 8 0 6 31 8 0 6 12 8 0 6 1 8 0 6-4 8 0 6-18 8 0 6-42 8 0 6-24 8 0 6-9 8 0 6 5 8 0 6 16 8 0 6 23 8 0 6 18 8 0 6-1 8 0 6-5 8 0 6-2 8 0 6-2 8 0 6-4 8 0 6-5 8 0 6-4 8 0 6-1 8 0 6 1 8 0 6-1 8 0 6-5 8 0 6-8 8 0 6 0 8 0 6 12 8 0 6 10 8 0 6 2 8 0 6 1 8 0 6 2 8 0 6 6 8 0 6 2 8 0 6-11 8 0 6-18 8 0 6-17 8 0 6-9 8 0 6-4 8 0 6-1 8 0 6 5 8 0 6 13 8 0 6 9 8 0 6 5 8 0 6 3 8 0 6 4 8 0 6 7 8 0 6 6 8 0 6 1 8 0 6 3 8 0 6 2 8M944 4408l2 8 0 6-56 8 0 6-49 8 0 6-31 8 0 6 41 8 0 6 44 8 0 6 10 8 0 6 30 8 0 6 47 8 0 6 24 8 0 6 12 8 0 6 0 8 0 6-12 8 0 6-22 8 0 6-27 8 0 6-17 8 0 6-4 8 0 6-1 8 0 6-3 8 0 6-1 8 0 6 9 8 0 6 14 8 0 6 4 8 0 6 0 8 0 6 0 8 0 6 9 8 0 6 23 8 0 6 9 8 0 6 3 8 0 6 3 8 0 6-10 8 0 6-24 8 0 6-13 8 0 6-2 8 0 6 7 8 0 6 8 8 0 6-2 8 0 6-17 8 0 6-23 8 0 6-10 8 0 6 3 8 0 6 10 8 0 6 13 8 0 6 9 8 0 6 5 8 0 6 7 8 0 6 7 8 0 6 0 8 0 6-6 8 0 6-12 8 0 6-4 8 0 6 8 8 0 6 8 8 0 6 0 8 0 6 0 8 0 6 3 8 0 6 6 8 0 6 3 8 0 6-7 8 0 6-13 8 0 6-13 8 0 6-7 8 0 6-2 8 0 6 2 8 0 6 8 8 0 6 13 8 0 6 6 8 0 6-2 8 0 6-4 8 0 6-6 8 0 6-5 8 0 6-2 8 0 6 0 8 0 6 0 8 0 6-2 8M1013 4408l-5 8 0 6-56 8 0 6-46 8 0 6-26 8 0 6 46 8 0 6 45 8 0 6 8 8 0 6 36 8 0 6 91 8 0 6 73 8 0 6-9 8 0 6-66 8 0 6-45 8 0 6-14 8 0 6-11 8 0 6-21 8 0 6-15 8 0 6-8 8 0 6-2 8 0 6 3 8 0 6 7 8 0 6 10 8 0 6 11 8 0 6 6 8 0 6 1 8 0 6 7 8 0 6 26 8 0 6 15 8 0 6-2 8 0 6-2 8 0 6-8 8 0 6-14 8 0 6-13 8 0 6-10 8 0 6-3 8 0 6 7 8 0 6 7 8 0 6-1 8 0 6-9 8 0 6-6 8 0 6 2 8 0 6 9 8 0 6 11 8 0 6 4 8 0 6 0 8 0 6 0 8 0 6-5 8 0 6-10 8 0 6-2 8 0 6 4 8 0 6 4 8 0 6-3 8 0 6-9 8 0 6-6 8 0 6 1 8 0 6 5 8 0 6 0 8 0 6-5 8 0 6-8 8 0 6-6 8 0 6-2 8 0 6 0 8 0 6 4 8 0 6 6 8 0 6 10 8 0 6 7 8 0 6-4 8 0 6-9 8 0 6-2 8 0 6 5 8 0 6 9 8 0 6 10 8 0 6 4 8 0 6 3 8 0 6 1 8M1091 4408l-8 8 0 6-50 8 0 6-41 8 0 6-26 8 0 6 44 8 0 6 44 8 0 6 9 8 0 6 31 8 0 6 73 8 0 6 50 8 0 6-19 8 0 6-62 8 0 6-46 8 0 6-15 8 0 6-13 8 0 6-18 8 0 6-3 8 0 6 1 8 0 6-3 8 0 6-4 8 0 6-3 8 0 6 1 8 0 6 5 8 0 6 8 8 0 6 22 8 0 6 55 8 0 6 71 8 0 6-7 8 0 6-46 8 0 6-17 8 0 6-6 8 0 6-10 8 0 6-2 8 0 6 1 8 0 6 1 8 0 6-1 8 0 6-1 8 0 6-5 8 0 6-8 8 0 6-5 8 0 6 2 8 0 6 5 8 0 6 2 8 0 6-4 8 0 6-3 8 0 6 0 8 0 6-2 8 0 6-2 8 0 6 0 8 0 6 6 8 0 6 8 8 0 6 7 8 0 6 6 8 0 6 2 8 0 6-1 8 0 6-4 8 0 6-2 8 0 6 0 8 0 6-1 8 0 6-7 8 0 6-10 8 0 6-11 8 0 6-8 8 0 6-5 8 0 6 6 8 0 6 20 8 0 6 11 8 0 6-4 8 0 6-8 8 0 6-5 8 0 6 7 8 0 6 12 8 0 6 5 8 0 6 2 8 0 6 2 8"/>
<linearGradient id="gp9_0" x1="0" y1="0" x2="0" y2="1"><stop offset=".000" stop-color="#f8d7a6"/><stop offset=".013" stop-color="#f7d19b"/><stop offset=".020" stop-color="#e9f8fb"/><stop offset=".027" stop-color="#3281d0"/><stop offset=".033" stop-color="#2757bf"/><stop offset=".093" stop-color="#2755bf"/><stop offset=".100" stop-color="#2c68c6"/><stop offset=".107" stop-color="#63c2dc"/><stop offset=".113" stop-color="#ddf4f9"/><stop offset=".120" stop-color="#feffff"/><stop offset=".127" stop-color="#fef7ed"/><stop offset=".133" stop-color="#fae3be"/><stop offset=".140" stop-color="#f4bc73"/><stop offset=".160" stop-color="#f0a247"/><stop offset=".193" stop-color="#f6cc91"/><stop offset=".200" stop-color="#eaf8fb"/><stop offset=".207" stop-color="#3485d1"/><stop offset=".213" stop-color="#2651bd"/><stop offset=".260" stop-color="#1c339f"/><stop offset=".293" stop-color="#192d96"/><stop offset=".320" stop-color="#2245b7"/><stop offset=".340" stop-color="#1c35a1"/><stop offset=".347" stop-color="#2345b8"/><stop offset=".353" stop-color="#f9fdfe"/><stop offset=".360" stop-color="#ef8737"/><stop offset=".367" stop-color="#e64923"/><stop offset=".413" stop-color="#e33e22"/><stop offset=".420" stop-color="#e74c24"/><stop offset=".427" stop-color="#ef8e3a"/><stop offset=".433" stop-color="#f7d29c"/><stop offset=".440" stop-color="#e7f7fa"/><stop offset=".447" stop-color="#95d7e7"/><stop offset=".453" stop-color="#86d1e4"/><stop offset=".460" stop-color="#90d4e6"/><stop offset=".473" stop-color="#e0f5f9"/><stop offset=".493" stop-color="#e3f6fa"/><stop offset=".500" stop-color="#fef9f0"/><stop offset=".507" stop-color="#f5c27e"/><stop offset=".513" stop-color="#f0a146"/><stop offset=".533" stop-color="#ef933c"/><stop offset=".553" stop-color="#f2b05f"/><stop offset=".573" stop-color="#fefbf6"/><stop offset=".600" stop-color="#dcf3f8"/><stop offset=".673" stop-color="#e9f8fb"/><stop offset=".707" stop-color="#f3fbfd"/><stop offset=".733" stop-color="#f8fdfe"/><stop offset=".760" stop-color="#fcf0dd"/><stop offset=".773" stop-color="#fdfeff"/><stop offset=".793" stop-color="#daf3f8"/><stop offset=".813" stop-color="#fefbf5"/><stop offset=".833" stop-color="#fceed7"/><stop offset=".880" stop-color="#fdf6ea"/><stop offset=".913" stop-color="#effafc"/><stop offset=".960" stop-color="#dcf3f8"/><stop offset="1" stop-color="#feffff"/></linearGradient>
<linearGradient id="gp9_1" x1="0" y1="0" x2="0" y2="1"><stop offset=".000" stop-color="#fae1bb"/><stop offset=".007" stop-color="#f6cc91"/><stop offset=".013" stop-color="#fae1bb"/><stop offset=".020" stop-color="#b2e3ef"/><stop offset=".027" stop-color="#3281d0"/><stop offset=".033" stop-color="#2757bf"/><stop offset=".093" stop-color="#2654be"/><stop offset=".100" stop-color="#2a61c3"/><stop offset=".107" stop-color="#62c0db"/><stop offset=".113" stop-color="#def4f9"/><stop offset=".120" stop-color="#fefbf5"/><stop offset=".147" stop-color="#f5c27e"/><stop offset=".187" stop-color="#f3b364"/><stop offset=".193" stop-color="#f7cf96"/><stop offset=".200" stop-color="#eaf8fb"/><stop offset=".207" stop-color="#317fcf"/><stop offset=".213" stop-color="#2345b8"/><stop offset=".300" stop-color="#2140b0"/><stop offset=".340" stop-color="#2651bd"/><stop offset=".347" stop-color="#388ad1"/><stop offset=".353" stop-color="#edf9fb"/><stop offset=".360" stop-color="#ef8b39"/><stop offset=".367" stop-color="#e54623"/><stop offset=".373" stop-color="#dd281f"/><stop offset=".413" stop-color="#df2f20"/><stop offset=".420" stop-color="#e54422"/><stop offset=".427" stop-color="#ef8c39"/><stop offset=".433" stop-color="#fbe7c7"/><stop offset=".440" stop-color="#eaf8fb"/><stop offset=".460" stop-color="#ddf4f8"/><stop offset=".520" stop-color="#f5fcfd"/><stop offset=".540" stop-color="#fef9f1"/><stop offset=".573" stop-color="#ecf9fb"/><stop offset=".620" stop-color="#fef8ee"/><stop offset=".653" stop-color="#f3fbfd"/><stop offset=".700" stop-color="#d5f1f7"/><stop offset=".720" stop-color="#fffefc"/><stop offset=".733" stop-color="#fceed7"/><stop offset=".773" stop-color="#fefcf8"/><stop offset=".807" stop-color="#fdf1df"/><stop offset=".840" stop-color="#f7fcfd"/><stop offset=".980" stop-color="#fffefd"/><stop offset="1" stop-color="#f7fcfd"/></linearGradient>
<linearGradient id="gp9_2" x1="0" y1="0" x2="0" y2="1"><stop offset=".000" stop-color="#f8d8aa"/><stop offset=".007" stop-color="#f3b86c"/><stop offset=".013" stop-color="#f7ce94"/><stop offset=".020" stop-color="#abe0ed"/><stop offset=".027" stop-color="#2c6bc7"/><stop offset=".033" stop-color="#2448ba"/><stop offset=".100" stop-color="#295cc2"/><stop offset=".113" stop-color="#4ba2d6"/><stop offset=".133" stop-color="#57b2d9"/><stop offset=".160" stop-color="#2f74cb"/><stop offset=".173" stop-color="#3383d0"/><stop offset=".180" stop-color="#64c3dc"/><stop offset=".187" stop-color="#b3e4ef"/><stop offset=".193" stop-color="#b6e5f0"/><stop offset=".200" stop-color="#4ea7d7"/><stop offset=".207" stop-color="#203fb0"/><stop offset=".220" stop-color="#1c35a2"/><stop offset=".260" stop-color="#2243b5"/><stop offset=".320" stop-color="#203dad"/><stop offset=".333" stop-color="#2f75cb"/><stop offset=".340" stop-color="#63c2dc"/><stop offset=".347" stop-color="#c9edf5"/><stop offset=".353" stop-color="#f5c685"/><stop offset=".360" stop-color="#d4201d"/><stop offset=".367" stop-color="#b21416"/><stop offset=".373" stop-color="#ab1115"/><stop offset=".380" stop-color="#dc231e"/><stop offset=".393" stop-color="#e23921"/><stop offset=".420" stop-color="#e74e24"/><stop offset=".427" stop-color="#f1a34a"/><stop offset=".433" stop-color="#fdf6eb"/><stop offset=".447" stop-color="#caedf5"/><stop offset=".527" stop-color="#e2f5f9"/><stop offset=".547" stop-color="#fffffe"/><stop offset=".560" stop-color="#f6cb8f"/><stop offset=".573" stop-color="#f5c27d"/><stop offset=".587" stop-color="#f8d39f"/><stop offset=".600" stop-color="#fefbf5"/><stop offset=".653" stop-color="#dff4f9"/><stop offset=".720" stop-color="#fcfefe"/><stop offset=".727" stop-color="#fef8ee"/><stop offset=".740" stop-color="#f2ae5c"/><stop offset=".747" stop-color="#f09a3f"/><stop offset=".760" stop-color="#f3b364"/><stop offset=".767" stop-color="#f6ca8d"/><stop offset=".773" stop-color="#fef9f1"/><stop offset=".780" stop-color="#e8f7fb"/><stop offset=".800" stop-color="#fefcf7"/><stop offset=".820" stop-color="#fcedd6"/><stop offset=".840" stop-color="#fdf2e1"/><stop offset=".847" stop-color="#ffffff"/><stop offset=".860" stop-color="#a2dcea"/><stop offset=".887" stop-color="#7dcde2"/><stop offset=".907" stop-color="#82cfe3"/><stop offset=".920" stop-color="#b5e5f0"/><stop offset=".927" stop-color="#fefcf7"/><stop offset=".940" stop-color="#fceed7"/><stop offset=".993" stop-color="#fdf2e1"/><stop offset="1" stop-color="#fcf0dc"/></linearGradient>
<linearGradient id="gp9_3" x1="0" y1="0" x2="0" y2="1"><stop offset=".000" stop-color="#f6cc91"/><stop offset=".007" stop-color="#f3b364"/><stop offset=".013" stop-color="#f8d4a1"/><stop offset=".020" stop-color="#d0eff6"/><stop offset=".027" stop-color="#3281d0"/><stop offset=".033" stop-color="#2757bf"/><stop offset=".060" stop-color="#2141b3"/><stop offset=".100" stop-color="#295cc2"/><stop offset=".120" stop-color="#5ebbdb"/><stop offset=".167" stop-color="#66c4dc"/><stop offset=".173" stop-color="#77cae0"/><stop offset=".187" stop-color="#f3fbfd"/><stop offset=".193" stop-color="#fffffe"/><stop offset=".200" stop-color="#d8f2f7"/><stop offset=".207" stop-color="#7dcde2"/><stop offset=".213" stop-color="#5ab6da"/><stop offset=".260" stop-color="#68c5dd"/><stop offset=".280" stop-color="#86d0e3"/><stop offset=".307" stop-color="#d4f1f7"/><stop offset=".327" stop-color="#edf9fc"/><stop offset=".340" stop-color="#f09f43"/><stop offset=".347" stop-color="#e74b23"/><stop offset=".353" stop-color="#be1819"/><stop offset=".360" stop-color="#a50f14"/><stop offset=".367" stop-color="#a50f14"/><stop offset=".380" stop-color="#de2c1f"/><stop offset=".420" stop-color="#e74e24"/><stop offset=".427" stop-color="#ef8938"/><stop offset=".433" stop-color="#fae4c1"/><stop offset=".440" stop-color="#f8fdfe"/><stop offset=".487" stop-color="#e2f5f9"/><stop offset=".533" stop-color="#fef8ee"/><stop offset=".627" stop-color="#fafdfe"/><stop offset=".673" stop-color="#fbfefe"/><stop offset=".693" stop-color="#b0e2ee"/><stop offset=".713" stop-color="#a8dfec"/><stop offset=".740" stop-color="#fdfeff"/><stop offset=".793" stop-color="#dff4f9"/><stop offset=".833" stop-color="#fffcf8"/><stop offset=".860" stop-color="#fdf3e3"/><stop offset=".867" stop-color="#f9deb4"/><stop offset=".873" stop-color="#f3b263"/><stop offset=".880" stop-color="#f09c40"/><stop offset=".907" stop-color="#ed7530"/><stop offset=".933" stop-color="#f0a146"/><stop offset=".940" stop-color="#f2ae5c"/><stop offset=".953" stop-color="#fefaf4"/><stop offset=".987" stop-color="#d9f2f8"/><stop offset="1" stop-color="#def4f9"/></linearGradient>
<linearGradient id="gp9_4" x1="0" y1="0" x2="0" y2="1"><stop offset=".000" stop-color="#f7ce96"/><stop offset=".007" stop-color="#f3b669"/><stop offset=".013" stop-color="#f8d6a4"/><stop offset=".020" stop-color="#bee9f2"/><stop offset=".027" stop-color="#3281d0"/><stop offset=".033" stop-color="#2757bf"/><stop offset=".073" stop-color="#2345b7"/><stop offset=".087" stop-color="#203eae"/><stop offset=".093" stop-color="#244cbb"/><stop offset=".100" stop-color="#4aa1d6"/><stop offset=".107" stop-color="#f9deb4"/><stop offset=".113" stop-color="#ed6d2c"/><stop offset=".120" stop-color="#e33d21"/><stop offset=".147" stop-color="#e13520"/><stop offset=".153" stop-color="#e54322"/><stop offset=".160" stop-color="#ee8637"/><stop offset=".167" stop-color="#fbe8ca"/><stop offset=".173" stop-color="#fffffe"/><stop offset=".193" stop-color="#d6f1f7"/><stop offset=".207" stop-color="#77cbe0"/><stop offset=".227" stop-color="#5ebbdb"/><stop offset=".267" stop-color="#59b4d9"/><stop offset=".287" stop-color="#9bd9e9"/><stop offset=".300" stop-color="#eaf8fb"/><stop offset=".313" stop-color="#fcf0dd"/><stop offset=".327" stop-color="#fbe6c4"/><stop offset=".333" stop-color="#f7d19a"/><stop offset=".340" stop-color="#f1a34a"/><stop offset=".347" stop-color="#ed692a"/><stop offset=".353" stop-color="#d01f1c"/><stop offset=".360" stop-color="#a50f14"/><stop offset=".373" stop-color="#b51517"/><stop offset=".387" stop-color="#d6211d"/><stop offset=".420" stop-color="#dd281f"/><stop offset=".427" stop-color="#ec6428"/><stop offset=".433" stop-color="#f5c787"/><stop offset=".440" stop-color="#fdf2e2"/><stop offset=".447" stop-color="#fdf4e6"/><stop offset=".467" stop-color="#f4bb70"/><stop offset=".473" stop-color="#f4be75"/><stop offset=".493" stop-color="#fdf1de"/><stop offset=".527" stop-color="#fef6eb"/><stop offset=".533" stop-color="#fffefc"/><stop offset=".540" stop-color="#d6f1f7"/><stop offset=".553" stop-color="#4094d3"/><stop offset=".560" stop-color="#2c68c6"/><stop offset=".600" stop-color="#5cb8da"/><stop offset=".607" stop-color="#8bd3e5"/><stop offset=".613" stop-color="#dff4f9"/><stop offset=".627" stop-color="#fefcf8"/><stop offset=".673" stop-color="#fdf3e4"/><stop offset=".687" stop-color="#f8d7a6"/><stop offset=".700" stop-color="#f8d4a0"/><stop offset=".713" stop-color="#fef8ee"/><stop offset=".733" stop-color="#d9f2f8"/><stop offset=".747" stop-color="#cbeef5"/><stop offset=".767" stop-color="#71c8df"/><stop offset=".780" stop-color="#5fbddb"/><stop offset=".820" stop-color="#87d1e4"/><stop offset=".827" stop-color="#a9dfec"/><stop offset=".833" stop-color="#fffdfa"/><stop offset=".847" stop-color="#fcebd2"/><stop offset=".860" stop-color="#fae3be"/><stop offset=".880" stop-color="#f2af5d"/><stop offset=".933" stop-color="#ee8336"/><stop offset=".940" stop-color="#f2ab57"/><stop offset=".947" stop-color="#fae2bc"/><stop offset=".953" stop-color="#fef9f0"/><stop offset=".980" stop-color="#e0f5f9"/><stop offset=".993" stop-color="#e8f7fb"/><stop offset="1" stop-color="#f8fdfe"/></linearGradient>
<linearGradient id="gp9_5" x1="0" y1="0" x2="0" y2="1"><stop offset=".000" stop-color="#f5c787"/><stop offset=".007" stop-color="#f5c17c"/><stop offset=".013" stop-color="#f8d4a1"/><stop offset=".020" stop-color="#b4e4ef"/><stop offset=".027" stop-color="#317fcf"/><stop offset=".033" stop-color="#2757bf"/><stop offset=".087" stop-color="#254fbc"/><stop offset=".093" stop-color="#295ec2"/><stop offset=".100" stop-color="#52acd8"/><stop offset=".107" stop-color="#fbe9cc"/><stop offset=".113" stop-color="#ec6428"/><stop offset=".120" stop-color="#da221e"/><stop offset=".133" stop-color="#b01316"/><stop offset=".153" stop-color="#cd1d1b"/><stop offset=".160" stop-color="#e95525"/><stop offset=".167" stop-color="#f5c787"/><stop offset=".180" stop-color="#fcebd2"/><stop offset=".193" stop-color="#fffdfa"/><stop offset=".207" stop-color="#90d5e6"/><stop offset=".240" stop-color="#59b4d9"/><stop offset=".260" stop-color="#72c9df"/><stop offset=".267" stop-color="#9ddae9"/><stop offset=".273" stop-color="#ecf9fb"/><stop offset=".287" stop-color="#fefaf5"/><stop offset=".300" stop-color="#fae3bf"/><stop offset=".320" stop-color="#fdf5e9"/><stop offset=".333" stop-color="#f8d39f"/><stop offset=".340" stop-color="#f1a64e"/><stop offset=".347" stop-color="#ed692a"/><stop offset=".353" stop-color="#c41a1a"/><stop offset=".360" stop-color="#a50f14"/><stop offset=".380" stop-color="#a50f14"/><stop offset=".413" stop-color="#dc231e"/><stop offset=".420" stop-color="#e33e22"/><stop offset=".427" stop-color="#ee8436"/><stop offset=".433" stop-color="#f7d19b"/><stop offset=".440" stop-color="#fdf3e4"/><stop offset=".460" stop-color="#fdf4e6"/><stop offset=".473" stop-color="#fcefda"/><stop offset=".493" stop-color="#f5fcfd"/><stop offset=".507" stop-color="#daf3f8"/><stop offset=".540" stop-color="#fef8ee"/><stop offset=".600" stop-color="#fdf2e0"/><stop offset=".613" stop-color="#f9deb5"/><stop offset=".620" stop-color="#f3b669"/><stop offset=".627" stop-color="#ec6328"/><stop offset=".640" stop-color="#e54422"/><stop offset=".667" stop-color="#e85024"/><stop offset=".673" stop-color="#ee8335"/><stop offset=".680" stop-color="#f7cd94"/><stop offset=".693" stop-color="#fcebd2"/><stop offset=".740" stop-color="#f9fdfe"/><stop offset=".760" stop-color="#a8dfec"/><stop offset=".787" stop-color="#86d1e4"/><stop offset=".807" stop-color="#6bc6de"/><stop offset=".820" stop-color="#75cae0"/><stop offset=".827" stop-color="#94d7e7"/><stop offset=".833" stop-color="#ecf9fb"/><stop offset=".853" stop-color="#fcedd5"/><stop offset=".873" stop-color="#fcebd2"/><stop offset=".893" stop-color="#f5fcfd"/><stop offset=".907" stop-color="#d6f1f7"/><stop offset=".980" stop-color="#ecf9fb"/><stop offset="1" stop-color="#fdf6ea"/></linearGradient>
<clipPath id="cpp9"><rect x="187.1" y="441.4" width="41.0" height="104.7"/></clipPath>
<mask id="mkp9" maskUnits="userSpaceOnUse" x="0" y="0" width="520" height="575"><rect x="0" y="0" width="520" height="575" fill="#fff"/><rect x="184.1" y="502.0" width="16.5" height="44.0" fill="#000"/></mask>
<path id="wp9" transform="scale(0.1)" d="M1897 4415l-12 7-20 7-21 7-14 7-6 7-2 7-21 7-29 7-28 7-27 7-27 7-26 7 43 7 46 7 49 7 50 7 17 7 2 7 1 7 1 7 3 7 4 7 6 7 6 7 4 7 3 7-3 7-10 7-18 7-22 7-16 7-12 7-11 7-12 7-14 7-16 7-14 7-10 7-5 7 1 7 6 7 10 7 12 7 12 7 11 7 9 7 8 7 6 7 5 7 9 7 16 7 29 7 30 7 15 7 4 7-2 7-4 7-6 7-5 7-4 7-5 7-7 7-11 7-16 7-18 7-14 7-7 7 0 7 7 7 9 7 10 7 9 7 11 7 13 7 14 7 11 7 7 7 3 7 1 7 0 7-3 7-6 7-10 7-12 7-12 7-11 7-7 7-4 7-2 7 0 7 1 7 1 7 3 7 5 7 5 7M1948 4415l-8 7-15 7-16 7-9 7-5 7-2 7-22 7-30 7-30 7-30 7-30 7-29 7 41 7 46 7 52 7 56 7 26 7 10 7 9 7 6 7 4 7 2 7 0 7 0 7-1 7-1 7-4 7-10 7-18 7-20 7-14 7-10 7-7 7-6 7-3 7 0 7 2 7 4 7 4 7 4 7 3 7 3 7 3 7 2 7 3 7 0 7-3 7-4 7-6 7-2 7 8 7 23 7 27 7 20 7 12 7 7 7 3 7-2 7-5 7-7 7-8 7-9 7-10 7-9 7-7 7-1 7 3 7 4 7 0 7-3 7-6 7-6 7-5 7-1 7 2 7 4 7 3 7 2 7 1 7 0 7-1 7-2 7-2 7-1 7 0 7 4 7 6 7 6 7 6 7 4 7M1956 5280l2 7 0 7 0 7-1 7-1 7-4 7-5 7-6 7-7 7-6 7-4 7-1 7 1 7 3 7 3 7 3 7 2 7 1 7 1 7 0 7 1 7 2 7 2 7 2 7M2006 4412l-10 8 0 6-23 8 0 6 0 8 0 6-14 8 0 6-59 8 0 6-63 8 0 6 5 8 0 6 82 8 0 6 58 8 0 6 6 8 0 6 8 8 0 6 7 8 0 6 7 8 0 6 4 8 0 6-20 8 0 6-19 8 0 6-2 8 0 6-2 8 0 6-6 8 0 6-7 8 0 6-2 8 0 6 6 8 0 6 8 8 0 6 4 8 0 6 6 8 0 6 23 8 0 6 39 8 0 6 6 8 0 6-6 8 0 6-5 8 0 6-5 8 0 6-17 8 0 6-25 8 0 6-8 8 0 6 5 8 0 6 9 8 0 6 8 8 0 6 3 8 0 6 1 8 0 6 1 8 0 6-1 8 0 6 1 8 0 6 4 8 0 6 6 8 0 6 3 8 0 6-5 8 0 6-11 8 0 6-8 8 0 6 1 8 0 6 7 8 0 6 5 8 0 6 2 7 0 7 0 8 0 6 1 8 0 6 2 8 0 6 0 7 0 7-4 7 0 7-6 8 0 6-1 8 0 6 4 8 0 6 2 7 0 7-2 7 0 7-6 8 0 6-9 8 0 6-8 8 0 6-2 7 0 7 1 7 0 7 9 8 0 6 17 8 0 6 12 8 0 6-6 7 0 7-15 7 0 7-6 8 0 6 8 8 0 6 11 8M2091 4412l-16 8 0 6-40 8 0 6-16 8 0 6-18 8 0 6-49 8 0 6-53 8 0 6 6 8 0 6 76 8 0 6 57 8 0 6 13 8 0 6 10 8 0 6 3 8 0 6 3 8 0 6 8 8 0 6-11 8 0 6-16 8 0 6-2 8 0 6 5 8 0 6 6 8 0 6 2 8 0 6 1 8 0 6 0 8 0 6 1 8 0 6 2 8 0 6 14 8 0 6 29 8 0 6 20 8 0 6-2 8 0 6-10 8 0 6-7 8 0 6 0 8 0 6-3 8 0 6-12 8 0 6-8 8 0 6-9 8 0 6-9 8 0 6-1 8 0 6 1 8 0 6 3 8 0 6 4 8 0 6 5 8 0 6 3 8 0 6-5 8 0 6-9 8 0 6-3 8 0 6 4 8 0 6 4 8 0 6-3 8 0 6-5 8 0 6-1 8 0 6 4 8 0 6 5 7 0 7-1 8 0 6-6 8 0 6 1 8 0 6 11 7 0 7 11 7 0 7 4 8 0 6-1 8 0 6 0 8 0 6 0 7 0 7-2 7 0 7-5 8 0 6-10 8 0 6-10 8 0 6-4 7 0 7-1 7 0 7 3 8 0 6 4 8 0 6 3 8 0 6-5 7 0 7-4 7 0 7 4 8 0 6 8 8 0 6 5 8M2174 4412l-11 8 0 6-29 8 0 6-9 8 0 6-21 8 0 6-58 8 0 6-59 8 0 6 12 8 0 6 97 8 0 6 70 8 0 6 0 8 0 6-9 8 0 6-15 8 0 6-13 8 0 6-1 8 0 6-4 8 0 6-4 8 0 6 6 8 0 6-1 8 0 6-11 8 0 6-7 8 0 6 8 8 0 6 18 8 0 6 16 8 0 6 7 8 0 6 13 8 0 6 21 8 0 6 14 8 0 6 3 8 0 6-6 8 0 6-8 8 0 6-7 8 0 6-12 8 0 6-17 8 0 6-1 8 0 6 2 8 0 6-2 8 0 6-8 8 0 6-9 8 0 6-7 8 0 6-1 8 0 6 0 8 0 6 0 8 0 6 4 8 0 6 4 8 0 6 2 8 0 6-1 8 0 6-6 8 0 6-5 8 0 6 0 8 0 6 1 8 0 6 0 8 0 6-3 7 0 7-5 8 0 6-1 8 0 6 5 8 0 6 5 7 0 7 5 7 0 7 7 8 0 6 5 8 0 6-2 8 0 6-2 7 0 7 1 7 0 7 3 8 0 6 0 8 0 6 11 8 0 6 16 7 0 7 8 7 0 7-4 8 0 6-9 8 0 6-7 8 0 6-7 7 0 7-4 7 0 7 2 8 0 6 4 8 0 6 4 8M2243 4412l-16 8 0 6-38 8 0 6-19 8 0 6-27 8 0 6-61 8 0 6-61 8 0 6 15 8 0 6 116 8 0 6 85 8 0 6 13 8 0 6 6 8 0 6-10 8 0 6-26 8 0 6-16 8 0 6-14 8 0 6-12 8 0 6-2 8 0 6 5 8 0 6 11 8 0 6 12 8 0 6 8 8 0 6 6 8 0 6 3 8 0 6 4 8 0 6 11 8 0 6 19 8 0 6 11 8 0 6 1 8 0 6 1 8 0 6 4 8 0 6-2 8 0 6-23 8 0 6-34 8 0 6-7 8 0 6 12 8 0 6 8 8 0 6-6 8 0 6-13 8 0 6-9 8 0 6-6 8 0 6-10 8 0 6-9 8 0 6-1 8 0 6 4 8 0 6 11 8 0 6 26 8 0 6 28 8 0 6 13 8 0 6 2 8 0 6-3 8 0 6-9 8 0 6-8 7 0 7-9 8 0 6-10 8 0 6-10 8 0 6-9 7 0 7-8 7 0 7-4 8 0 6-5 8 0 6-6 8 0 6-2 7 0 7 10 7 0 7 17 8 0 6 6 8 0 6 0 8 0 6-1 7 0 7 0 7 0 7 6 8 0 6 7 8 0 6-2 8 0 6-14 7 0 7-11 7 0 7 1 8 0 6 7 8 0 6 7 8M2312 4412l-12 8 0 6-31 8 0 6-13 8 0 6-26 8 0 6-62 8 0 6-60 8 0 6 18 8 0 6 116 8 0 6 85 8 0 6 21 8 0 6 15 8 0 6-34 8 0 6-41 8 0 6-10 8 0 6-2 8 0 6-2 8 0 6-3 8 0 6-8 8 0 6-3 8 0 6 11 8 0 6 18 8 0 6 10 8 0 6 1 8 0 6-1 8 0 6 11 8 0 6 25 8 0 6 18 8 0 6 2 8 0 6-5 8 0 6-5 8 0 6-7 8 0 6-16 8 0 6-22 8 0 6-7 8 0 6 1 8 0 6-1 8 0 6-3 8 0 6-2 8 0 6 1 8 0 6 3 8 0 6 2 8 0 6 1 8 0 6 1 8 0 6-1 8 0 6-5 8 0 6 0 8 0 6 13 8 0 6 10 8 0 6 5 8 0 6-4 8 0 6-19 8 0 6-15 7 0 7-6 8 0 6-2 8 0 6-2 8 0 6-6 7 0 7-6 7 0 7-3 8 0 6-3 8 0 6-3 8 0 6 1 7 0 7 11 7 0 7 16 8 0 6 7 8 0 6 3 8 0 6-3 7 0 7-11 7 0 7-11 8 0 6-5 8 0 6 1 8 0 6 1 7 0 7 0 7 0 7 0 8 0 6 3 8 0 6 5 8"/>
<linearGradient id="gp10_0" x1="0" y1="0" x2="0" y2="1"><stop offset=".000" stop-color="#f3b76a"/><stop offset=".007" stop-color="#ed6f2d"/><stop offset=".013" stop-color="#eb5925"/><stop offset=".020" stop-color="#f09c40"/><stop offset=".027" stop-color="#ebf8fb"/><stop offset=".033" stop-color="#6dc7de"/><stop offset=".040" stop-color="#2d6fc9"/><stop offset=".067" stop-color="#295dc2"/><stop offset=".080" stop-color="#1f3cac"/><stop offset=".093" stop-color="#244aba"/><stop offset=".100" stop-color="#2f77cc"/><stop offset=".107" stop-color="#8bd2e5"/><stop offset=".113" stop-color="#f8fdfe"/><stop offset=".120" stop-color="#f8d6a5"/><stop offset=".193" stop-color="#f1a953"/><stop offset=".220" stop-color="#f2b05e"/><stop offset=".227" stop-color="#f3b96e"/><stop offset=".233" stop-color="#f8d8a9"/><stop offset=".240" stop-color="#e3f6fa"/><stop offset=".247" stop-color="#7ecde2"/><stop offset=".260" stop-color="#49a0d6"/><stop offset=".267" stop-color="#3d90d3"/><stop offset=".287" stop-color="#80cee2"/><stop offset=".300" stop-color="#fcfefe"/><stop offset=".313" stop-color="#fcedd6"/><stop offset=".333" stop-color="#fdf5e8"/><stop offset=".353" stop-color="#e6f7fa"/><stop offset=".400" stop-color="#f0fafc"/><stop offset=".440" stop-color="#fefaf4"/><stop offset=".500" stop-color="#eaf8fb"/><stop offset=".573" stop-color="#fefaf4"/><stop offset=".633" stop-color="#fefbf6"/><stop offset=".720" stop-color="#effafc"/><stop offset=".760" stop-color="#fef8ee"/><stop offset=".800" stop-color="#e4f6fa"/><stop offset=".907" stop-color="#f2fbfd"/><stop offset=".947" stop-color="#f1fafc"/><stop offset="1" stop-color="#ecf9fb"/></linearGradient>
<clipPath id="cpp10"><rect x="320.0" y="441.4" width="7.0" height="104.7"/></clipPath>
<mask id="mkp10" maskUnits="userSpaceOnUse" x="0" y="0" width="520" height="575"><rect x="0" y="0" width="520" height="575" fill="#fff"/><rect x="317.0" y="472.5" width="16.0" height="73.5" fill="#000"/></mask>
<path id="wp10" transform="scale(0.1)" d="M3087 4495l93-35 85-28 81-19M3087 4495l93 1 97 0M3507 4415l-167 45 167 41M3260 4500l15 50 5 50-10 50-20 45-40 30-40-10-20-10 5 15M3200 4530l-5 70 15 80-10 60 30 30 30 15 20-5M3484 4709l-23 40 23 46 41 35-45 46 5 64-52 29-14 41 49 40 37 36-14 40-32 47 3 47 23 29-8 41 14 46-6 58-8 56"/>
</defs>
<path d="M40.5,42.0 L40.5,26.0 L48.0,25.8 L56.0,26.2 L64.0,24.8 L70.0,25.8 L78.0,26.0 L86.0,25.6 L95.0,25.9 L105.0,24.6 L110.0,26.0 L121.0,24.5 L126.0,26.0 L133.0,25.8 L137.5,25.3 L137.5,42.0 Z" fill="#d9dbd8" stroke="none"/>
<path d="M40.5,26.0 L48.0,25.8 L56.0,26.2 L64.0,24.8 L70.0,25.8 L78.0,26.0 L86.0,25.6 L95.0,25.9 L105.0,24.6 L110.0,26.0 L121.0,24.5 L126.0,26.0 L133.0,25.8 L137.5,25.3" fill="none" stroke="#3c3c3c" stroke-width="1.0"/>
<path d="M75.5,27.2 L80.3,27.2 L77.9,23.0 Z" fill="#2841b4"/>
<path d="M86.6,26.9 L91.4,26.9 L89.0,22.7 Z" fill="#2841b4"/>
<path d="M97.2,26.5 L102.0,26.5 L99.6,22.3 Z" fill="#2841b4"/>
<line x1="42.5" y1="56.0" x2="136.5" y2="56.0" stroke="#cbcbcb" stroke-width="0.8" stroke-dasharray="1,2"/>
<line x1="42.5" y1="70.0" x2="136.5" y2="70.0" stroke="#cbcbcb" stroke-width="0.8" stroke-dasharray="1,2"/>
<line x1="42.5" y1="84.0" x2="136.5" y2="84.0" stroke="#cbcbcb" stroke-width="0.8" stroke-dasharray="1,2"/>
<line x1="42.5" y1="98.0" x2="136.5" y2="98.0" stroke="#cbcbcb" stroke-width="0.8" stroke-dasharray="1,2"/>
<line x1="42.5" y1="112.0" x2="136.5" y2="112.0" stroke="#cbcbcb" stroke-width="0.8" stroke-dasharray="1,2"/>
<line x1="42.5" y1="126.0" x2="136.5" y2="126.0" stroke="#cbcbcb" stroke-width="0.8" stroke-dasharray="1,2"/>
<line x1="42.5" y1="140.0" x2="136.5" y2="140.0" stroke="#cbcbcb" stroke-width="0.8" stroke-dasharray="1,2"/>
<g clip-path="url(#cpp0)"><g><g filter="url(#hb)"><rect x="71.6" y="42.0" width="10.5" height="105.0" fill="url(#gp0_0)"/><rect x="81.8" y="42.0" width="7.0" height="105.0" fill="url(#gp0_1)"/><rect x="88.5" y="42.0" width="7.2" height="105.0" fill="url(#gp0_2)"/><rect x="95.4" y="42.0" width="10.2" height="105.0" fill="url(#gp0_3)"/><rect x="80.6" y="42.0" width="2.4" height="105.0" fill="#fff" opacity="0.35"/><rect x="87.3" y="42.0" width="2.4" height="105.0" fill="#fff" opacity="0.35"/><rect x="94.2" y="42.0" width="2.4" height="105.0" fill="#fff" opacity="0.35"/></g></g></g>
<use href="#wp0" class="wu"/>
<use href="#wp0" class="wg" x="1.3" y="0.6"/>
<use href="#wp0" class="wl"/>
<line x1="75.0" y1="56.0" x2="95.0" y2="56.0" stroke="#8e8e8e" stroke-width="1.2"/>
<line x1="58.0" y1="47.0" x2="102.3" y2="47.0" stroke="#8e8e8e" stroke-width="1.2"/>
<path d="M74.6,84.0 L108.0,83.5" fill="none" stroke="#a6d23c" stroke-width="1.6"/>
<line x1="40.5" y1="42.2" x2="137.5" y2="42.2" stroke="#505050" stroke-width="1.1"/>
<rect x="40.5" y="0.3" width="97.0" height="146.0" fill="none" stroke="#7a7a7a" stroke-width="1.25"/>
<line x1="130.5" y1="146.3" x2="130.5" y2="144.8" stroke="#777" stroke-width="0.8"/>
<line x1="130.5" y1="0.3" x2="130.5" y2="1.8" stroke="#777" stroke-width="0.8"/>
<line x1="95.5" y1="146.3" x2="95.5" y2="144.8" stroke="#777" stroke-width="0.8"/>
<line x1="95.5" y1="0.3" x2="95.5" y2="1.8" stroke="#777" stroke-width="0.8"/>
<line x1="60.5" y1="146.3" x2="60.5" y2="144.8" stroke="#777" stroke-width="0.8"/>
<line x1="60.5" y1="0.3" x2="60.5" y2="1.8" stroke="#777" stroke-width="0.8"/>
<line x1="40.5" y1="56.0" x2="42.0" y2="56.0" stroke="#777" stroke-width="0.8"/>
<line x1="40.5" y1="70.0" x2="42.0" y2="70.0" stroke="#777" stroke-width="0.8"/>
<line x1="40.5" y1="84.0" x2="42.0" y2="84.0" stroke="#777" stroke-width="0.8"/>
<line x1="40.5" y1="98.0" x2="42.0" y2="98.0" stroke="#777" stroke-width="0.8"/>
<line x1="40.5" y1="112.0" x2="42.0" y2="112.0" stroke="#777" stroke-width="0.8"/>
<line x1="40.5" y1="126.0" x2="42.0" y2="126.0" stroke="#777" stroke-width="0.8"/>
<line x1="40.5" y1="140.0" x2="42.0" y2="140.0" stroke="#777" stroke-width="0.8"/>
<text x="60.5" y="159.7" font-size="12" text-anchor="middle">100</text>
<text x="95.5" y="159.7" font-size="12" text-anchor="middle">50</text>
<text x="130.5" y="159.7" font-size="12" text-anchor="middle">0</text>
<text x="137.1" y="157.6" font-size="8" class="ns">S</text>
<text x="40.8" y="157.6" font-size="8" class="ns" text-anchor="end">N</text>
<text x="90.0" y="171.0" font-size="12.4" text-anchor="middle">Distance (km)</text>
<text x="132.5" y="11.8" font-size="11" text-anchor="end">4A</text>
<path d="M165.5,41.6 L165.5,27.4 L172.0,26.5 L180.0,25.2 L186.0,26.0 L192.0,25.8 L200.0,26.3 L208.0,26.0 L216.0,25.5 L222.0,25.3 L230.0,26.5 L240.0,26.0 L250.0,25.0 L256.0,25.6 L262.7,24.6 L262.7,41.6 Z" fill="#d9dbd8" stroke="none"/>
<path d="M165.5,27.4 L172.0,26.5 L180.0,25.2 L186.0,26.0 L192.0,25.8 L200.0,26.3 L208.0,26.0 L216.0,25.5 L222.0,25.3 L230.0,26.5 L240.0,26.0 L250.0,25.0 L256.0,25.6 L262.7,24.6" fill="none" stroke="#3c3c3c" stroke-width="1.0"/>
<path d="M200.8,27.4 L205.6,27.4 L203.2,23.2 Z" fill="#2841b4"/>
<path d="M211.6,26.8 L216.4,26.8 L214.0,22.6 Z" fill="#2841b4"/>
<path d="M222.0,26.9 L226.8,26.9 L224.4,22.7 Z" fill="#2841b4"/>
<line x1="167.5" y1="55.6" x2="261.7" y2="55.6" stroke="#cbcbcb" stroke-width="0.8" stroke-dasharray="1,2"/>
<line x1="167.5" y1="69.6" x2="261.7" y2="69.6" stroke="#cbcbcb" stroke-width="0.8" stroke-dasharray="1,2"/>
<line x1="167.5" y1="83.6" x2="261.7" y2="83.6" stroke="#cbcbcb" stroke-width="0.8" stroke-dasharray="1,2"/>
<line x1="167.5" y1="97.6" x2="261.7" y2="97.6" stroke="#cbcbcb" stroke-width="0.8" stroke-dasharray="1,2"/>
<line x1="167.5" y1="111.6" x2="261.7" y2="111.6" stroke="#cbcbcb" stroke-width="0.8" stroke-dasharray="1,2"/>
<line x1="167.5" y1="125.6" x2="261.7" y2="125.6" stroke="#cbcbcb" stroke-width="0.8" stroke-dasharray="1,2"/>
<line x1="167.5" y1="139.6" x2="261.7" y2="139.6" stroke="#cbcbcb" stroke-width="0.8" stroke-dasharray="1,2"/>
<g clip-path="url(#cpp1)"><g><g filter="url(#hb)"><rect x="189.9" y="41.6" width="10.6" height="105.0" fill="url(#gp1_0)"/><rect x="200.2" y="41.6" width="7.0" height="105.0" fill="url(#gp1_1)"/><rect x="206.9" y="41.6" width="7.4" height="105.0" fill="url(#gp1_2)"/><rect x="214.0" y="41.6" width="7.1" height="105.0" fill="url(#gp1_3)"/><rect x="220.8" y="41.6" width="7.0" height="105.0" fill="url(#gp1_4)"/><rect x="227.5" y="41.6" width="10.0" height="105.0" fill="url(#gp1_5)"/><rect x="199.0" y="41.6" width="2.4" height="105.0" fill="#fff" opacity="0.35"/><rect x="205.7" y="41.6" width="2.4" height="105.0" fill="#fff" opacity="0.35"/><rect x="212.8" y="41.6" width="2.4" height="105.0" fill="#fff" opacity="0.35"/><rect x="219.6" y="41.6" width="2.4" height="105.0" fill="#fff" opacity="0.35"/><rect x="226.3" y="41.6" width="2.4" height="105.0" fill="#fff" opacity="0.35"/></g></g></g>
<use href="#wp1" class="wu"/>
<use href="#wp1" class="wg" x="1.3" y="0.6"/>
<use href="#wp1" class="wl"/>
<line x1="193.0" y1="55.0" x2="216.0" y2="55.0" stroke="#8e8e8e" stroke-width="1.2"/>
<line x1="168.0" y1="46.5" x2="234.2" y2="46.5" stroke="#8e8e8e" stroke-width="1.2"/>
<path d="M200.0,84.0 L220.0,84.0 L228.0,81.0 L236.0,79.0 L243.0,79.0" fill="none" stroke="#a6d23c" stroke-width="1.6"/>
<line x1="165.5" y1="41.8" x2="262.7" y2="41.8" stroke="#505050" stroke-width="1.1"/>
<rect x="165.5" y="0.3" width="97.2" height="145.9" fill="none" stroke="#7a7a7a" stroke-width="1.25"/>
<line x1="255.7" y1="146.2" x2="255.7" y2="144.7" stroke="#777" stroke-width="0.8"/>
<line x1="255.7" y1="0.3" x2="255.7" y2="1.8" stroke="#777" stroke-width="0.8"/>
<line x1="220.7" y1="146.2" x2="220.7" y2="144.7" stroke="#777" stroke-width="0.8"/>
<line x1="220.7" y1="0.3" x2="220.7" y2="1.8" stroke="#777" stroke-width="0.8"/>
<line x1="185.7" y1="146.2" x2="185.7" y2="144.7" stroke="#777" stroke-width="0.8"/>
<line x1="185.7" y1="0.3" x2="185.7" y2="1.8" stroke="#777" stroke-width="0.8"/>
<line x1="165.5" y1="55.6" x2="167.0" y2="55.6" stroke="#777" stroke-width="0.8"/>
<line x1="165.5" y1="69.6" x2="167.0" y2="69.6" stroke="#777" stroke-width="0.8"/>
<line x1="165.5" y1="83.6" x2="167.0" y2="83.6" stroke="#777" stroke-width="0.8"/>
<line x1="165.5" y1="97.6" x2="167.0" y2="97.6" stroke="#777" stroke-width="0.8"/>
<line x1="165.5" y1="111.6" x2="167.0" y2="111.6" stroke="#777" stroke-width="0.8"/>
<line x1="165.5" y1="125.6" x2="167.0" y2="125.6" stroke="#777" stroke-width="0.8"/>
<line x1="165.5" y1="139.6" x2="167.0" y2="139.6" stroke="#777" stroke-width="0.8"/>
<text x="185.7" y="159.6" font-size="12" text-anchor="middle">100</text>
<text x="220.7" y="159.6" font-size="12" text-anchor="middle">50</text>
<text x="255.7" y="159.6" font-size="12" text-anchor="middle">0</text>
<text x="262.3" y="157.5" font-size="8" class="ns">S</text>
<text x="165.8" y="157.5" font-size="8" class="ns" text-anchor="end">N</text>
<text x="215.1" y="170.9" font-size="12.4" text-anchor="middle">Distance (km)</text>
<text x="256.2" y="12.7" font-size="11" text-anchor="end">4B</text>
<path d="M292.3,41.6 L292.3,28.1 L300.0,27.8 L306.0,27.0 L310.6,25.8 L315.0,27.2 L325.0,26.8 L335.0,26.0 L345.0,25.5 L350.0,25.3 L356.0,26.3 L365.0,26.0 L375.0,25.6 L383.0,26.0 L389.5,25.6 L389.5,41.6 Z" fill="#d9dbd8" stroke="none"/>
<path d="M292.3,28.1 L300.0,27.8 L306.0,27.0 L310.6,25.8 L315.0,27.2 L325.0,26.8 L335.0,26.0 L345.0,25.5 L350.0,25.3 L356.0,26.3 L365.0,26.0 L375.0,25.6 L383.0,26.0 L389.5,25.6" fill="none" stroke="#3c3c3c" stroke-width="1.0"/>
<path d="M327.4,27.6 L332.2,27.6 L329.8,23.4 Z" fill="#2841b4"/>
<path d="M338.6,26.9 L343.4,26.9 L341.0,22.7 Z" fill="#2841b4"/>
<path d="M352.3,27.3 L357.1,27.3 L354.7,23.1 Z" fill="#2841b4"/>
<path d="M366.4,27.0 L371.2,27.0 L368.8,22.8 Z" fill="#2841b4"/>
<line x1="294.3" y1="55.6" x2="388.5" y2="55.6" stroke="#cbcbcb" stroke-width="0.8" stroke-dasharray="1,2"/>
<line x1="294.3" y1="69.6" x2="388.5" y2="69.6" stroke="#cbcbcb" stroke-width="0.8" stroke-dasharray="1,2"/>
<line x1="294.3" y1="83.6" x2="388.5" y2="83.6" stroke="#cbcbcb" stroke-width="0.8" stroke-dasharray="1,2"/>
<line x1="294.3" y1="97.6" x2="388.5" y2="97.6" stroke="#cbcbcb" stroke-width="0.8" stroke-dasharray="1,2"/>
<line x1="294.3" y1="111.6" x2="388.5" y2="111.6" stroke="#cbcbcb" stroke-width="0.8" stroke-dasharray="1,2"/>
<line x1="294.3" y1="125.6" x2="388.5" y2="125.6" stroke="#cbcbcb" stroke-width="0.8" stroke-dasharray="1,2"/>
<line x1="294.3" y1="139.6" x2="388.5" y2="139.6" stroke="#cbcbcb" stroke-width="0.8" stroke-dasharray="1,2"/>
<g clip-path="url(#cpp2)"><g><g filter="url(#hb)"><rect x="324.2" y="41.6" width="9.8" height="105.0" fill="url(#gp2_0)"/><rect x="333.7" y="41.6" width="7.2" height="105.0" fill="url(#gp2_1)"/><rect x="340.6" y="41.6" width="6.9" height="105.0" fill="url(#gp2_2)"/><rect x="347.2" y="41.6" width="7.2" height="105.0" fill="url(#gp2_3)"/><rect x="354.1" y="41.6" width="6.8" height="105.0" fill="url(#gp2_4)"/><rect x="360.6" y="41.6" width="10.6" height="105.0" fill="url(#gp2_5)"/><rect x="332.5" y="41.6" width="2.4" height="105.0" fill="#fff" opacity="0.35"/><rect x="339.4" y="41.6" width="2.4" height="105.0" fill="#fff" opacity="0.35"/><rect x="346.0" y="41.6" width="2.4" height="105.0" fill="#fff" opacity="0.35"/><rect x="352.9" y="41.6" width="2.4" height="105.0" fill="#fff" opacity="0.35"/><rect x="359.4" y="41.6" width="2.4" height="105.0" fill="#fff" opacity="0.35"/></g></g></g>
<use href="#wp2" class="wu"/>
<use href="#wp2" class="wg" x="1.3" y="0.6"/>
<use href="#wp2" class="wl"/>
<line x1="327.0" y1="54.4" x2="373.0" y2="54.4" stroke="#8e8e8e" stroke-width="1.2"/>
<line x1="319.0" y1="47.7" x2="370.9" y2="47.7" stroke="#8e8e8e" stroke-width="1.2"/>
<path d="M329.0,82.7 L345.0,81.5 L360.0,79.5 L367.0,81.0 L374.0,84.5" fill="none" stroke="#a6d23c" stroke-width="1.6"/>
<line x1="292.3" y1="41.8" x2="389.5" y2="41.8" stroke="#505050" stroke-width="1.1"/>
<rect x="292.3" y="0.3" width="97.2" height="145.9" fill="none" stroke="#7a7a7a" stroke-width="1.25"/>
<line x1="382.5" y1="146.2" x2="382.5" y2="144.7" stroke="#777" stroke-width="0.8"/>
<line x1="382.5" y1="0.3" x2="382.5" y2="1.8" stroke="#777" stroke-width="0.8"/>
<line x1="347.5" y1="146.2" x2="347.5" y2="144.7" stroke="#777" stroke-width="0.8"/>
<line x1="347.5" y1="0.3" x2="347.5" y2="1.8" stroke="#777" stroke-width="0.8"/>
<line x1="312.5" y1="146.2" x2="312.5" y2="144.7" stroke="#777" stroke-width="0.8"/>
<line x1="312.5" y1="0.3" x2="312.5" y2="1.8" stroke="#777" stroke-width="0.8"/>
<line x1="292.3" y1="55.6" x2="293.8" y2="55.6" stroke="#777" stroke-width="0.8"/>
<line x1="292.3" y1="69.6" x2="293.8" y2="69.6" stroke="#777" stroke-width="0.8"/>
<line x1="292.3" y1="83.6" x2="293.8" y2="83.6" stroke="#777" stroke-width="0.8"/>
<line x1="292.3" y1="97.6" x2="293.8" y2="97.6" stroke="#777" stroke-width="0.8"/>
<line x1="292.3" y1="111.6" x2="293.8" y2="111.6" stroke="#777" stroke-width="0.8"/>
<line x1="292.3" y1="125.6" x2="293.8" y2="125.6" stroke="#777" stroke-width="0.8"/>
<line x1="292.3" y1="139.6" x2="293.8" y2="139.6" stroke="#777" stroke-width="0.8"/>
<text x="312.5" y="159.6" font-size="12" text-anchor="middle">100</text>
<text x="347.5" y="159.6" font-size="12" text-anchor="middle">50</text>
<text x="382.5" y="159.6" font-size="12" text-anchor="middle">0</text>
<text x="389.1" y="157.5" font-size="8" class="ns">S</text>
<text x="292.6" y="157.5" font-size="8" class="ns" text-anchor="end">N</text>
<text x="341.9" y="170.9" font-size="12.4" text-anchor="middle">Distance (km)</text>
<text x="386.3" y="11.8" font-size="11" text-anchor="end">4C</text>
<path d="M418.7,42.0 L418.7,28.7 L430.0,28.8 L445.0,28.5 L458.0,28.3 L463.0,27.0 L466.0,26.5 L469.0,28.0 L475.0,27.5 L480.0,25.5 L488.0,25.8 L498.0,25.3 L503.0,26.8 L510.0,27.2 L516.5,27.0 L516.5,42.0 Z" fill="#d9dbd8" stroke="none"/>
<path d="M418.7,28.7 L430.0,28.8 L445.0,28.5 L458.0,28.3 L463.0,27.0 L466.0,26.5 L469.0,28.0 L475.0,27.5 L480.0,25.5 L488.0,25.8 L498.0,25.3 L503.0,26.8 L510.0,27.2 L516.5,27.0" fill="none" stroke="#3c3c3c" stroke-width="1.0"/>
<path d="M435.2,29.8 L440.0,29.8 L437.6,25.6 Z" fill="#2841b4"/>
<path d="M446.9,29.6 L451.7,29.6 L449.3,25.4 Z" fill="#2841b4"/>
<path d="M457.9,28.9 L462.7,28.9 L460.3,24.7 Z" fill="#2841b4"/>
<path d="M467.1,29.2 L471.9,29.2 L469.5,25.0 Z" fill="#2841b4"/>
<path d="M478.3,26.7 L483.1,26.7 L480.7,22.5 Z" fill="#2841b4"/>
<path d="M493.0,26.6 L497.8,26.6 L495.4,22.4 Z" fill="#2841b4"/>
<line x1="420.7" y1="56.0" x2="515.5" y2="56.0" stroke="#cbcbcb" stroke-width="0.8" stroke-dasharray="1,2"/>
<line x1="420.7" y1="70.0" x2="515.5" y2="70.0" stroke="#cbcbcb" stroke-width="0.8" stroke-dasharray="1,2"/>
<line x1="420.7" y1="84.0" x2="515.5" y2="84.0" stroke="#cbcbcb" stroke-width="0.8" stroke-dasharray="1,2"/>
<line x1="420.7" y1="98.0" x2="515.5" y2="98.0" stroke="#cbcbcb" stroke-width="0.8" stroke-dasharray="1,2"/>
<line x1="420.7" y1="112.0" x2="515.5" y2="112.0" stroke="#cbcbcb" stroke-width="0.8" stroke-dasharray="1,2"/>
<line x1="420.7" y1="126.0" x2="515.5" y2="126.0" stroke="#cbcbcb" stroke-width="0.8" stroke-dasharray="1,2"/>
<line x1="420.7" y1="140.0" x2="515.5" y2="140.0" stroke="#cbcbcb" stroke-width="0.8" stroke-dasharray="1,2"/>
<g clip-path="url(#cpp3)"><g><g filter="url(#hb)"><rect x="436.7" y="42.0" width="9.8" height="105.0" fill="url(#gp3_0)"/><rect x="446.2" y="42.0" width="7.6" height="105.0" fill="url(#gp3_1)"/><rect x="453.5" y="42.0" width="7.1" height="105.0" fill="url(#gp3_2)"/><rect x="460.3" y="42.0" width="7.4" height="105.0" fill="url(#gp3_3)"/><rect x="467.4" y="42.0" width="7.2" height="105.0" fill="url(#gp3_4)"/><rect x="474.3" y="42.0" width="7.4" height="105.0" fill="url(#gp3_5)"/><rect x="481.4" y="42.0" width="7.4" height="105.0" fill="url(#gp3_6)"/><rect x="488.5" y="42.0" width="6.7" height="105.0" fill="url(#gp3_7)"/><rect x="494.9" y="42.0" width="10.0" height="105.0" fill="url(#gp3_8)"/><rect x="445.0" y="42.0" width="2.4" height="105.0" fill="#fff" opacity="0.35"/><rect x="452.3" y="42.0" width="2.4" height="105.0" fill="#fff" opacity="0.35"/><rect x="459.1" y="42.0" width="2.4" height="105.0" fill="#fff" opacity="0.35"/><rect x="466.2" y="42.0" width="2.4" height="105.0" fill="#fff" opacity="0.35"/><rect x="473.1" y="42.0" width="2.4" height="105.0" fill="#fff" opacity="0.35"/><rect x="480.2" y="42.0" width="2.4" height="105.0" fill="#fff" opacity="0.35"/><rect x="487.3" y="42.0" width="2.4" height="105.0" fill="#fff" opacity="0.35"/><rect x="493.7" y="42.0" width="2.4" height="105.0" fill="#fff" opacity="0.35"/></g></g></g>
<use href="#wp3" class="wu"/>
<use href="#wp3" class="wg" x="1.3" y="0.6"/>
<use href="#wp3" class="wl"/>
<line x1="446.0" y1="47.0" x2="507.0" y2="47.0" stroke="#8e8e8e" stroke-width="1.2"/>
<line x1="429.5" y1="50.5" x2="507.6" y2="50.5" stroke="#8e8e8e" stroke-width="1.2"/>
<path d="M467.0,74.2 L486.0,74.5 L491.0,77.0 L494.0,82.0 L500.0,84.5 L505.0,85.5" fill="none" stroke="#a6d23c" stroke-width="1.6"/>
<path d="M455.0,81.7 L465.0,81.7" fill="none" stroke="#a6d23c" stroke-width="1.6"/>
<path d="M439.0,88.5 L450.0,88.5" fill="none" stroke="#a6d23c" stroke-width="1.6"/>
<line x1="418.7" y1="42.2" x2="516.5" y2="42.2" stroke="#505050" stroke-width="1.1"/>
<rect x="418.7" y="1.5" width="97.8" height="145.8" fill="none" stroke="#7a7a7a" stroke-width="1.25"/>
<line x1="509.5" y1="147.3" x2="509.5" y2="145.8" stroke="#777" stroke-width="0.8"/>
<line x1="509.5" y1="1.5" x2="509.5" y2="3.0" stroke="#777" stroke-width="0.8"/>
<line x1="474.5" y1="147.3" x2="474.5" y2="145.8" stroke="#777" stroke-width="0.8"/>
<line x1="474.5" y1="1.5" x2="474.5" y2="3.0" stroke="#777" stroke-width="0.8"/>
<line x1="439.5" y1="147.3" x2="439.5" y2="145.8" stroke="#777" stroke-width="0.8"/>
<line x1="439.5" y1="1.5" x2="439.5" y2="3.0" stroke="#777" stroke-width="0.8"/>
<line x1="418.7" y1="56.0" x2="420.2" y2="56.0" stroke="#777" stroke-width="0.8"/>
<line x1="418.7" y1="70.0" x2="420.2" y2="70.0" stroke="#777" stroke-width="0.8"/>
<line x1="418.7" y1="84.0" x2="420.2" y2="84.0" stroke="#777" stroke-width="0.8"/>
<line x1="418.7" y1="98.0" x2="420.2" y2="98.0" stroke="#777" stroke-width="0.8"/>
<line x1="418.7" y1="112.0" x2="420.2" y2="112.0" stroke="#777" stroke-width="0.8"/>
<line x1="418.7" y1="126.0" x2="420.2" y2="126.0" stroke="#777" stroke-width="0.8"/>
<line x1="418.7" y1="140.0" x2="420.2" y2="140.0" stroke="#777" stroke-width="0.8"/>
<text x="439.5" y="160.7" font-size="12" text-anchor="middle">100</text>
<text x="474.5" y="160.7" font-size="12" text-anchor="middle">50</text>
<text x="509.5" y="160.7" font-size="12" text-anchor="middle">0</text>
<text x="516.1" y="158.6" font-size="8" class="ns">S</text>
<text x="419.0" y="158.6" font-size="8" class="ns" text-anchor="end">N</text>
<text x="468.6" y="172.0" font-size="12.4" text-anchor="middle">Distance (km)</text>
<text x="512.3" y="13.5" font-size="11" text-anchor="end">4D</text>
<path d="M40.0,240.6 L40.0,227.3 L55.0,226.8 L65.0,226.0 L75.0,226.0 L85.0,225.5 L95.0,225.2 L105.0,224.8 L115.0,224.6 L125.0,224.3 L134.0,224.2 L137.5,224.8 L137.5,240.6 Z" fill="#d9dbd8" stroke="none"/>
<path d="M40.0,227.3 L55.0,226.8 L65.0,226.0 L75.0,226.0 L85.0,225.5 L95.0,225.2 L105.0,224.8 L115.0,224.6 L125.0,224.3 L134.0,224.2 L137.5,224.8" fill="none" stroke="#3c3c3c" stroke-width="1.0"/>
<path d="M56.2,227.7 L61.0,227.7 L58.6,223.5 Z" fill="#2841b4"/>
<path d="M61.1,227.3 L65.9,227.3 L63.5,223.1 Z" fill="#2841b4"/>
<path d="M68.0,227.2 L72.8,227.2 L70.4,223.0 Z" fill="#2841b4"/>
<path d="M73.2,227.2 L78.0,227.2 L75.6,223.0 Z" fill="#2841b4"/>
<path d="M79.1,226.9 L83.9,226.9 L81.5,222.7 Z" fill="#2841b4"/>
<path d="M82.6,224.7 L87.4,224.7 L85.0,220.5 Z" fill="#e82228"/>
<path d="M88.1,226.5 L92.9,226.5 L90.5,222.3 Z" fill="#2841b4"/>
<path d="M98.6,226.2 L103.4,226.2 L101.0,222.0 Z" fill="#2841b4"/>
<path d="M106.6,225.9 L111.4,225.9 L109.0,221.7 Z" fill="#2841b4"/>
<path d="M110.6,225.8 L115.4,225.8 L113.0,221.6 Z" fill="#2841b4"/>
<path d="M114.4,225.7 L119.2,225.7 L116.8,221.5 Z" fill="#2841b4"/>
<line x1="42.0" y1="254.6" x2="136.5" y2="254.6" stroke="#cbcbcb" stroke-width="0.8" stroke-dasharray="1,2"/>
<line x1="42.0" y1="268.6" x2="136.5" y2="268.6" stroke="#cbcbcb" stroke-width="0.8" stroke-dasharray="1,2"/>
<line x1="42.0" y1="282.6" x2="136.5" y2="282.6" stroke="#cbcbcb" stroke-width="0.8" stroke-dasharray="1,2"/>
<line x1="42.0" y1="296.6" x2="136.5" y2="296.6" stroke="#cbcbcb" stroke-width="0.8" stroke-dasharray="1,2"/>
<line x1="42.0" y1="310.6" x2="136.5" y2="310.6" stroke="#cbcbcb" stroke-width="0.8" stroke-dasharray="1,2"/>
<line x1="42.0" y1="324.6" x2="136.5" y2="324.6" stroke="#cbcbcb" stroke-width="0.8" stroke-dasharray="1,2"/>
<line x1="42.0" y1="338.6" x2="136.5" y2="338.6" stroke="#cbcbcb" stroke-width="0.8" stroke-dasharray="1,2"/>
<g clip-path="url(#cpp4)"><g><g filter="url(#hb)"><rect x="50.8" y="240.6" width="9.7" height="105.0" fill="url(#gp4_0)"/><rect x="60.2" y="240.6" width="8.0" height="105.0" fill="url(#gp4_1)"/><rect x="67.9" y="240.6" width="7.0" height="105.0" fill="url(#gp4_2)"/><rect x="74.6" y="240.6" width="7.0" height="105.0" fill="url(#gp4_3)"/><rect x="81.3" y="240.6" width="7.1" height="105.0" fill="url(#gp4_4)"/><rect x="88.1" y="240.6" width="8.0" height="105.0" fill="url(#gp4_5)"/><rect x="95.8" y="240.6" width="7.0" height="105.0" fill="url(#gp4_6)"/><rect x="102.5" y="240.6" width="7.0" height="105.0" fill="url(#gp4_7)"/><rect x="109.2" y="240.6" width="7.1" height="105.0" fill="url(#gp4_8)"/><rect x="116.0" y="240.6" width="11.0" height="105.0" fill="url(#gp4_9)"/><rect x="59.0" y="240.6" width="2.4" height="105.0" fill="#fff" opacity="0.35"/><rect x="66.7" y="240.6" width="2.4" height="105.0" fill="#fff" opacity="0.35"/><rect x="73.4" y="240.6" width="2.4" height="105.0" fill="#fff" opacity="0.35"/><rect x="80.1" y="240.6" width="2.4" height="105.0" fill="#fff" opacity="0.35"/><rect x="86.9" y="240.6" width="2.4" height="105.0" fill="#fff" opacity="0.35"/><rect x="94.6" y="240.6" width="2.4" height="105.0" fill="#fff" opacity="0.35"/><rect x="101.3" y="240.6" width="2.4" height="105.0" fill="#fff" opacity="0.35"/><rect x="108.0" y="240.6" width="2.4" height="105.0" fill="#fff" opacity="0.35"/><rect x="114.8" y="240.6" width="2.4" height="105.0" fill="#fff" opacity="0.35"/></g></g></g>
<use href="#wp4" class="wu"/>
<use href="#wp4" class="wg" x="1.3" y="0.6"/>
<use href="#wp4" class="wl"/>
<line x1="70.0" y1="246.7" x2="129.0" y2="246.7" stroke="#8e8e8e" stroke-width="1.2"/>
<line x1="44.8" y1="250.5" x2="129.7" y2="250.5" stroke="#8e8e8e" stroke-width="1.2"/>
<path d="M88.0,272.5 L105.0,273.5 L115.0,275.5 L124.0,276.5 L127.0,276.5" fill="none" stroke="#a6d23c" stroke-width="1.6"/>
<path d="M60.0,283.8 L64.0,283.8" fill="none" stroke="#a6d23c" stroke-width="1.6"/>
<path d="M68.0,283.8 L72.0,283.8" fill="none" stroke="#a6d23c" stroke-width="1.6"/>
<path d="M76.0,283.8 L83.0,283.8" fill="none" stroke="#a6d23c" stroke-width="1.6"/>
<line x1="40.0" y1="240.8" x2="137.5" y2="240.8" stroke="#505050" stroke-width="1.1"/>
<rect x="40.0" y="199.7" width="97.5" height="146.1" fill="none" stroke="#7a7a7a" stroke-width="1.25"/>
<line x1="130.5" y1="345.8" x2="130.5" y2="344.3" stroke="#777" stroke-width="0.8"/>
<line x1="130.5" y1="199.7" x2="130.5" y2="201.2" stroke="#777" stroke-width="0.8"/>
<line x1="95.5" y1="345.8" x2="95.5" y2="344.3" stroke="#777" stroke-width="0.8"/>
<line x1="95.5" y1="199.7" x2="95.5" y2="201.2" stroke="#777" stroke-width="0.8"/>
<line x1="60.5" y1="345.8" x2="60.5" y2="344.3" stroke="#777" stroke-width="0.8"/>
<line x1="60.5" y1="199.7" x2="60.5" y2="201.2" stroke="#777" stroke-width="0.8"/>
<line x1="40.0" y1="254.6" x2="41.5" y2="254.6" stroke="#777" stroke-width="0.8"/>
<line x1="40.0" y1="268.6" x2="41.5" y2="268.6" stroke="#777" stroke-width="0.8"/>
<line x1="40.0" y1="282.6" x2="41.5" y2="282.6" stroke="#777" stroke-width="0.8"/>
<line x1="40.0" y1="296.6" x2="41.5" y2="296.6" stroke="#777" stroke-width="0.8"/>
<line x1="40.0" y1="310.6" x2="41.5" y2="310.6" stroke="#777" stroke-width="0.8"/>
<line x1="40.0" y1="324.6" x2="41.5" y2="324.6" stroke="#777" stroke-width="0.8"/>
<line x1="40.0" y1="338.6" x2="41.5" y2="338.6" stroke="#777" stroke-width="0.8"/>
<text x="60.5" y="359.2" font-size="12" text-anchor="middle">100</text>
<text x="95.5" y="359.2" font-size="12" text-anchor="middle">50</text>
<text x="130.5" y="359.2" font-size="12" text-anchor="middle">0</text>
<text x="137.1" y="357.1" font-size="8" class="ns">S</text>
<text x="40.3" y="357.1" font-size="8" class="ns" text-anchor="end">N</text>
<text x="89.8" y="370.5" font-size="12.4" text-anchor="middle">Distance (km)</text>
<text x="129.3" y="212.4" font-size="11" text-anchor="end">4E</text>
<path d="M166.3,239.9 L166.3,226.2 L175.0,225.5 L185.0,224.5 L193.0,221.8 L198.0,223.8 L205.0,224.5 L212.0,223.0 L220.0,224.0 L230.0,224.5 L240.0,224.2 L250.0,223.5 L254.6,222.3 L259.0,223.8 L263.5,225.0 L263.5,239.9 Z" fill="#d9dbd8" stroke="none"/>
<path d="M166.3,226.2 L175.0,225.5 L185.0,224.5 L193.0,221.8 L198.0,223.8 L205.0,224.5 L212.0,223.0 L220.0,224.0 L230.0,224.5 L240.0,224.2 L250.0,223.5 L254.6,222.3 L259.0,223.8 L263.5,225.0" fill="none" stroke="#3c3c3c" stroke-width="1.0"/>
<path d="M187.1,224.2 L191.9,224.2 L189.5,220.0 Z" fill="#2841b4"/>
<path d="M195.3,224.9 L200.1,224.9 L197.7,220.7 Z" fill="#2841b4"/>
<path d="M199.2,225.4 L204.0,225.4 L201.6,221.2 Z" fill="#2841b4"/>
<path d="M202.8,225.7 L207.6,225.7 L205.2,221.5 Z" fill="#2841b4"/>
<path d="M208.6,222.4 L213.4,222.4 L211.0,218.2 Z" fill="#e82228"/>
<path d="M214.1,224.8 L218.9,224.8 L216.5,220.6 Z" fill="#2841b4"/>
<path d="M222.8,225.5 L227.6,225.5 L225.2,221.3 Z" fill="#2841b4"/>
<path d="M224.6,225.5 L229.4,225.5 L227.0,221.3 Z" fill="#2841b4"/>
<path d="M232.2,225.6 L237.0,225.6 L234.6,221.4 Z" fill="#2841b4"/>
<path d="M235.6,225.5 L240.4,225.5 L238.0,221.3 Z" fill="#2841b4"/>
<path d="M242.0,225.1 L246.8,225.1 L244.4,220.9 Z" fill="#2841b4"/>
<line x1="168.3" y1="253.9" x2="262.5" y2="253.9" stroke="#cbcbcb" stroke-width="0.8" stroke-dasharray="1,2"/>
<line x1="168.3" y1="267.9" x2="262.5" y2="267.9" stroke="#cbcbcb" stroke-width="0.8" stroke-dasharray="1,2"/>
<line x1="168.3" y1="281.9" x2="262.5" y2="281.9" stroke="#cbcbcb" stroke-width="0.8" stroke-dasharray="1,2"/>
<line x1="168.3" y1="295.9" x2="262.5" y2="295.9" stroke="#cbcbcb" stroke-width="0.8" stroke-dasharray="1,2"/>
<line x1="168.3" y1="309.9" x2="262.5" y2="309.9" stroke="#cbcbcb" stroke-width="0.8" stroke-dasharray="1,2"/>
<line x1="168.3" y1="323.9" x2="262.5" y2="323.9" stroke="#cbcbcb" stroke-width="0.8" stroke-dasharray="1,2"/>
<line x1="168.3" y1="337.9" x2="262.5" y2="337.9" stroke="#cbcbcb" stroke-width="0.8" stroke-dasharray="1,2"/>
<g clip-path="url(#cpp5)"><g><g filter="url(#hb)"><rect x="183.5" y="239.9" width="10.3" height="105.0" fill="url(#gp5_0)"/><rect x="193.5" y="239.9" width="7.4" height="105.0" fill="url(#gp5_1)"/><rect x="200.6" y="239.9" width="7.4" height="105.0" fill="url(#gp5_2)"/><rect x="207.7" y="239.9" width="7.2" height="105.0" fill="url(#gp5_3)"/><rect x="214.6" y="239.9" width="7.4" height="105.0" fill="url(#gp5_4)"/><rect x="221.7" y="239.9" width="7.1" height="105.0" fill="url(#gp5_5)"/><rect x="228.5" y="239.9" width="7.6" height="105.0" fill="url(#gp5_6)"/><rect x="235.8" y="239.9" width="7.4" height="105.0" fill="url(#gp5_7)"/><rect x="242.9" y="239.9" width="10.0" height="105.0" fill="url(#gp5_8)"/><rect x="192.3" y="239.9" width="2.4" height="105.0" fill="#fff" opacity="0.35"/><rect x="199.4" y="239.9" width="2.4" height="105.0" fill="#fff" opacity="0.35"/><rect x="206.5" y="239.9" width="2.4" height="105.0" fill="#fff" opacity="0.35"/><rect x="213.4" y="239.9" width="2.4" height="105.0" fill="#fff" opacity="0.35"/><rect x="220.5" y="239.9" width="2.4" height="105.0" fill="#fff" opacity="0.35"/><rect x="227.3" y="239.9" width="2.4" height="105.0" fill="#fff" opacity="0.35"/><rect x="234.6" y="239.9" width="2.4" height="105.0" fill="#fff" opacity="0.35"/><rect x="241.7" y="239.9" width="2.4" height="105.0" fill="#fff" opacity="0.35"/></g></g></g>
<use href="#wp5" class="wu"/>
<use href="#wp5" class="wg" x="1.3" y="0.6"/>
<use href="#wp5" class="wl"/>
<line x1="186.0" y1="250.0" x2="250.0" y2="252.0" stroke="#8e8e8e" stroke-width="1.2"/>
<line x1="172.7" y1="247.0" x2="249.6" y2="247.0" stroke="#8e8e8e" stroke-width="1.2"/>
<path d="M214.0,268.2 L246.0,268.2" fill="none" stroke="#a6d23c" stroke-width="1.6"/>
<path d="M250.0,279.0 L256.0,279.0" fill="none" stroke="#a6d23c" stroke-width="1.6"/>
<path d="M186.0,281.8 L191.0,281.8" fill="none" stroke="#a6d23c" stroke-width="1.6"/>
<path d="M195.0,281.8 L200.0,281.8" fill="none" stroke="#a6d23c" stroke-width="1.6"/>
<path d="M204.0,281.8 L210.0,281.8" fill="none" stroke="#a6d23c" stroke-width="1.6"/>
<line x1="166.3" y1="240.1" x2="263.5" y2="240.1" stroke="#505050" stroke-width="1.1"/>
<rect x="166.3" y="198.7" width="97.2" height="146.0" fill="none" stroke="#7a7a7a" stroke-width="1.25"/>
<line x1="256.5" y1="344.7" x2="256.5" y2="343.2" stroke="#777" stroke-width="0.8"/>
<line x1="256.5" y1="198.7" x2="256.5" y2="200.2" stroke="#777" stroke-width="0.8"/>
<line x1="221.5" y1="344.7" x2="221.5" y2="343.2" stroke="#777" stroke-width="0.8"/>
<line x1="221.5" y1="198.7" x2="221.5" y2="200.2" stroke="#777" stroke-width="0.8"/>
<line x1="186.5" y1="344.7" x2="186.5" y2="343.2" stroke="#777" stroke-width="0.8"/>
<line x1="186.5" y1="198.7" x2="186.5" y2="200.2" stroke="#777" stroke-width="0.8"/>
<line x1="166.3" y1="253.9" x2="167.8" y2="253.9" stroke="#777" stroke-width="0.8"/>
<line x1="166.3" y1="267.9" x2="167.8" y2="267.9" stroke="#777" stroke-width="0.8"/>
<line x1="166.3" y1="281.9" x2="167.8" y2="281.9" stroke="#777" stroke-width="0.8"/>
<line x1="166.3" y1="295.9" x2="167.8" y2="295.9" stroke="#777" stroke-width="0.8"/>
<line x1="166.3" y1="309.9" x2="167.8" y2="309.9" stroke="#777" stroke-width="0.8"/>
<line x1="166.3" y1="323.9" x2="167.8" y2="323.9" stroke="#777" stroke-width="0.8"/>
<line x1="166.3" y1="337.9" x2="167.8" y2="337.9" stroke="#777" stroke-width="0.8"/>
<text x="186.5" y="358.1" font-size="12" text-anchor="middle">100</text>
<text x="221.5" y="358.1" font-size="12" text-anchor="middle">50</text>
<text x="256.5" y="358.1" font-size="12" text-anchor="middle">0</text>
<text x="263.1" y="356.0" font-size="8" class="ns">S</text>
<text x="166.6" y="356.0" font-size="8" class="ns" text-anchor="end">N</text>
<text x="215.9" y="369.4" font-size="12.4" text-anchor="middle">Distance (km)</text>
<text x="259.0" y="211.7" font-size="11" text-anchor="end">4F</text>
<path d="M291.8,239.9 L291.8,226.7 L305.0,226.0 L320.0,225.0 L335.0,224.5 L345.0,223.5 L354.7,222.2 L362.0,223.5 L372.0,223.8 L382.0,224.0 L390.2,224.0 L390.2,239.9 Z" fill="#d9dbd8" stroke="none"/>
<path d="M291.8,226.7 L305.0,226.0 L320.0,225.0 L335.0,224.5 L345.0,223.5 L354.7,222.2 L362.0,223.5 L372.0,223.8 L382.0,224.0 L390.2,224.0" fill="none" stroke="#3c3c3c" stroke-width="1.0"/>
<path d="M309.2,226.8 L314.0,226.8 L311.6,222.6 Z" fill="#2841b4"/>
<path d="M321.3,226.1 L326.1,226.1 L323.7,221.9 Z" fill="#2841b4"/>
<path d="M328.8,225.8 L333.6,225.8 L331.2,221.6 Z" fill="#2841b4"/>
<path d="M334.6,223.5 L339.4,223.5 L337.0,219.3 Z" fill="#e82228"/>
<path d="M336.2,225.3 L341.0,225.3 L338.6,221.1 Z" fill="#2841b4"/>
<path d="M340.1,224.9 L344.9,224.9 L342.5,220.8 Z" fill="#2841b4"/>
<path d="M342.1,224.8 L346.9,224.8 L344.5,220.6 Z" fill="#2841b4"/>
<path d="M347.0,224.1 L351.8,224.1 L349.4,219.9 Z" fill="#2841b4"/>
<path d="M349.4,223.8 L354.2,223.8 L351.8,219.6 Z" fill="#2841b4"/>
<path d="M359.2,224.6 L364.0,224.6 L361.6,220.4 Z" fill="#2841b4"/>
<path d="M368.6,225.0 L373.4,225.0 L371.0,220.8 Z" fill="#2841b4"/>
<line x1="293.8" y1="253.9" x2="389.2" y2="253.9" stroke="#cbcbcb" stroke-width="0.8" stroke-dasharray="1,2"/>
<line x1="293.8" y1="267.9" x2="389.2" y2="267.9" stroke="#cbcbcb" stroke-width="0.8" stroke-dasharray="1,2"/>
<line x1="293.8" y1="281.9" x2="389.2" y2="281.9" stroke="#cbcbcb" stroke-width="0.8" stroke-dasharray="1,2"/>
<line x1="293.8" y1="295.9" x2="389.2" y2="295.9" stroke="#cbcbcb" stroke-width="0.8" stroke-dasharray="1,2"/>
<line x1="293.8" y1="309.9" x2="389.2" y2="309.9" stroke="#cbcbcb" stroke-width="0.8" stroke-dasharray="1,2"/>
<line x1="293.8" y1="323.9" x2="389.2" y2="323.9" stroke="#cbcbcb" stroke-width="0.8" stroke-dasharray="1,2"/>
<line x1="293.8" y1="337.9" x2="389.2" y2="337.9" stroke="#cbcbcb" stroke-width="0.8" stroke-dasharray="1,2"/>
<g clip-path="url(#cpp6)"><g><g filter="url(#hb)"><rect x="301.8" y="239.9" width="11.0" height="105.0" fill="url(#gp6_0)"/><rect x="312.5" y="239.9" width="7.6" height="105.0" fill="url(#gp6_1)"/><rect x="319.8" y="239.9" width="7.1" height="105.0" fill="url(#gp6_2)"/><rect x="326.6" y="239.9" width="7.4" height="105.0" fill="url(#gp6_3)"/><rect x="333.7" y="239.9" width="7.2" height="105.0" fill="url(#gp6_4)"/><rect x="340.6" y="239.9" width="6.9" height="105.0" fill="url(#gp6_5)"/><rect x="347.2" y="239.9" width="7.6" height="105.0" fill="url(#gp6_6)"/><rect x="354.5" y="239.9" width="7.0" height="105.0" fill="url(#gp6_7)"/><rect x="361.2" y="239.9" width="8.0" height="105.0" fill="url(#gp6_8)"/><rect x="368.9" y="239.9" width="10.0" height="105.0" fill="url(#gp6_9)"/><rect x="311.3" y="239.9" width="2.4" height="105.0" fill="#fff" opacity="0.35"/><rect x="318.6" y="239.9" width="2.4" height="105.0" fill="#fff" opacity="0.35"/><rect x="325.4" y="239.9" width="2.4" height="105.0" fill="#fff" opacity="0.35"/><rect x="332.5" y="239.9" width="2.4" height="105.0" fill="#fff" opacity="0.35"/><rect x="339.4" y="239.9" width="2.4" height="105.0" fill="#fff" opacity="0.35"/><rect x="346.0" y="239.9" width="2.4" height="105.0" fill="#fff" opacity="0.35"/><rect x="353.3" y="239.9" width="2.4" height="105.0" fill="#fff" opacity="0.35"/><rect x="360.0" y="239.9" width="2.4" height="105.0" fill="#fff" opacity="0.35"/><rect x="367.7" y="239.9" width="2.4" height="105.0" fill="#fff" opacity="0.35"/></g></g></g>
<use href="#wp6" class="wu"/>
<use href="#wp6" class="wg" x="1.3" y="0.6"/>
<use href="#wp6" class="wl"/>
<line x1="306.0" y1="252.4" x2="378.0" y2="252.4" stroke="#8e8e8e" stroke-width="1.2"/>
<line x1="293.5" y1="247.0" x2="378.6" y2="247.0" stroke="#8e8e8e" stroke-width="1.2"/>
<path d="M340.0,271.7 L346.0,271.7" fill="none" stroke="#a6d23c" stroke-width="1.6"/>
<path d="M350.0,271.7 L357.0,271.7" fill="none" stroke="#a6d23c" stroke-width="1.6"/>
<path d="M361.0,271.7 L368.0,271.7" fill="none" stroke="#a6d23c" stroke-width="1.6"/>
<path d="M371.0,280.0 L381.0,280.0" fill="none" stroke="#a6d23c" stroke-width="1.6"/>
<path d="M306.0,279.7 L312.0,279.7" fill="none" stroke="#a6d23c" stroke-width="1.6"/>
<path d="M316.0,279.7 L322.0,279.7" fill="none" stroke="#a6d23c" stroke-width="1.6"/>
<path d="M326.0,279.7 L332.0,279.7" fill="none" stroke="#a6d23c" stroke-width="1.6"/>
<path d="M335.0,279.7 L338.0,279.7" fill="none" stroke="#a6d23c" stroke-width="1.6"/>
<line x1="291.8" y1="240.1" x2="390.2" y2="240.1" stroke="#505050" stroke-width="1.1"/>
<rect x="291.8" y="199.2" width="98.4" height="146.8" fill="none" stroke="#7a7a7a" stroke-width="1.25"/>
<line x1="383.2" y1="346.0" x2="383.2" y2="344.5" stroke="#777" stroke-width="0.8"/>
<line x1="383.2" y1="199.2" x2="383.2" y2="200.7" stroke="#777" stroke-width="0.8"/>
<line x1="348.2" y1="346.0" x2="348.2" y2="344.5" stroke="#777" stroke-width="0.8"/>
<line x1="348.2" y1="199.2" x2="348.2" y2="200.7" stroke="#777" stroke-width="0.8"/>
<line x1="313.2" y1="346.0" x2="313.2" y2="344.5" stroke="#777" stroke-width="0.8"/>
<line x1="313.2" y1="199.2" x2="313.2" y2="200.7" stroke="#777" stroke-width="0.8"/>
<line x1="291.8" y1="253.9" x2="293.3" y2="253.9" stroke="#777" stroke-width="0.8"/>
<line x1="291.8" y1="267.9" x2="293.3" y2="267.9" stroke="#777" stroke-width="0.8"/>
<line x1="291.8" y1="281.9" x2="293.3" y2="281.9" stroke="#777" stroke-width="0.8"/>
<line x1="291.8" y1="295.9" x2="293.3" y2="295.9" stroke="#777" stroke-width="0.8"/>
<line x1="291.8" y1="309.9" x2="293.3" y2="309.9" stroke="#777" stroke-width="0.8"/>
<line x1="291.8" y1="323.9" x2="293.3" y2="323.9" stroke="#777" stroke-width="0.8"/>
<line x1="291.8" y1="337.9" x2="293.3" y2="337.9" stroke="#777" stroke-width="0.8"/>
<text x="313.2" y="359.4" font-size="12" text-anchor="middle">100</text>
<text x="348.2" y="359.4" font-size="12" text-anchor="middle">50</text>
<text x="383.2" y="359.4" font-size="12" text-anchor="middle">0</text>
<text x="389.8" y="357.3" font-size="8" class="ns">S</text>
<text x="292.1" y="357.3" font-size="8" class="ns" text-anchor="end">N</text>
<text x="342.0" y="370.7" font-size="12.4" text-anchor="middle">Distance (km)</text>
<text x="385.3" y="210.5" font-size="11" text-anchor="end">4G</text>
<path d="M417.7,240.0 L417.7,226.7 L430.0,226.0 L440.0,225.0 L450.0,224.2 L460.0,224.5 L468.0,223.8 L476.0,224.5 L482.0,223.2 L488.0,224.5 L496.0,222.3 L502.0,224.2 L510.0,223.8 L515.6,223.2 L515.6,240.0 Z" fill="#d9dbd8" stroke="none"/>
<path d="M417.7,226.7 L430.0,226.0 L440.0,225.0 L450.0,224.2 L460.0,224.5 L468.0,223.8 L476.0,224.5 L482.0,223.2 L488.0,224.5 L496.0,222.3 L502.0,224.2 L510.0,223.8 L515.6,223.2" fill="none" stroke="#3c3c3c" stroke-width="1.0"/>
<path d="M434.8,226.5 L439.6,226.5 L437.2,222.3 Z" fill="#2841b4"/>
<path d="M443.4,225.7 L448.2,225.7 L445.8,221.5 Z" fill="#2841b4"/>
<path d="M454.4,225.6 L459.2,225.6 L456.8,221.4 Z" fill="#2841b4"/>
<path d="M461.6,225.3 L466.4,225.3 L464.0,221.2 Z" fill="#2841b4"/>
<path d="M468.1,225.2 L472.9,225.2 L470.5,221.0 Z" fill="#2841b4"/>
<path d="M472.8,225.6 L477.6,225.6 L475.2,221.4 Z" fill="#2841b4"/>
<path d="M480.3,224.6 L485.1,224.6 L482.7,220.4 Z" fill="#2841b4"/>
<path d="M494.0,223.6 L498.8,223.6 L496.4,219.4 Z" fill="#2841b4"/>
<line x1="419.7" y1="254.0" x2="514.6" y2="254.0" stroke="#cbcbcb" stroke-width="0.8" stroke-dasharray="1,2"/>
<line x1="419.7" y1="268.0" x2="514.6" y2="268.0" stroke="#cbcbcb" stroke-width="0.8" stroke-dasharray="1,2"/>
<line x1="419.7" y1="282.0" x2="514.6" y2="282.0" stroke="#cbcbcb" stroke-width="0.8" stroke-dasharray="1,2"/>
<line x1="419.7" y1="296.0" x2="514.6" y2="296.0" stroke="#cbcbcb" stroke-width="0.8" stroke-dasharray="1,2"/>
<line x1="419.7" y1="310.0" x2="514.6" y2="310.0" stroke="#cbcbcb" stroke-width="0.8" stroke-dasharray="1,2"/>
<line x1="419.7" y1="324.0" x2="514.6" y2="324.0" stroke="#cbcbcb" stroke-width="0.8" stroke-dasharray="1,2"/>
<line x1="419.7" y1="338.0" x2="514.6" y2="338.0" stroke="#cbcbcb" stroke-width="0.8" stroke-dasharray="1,2"/>
<g clip-path="url(#cpp7)"><g mask="url(#mkp7)"><g filter="url(#hb)"><rect x="428.4" y="240.0" width="10.6" height="105.0" fill="url(#gp7_0)"/><rect x="438.7" y="240.0" width="7.4" height="105.0" fill="url(#gp7_1)"/><rect x="445.8" y="240.0" width="7.0" height="105.0" fill="url(#gp7_2)"/><rect x="452.5" y="240.0" width="7.6" height="105.0" fill="url(#gp7_3)"/><rect x="459.8" y="240.0" width="6.9" height="105.0" fill="url(#gp7_4)"/><rect x="466.4" y="240.0" width="7.6" height="105.0" fill="url(#gp7_5)"/><rect x="473.7" y="240.0" width="7.6" height="105.0" fill="url(#gp7_6)"/><rect x="481.0" y="240.0" width="6.8" height="105.0" fill="url(#gp7_7)"/><rect x="487.5" y="240.0" width="10.3" height="105.0" fill="url(#gp7_8)"/><rect x="437.5" y="240.0" width="2.4" height="105.0" fill="#fff" opacity="0.35"/><rect x="444.6" y="240.0" width="2.4" height="105.0" fill="#fff" opacity="0.35"/><rect x="451.3" y="240.0" width="2.4" height="105.0" fill="#fff" opacity="0.35"/><rect x="458.6" y="240.0" width="2.4" height="105.0" fill="#fff" opacity="0.35"/><rect x="465.2" y="240.0" width="2.4" height="105.0" fill="#fff" opacity="0.35"/><rect x="472.5" y="240.0" width="2.4" height="105.0" fill="#fff" opacity="0.35"/><rect x="479.8" y="240.0" width="2.4" height="105.0" fill="#fff" opacity="0.35"/><rect x="486.3" y="240.0" width="2.4" height="105.0" fill="#fff" opacity="0.35"/></g></g></g>
<use href="#wp7" class="wu"/>
<use href="#wp7" class="wg" x="1.3" y="0.6"/>
<use href="#wp7" class="wl"/>
<line x1="431.0" y1="250.5" x2="496.0" y2="250.5" stroke="#8e8e8e" stroke-width="1.2"/>
<line x1="419.5" y1="246.7" x2="494.5" y2="246.7" stroke="#8e8e8e" stroke-width="1.2"/>
<path d="M431.0,279.3 L455.0,279.3" fill="none" stroke="#a6d23c" stroke-width="1.6"/>
<path d="M459.0,275.0 L466.0,272.0 L481.0,270.0 L486.0,272.0 L490.0,276.0 L497.0,278.0" fill="none" stroke="#a6d23c" stroke-width="1.6"/>
<line x1="417.7" y1="240.2" x2="515.6" y2="240.2" stroke="#505050" stroke-width="1.1"/>
<rect x="417.7" y="198.7" width="97.9" height="147.0" fill="none" stroke="#7a7a7a" stroke-width="1.25"/>
<line x1="508.6" y1="345.7" x2="508.6" y2="344.2" stroke="#777" stroke-width="0.8"/>
<line x1="508.6" y1="198.7" x2="508.6" y2="200.2" stroke="#777" stroke-width="0.8"/>
<line x1="473.6" y1="345.7" x2="473.6" y2="344.2" stroke="#777" stroke-width="0.8"/>
<line x1="473.6" y1="198.7" x2="473.6" y2="200.2" stroke="#777" stroke-width="0.8"/>
<line x1="438.6" y1="345.7" x2="438.6" y2="344.2" stroke="#777" stroke-width="0.8"/>
<line x1="438.6" y1="198.7" x2="438.6" y2="200.2" stroke="#777" stroke-width="0.8"/>
<line x1="417.7" y1="254.0" x2="419.2" y2="254.0" stroke="#777" stroke-width="0.8"/>
<line x1="417.7" y1="268.0" x2="419.2" y2="268.0" stroke="#777" stroke-width="0.8"/>
<line x1="417.7" y1="282.0" x2="419.2" y2="282.0" stroke="#777" stroke-width="0.8"/>
<line x1="417.7" y1="296.0" x2="419.2" y2="296.0" stroke="#777" stroke-width="0.8"/>
<line x1="417.7" y1="310.0" x2="419.2" y2="310.0" stroke="#777" stroke-width="0.8"/>
<line x1="417.7" y1="324.0" x2="419.2" y2="324.0" stroke="#777" stroke-width="0.8"/>
<line x1="417.7" y1="338.0" x2="419.2" y2="338.0" stroke="#777" stroke-width="0.8"/>
<text x="438.6" y="359.1" font-size="12" text-anchor="middle">100</text>
<text x="473.6" y="359.1" font-size="12" text-anchor="middle">50</text>
<text x="508.6" y="359.1" font-size="12" text-anchor="middle">0</text>
<text x="515.2" y="357.0" font-size="8" class="ns">S</text>
<text x="418.0" y="357.0" font-size="8" class="ns" text-anchor="end">N</text>
<text x="467.6" y="370.4" font-size="12.4" text-anchor="middle">Distance (km)</text>
<text x="509.3" y="210.0" font-size="11" text-anchor="end">4H</text>
<path d="M40.0,440.5 L40.0,426.2 L50.0,425.5 L55.0,423.5 L59.6,422.3 L64.0,423.5 L72.0,424.5 L82.0,424.6 L92.0,424.2 L100.0,424.8 L110.0,425.2 L120.0,424.6 L130.0,424.3 L138.3,424.6 L138.3,440.5 Z" fill="#d9dbd8" stroke="none"/>
<path d="M40.0,426.2 L50.0,425.5 L55.0,423.5 L59.6,422.3 L64.0,423.5 L72.0,424.5 L82.0,424.6 L92.0,424.2 L100.0,424.8 L110.0,425.2 L120.0,424.6 L130.0,424.3 L138.3,424.6" fill="none" stroke="#3c3c3c" stroke-width="1.0"/>
<path d="M57.2,423.5 L62.0,423.5 L59.6,419.3 Z" fill="#2841b4"/>
<path d="M66.0,425.2 L70.8,425.2 L68.4,421.1 Z" fill="#2841b4"/>
<path d="M76.4,425.8 L81.2,425.8 L78.8,421.6 Z" fill="#2841b4"/>
<path d="M84.6,425.6 L89.4,425.6 L87.0,421.4 Z" fill="#2841b4"/>
<path d="M91.5,425.5 L96.3,425.5 L93.9,421.3 Z" fill="#2841b4"/>
<path d="M94.4,425.8 L99.2,425.8 L96.8,421.6 Z" fill="#2841b4"/>
<path d="M102.6,426.2 L107.4,426.2 L105.0,422.0 Z" fill="#2841b4"/>
<line x1="42.0" y1="454.5" x2="137.3" y2="454.5" stroke="#cbcbcb" stroke-width="0.8" stroke-dasharray="1,2"/>
<line x1="42.0" y1="468.5" x2="137.3" y2="468.5" stroke="#cbcbcb" stroke-width="0.8" stroke-dasharray="1,2"/>
<line x1="42.0" y1="482.5" x2="137.3" y2="482.5" stroke="#cbcbcb" stroke-width="0.8" stroke-dasharray="1,2"/>
<line x1="42.0" y1="496.5" x2="137.3" y2="496.5" stroke="#cbcbcb" stroke-width="0.8" stroke-dasharray="1,2"/>
<line x1="42.0" y1="510.5" x2="137.3" y2="510.5" stroke="#cbcbcb" stroke-width="0.8" stroke-dasharray="1,2"/>
<line x1="42.0" y1="524.5" x2="137.3" y2="524.5" stroke="#cbcbcb" stroke-width="0.8" stroke-dasharray="1,2"/>
<line x1="42.0" y1="538.5" x2="137.3" y2="538.5" stroke="#cbcbcb" stroke-width="0.8" stroke-dasharray="1,2"/>
<g clip-path="url(#cpp8)"><g><g filter="url(#hb)"><rect x="57.8" y="440.5" width="9.8" height="105.0" fill="url(#gp8_0)"/><rect x="67.3" y="440.5" width="7.6" height="105.0" fill="url(#gp8_1)"/><rect x="74.6" y="440.5" width="7.6" height="105.0" fill="url(#gp8_2)"/><rect x="81.9" y="440.5" width="7.4" height="105.0" fill="url(#gp8_3)"/><rect x="89.0" y="440.5" width="7.1" height="105.0" fill="url(#gp8_4)"/><rect x="95.8" y="440.5" width="7.6" height="105.0" fill="url(#gp8_5)"/><rect x="103.1" y="440.5" width="9.8" height="105.0" fill="url(#gp8_6)"/><rect x="66.1" y="440.5" width="2.4" height="105.0" fill="#fff" opacity="0.35"/><rect x="73.4" y="440.5" width="2.4" height="105.0" fill="#fff" opacity="0.35"/><rect x="80.7" y="440.5" width="2.4" height="105.0" fill="#fff" opacity="0.35"/><rect x="87.8" y="440.5" width="2.4" height="105.0" fill="#fff" opacity="0.35"/><rect x="94.6" y="440.5" width="2.4" height="105.0" fill="#fff" opacity="0.35"/><rect x="101.9" y="440.5" width="2.4" height="105.0" fill="#fff" opacity="0.35"/></g></g></g>
<use href="#wp8" class="wu"/>
<use href="#wp8" class="wg" x="1.3" y="0.6"/>
<use href="#wp8" class="wl"/>
<line x1="61.0" y1="455.0" x2="118.0" y2="455.0" stroke="#8e8e8e" stroke-width="1.2"/>
<line x1="52.5" y1="446.0" x2="109.6" y2="446.0" stroke="#8e8e8e" stroke-width="1.2"/>
<path d="M61.0,479.3 L100.0,479.3 L104.0,478.5 L108.0,477.5 L118.0,478.0" fill="none" stroke="#a6d23c" stroke-width="1.6"/>
<line x1="40.0" y1="440.7" x2="138.3" y2="440.7" stroke="#505050" stroke-width="1.1"/>
<rect x="40.0" y="399.0" width="98.3" height="147.0" fill="none" stroke="#7a7a7a" stroke-width="1.25"/>
<line x1="131.3" y1="546.0" x2="131.3" y2="544.5" stroke="#777" stroke-width="0.8"/>
<line x1="131.3" y1="399.0" x2="131.3" y2="400.5" stroke="#777" stroke-width="0.8"/>
<line x1="96.3" y1="546.0" x2="96.3" y2="544.5" stroke="#777" stroke-width="0.8"/>
<line x1="96.3" y1="399.0" x2="96.3" y2="400.5" stroke="#777" stroke-width="0.8"/>
<line x1="61.3" y1="546.0" x2="61.3" y2="544.5" stroke="#777" stroke-width="0.8"/>
<line x1="61.3" y1="399.0" x2="61.3" y2="400.5" stroke="#777" stroke-width="0.8"/>
<line x1="40.0" y1="454.5" x2="41.5" y2="454.5" stroke="#777" stroke-width="0.8"/>
<line x1="40.0" y1="468.5" x2="41.5" y2="468.5" stroke="#777" stroke-width="0.8"/>
<line x1="40.0" y1="482.5" x2="41.5" y2="482.5" stroke="#777" stroke-width="0.8"/>
<line x1="40.0" y1="496.5" x2="41.5" y2="496.5" stroke="#777" stroke-width="0.8"/>
<line x1="40.0" y1="510.5" x2="41.5" y2="510.5" stroke="#777" stroke-width="0.8"/>
<line x1="40.0" y1="524.5" x2="41.5" y2="524.5" stroke="#777" stroke-width="0.8"/>
<line x1="40.0" y1="538.5" x2="41.5" y2="538.5" stroke="#777" stroke-width="0.8"/>
<text x="61.3" y="559.4" font-size="12" text-anchor="middle">100</text>
<text x="96.3" y="559.4" font-size="12" text-anchor="middle">50</text>
<text x="131.3" y="559.4" font-size="12" text-anchor="middle">0</text>
<text x="137.9" y="557.3" font-size="8" class="ns">S</text>
<text x="40.3" y="557.3" font-size="8" class="ns" text-anchor="end">N</text>
<text x="90.2" y="570.7" font-size="12.4" text-anchor="middle">Distance (km)</text>
<text x="129.8" y="411.0" font-size="11" text-anchor="end">4I</text>
<path d="M165.8,440.9 L165.8,427.3 L172.0,426.3 L180.0,424.8 L187.5,423.6 L195.0,425.0 L205.0,425.5 L213.0,424.6 L222.0,424.8 L230.0,424.3 L240.0,425.0 L250.0,424.6 L263.8,425.2 L263.8,440.9 Z" fill="#d9dbd8" stroke="none"/>
<path d="M165.8,427.3 L172.0,426.3 L180.0,424.8 L187.5,423.6 L195.0,425.0 L205.0,425.5 L213.0,424.6 L222.0,424.8 L230.0,424.3 L240.0,425.0 L250.0,424.6 L263.8,425.2" fill="none" stroke="#3c3c3c" stroke-width="1.0"/>
<path d="M191.4,426.0 L196.2,426.0 L193.8,421.8 Z" fill="#2841b4"/>
<path d="M193.6,426.2 L198.4,426.2 L196.0,422.1 Z" fill="#2841b4"/>
<path d="M210.6,425.8 L215.4,425.8 L213.0,421.6 Z" fill="#2841b4"/>
<path d="M217.9,426.0 L222.7,426.0 L220.3,421.8 Z" fill="#2841b4"/>
<line x1="167.8" y1="454.9" x2="262.8" y2="454.9" stroke="#cbcbcb" stroke-width="0.8" stroke-dasharray="1,2"/>
<line x1="167.8" y1="468.9" x2="262.8" y2="468.9" stroke="#cbcbcb" stroke-width="0.8" stroke-dasharray="1,2"/>
<line x1="167.8" y1="482.9" x2="262.8" y2="482.9" stroke="#cbcbcb" stroke-width="0.8" stroke-dasharray="1,2"/>
<line x1="167.8" y1="496.9" x2="262.8" y2="496.9" stroke="#cbcbcb" stroke-width="0.8" stroke-dasharray="1,2"/>
<line x1="167.8" y1="510.9" x2="262.8" y2="510.9" stroke="#cbcbcb" stroke-width="0.8" stroke-dasharray="1,2"/>
<line x1="167.8" y1="524.9" x2="262.8" y2="524.9" stroke="#cbcbcb" stroke-width="0.8" stroke-dasharray="1,2"/>
<line x1="167.8" y1="538.9" x2="262.8" y2="538.9" stroke="#cbcbcb" stroke-width="0.8" stroke-dasharray="1,2"/>
<g clip-path="url(#cpp9)"><g mask="url(#mkp9)"><g filter="url(#hb)"><rect x="184.1" y="440.9" width="10.0" height="105.0" fill="url(#gp9_0)"/><rect x="193.8" y="440.9" width="7.1" height="105.0" fill="url(#gp9_1)"/><rect x="200.6" y="440.9" width="7.4" height="105.0" fill="url(#gp9_2)"/><rect x="207.7" y="440.9" width="7.2" height="105.0" fill="url(#gp9_3)"/><rect x="214.6" y="440.9" width="6.9" height="105.0" fill="url(#gp9_4)"/><rect x="221.2" y="440.9" width="10.2" height="105.0" fill="url(#gp9_5)"/><rect x="192.6" y="440.9" width="2.4" height="105.0" fill="#fff" opacity="0.35"/><rect x="199.4" y="440.9" width="2.4" height="105.0" fill="#fff" opacity="0.35"/><rect x="206.5" y="440.9" width="2.4" height="105.0" fill="#fff" opacity="0.35"/><rect x="213.4" y="440.9" width="2.4" height="105.0" fill="#fff" opacity="0.35"/><rect x="220.0" y="440.9" width="2.4" height="105.0" fill="#fff" opacity="0.35"/></g></g></g>
<use href="#wp9" class="wu"/>
<use href="#wp9" class="wg" x="1.3" y="0.6"/>
<use href="#wp9" class="wl"/>
<line x1="187.0" y1="456.3" x2="233.0" y2="456.3" stroke="#8e8e8e" stroke-width="1.2"/>
<line x1="171.4" y1="450.0" x2="228.1" y2="450.0" stroke="#8e8e8e" stroke-width="1.2"/>
<path d="M187.0,479.9 L232.0,483.8" fill="none" stroke="#a6d23c" stroke-width="1.6"/>
<line x1="165.8" y1="441.1" x2="263.8" y2="441.1" stroke="#505050" stroke-width="1.1"/>
<rect x="165.8" y="399.5" width="98.0" height="146.7" fill="none" stroke="#7a7a7a" stroke-width="1.25"/>
<line x1="256.8" y1="546.2" x2="256.8" y2="544.7" stroke="#777" stroke-width="0.8"/>
<line x1="256.8" y1="399.5" x2="256.8" y2="401.0" stroke="#777" stroke-width="0.8"/>
<line x1="221.8" y1="546.2" x2="221.8" y2="544.7" stroke="#777" stroke-width="0.8"/>
<line x1="221.8" y1="399.5" x2="221.8" y2="401.0" stroke="#777" stroke-width="0.8"/>
<line x1="186.8" y1="546.2" x2="186.8" y2="544.7" stroke="#777" stroke-width="0.8"/>
<line x1="186.8" y1="399.5" x2="186.8" y2="401.0" stroke="#777" stroke-width="0.8"/>
<line x1="165.8" y1="454.9" x2="167.3" y2="454.9" stroke="#777" stroke-width="0.8"/>
<line x1="165.8" y1="468.9" x2="167.3" y2="468.9" stroke="#777" stroke-width="0.8"/>
<line x1="165.8" y1="482.9" x2="167.3" y2="482.9" stroke="#777" stroke-width="0.8"/>
<line x1="165.8" y1="496.9" x2="167.3" y2="496.9" stroke="#777" stroke-width="0.8"/>
<line x1="165.8" y1="510.9" x2="167.3" y2="510.9" stroke="#777" stroke-width="0.8"/>
<line x1="165.8" y1="524.9" x2="167.3" y2="524.9" stroke="#777" stroke-width="0.8"/>
<line x1="165.8" y1="538.9" x2="167.3" y2="538.9" stroke="#777" stroke-width="0.8"/>
<text x="186.8" y="559.6" font-size="12" text-anchor="middle">100</text>
<text x="221.8" y="559.6" font-size="12" text-anchor="middle">50</text>
<text x="256.8" y="559.6" font-size="12" text-anchor="middle">0</text>
<text x="263.4" y="557.5" font-size="8" class="ns">S</text>
<text x="166.1" y="557.5" font-size="8" class="ns" text-anchor="end">N</text>
<text x="215.8" y="570.9" font-size="12.4" text-anchor="middle">Distance (km)</text>
<text x="258.5" y="411.6" font-size="11" text-anchor="end">4J</text>
<path d="M291.8,440.9 L291.8,426.7 L305.0,426.3 L318.0,425.3 L330.0,425.0 L340.0,425.2 L350.0,424.6 L360.0,425.2 L370.0,425.0 L380.0,425.0 L389.6,425.0 L389.6,440.9 Z" fill="#d9dbd8" stroke="none"/>
<path d="M291.8,426.7 L305.0,426.3 L318.0,425.3 L330.0,425.0 L340.0,425.2 L350.0,424.6 L360.0,425.2 L370.0,425.0 L380.0,425.0 L389.6,425.0" fill="none" stroke="#3c3c3c" stroke-width="1.0"/>
<path d="M319.4,426.4 L324.2,426.4 L321.8,422.2 Z" fill="#2841b4"/>
<path d="M344.1,426.0 L348.9,426.0 L346.5,421.8 Z" fill="#2841b4"/>
<line x1="293.8" y1="454.9" x2="388.6" y2="454.9" stroke="#cbcbcb" stroke-width="0.8" stroke-dasharray="1,2"/>
<line x1="293.8" y1="468.9" x2="388.6" y2="468.9" stroke="#cbcbcb" stroke-width="0.8" stroke-dasharray="1,2"/>
<line x1="293.8" y1="482.9" x2="388.6" y2="482.9" stroke="#cbcbcb" stroke-width="0.8" stroke-dasharray="1,2"/>
<line x1="293.8" y1="496.9" x2="388.6" y2="496.9" stroke="#cbcbcb" stroke-width="0.8" stroke-dasharray="1,2"/>
<line x1="293.8" y1="510.9" x2="388.6" y2="510.9" stroke="#cbcbcb" stroke-width="0.8" stroke-dasharray="1,2"/>
<line x1="293.8" y1="524.9" x2="388.6" y2="524.9" stroke="#cbcbcb" stroke-width="0.8" stroke-dasharray="1,2"/>
<line x1="293.8" y1="538.9" x2="388.6" y2="538.9" stroke="#cbcbcb" stroke-width="0.8" stroke-dasharray="1,2"/>
<g clip-path="url(#cpp10)"><g mask="url(#mkp10)"><g filter="url(#hb)"><rect x="317.0" y="440.9" width="13.3" height="105.0" fill="url(#gp10_0)"/></g></g></g>
<use href="#wp10" class="wu"/>
<use href="#wp10" class="wg" x="1.3" y="0.6"/>
<use href="#wp10" class="wl" style="stroke:#4a4f66"/>
<path d="M350.0,483.5 L355.0,484.0" fill="none" stroke="#a6d23c" stroke-width="1.6"/>
<line x1="291.8" y1="441.1" x2="389.6" y2="441.1" stroke="#505050" stroke-width="1.1"/>
<rect x="291.8" y="399.5" width="97.8" height="146.7" fill="none" stroke="#7a7a7a" stroke-width="1.25"/>
<line x1="382.6" y1="546.2" x2="382.6" y2="544.7" stroke="#777" stroke-width="0.8"/>
<line x1="382.6" y1="399.5" x2="382.6" y2="401.0" stroke="#777" stroke-width="0.8"/>
<line x1="347.6" y1="546.2" x2="347.6" y2="544.7" stroke="#777" stroke-width="0.8"/>
<line x1="347.6" y1="399.5" x2="347.6" y2="401.0" stroke="#777" stroke-width="0.8"/>
<line x1="312.6" y1="546.2" x2="312.6" y2="544.7" stroke="#777" stroke-width="0.8"/>
<line x1="312.6" y1="399.5" x2="312.6" y2="401.0" stroke="#777" stroke-width="0.8"/>
<line x1="291.8" y1="454.9" x2="293.3" y2="454.9" stroke="#777" stroke-width="0.8"/>
<line x1="291.8" y1="468.9" x2="293.3" y2="468.9" stroke="#777" stroke-width="0.8"/>
<line x1="291.8" y1="482.9" x2="293.3" y2="482.9" stroke="#777" stroke-width="0.8"/>
<line x1="291.8" y1="496.9" x2="293.3" y2="496.9" stroke="#777" stroke-width="0.8"/>
<line x1="291.8" y1="510.9" x2="293.3" y2="510.9" stroke="#777" stroke-width="0.8"/>
<line x1="291.8" y1="524.9" x2="293.3" y2="524.9" stroke="#777" stroke-width="0.8"/>
<line x1="291.8" y1="538.9" x2="293.3" y2="538.9" stroke="#777" stroke-width="0.8"/>
<text x="312.6" y="559.6" font-size="12" text-anchor="middle">100</text>
<text x="347.6" y="559.6" font-size="12" text-anchor="middle">50</text>
<text x="382.6" y="559.6" font-size="12" text-anchor="middle">0</text>
<text x="389.2" y="557.5" font-size="8" class="ns">S</text>
<text x="292.1" y="557.5" font-size="8" class="ns" text-anchor="end">N</text>
<text x="341.7" y="570.9" font-size="12.4" text-anchor="middle">Distance (km)</text>
<text x="385.8" y="411.5" font-size="11" text-anchor="end">4K</text>
<text x="36.6" y="47.6" font-size="12" text-anchor="end">0</text>
<text x="36.6" y="61.6" font-size="12" text-anchor="end">20</text>
<text x="36.6" y="75.6" font-size="12" text-anchor="end">40</text>
<text x="36.6" y="89.6" font-size="12" text-anchor="end">60</text>
<text x="36.6" y="103.6" font-size="12" text-anchor="end">80</text>
<text x="36.6" y="117.6" font-size="12" text-anchor="end">100</text>
<text x="36.6" y="131.6" font-size="12" text-anchor="end">120</text>
<text x="36.6" y="145.6" font-size="12" text-anchor="end">140</text>
<text x="36.4" y="28.9" font-size="11" text-anchor="end">- 4</text>
<text transform="translate(11,73.3) rotate(-90)" font-size="12.3" text-anchor="middle">Depth (km)</text>
<text x="36.6" y="246.2" font-size="12" text-anchor="end">0</text>
<text x="36.6" y="260.2" font-size="12" text-anchor="end">20</text>
<text x="36.6" y="274.2" font-size="12" text-anchor="end">40</text>
<text x="36.6" y="288.2" font-size="12" text-anchor="end">60</text>
<text x="36.6" y="302.2" font-size="12" text-anchor="end">80</text>
<text x="36.6" y="316.2" font-size="12" text-anchor="end">100</text>
<text x="36.6" y="330.2" font-size="12" text-anchor="end">120</text>
<text x="36.6" y="344.2" font-size="12" text-anchor="end">140</text>
<text transform="translate(11,271.0) rotate(-90)" font-size="12.3" text-anchor="middle">Depth (km)</text>
<text x="36.6" y="446.1" font-size="12" text-anchor="end">0</text>
<text x="36.6" y="460.1" font-size="12" text-anchor="end">20</text>
<text x="36.6" y="474.1" font-size="12" text-anchor="end">40</text>
<text x="36.6" y="488.1" font-size="12" text-anchor="end">60</text>
<text x="36.6" y="502.1" font-size="12" text-anchor="end">80</text>
<text x="36.6" y="516.1" font-size="12" text-anchor="end">100</text>
<text x="36.6" y="530.1" font-size="12" text-anchor="end">120</text>
<text x="36.6" y="544.1" font-size="12" text-anchor="end">140</text>
<text transform="translate(11,473.8) rotate(-90)" font-size="12.3" text-anchor="middle">Depth (km)</text>
</svg>
</body></html>
